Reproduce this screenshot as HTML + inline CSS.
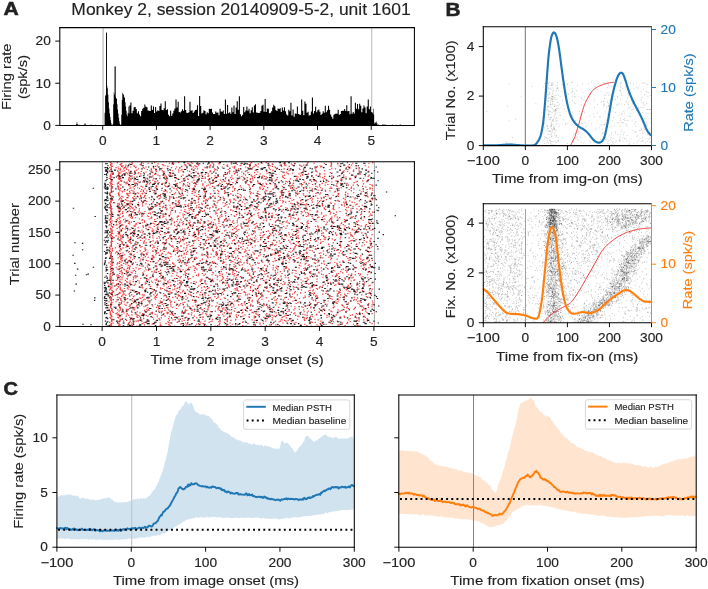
<!DOCTYPE html>
<html><head><meta charset="utf-8"><title>Figure</title>
<style>html,body{margin:0;padding:0;background:#fff;width:708px;height:589px;overflow:hidden}svg{display:block;font-family:"Liberation Sans",sans-serif;will-change:transform}text{stroke-width:0.13px}</style>
</head><body>
<svg width="708" height="589" viewBox="0 0 708 589" font-family="Liberation Sans, sans-serif" fill="#222222">
<rect x="0" y="0" width="708" height="589" fill="#fff"/>
<line x1="103.1" y1="27.6" x2="103.1" y2="125.4" stroke="#c4c4c4" stroke-width="1.4"/>
<line x1="371.7" y1="27.6" x2="371.7" y2="125.4" stroke="#c4c4c4" stroke-width="1.2"/>
<path d="M69.16 125.4L69.16 125.4 L69.69 125.4L69.69 125.4 L70.23 125.4L70.23 125.4 L70.77 125.4L70.77 125.4 L71.31 125.4L71.31 125.4 L71.84 125.4L71.84 125.4 L72.38 125.4L72.38 125.4 L72.92 125.4L72.92 125.4 L73.45 125.4L73.45 125.4 L73.99 125.4L73.99 125.4 L74.53 125.4L74.53 125.4 L75.06 125.4L75.06 125.4 L75.6 125.4L75.6 125.4 L76.14 125.4L76.14 123.92 L76.68 123.92L76.68 122.03 L77.21 122.03L77.21 124.14 L77.75 124.14L77.75 124.56 L78.29 124.56L78.29 125.4 L78.82 125.4L78.82 124.77 L79.36 124.77L79.36 125.4 L79.9 125.4L79.9 125.4 L80.43 125.4L80.43 125.4 L80.97 125.4L80.97 125.4 L81.51 125.4L81.51 125.4 L82.05 125.4L82.05 125.4 L82.58 125.4L82.58 125.4 L83.12 125.4L83.12 125.4 L83.66 125.4L83.66 125.4 L84.19 125.4L84.19 124.56 L84.73 124.56L84.73 123.08 L85.27 123.08L85.27 124.35 L85.8 124.35L85.8 125.4 L86.34 125.4L86.34 124.98 L86.88 124.98L86.88 125.4 L87.42 125.4L87.42 125.4 L87.95 125.4L87.95 125.4 L88.49 125.4L88.49 125.4 L89.03 125.4L89.03 125.4 L89.56 125.4L89.56 125.4 L90.1 125.4L90.1 124.77 L90.64 124.77L90.64 125.4 L91.17 125.4L91.17 124.56 L91.71 124.56L91.71 124.98 L92.25 124.98L92.25 125.4 L92.79 125.4L92.79 125.4 L93.32 125.4L93.32 125.4 L93.86 125.4L93.86 125.4 L94.4 125.4L94.4 124.89 L94.93 124.89L94.93 125.4 L95.47 125.4L95.47 124.64 L96.01 124.64L96.01 125.4 L96.54 125.4L96.54 125.4 L97.08 125.4L97.08 124.98 L97.62 124.98L97.62 125.4 L98.16 125.4L98.16 125.4 L98.69 125.4L98.69 125.4 L99.23 125.4L99.23 124.98 L99.77 124.98L99.77 125.4 L100.3 125.4L100.3 125.4 L100.84 125.4L100.84 125.4 L101.38 125.4L101.38 124.89 L101.91 124.89L101.91 125.4 L102.45 125.4L102.45 125.4 L102.99 125.4L102.99 125.4 L103.53 125.4L103.53 125.4 L104.06 125.4L104.06 125.4 L104.6 125.4L104.6 112.76 L105.14 112.76L105.14 95.05 L105.67 95.05L105.67 95.9 L106.21 95.9L106.21 32.67 L106.75 32.67L106.75 85.78 L107.28 85.78L107.28 88.31 L107.82 88.31L107.82 94.63 L108.36 94.63L108.36 102.22 L108.9 102.22L108.9 108.54 L109.43 108.54L109.43 113.6 L109.97 113.6L109.97 116.97 L110.51 116.97L110.51 120.34 L111.04 120.34L111.04 123.29 L111.58 123.29L111.58 124.98 L112.12 124.98L112.12 125.4 L112.65 125.4L112.65 123.71 L113.19 123.71L113.19 104.33 L113.73 104.33L113.73 92.52 L114.27 92.52L114.27 94.63 L114.8 94.63L114.8 66.39 L115.34 66.39L115.34 96.74 L115.88 96.74L115.88 98 L116.41 98L116.41 98.85 L116.95 98.85L116.95 104.33 L117.49 104.33L117.49 109.38 L118.02 109.38L118.02 113.6 L118.56 113.6L118.56 117.81 L119.1 117.81L119.1 121.19 L119.64 121.19L119.64 123.71 L120.17 123.71L120.17 124.98 L120.71 124.98L120.71 124.56 L121.25 124.56L121.25 114.86 L121.78 114.86L121.78 100.11 L122.32 100.11L122.32 92.94 L122.86 92.94L122.86 93.79 L123.39 93.79L123.39 95.05 L123.93 95.05L123.93 96.74 L124.47 96.74L124.47 98 L125.01 98L125.01 102.22 L125.54 102.22L125.54 106.43 L126.08 106.43L126.08 110.65 L126.62 110.65L126.62 114.44 L127.15 114.44L127.15 116.13 L127.69 116.13L127.69 112.76 L128.23 112.76L128.23 106.43 L128.76 106.43L128.76 113.5 L129.3 113.5L129.3 105.49 L129.84 105.49L129.84 105.49 L130.38 105.49L130.38 102.53 L130.91 102.53L130.91 102.53 L131.45 102.53L131.45 113.23 L131.99 113.23L131.99 113.23 L132.52 113.23L132.52 110.71 L133.06 110.71L133.06 110.71 L133.6 110.71L133.6 107.34 L134.13 107.34L134.13 107.34 L134.67 107.34L134.67 106.96 L135.21 106.96L135.21 106.96 L135.75 106.96L135.75 109.04 L136.28 109.04L136.28 109.04 L136.82 109.04L136.82 113.33 L137.36 113.33L137.36 113.33 L137.89 113.33L137.89 111.33 L138.43 111.33L138.43 111.33 L138.97 111.33L138.97 114.6 L139.5 114.6L139.5 114.6 L140.04 114.6L140.04 116.32 L140.58 116.32L140.58 116.32 L141.12 116.32L141.12 110.94 L141.65 110.94L141.65 110.94 L142.19 110.94L142.19 108.78 L142.73 108.78L142.73 108.78 L143.26 108.78L143.26 107.75 L143.8 107.75L143.8 107.75 L144.34 107.75L144.34 104.57 L144.87 104.57L144.87 104.57 L145.41 104.57L145.41 106.69 L145.95 106.69L145.95 106.69 L146.49 106.69L146.49 107.22 L147.02 107.22L147.02 107.22 L147.56 107.22L147.56 110.62 L148.1 110.62L148.1 110.62 L148.63 110.62L148.63 110.64 L149.17 110.64L149.17 110.64 L149.71 110.64L149.71 111.06 L150.24 111.06L150.24 111.06 L150.78 111.06L150.78 105.38 L151.32 105.38L151.32 105.38 L151.86 105.38L151.86 110.06 L152.39 110.06L152.39 110.06 L152.93 110.06L152.93 106.49 L153.47 106.49L153.47 106.49 L154 106.49L154 113.06 L154.54 113.06L154.54 113.06 L155.08 113.06L155.08 107.05 L155.61 107.05L155.61 107.05 L156.15 107.05L156.15 111.53 L156.69 111.53L156.69 111.53 L157.23 111.53L157.23 110.28 L157.76 110.28L157.76 110.28 L158.3 110.28L158.3 110.9 L158.84 110.9L158.84 110.9 L159.37 110.9L159.37 105.94 L159.91 105.94L159.91 105.94 L160.45 105.94L160.45 103.39 L160.98 103.39L160.98 103.39 L161.52 103.39L161.52 109.96 L162.06 109.96L162.06 109.96 L162.6 109.96L162.6 110.26 L163.13 110.26L163.13 110.26 L163.67 110.26L163.67 108.16 L164.21 108.16L164.21 108.16 L164.74 108.16L164.74 101.2 L165.28 101.2L165.28 101.2 L165.82 101.2L165.82 109.9 L166.35 109.9L166.35 109.9 L166.89 109.9L166.89 109.28 L167.43 109.28L167.43 109.28 L167.97 109.28L167.97 114.86 L168.5 114.86L168.5 114.86 L169.04 114.86L169.04 116.35 L169.58 116.35L169.58 116.35 L170.11 116.35L170.11 110.86 L170.65 110.86L170.65 110.86 L171.19 110.86L171.19 115.74 L171.72 115.74L171.72 115.74 L172.26 115.74L172.26 113.59 L172.8 113.59L172.8 113.59 L173.34 113.59L173.34 110.7 L173.87 110.7L173.87 110.7 L174.41 110.7L174.41 108.51 L174.95 108.51L174.95 108.51 L175.48 108.51L175.48 99.38 L176.02 99.38L176.02 99.38 L176.56 99.38L176.56 107.4 L177.09 107.4L177.09 107.4 L177.63 107.4L177.63 101.81 L178.17 101.81L178.17 101.81 L178.71 101.81L178.71 111.98 L179.24 111.98L179.24 111.98 L179.78 111.98L179.78 112.58 L180.32 112.58L180.32 112.58 L180.85 112.58L180.85 111.29 L181.39 111.29L181.39 111.29 L181.93 111.29L181.93 109.37 L182.46 109.37L182.46 109.37 L183 109.37L183 110.84 L183.54 110.84L183.54 110.84 L184.08 110.84L184.08 96.35 L184.61 96.35L184.61 96.35 L185.15 96.35L185.15 110.08 L185.69 110.08L185.69 110.08 L186.22 110.08L186.22 112.86 L186.76 112.86L186.76 112.86 L187.3 112.86L187.3 113.03 L187.83 113.03L187.83 113.03 L188.37 113.03L188.37 112.22 L188.91 112.22L188.91 112.22 L189.45 112.22L189.45 101.82 L189.98 101.82L189.98 101.82 L190.52 101.82L190.52 110.65 L191.06 110.65L191.06 110.65 L191.59 110.65L191.59 110.29 L192.13 110.29L192.13 110.29 L192.67 110.29L192.67 112.9 L193.2 112.9L193.2 112.9 L193.74 112.9L193.74 111.45 L194.28 111.45L194.28 111.45 L194.82 111.45L194.82 110.02 L195.35 110.02L195.35 110.02 L195.89 110.02L195.89 109.87 L196.43 109.87L196.43 109.87 L196.96 109.87L196.96 105.16 L197.5 105.16L197.5 105.16 L198.04 105.16L198.04 116.06 L198.57 116.06L198.57 116.06 L199.11 116.06L199.11 95.88 L199.65 95.88L199.65 95.88 L200.19 95.88L200.19 106.1 L200.72 106.1L200.72 106.1 L201.26 106.1L201.26 113.5 L201.8 113.5L201.8 113.5 L202.33 113.5L202.33 112.73 L202.87 112.73L202.87 112.73 L203.41 112.73L203.41 110.34 L203.94 110.34L203.94 110.34 L204.48 110.34L204.48 110.89 L205.02 110.89L205.02 110.89 L205.56 110.89L205.56 114.26 L206.09 114.26L206.09 114.26 L206.63 114.26L206.63 112.15 L207.17 112.15L207.17 112.15 L207.7 112.15L207.7 113.26 L208.24 113.26L208.24 113.26 L208.78 113.26L208.78 108.77 L209.31 108.77L209.31 108.77 L209.85 108.77L209.85 108.99 L210.39 108.99L210.39 108.99 L210.93 108.99L210.93 108.74 L211.46 108.74L211.46 108.74 L212 108.74L212 112.53 L212.54 112.53L212.54 112.53 L213.07 112.53L213.07 113.98 L213.61 113.98L213.61 113.98 L214.15 113.98L214.15 114.01 L214.68 114.01L214.68 114.01 L215.22 114.01L215.22 111.54 L215.76 111.54L215.76 111.54 L216.3 111.54L216.3 112.83 L216.83 112.83L216.83 112.83 L217.37 112.83L217.37 112.55 L217.91 112.55L217.91 112.55 L218.44 112.55L218.44 115.37 L218.98 115.37L218.98 115.37 L219.52 115.37L219.52 108.75 L220.05 108.75L220.05 108.75 L220.59 108.75L220.59 111.6 L221.13 111.6L221.13 111.6 L221.67 111.6L221.67 111.64 L222.2 111.64L222.2 111.64 L222.74 111.64L222.74 110.51 L223.28 110.51L223.28 110.51 L223.81 110.51L223.81 114.01 L224.35 114.01L224.35 114.01 L224.89 114.01L224.89 99.6 L225.42 99.6L225.42 99.6 L225.96 99.6L225.96 113.67 L226.5 113.67L226.5 113.67 L227.04 113.67L227.04 104.91 L227.57 104.91L227.57 104.91 L228.11 104.91L228.11 113.2 L228.65 113.2L228.65 113.2 L229.18 113.2L229.18 112.32 L229.72 112.32L229.72 112.32 L230.26 112.32L230.26 113.85 L230.79 113.85L230.79 113.85 L231.33 113.85L231.33 107.44 L231.87 107.44L231.87 107.44 L232.41 107.44L232.41 112.37 L232.94 112.37L232.94 112.37 L233.48 112.37L233.48 105.51 L234.02 105.51L234.02 105.51 L234.55 105.51L234.55 114.09 L235.09 114.09L235.09 114.09 L235.63 114.09L235.63 107.51 L236.16 107.51L236.16 107.51 L236.7 107.51L236.7 101.2 L237.24 101.2L237.24 101.2 L237.78 101.2L237.78 109.75 L238.31 109.75L238.31 109.75 L238.85 109.75L238.85 96.16 L239.39 96.16L239.39 96.16 L239.92 96.16L239.92 114.15 L240.46 114.15L240.46 114.15 L241 114.15L241 116.3 L241.53 116.3L241.53 116.3 L242.07 116.3L242.07 114.79 L242.61 114.79L242.61 114.79 L243.15 114.79L243.15 107 L243.68 107L243.68 107 L244.22 107L244.22 112.31 L244.76 112.31L244.76 112.31 L245.29 112.31L245.29 110.53 L245.83 110.53L245.83 110.53 L246.37 110.53L246.37 106.38 L246.9 106.38L246.9 106.38 L247.44 106.38L247.44 110.83 L247.98 110.83L247.98 110.83 L248.52 110.83L248.52 108.64 L249.05 108.64L249.05 108.64 L249.59 108.64L249.59 113.36 L250.13 113.36L250.13 113.36 L250.66 113.36L250.66 110.36 L251.2 110.36L251.2 110.36 L251.74 110.36L251.74 107.16 L252.27 107.16L252.27 107.16 L252.81 107.16L252.81 112.62 L253.35 112.62L253.35 112.62 L253.89 112.62L253.89 105.45 L254.42 105.45L254.42 105.45 L254.96 105.45L254.96 104.13 L255.5 104.13L255.5 104.13 L256.03 104.13L256.03 112.47 L256.57 112.47L256.57 112.47 L257.11 112.47L257.11 112.65 L257.64 112.65L257.64 112.65 L258.18 112.65L258.18 112.89 L258.72 112.89L258.72 112.89 L259.26 112.89L259.26 112.85 L259.79 112.85L259.79 112.85 L260.33 112.85L260.33 111.05 L260.87 111.05L260.87 111.05 L261.4 111.05L261.4 105.7 L261.94 105.7L261.94 105.7 L262.48 105.7L262.48 104.75 L263.01 104.75L263.01 104.75 L263.55 104.75L263.55 111.66 L264.09 111.66L264.09 111.66 L264.63 111.66L264.63 98.95 L265.16 98.95L265.16 98.95 L265.7 98.95L265.7 111.95 L266.24 111.95L266.24 111.95 L266.77 111.95L266.77 108.57 L267.31 108.57L267.31 108.57 L267.85 108.57L267.85 108.76 L268.38 108.76L268.38 108.76 L268.92 108.76L268.92 113.35 L269.46 113.35L269.46 113.35 L270 113.35L270 112.79 L270.53 112.79L270.53 112.79 L271.07 112.79L271.07 111.37 L271.61 111.37L271.61 111.37 L272.14 111.37L272.14 107.38 L272.68 107.38L272.68 107.38 L273.22 107.38L273.22 104.71 L273.75 104.71L273.75 104.71 L274.29 104.71L274.29 106.33 L274.83 106.33L274.83 106.33 L275.37 106.33L275.37 110.06 L275.9 110.06L275.9 110.06 L276.44 110.06L276.44 110.97 L276.98 110.97L276.98 110.97 L277.51 110.97L277.51 108.6 L278.05 108.6L278.05 108.6 L278.59 108.6L278.59 108.94 L279.12 108.94L279.12 108.94 L279.66 108.94L279.66 108.31 L280.2 108.31L280.2 108.31 L280.74 108.31L280.74 111.91 L281.27 111.91L281.27 111.91 L281.81 111.91L281.81 107.58 L282.35 107.58L282.35 107.58 L282.88 107.58L282.88 110.55 L283.42 110.55L283.42 110.55 L283.96 110.55L283.96 107.19 L284.49 107.19L284.49 107.19 L285.03 107.19L285.03 111.17 L285.57 111.17L285.57 111.17 L286.11 111.17L286.11 114.5 L286.64 114.5L286.64 114.5 L287.18 114.5L287.18 115.52 L287.72 115.52L287.72 115.52 L288.25 115.52L288.25 109.75 L288.79 109.75L288.79 109.75 L289.33 109.75L289.33 111.37 L289.86 111.37L289.86 111.37 L290.4 111.37L290.4 102.85 L290.94 102.85L290.94 102.85 L291.48 102.85L291.48 115.45 L292.01 115.45L292.01 115.45 L292.55 115.45L292.55 109.43 L293.09 109.43L293.09 109.43 L293.62 109.43L293.62 116.85 L294.16 116.85L294.16 116.85 L294.7 116.85L294.7 113.49 L295.23 113.49L295.23 113.49 L295.77 113.49L295.77 113.7 L296.31 113.7L296.31 113.7 L296.85 113.7L296.85 106.44 L297.38 106.44L297.38 106.44 L297.92 106.44L297.92 114.03 L298.46 114.03L298.46 114.03 L298.99 114.03L298.99 114.61 L299.53 114.61L299.53 114.61 L300.07 114.61L300.07 114.65 L300.6 114.65L300.6 114.65 L301.14 114.65L301.14 99.62 L301.68 99.62L301.68 99.62 L302.22 99.62L302.22 110.8 L302.75 110.8L302.75 110.8 L303.29 110.8L303.29 115.14 L303.83 115.14L303.83 115.14 L304.36 115.14L304.36 101.4 L304.9 101.4L304.9 101.4 L305.44 101.4L305.44 103.67 L305.97 103.67L305.97 103.67 L306.51 103.67L306.51 112.7 L307.05 112.7L307.05 112.7 L307.59 112.7L307.59 111.63 L308.12 111.63L308.12 111.63 L308.66 111.63L308.66 115.44 L309.2 115.44L309.2 115.44 L309.73 115.44L309.73 114.91 L310.27 114.91L310.27 114.91 L310.81 114.91L310.81 111.5 L311.34 111.5L311.34 111.5 L311.88 111.5L311.88 97.5 L312.42 97.5L312.42 97.5 L312.96 97.5L312.96 113.46 L313.49 113.46L313.49 113.46 L314.03 113.46L314.03 110.92 L314.57 110.92L314.57 110.92 L315.1 110.92L315.1 106.85 L315.64 106.85L315.64 106.85 L316.18 106.85L316.18 112.15 L316.71 112.15L316.71 112.15 L317.25 112.15L317.25 110.37 L317.79 110.37L317.79 110.37 L318.33 110.37L318.33 109.44 L318.86 109.44L318.86 109.44 L319.4 109.44L319.4 111.81 L319.94 111.81L319.94 111.81 L320.47 111.81L320.47 114.93 L321.01 114.93L321.01 114.93 L321.55 114.93L321.55 113.73 L322.08 113.73L322.08 113.73 L322.62 113.73L322.62 111.3 L323.16 111.3L323.16 111.3 L323.7 111.3L323.7 112.68 L324.23 112.68L324.23 112.68 L324.77 112.68L324.77 105.83 L325.31 105.83L325.31 105.83 L325.84 105.83L325.84 112.2 L326.38 112.2L326.38 112.2 L326.92 112.2L326.92 110.19 L327.45 110.19L327.45 110.19 L327.99 110.19L327.99 105.75 L328.53 105.75L328.53 105.75 L329.07 105.75L329.07 109.8 L329.6 109.8L329.6 109.8 L330.14 109.8L330.14 114.43 L330.68 114.43L330.68 114.43 L331.21 114.43L331.21 116.73 L331.75 116.73L331.75 116.73 L332.29 116.73L332.29 118.66 L332.82 118.66L332.82 118.66 L333.36 118.66L333.36 114.76 L333.9 114.76L333.9 114.76 L334.44 114.76L334.44 114.1 L334.97 114.1L334.97 114.1 L335.51 114.1L335.51 113.4 L336.05 113.4L336.05 113.4 L336.58 113.4L336.58 113.85 L337.12 113.85L337.12 113.85 L337.66 113.85L337.66 109.69 L338.19 109.69L338.19 109.69 L338.73 109.69L338.73 114.77 L339.27 114.77L339.27 114.77 L339.81 114.77L339.81 114.02 L340.34 114.02L340.34 114.02 L340.88 114.02L340.88 111.02 L341.42 111.02L341.42 111.02 L341.95 111.02L341.95 110.77 L342.49 110.77L342.49 110.77 L343.03 110.77L343.03 110.73 L343.56 110.73L343.56 110.73 L344.1 110.73L344.1 109.08 L344.64 109.08L344.64 109.08 L345.18 109.08L345.18 111.07 L345.71 111.07L345.71 111.07 L346.25 111.07L346.25 105.31 L346.79 105.31L346.79 105.31 L347.32 105.31L347.32 111.26 L347.86 111.26L347.86 111.26 L348.4 111.26L348.4 110.93 L348.93 110.93L348.93 110.93 L349.47 110.93L349.47 114.18 L350.01 114.18L350.01 114.18 L350.55 114.18L350.55 96.16 L351.08 96.16L351.08 96.16 L351.62 96.16L351.62 113.74 L352.16 113.74L352.16 113.74 L352.69 113.74L352.69 112.12 L353.23 112.12L353.23 112.12 L353.77 112.12L353.77 113.61 L354.3 113.61L354.3 113.61 L354.84 113.61L354.84 102.77 L355.38 102.77L355.38 102.77 L355.92 102.77L355.92 108.7 L356.45 108.7L356.45 108.7 L356.99 108.7L356.99 103.9 L357.53 103.9L357.53 103.9 L358.06 103.9L358.06 109.25 L358.6 109.25L358.6 109.25 L359.14 109.25L359.14 103.81 L359.67 103.81L359.67 103.81 L360.21 103.81L360.21 105.76 L360.75 105.76L360.75 105.76 L361.29 105.76L361.29 112.23 L361.82 112.23L361.82 112.23 L362.36 112.23L362.36 108.55 L362.9 108.55L362.9 108.55 L363.43 108.55L363.43 105.52 L363.97 105.52L363.97 105.52 L364.51 105.52L364.51 107.52 L365.04 107.52L365.04 107.52 L365.58 107.52L365.58 113.2 L366.12 113.2L366.12 113.2 L366.66 113.2L366.66 106.47 L367.19 106.47L367.19 106.47 L367.73 106.47L367.73 99.48 L368.27 99.48L368.27 99.48 L368.8 99.48L368.8 109.25 L369.34 109.25L369.34 109.25 L369.88 109.25L369.88 106.61 L370.41 106.61L370.41 106.61 L370.95 106.61L370.95 112.14 L371.49 112.14L371.49 112.01 L372.03 112.01L372.03 112.23 L372.56 112.23L372.56 113.35 L373.1 113.35L373.1 108.84 L373.64 108.84L373.64 114.43 L374.17 114.43L374.17 123.87 L374.71 123.87L374.71 122.32 L375.25 122.32L375.25 122.57 L375.78 122.57L375.78 123.62 L376.32 123.62L376.32 121.4 L376.86 121.4L376.86 123.18 L377.4 123.18L377.4 125.4 L377.93 125.4L377.93 124.23 L378.47 124.23L378.47 125.4 L379.01 125.4L379.01 125.4 L379.54 125.4L379.54 125.4 L380.08 125.4L380.08 125.4 L380.62 125.4L380.62 125.4 L381.15 125.4L381.15 125.4 L381.69 125.4L381.69 125.4 L382.23 125.4L382.23 124.6 L382.77 124.6L382.77 124.17 L383.3 124.17L383.3 124.7 L383.84 124.7L383.84 125.4 L384.38 125.4L384.38 124.56 L384.91 124.56L384.91 124.22 L385.45 124.22L385.45 125.4 L385.99 125.4L385.99 125.4 L386.52 125.4L386.52 125.4 L387.06 125.4L387.06 125.4 L387.6 125.4L387.6 125.4 L388.14 125.4L388.14 125.4 L388.67 125.4L388.67 125.4 L389.21 125.4L389.21 125.4 L389.75 125.4L389.75 125.4 L390.28 125.4L390.28 125.4 L390.82 125.4L390.82 125.4 L391.36 125.4L391.36 125.4 L391.89 125.4L391.89 124.25 L392.43 124.25L392.43 125.4 L392.97 125.4L392.97 125.4 L393.51 125.4L393.51 125.4 L394.04 125.4L394.04 125.4 L394.58 125.4L394.58 125.4 L395.12 125.4L395.12 125.4 L395.65 125.4L395.65 125.4 L396.19 125.4L396.19 124.69 L396.73 124.69L396.73 125.4 L397.26 125.4L397.26 125.4 L397.8 125.4L397.8 125.4 L398.34 125.4L398.34 125.4 L398.88 125.4L398.88 124.73 L399.41 124.73L399.41 125.4 L399.95 125.4L399.95 124.2 L400.49 124.2L400.49 125.4 L401.02 125.4L401.02 125.4 Z" fill="#000" stroke="none"/>
<line x1="106.5" y1="125.4" x2="106.5" y2="32.67" stroke="#000" stroke-width="0.85"/>
<line x1="115.15" y1="125.4" x2="115.15" y2="66.39" stroke="#000" stroke-width="0.85"/>
<line x1="102.4" y1="161.7" x2="102.4" y2="326.4" stroke="#a8a8a8" stroke-width="1"/>
<line x1="374.4" y1="161.7" x2="374.4" y2="326.4" stroke="#a8a8a8" stroke-width="1"/>
<path d="M111 326.1h1.3M118.3 326.1h1.3M122.7 326.1h1.3M130.2 326.1h1.3M136.3 326.1h1.3M148.4 326.1h1.3M159.2 326.1h1.3M174.2 326.1h1.3M185.1 326.1h1.3M206 326.1h1.3M214.6 326.1h1.3M229.9 326.1h1.3M236.6 326.1h1.3M245.5 326.1h1.3M260.6 326.1h1.3M270.4 326.1h1.3M292 326.1h1.3M310.4 326.1h1.3M317.7 326.1h1.3M338.6 326.1h1.3M357.7 326.1h1.3M109.3 325.5h1.3M118.2 325.5h1.3M131.8 325.5h1.3M160.2 325.5h1.3M169.4 325.5h1.3M194.9 325.5h1.3M203.7 325.5h1.3M216.9 325.5h1.3M226 325.5h1.3M242.1 325.5h1.3M254.7 325.5h1.3M265.8 325.5h1.3M279 325.5h1.3M306.3 325.5h1.3M344.5 325.5h1.3M357.2 325.5h1.3M110.5 324.8h1.3M119.4 324.8h1.3M127 324.8h1.3M130.6 324.8h1.3M143.8 324.8h1.3M159.8 324.8h1.3M168.2 324.8h1.3M186.2 324.8h1.3M218.5 324.8h1.3M235 324.8h1.3M253.2 324.8h1.3M269.1 324.8h1.3M275.2 324.8h1.3M300.2 324.8h1.3M316.4 324.8h1.3M337.5 324.8h1.3M356.2 324.8h1.3M109.6 324.2h1.3M118.6 324.2h1.3M132.8 324.2h1.3M151.4 324.2h1.3M168.4 324.2h1.3M180.2 324.2h1.3M183.2 324.2h1.3M190.5 324.2h1.3M196.1 324.2h1.3M203.9 324.2h1.3M231.8 324.2h1.3M254.8 324.2h1.3M259.3 324.2h1.3M277.2 324.2h1.3M294.4 324.2h1.3M304 324.2h1.3M325.4 324.2h1.3M339.5 324.2h1.3M352.9 324.2h1.3M110.9 323.6h1.3M118.2 323.6h1.3M127.8 323.6h1.3M132.5 323.6h1.3M141.6 323.6h1.3M152.3 323.6h1.3M165.5 323.6h1.3M180.7 323.6h1.3M187 323.6h1.3M198 323.6h1.3M202.5 323.6h1.3M219.1 323.6h1.3M247.3 323.6h1.3M262.8 323.6h1.3M272.4 323.6h1.3M286.9 323.6h1.3M309.2 323.6h1.3M319.6 323.6h1.3M321.9 323.6h1.3M331.7 323.6h1.3M346.4 323.6h1.3M371.5 323.6h1.3M112.4 323h1.3M123.2 323h1.3M128.1 323h1.3M131.1 323h1.3M143 323h1.3M154.4 323h1.3M159.5 323h1.3M169.4 323h1.3M185.1 323h1.3M200.2 323h1.3M219.2 323h1.3M229.4 323h1.3M259.3 323h1.3M282.2 323h1.3M293.3 323h1.3M309.4 323h1.3M330.2 323h1.3M341.8 323h1.3M109.1 322.3h1.3M117 322.3h1.3M128.8 322.3h1.3M133 322.3h1.3M145.8 322.3h1.3M168.1 322.3h1.3M176.6 322.3h1.3M187.1 322.3h1.3M208.5 322.3h1.3M223.8 322.3h1.3M241.9 322.3h1.3M255.8 322.3h1.3M295.3 322.3h1.3M311.6 322.3h1.3M314.7 322.3h1.3M346.8 322.3h1.3M369.3 322.3h1.3M110.9 321.7h1.3M117.5 321.7h1.3M129.6 321.7h1.3M137.5 321.7h1.3M146.2 321.7h1.3M167.2 321.7h1.3M177.4 321.7h1.3M199.2 321.7h1.3M210.3 321.7h1.3M218 321.7h1.3M226.7 321.7h1.3M242.6 321.7h1.3M262.7 321.7h1.3M278.5 321.7h1.3M291.3 321.7h1.3M310.3 321.7h1.3M332.9 321.7h1.3M339.1 321.7h1.3M349.7 321.7h1.3M355.6 321.7h1.3M111.2 321.1h1.3M117 321.1h1.3M122.9 321.1h1.3M135.5 321.1h1.3M141.1 321.1h1.3M148.4 321.1h1.3M155.3 321.1h1.3M181.4 321.1h1.3M204.3 321.1h1.3M211.5 321.1h1.3M219.4 321.1h1.3M226.5 321.1h1.3M244.7 321.1h1.3M265.2 321.1h1.3M274.8 321.1h1.3M279.8 321.1h1.3M285.4 321.1h1.3M290.6 321.1h1.3M308.9 321.1h1.3M320.2 321.1h1.3M336.8 321.1h1.3M358.4 321.1h1.3M366.6 321.1h1.3M111.1 320.4h1.3M119.3 320.4h1.3M125.9 320.4h1.3M137.5 320.4h1.3M168.8 320.4h1.3M183.5 320.4h1.3M187 320.4h1.3M193.7 320.4h1.3M230.3 320.4h1.3M254.4 320.4h1.3M284 320.4h1.3M287.5 320.4h1.3M304 320.4h1.3M329.7 320.4h1.3M356.5 320.4h1.3M367.4 320.4h1.3M111 319.8h1.3M119.7 319.8h1.3M129.5 319.8h1.3M140.9 319.8h1.3M159.1 319.8h1.3M172.2 319.8h1.3M187.7 319.8h1.3M219.2 319.8h1.3M226.6 319.8h1.3M235 319.8h1.3M251.4 319.8h1.3M260.9 319.8h1.3M271.5 319.8h1.3M281.5 319.8h1.3M317.5 319.8h1.3M348.1 319.8h1.3M363.1 319.8h1.3M111.6 319.2h1.3M120.2 319.2h1.3M129.7 319.2h1.3M139.6 319.2h1.3M153 319.2h1.3M178.1 319.2h1.3M187.6 319.2h1.3M202.1 319.2h1.3M211.8 319.2h1.3M226.6 319.2h1.3M235.1 319.2h1.3M242.5 319.2h1.3M260.5 319.2h1.3M280.6 319.2h1.3M289.1 319.2h1.3M296.8 319.2h1.3M303.5 319.2h1.3M314.3 319.2h1.3M358.5 319.2h1.3M366.7 319.2h1.3M110.2 318.6h1.3M122.1 318.6h1.3M132.3 318.6h1.3M143 318.6h1.3M158.4 318.6h1.3M167.9 318.6h1.3M181.8 318.6h1.3M188.7 318.6h1.3M209.1 318.6h1.3M226.1 318.6h1.3M266.7 318.6h1.3M290.3 318.6h1.3M305.8 318.6h1.3M330.9 318.6h1.3M349.4 318.6h1.3M366.5 318.6h1.3M110.2 317.9h1.3M118.2 317.9h1.3M131 317.9h1.3M160.7 317.9h1.3M196.1 317.9h1.3M215.7 317.9h1.3M253.6 317.9h1.3M264.9 317.9h1.3M271.7 317.9h1.3M285.7 317.9h1.3M303.7 317.9h1.3M331.8 317.9h1.3M356.1 317.9h1.3M109.4 317.3h1.3M117.2 317.3h1.3M129.2 317.3h1.3M137.1 317.3h1.3M151.7 317.3h1.3M173.9 317.3h1.3M185.6 317.3h1.3M202.4 317.3h1.3M227.1 317.3h1.3M236.3 317.3h1.3M248.7 317.3h1.3M254.6 317.3h1.3M263.3 317.3h1.3M267.9 317.3h1.3M281.5 317.3h1.3M306.5 317.3h1.3M326.3 317.3h1.3M343.9 317.3h1.3M364.6 317.3h1.3M111.4 316.7h1.3M119.6 316.7h1.3M136.1 316.7h1.3M142.8 316.7h1.3M156.7 316.7h1.3M168.7 316.7h1.3M178.2 316.7h1.3M202.2 316.7h1.3M228.6 316.7h1.3M235.9 316.7h1.3M248.3 316.7h1.3M266.5 316.7h1.3M282.6 316.7h1.3M298.3 316.7h1.3M312 316.7h1.3M328.6 316.7h1.3M339.6 316.7h1.3M354.8 316.7h1.3M110.9 316.1h1.3M118.7 316.1h1.3M125.6 316.1h1.3M139.1 316.1h1.3M147.3 316.1h1.3M164.4 316.1h1.3M193.7 316.1h1.3M208.4 316.1h1.3M223.3 316.1h1.3M229.6 316.1h1.3M242.3 316.1h1.3M253.6 316.1h1.3M273.5 316.1h1.3M284.2 316.1h1.3M297.2 316.1h1.3M309.9 316.1h1.3M334.2 316.1h1.3M343.5 316.1h1.3M354.9 316.1h1.3M363.5 316.1h1.3M110.5 315.4h1.3M118.5 315.4h1.3M128 315.4h1.3M137.4 315.4h1.3M141.1 315.4h1.3M145.6 315.4h1.3M161.1 315.4h1.3M172.9 315.4h1.3M198.4 315.4h1.3M218.4 315.4h1.3M229.1 315.4h1.3M237.8 315.4h1.3M257.6 315.4h1.3M271.5 315.4h1.3M276 315.4h1.3M285.7 315.4h1.3M295 315.4h1.3M306.5 315.4h1.3M326.5 315.4h1.3M349.7 315.4h1.3M110.1 314.8h1.3M116.8 314.8h1.3M121.1 314.8h1.3M131.3 314.8h1.3M136.2 314.8h1.3M142.2 314.8h1.3M156.5 314.8h1.3M171.7 314.8h1.3M190.8 314.8h1.3M206.2 314.8h1.3M217.6 314.8h1.3M235.7 314.8h1.3M244.3 314.8h1.3M265.2 314.8h1.3M268.8 314.8h1.3M304.4 314.8h1.3M315.8 314.8h1.3M335.7 314.8h1.3M351.9 314.8h1.3M109.8 314.2h1.3M118 314.2h1.3M126.2 314.2h1.3M135.3 314.2h1.3M142.9 314.2h1.3M154.5 314.2h1.3M169.6 314.2h1.3M188.2 314.2h1.3M201.3 314.2h1.3M209.4 314.2h1.3M222.1 314.2h1.3M256.4 314.2h1.3M269.1 314.2h1.3M302.2 314.2h1.3M316.2 314.2h1.3M330.7 314.2h1.3M357 314.2h1.3M109.9 313.6h1.3M115.4 313.6h1.3M126.6 313.6h1.3M142.1 313.6h1.3M151.7 313.6h1.3M163.1 313.6h1.3M166.7 313.6h1.3M171.9 313.6h1.3M182.6 313.6h1.3M187.6 313.6h1.3M205.2 313.6h1.3M228.8 313.6h1.3M230.3 313.6h1.3M255.3 313.6h1.3M266.1 313.6h1.3M282.8 313.6h1.3M293.3 313.6h1.3M323.9 313.6h1.3M355.7 313.6h1.3M361.8 313.6h1.3M371.5 313.6h1.3M109.5 312.9h1.3M116.6 312.9h1.3M123.3 312.9h1.3M139.3 312.9h1.3M150.4 312.9h1.3M160.8 312.9h1.3M167.7 312.9h1.3M181 312.9h1.3M191.1 312.9h1.3M202.3 312.9h1.3M223.7 312.9h1.3M230.7 312.9h1.3M241.5 312.9h1.3M252.5 312.9h1.3M275.4 312.9h1.3M282.9 312.9h1.3M294.2 312.9h1.3M306.7 312.9h1.3M336.6 312.9h1.3M366.5 312.9h1.3M112.5 312.3h1.3M121.3 312.3h1.3M131.3 312.3h1.3M145.4 312.3h1.3M151.7 312.3h1.3M166.4 312.3h1.3M182.1 312.3h1.3M198.9 312.3h1.3M220.1 312.3h1.3M227.1 312.3h1.3M236.5 312.3h1.3M242.2 312.3h1.3M251.5 312.3h1.3M282.8 312.3h1.3M290.7 312.3h1.3M300.2 312.3h1.3M318.5 312.3h1.3M336.9 312.3h1.3M359 312.3h1.3M109.6 311.7h1.3M118.4 311.7h1.3M125.6 311.7h1.3M136.7 311.7h1.3M144.7 311.7h1.3M160.5 311.7h1.3M170.2 311.7h1.3M183.9 311.7h1.3M209.8 311.7h1.3M226.1 311.7h1.3M238.2 311.7h1.3M257.4 311.7h1.3M271.9 311.7h1.3M286.6 311.7h1.3M303.6 311.7h1.3M318.5 311.7h1.3M331.3 311.7h1.3M344.9 311.7h1.3M365.2 311.7h1.3M111.7 311.1h1.3M121.7 311.1h1.3M131 311.1h1.3M146.5 311.1h1.3M158.1 311.1h1.3M161.6 311.1h1.3M184.8 311.1h1.3M193.7 311.1h1.3M214.7 311.1h1.3M233.6 311.1h1.3M246.4 311.1h1.3M269.4 311.1h1.3M281.1 311.1h1.3M288.4 311.1h1.3M307.6 311.1h1.3M321.5 311.1h1.3M330.4 311.1h1.3M339.3 311.1h1.3M346.1 311.1h1.3M110.8 310.4h1.3M119.3 310.4h1.3M125.7 310.4h1.3M144 310.4h1.3M148.4 310.4h1.3M164.3 310.4h1.3M186.2 310.4h1.3M191.3 310.4h1.3M219.1 310.4h1.3M225.3 310.4h1.3M249.5 310.4h1.3M261.1 310.4h1.3M277.5 310.4h1.3M313.9 310.4h1.3M341.2 310.4h1.3M361.9 310.4h1.3M108.6 309.8h1.3M117.3 309.8h1.3M127.2 309.8h1.3M133.9 309.8h1.3M147.5 309.8h1.3M168 309.8h1.3M184.6 309.8h1.3M191.5 309.8h1.3M202 309.8h1.3M207.3 309.8h1.3M217.5 309.8h1.3M224.5 309.8h1.3M229 309.8h1.3M241.5 309.8h1.3M250.8 309.8h1.3M256.3 309.8h1.3M271.7 309.8h1.3M293.3 309.8h1.3M303.1 309.8h1.3M328.5 309.8h1.3M337.4 309.8h1.3M361.8 309.8h1.3M365.1 309.8h1.3M111.6 309.2h1.3M120.1 309.2h1.3M126.1 309.2h1.3M127.8 309.2h1.3M132.5 309.2h1.3M145.9 309.2h1.3M157.5 309.2h1.3M190 309.2h1.3M200.9 309.2h1.3M206.8 309.2h1.3M222.3 309.2h1.3M244.4 309.2h1.3M268.8 309.2h1.3M271.4 309.2h1.3M285.3 309.2h1.3M298.8 309.2h1.3M319.2 309.2h1.3M323.9 309.2h1.3M353.1 309.2h1.3M363.6 309.2h1.3M371.2 309.2h1.3M111 308.5h1.3M120.1 308.5h1.3M129 308.5h1.3M164 308.5h1.3M175.9 308.5h1.3M199.1 308.5h1.3M203.8 308.5h1.3M217.4 308.5h1.3M221.9 308.5h1.3M234.5 308.5h1.3M246.5 308.5h1.3M270.4 308.5h1.3M294.4 308.5h1.3M306.7 308.5h1.3M318.6 308.5h1.3M347.8 308.5h1.3M353.9 308.5h1.3M109.7 307.9h1.3M119 307.9h1.3M134 307.9h1.3M147.3 307.9h1.3M158 307.9h1.3M167.2 307.9h1.3M183 307.9h1.3M207.8 307.9h1.3M218 307.9h1.3M223.3 307.9h1.3M267.4 307.9h1.3M286.9 307.9h1.3M310.2 307.9h1.3M332.6 307.9h1.3M346.2 307.9h1.3M362.9 307.9h1.3M110.1 307.3h1.3M119.6 307.3h1.3M132 307.3h1.3M155.9 307.3h1.3M166.3 307.3h1.3M172.2 307.3h1.3M189.4 307.3h1.3M196.8 307.3h1.3M225.6 307.3h1.3M231.2 307.3h1.3M246 307.3h1.3M260.9 307.3h1.3M277.9 307.3h1.3M302.4 307.3h1.3M321 307.3h1.3M332.8 307.3h1.3M343.6 307.3h1.3M354.7 307.3h1.3M367.8 307.3h1.3M110.2 306.7h1.3M119.1 306.7h1.3M128.6 306.7h1.3M136.3 306.7h1.3M143.3 306.7h1.3M157.5 306.7h1.3M170.5 306.7h1.3M183.6 306.7h1.3M188.6 306.7h1.3M196.1 306.7h1.3M214.9 306.7h1.3M257.3 306.7h1.3M267 306.7h1.3M294.2 306.7h1.3M301 306.7h1.3M310.3 306.7h1.3M333.9 306.7h1.3M346.7 306.7h1.3M361.4 306.7h1.3M371.4 306.7h1.3M110.3 306h1.3M118 306h1.3M129.7 306h1.3M138.9 306h1.3M152 306h1.3M163 306h1.3M178.1 306h1.3M192.3 306h1.3M196.7 306h1.3M211.3 306h1.3M216.1 306h1.3M233.3 306h1.3M249.8 306h1.3M262.6 306h1.3M290.6 306h1.3M305.4 306h1.3M323.3 306h1.3M342.6 306h1.3M361.9 306h1.3M108 305.4h1.3M118.5 305.4h1.3M125.4 305.4h1.3M136.2 305.4h1.3M146.3 305.4h1.3M157 305.4h1.3M175.8 305.4h1.3M199.6 305.4h1.3M208.8 305.4h1.3M229.5 305.4h1.3M241.7 305.4h1.3M250.1 305.4h1.3M265.8 305.4h1.3M268.9 305.4h1.3M286.8 305.4h1.3M307.1 305.4h1.3M315 305.4h1.3M341.9 305.4h1.3M367.4 305.4h1.3M110.3 304.8h1.3M118.6 304.8h1.3M129.3 304.8h1.3M141.1 304.8h1.3M147.1 304.8h1.3M170.1 304.8h1.3M179.2 304.8h1.3M195.1 304.8h1.3M198.4 304.8h1.3M205 304.8h1.3M221.6 304.8h1.3M227.5 304.8h1.3M237.9 304.8h1.3M244.6 304.8h1.3M263.7 304.8h1.3M275.1 304.8h1.3M314.1 304.8h1.3M332.9 304.8h1.3M341.3 304.8h1.3M371.5 304.8h1.3M111.1 304.2h1.3M119.8 304.2h1.3M124.1 304.2h1.3M130.7 304.2h1.3M138 304.2h1.3M154.5 304.2h1.3M161.7 304.2h1.3M186.7 304.2h1.3M201.3 304.2h1.3M208.9 304.2h1.3M218.6 304.2h1.3M232.9 304.2h1.3M240.4 304.2h1.3M250.2 304.2h1.3M262.8 304.2h1.3M279.2 304.2h1.3M286 304.2h1.3M302.9 304.2h1.3M316.6 304.2h1.3M326.6 304.2h1.3M345.8 304.2h1.3M358.7 304.2h1.3M110.3 303.5h1.3M120.6 303.5h1.3M131 303.5h1.3M141 303.5h1.3M158.6 303.5h1.3M163.4 303.5h1.3M180.1 303.5h1.3M208.1 303.5h1.3M222.9 303.5h1.3M231.3 303.5h1.3M241 303.5h1.3M245.8 303.5h1.3M257 303.5h1.3M263.1 303.5h1.3M284.2 303.5h1.3M295.5 303.5h1.3M310.2 303.5h1.3M336.5 303.5h1.3M357.4 303.5h1.3M368.1 303.5h1.3M110.6 302.9h1.3M118.7 302.9h1.3M126.5 302.9h1.3M135.7 302.9h1.3M149.1 302.9h1.3M159.9 302.9h1.3M170 302.9h1.3M182.4 302.9h1.3M204.4 302.9h1.3M216.7 302.9h1.3M227.4 302.9h1.3M243.7 302.9h1.3M257.4 302.9h1.3M276 302.9h1.3M285 302.9h1.3M316.7 302.9h1.3M335.6 302.9h1.3M347.8 302.9h1.3M372.1 302.9h1.3M111.4 302.3h1.3M120.6 302.3h1.3M127.1 302.3h1.3M140.9 302.3h1.3M159.7 302.3h1.3M174 302.3h1.3M184.2 302.3h1.3M194.6 302.3h1.3M205.3 302.3h1.3M231.2 302.3h1.3M248.3 302.3h1.3M258.7 302.3h1.3M275.6 302.3h1.3M286.7 302.3h1.3M297.4 302.3h1.3M308.9 302.3h1.3M318.2 302.3h1.3M323.4 302.3h1.3M334.1 302.3h1.3M360.5 302.3h1.3M108.4 301.7h1.3M115.4 301.7h1.3M123.5 301.7h1.3M140.6 301.7h1.3M148 301.7h1.3M161.2 301.7h1.3M170.9 301.7h1.3M195.7 301.7h1.3M208.7 301.7h1.3M238.2 301.7h1.3M251.5 301.7h1.3M284.2 301.7h1.3M299.5 301.7h1.3M323.3 301.7h1.3M337.3 301.7h1.3M356.8 301.7h1.3M359.8 301.7h1.3M110.7 301h1.3M121.2 301h1.3M131.8 301h1.3M141.5 301h1.3M159.8 301h1.3M169.6 301h1.3M194.3 301h1.3M208.7 301h1.3M234.1 301h1.3M256.5 301h1.3M268 301h1.3M292.3 301h1.3M315 301h1.3M327.5 301h1.3M335.2 301h1.3M350.1 301h1.3M358.5 301h1.3M371.7 301h1.3M110.7 300.4h1.3M120.4 300.4h1.3M134.5 300.4h1.3M147.3 300.4h1.3M169.2 300.4h1.3M178.3 300.4h1.3M192.1 300.4h1.3M202.8 300.4h1.3M212.7 300.4h1.3M236.7 300.4h1.3M251.6 300.4h1.3M274.2 300.4h1.3M295.8 300.4h1.3M312.8 300.4h1.3M323.1 300.4h1.3M353 300.4h1.3M109.6 299.8h1.3M116.3 299.8h1.3M124.7 299.8h1.3M133.7 299.8h1.3M143.1 299.8h1.3M150.8 299.8h1.3M163.2 299.8h1.3M191.8 299.8h1.3M210.8 299.8h1.3M227.2 299.8h1.3M248.5 299.8h1.3M257.7 299.8h1.3M275.8 299.8h1.3M282.7 299.8h1.3M314.9 299.8h1.3M338.1 299.8h1.3M355.7 299.8h1.3M110.3 299.2h1.3M120.1 299.2h1.3M125.6 299.2h1.3M137.3 299.2h1.3M144.4 299.2h1.3M155 299.2h1.3M168 299.2h1.3M185.4 299.2h1.3M207.1 299.2h1.3M219.9 299.2h1.3M232.6 299.2h1.3M261.4 299.2h1.3M287.7 299.2h1.3M311.3 299.2h1.3M331.5 299.2h1.3M353.8 299.2h1.3M110.7 298.5h1.3M120.1 298.5h1.3M126.9 298.5h1.3M131.8 298.5h1.3M140.1 298.5h1.3M148.1 298.5h1.3M160.7 298.5h1.3M167.7 298.5h1.3M176.6 298.5h1.3M183.1 298.5h1.3M201.6 298.5h1.3M215.9 298.5h1.3M224.8 298.5h1.3M247 298.5h1.3M258.6 298.5h1.3M276.9 298.5h1.3M298.8 298.5h1.3M330.1 298.5h1.3M337.1 298.5h1.3M361.2 298.5h1.3M110.9 297.9h1.3M118.8 297.9h1.3M123.3 297.9h1.3M139.2 297.9h1.3M154.1 297.9h1.3M176.6 297.9h1.3M186.9 297.9h1.3M209.9 297.9h1.3M223.6 297.9h1.3M238.1 297.9h1.3M250 297.9h1.3M265.8 297.9h1.3M273.2 297.9h1.3M284.1 297.9h1.3M293.8 297.9h1.3M302.9 297.9h1.3M317.2 297.9h1.3M328.8 297.9h1.3M343.6 297.9h1.3M356.9 297.9h1.3M109.6 297.3h1.3M117.1 297.3h1.3M123.3 297.3h1.3M141.9 297.3h1.3M155.8 297.3h1.3M166.2 297.3h1.3M172.1 297.3h1.3M181.8 297.3h1.3M197.8 297.3h1.3M204.7 297.3h1.3M217.3 297.3h1.3M247.3 297.3h1.3M259.8 297.3h1.3M290.3 297.3h1.3M304.5 297.3h1.3M316.5 297.3h1.3M339.4 297.3h1.3M353.5 297.3h1.3M367 297.3h1.3M109.9 296.6h1.3M120.9 296.6h1.3M132.7 296.6h1.3M154.8 296.6h1.3M174.9 296.6h1.3M179.7 296.6h1.3M195.7 296.6h1.3M214.3 296.6h1.3M237.1 296.6h1.3M255.9 296.6h1.3M274.6 296.6h1.3M291.3 296.6h1.3M308.4 296.6h1.3M315 296.6h1.3M331.2 296.6h1.3M343.6 296.6h1.3M365.8 296.6h1.3M112 296h1.3M121.4 296h1.3M133.5 296h1.3M143.3 296h1.3M163.3 296h1.3M177.8 296h1.3M185.4 296h1.3M191 296h1.3M202.2 296h1.3M217.7 296h1.3M239.3 296h1.3M256.5 296h1.3M262.6 296h1.3M280.4 296h1.3M304.5 296h1.3M316.6 296h1.3M329.4 296h1.3M107.9 295.4h1.3M114.5 295.4h1.3M125.2 295.4h1.3M156 295.4h1.3M164.6 295.4h1.3M178.9 295.4h1.3M190.6 295.4h1.3M208.1 295.4h1.3M236.9 295.4h1.3M256 295.4h1.3M278.2 295.4h1.3M315.4 295.4h1.3M344.8 295.4h1.3M370.8 295.4h1.3M111.4 294.8h1.3M122.2 294.8h1.3M131.1 294.8h1.3M141.6 294.8h1.3M143.4 294.8h1.3M153.2 294.8h1.3M164.3 294.8h1.3M177.5 294.8h1.3M189.5 294.8h1.3M199.4 294.8h1.3M204.3 294.8h1.3M220.9 294.8h1.3M231.9 294.8h1.3M244.9 294.8h1.3M246.6 294.8h1.3M261.6 294.8h1.3M296.7 294.8h1.3M313 294.8h1.3M328.1 294.8h1.3M340.1 294.8h1.3M361.1 294.8h1.3M110.5 294.1h1.3M117.6 294.1h1.3M123.6 294.1h1.3M128.5 294.1h1.3M139 294.1h1.3M156.7 294.1h1.3M167.6 294.1h1.3M187.8 294.1h1.3M201.9 294.1h1.3M214.6 294.1h1.3M222.8 294.1h1.3M248.6 294.1h1.3M269.9 294.1h1.3M292 294.1h1.3M309.1 294.1h1.3M322.1 294.1h1.3M336.8 294.1h1.3M344 294.1h1.3M370 294.1h1.3M110 293.5h1.3M119.2 293.5h1.3M128.9 293.5h1.3M137.1 293.5h1.3M163 293.5h1.3M192.9 293.5h1.3M216.8 293.5h1.3M240.1 293.5h1.3M255.9 293.5h1.3M260.2 293.5h1.3M284.6 293.5h1.3M311.5 293.5h1.3M313.7 293.5h1.3M325.2 293.5h1.3M337.7 293.5h1.3M347.2 293.5h1.3M367.4 293.5h1.3M111 292.9h1.3M118.5 292.9h1.3M122.8 292.9h1.3M138 292.9h1.3M154.8 292.9h1.3M169.6 292.9h1.3M180.1 292.9h1.3M196 292.9h1.3M215.5 292.9h1.3M234.4 292.9h1.3M244.9 292.9h1.3M261.1 292.9h1.3M275.4 292.9h1.3M293.8 292.9h1.3M300 292.9h1.3M313.6 292.9h1.3M338.3 292.9h1.3M358.9 292.9h1.3M369.8 292.9h1.3M111.8 292.3h1.3M119.3 292.3h1.3M134.4 292.3h1.3M158.9 292.3h1.3M176.6 292.3h1.3M184.3 292.3h1.3M200.1 292.3h1.3M221.6 292.3h1.3M243.5 292.3h1.3M258.2 292.3h1.3M271.7 292.3h1.3M304.6 292.3h1.3M339.5 292.3h1.3M355.3 292.3h1.3M368.7 292.3h1.3M112.9 291.6h1.3M122.5 291.6h1.3M136.5 291.6h1.3M152.3 291.6h1.3M167.9 291.6h1.3M182 291.6h1.3M189.2 291.6h1.3M210.9 291.6h1.3M230.6 291.6h1.3M243.6 291.6h1.3M252 291.6h1.3M268.1 291.6h1.3M294.6 291.6h1.3M325.6 291.6h1.3M338.3 291.6h1.3M349.2 291.6h1.3M363.3 291.6h1.3M112 291h1.3M121.1 291h1.3M132.9 291h1.3M144.1 291h1.3M155 291h1.3M169.3 291h1.3M175.6 291h1.3M188.6 291h1.3M209.5 291h1.3M223.2 291h1.3M237.8 291h1.3M257.5 291h1.3M266.8 291h1.3M289.4 291h1.3M307.9 291h1.3M312 291h1.3M336.5 291h1.3M347.7 291h1.3M356.7 291h1.3M370.9 291h1.3M111.3 290.4h1.3M121.8 290.4h1.3M133.3 290.4h1.3M154.1 290.4h1.3M165.2 290.4h1.3M182.6 290.4h1.3M201.3 290.4h1.3M205 290.4h1.3M217.4 290.4h1.3M224 290.4h1.3M236.5 290.4h1.3M249.8 290.4h1.3M263.1 290.4h1.3M277.2 290.4h1.3M285.7 290.4h1.3M309.3 290.4h1.3M321.2 290.4h1.3M326.6 290.4h1.3M339.7 290.4h1.3M353.4 290.4h1.3M361.9 290.4h1.3M108.8 289.8h1.3M115.6 289.8h1.3M119.9 289.8h1.3M130.3 289.8h1.3M144.9 289.8h1.3M153.8 289.8h1.3M163.9 289.8h1.3M172.2 289.8h1.3M186.7 289.8h1.3M193 289.8h1.3M205.7 289.8h1.3M214.7 289.8h1.3M234.6 289.8h1.3M241.3 289.8h1.3M255.8 289.8h1.3M278.5 289.8h1.3M300.8 289.8h1.3M312.8 289.8h1.3M345.7 289.8h1.3M369 289.8h1.3M110 289.1h1.3M119.5 289.1h1.3M127.5 289.1h1.3M151.6 289.1h1.3M160.4 289.1h1.3M173.9 289.1h1.3M179.2 289.1h1.3M193.6 289.1h1.3M219.1 289.1h1.3M236.5 289.1h1.3M254.7 289.1h1.3M280.2 289.1h1.3M293.1 289.1h1.3M316.8 289.1h1.3M330.4 289.1h1.3M346.7 289.1h1.3M358.2 289.1h1.3M371.5 289.1h1.3M109.7 288.5h1.3M116.6 288.5h1.3M123.6 288.5h1.3M145.6 288.5h1.3M161.9 288.5h1.3M176.4 288.5h1.3M193.6 288.5h1.3M207 288.5h1.3M217 288.5h1.3M224.9 288.5h1.3M234.5 288.5h1.3M254.8 288.5h1.3M265.6 288.5h1.3M288.6 288.5h1.3M316 288.5h1.3M324.9 288.5h1.3M343.8 288.5h1.3M347.7 288.5h1.3M362.6 288.5h1.3M111.3 287.9h1.3M119.8 287.9h1.3M126.8 287.9h1.3M142 287.9h1.3M159.8 287.9h1.3M166.5 287.9h1.3M177.2 287.9h1.3M200.9 287.9h1.3M208.2 287.9h1.3M236.3 287.9h1.3M244.3 287.9h1.3M249.9 287.9h1.3M266.5 287.9h1.3M286.8 287.9h1.3M297.4 287.9h1.3M309.4 287.9h1.3M318.8 287.9h1.3M347.3 287.9h1.3M356.8 287.9h1.3M110 287.2h1.3M117.9 287.2h1.3M128.6 287.2h1.3M140.9 287.2h1.3M156.5 287.2h1.3M188.5 287.2h1.3M196.9 287.2h1.3M204.2 287.2h1.3M228.8 287.2h1.3M240 287.2h1.3M257.7 287.2h1.3M269.5 287.2h1.3M293.6 287.2h1.3M311.5 287.2h1.3M321.8 287.2h1.3M347.5 287.2h1.3M362.3 287.2h1.3M109.4 286.6h1.3M117.6 286.6h1.3M128.1 286.6h1.3M138.9 286.6h1.3M149.8 286.6h1.3M167.9 286.6h1.3M173.9 286.6h1.3M185.4 286.6h1.3M203.6 286.6h1.3M213 286.6h1.3M228.3 286.6h1.3M249.9 286.6h1.3M266.4 286.6h1.3M278.9 286.6h1.3M292.7 286.6h1.3M319.5 286.6h1.3M347.2 286.6h1.3M111.4 286h1.3M119.1 286h1.3M127.8 286h1.3M141.7 286h1.3M163.4 286h1.3M170.2 286h1.3M174.8 286h1.3M179.7 286h1.3M198 286h1.3M213.6 286h1.3M242.6 286h1.3M257.7 286h1.3M277.1 286h1.3M288.7 286h1.3M313.2 286h1.3M326.8 286h1.3M342.3 286h1.3M351 286h1.3M358.7 286h1.3M368.1 286h1.3M108.1 285.4h1.3M115.6 285.4h1.3M126.9 285.4h1.3M133.5 285.4h1.3M140.8 285.4h1.3M157.2 285.4h1.3M170 285.4h1.3M185.3 285.4h1.3M210.3 285.4h1.3M225 285.4h1.3M227.8 285.4h1.3M236.6 285.4h1.3M247.1 285.4h1.3M253.1 285.4h1.3M258.9 285.4h1.3M276.2 285.4h1.3M314.4 285.4h1.3M322.4 285.4h1.3M334.1 285.4h1.3M347.6 285.4h1.3M356.3 285.4h1.3M369.4 285.4h1.3M111.2 284.7h1.3M122.2 284.7h1.3M129.4 284.7h1.3M149.1 284.7h1.3M155.9 284.7h1.3M173 284.7h1.3M199.7 284.7h1.3M227.9 284.7h1.3M251.3 284.7h1.3M259.5 284.7h1.3M268.6 284.7h1.3M282.1 284.7h1.3M289.9 284.7h1.3M297.5 284.7h1.3M302.1 284.7h1.3M313.2 284.7h1.3M335.2 284.7h1.3M363 284.7h1.3M110.8 284.1h1.3M116 284.1h1.3M125 284.1h1.3M130.1 284.1h1.3M134.5 284.1h1.3M144.6 284.1h1.3M165.9 284.1h1.3M177.1 284.1h1.3M194.6 284.1h1.3M205.4 284.1h1.3M215 284.1h1.3M235.5 284.1h1.3M245.5 284.1h1.3M269.5 284.1h1.3M283.8 284.1h1.3M308.1 284.1h1.3M324.7 284.1h1.3M338.2 284.1h1.3M349.7 284.1h1.3M363.6 284.1h1.3M110.9 283.5h1.3M117.8 283.5h1.3M128.9 283.5h1.3M145.5 283.5h1.3M164.3 283.5h1.3M180.5 283.5h1.3M202.1 283.5h1.3M221.8 283.5h1.3M265.4 283.5h1.3M273.7 283.5h1.3M280.3 283.5h1.3M304.5 283.5h1.3M329.7 283.5h1.3M337.5 283.5h1.3M358.9 283.5h1.3M112.3 282.9h1.3M121.1 282.9h1.3M129.3 282.9h1.3M138.6 282.9h1.3M155 282.9h1.3M167.4 282.9h1.3M181.5 282.9h1.3M190.5 282.9h1.3M204.3 282.9h1.3M224.3 282.9h1.3M235.9 282.9h1.3M248.2 282.9h1.3M265.9 282.9h1.3M275.2 282.9h1.3M284.5 282.9h1.3M300.8 282.9h1.3M310.4 282.9h1.3M327.5 282.9h1.3M356.7 282.9h1.3M371.4 282.9h1.3M110 282.2h1.3M120.1 282.2h1.3M127.1 282.2h1.3M144.7 282.2h1.3M151.8 282.2h1.3M163.4 282.2h1.3M169.5 282.2h1.3M182.3 282.2h1.3M195.6 282.2h1.3M222.7 282.2h1.3M239.8 282.2h1.3M266.2 282.2h1.3M288.1 282.2h1.3M296.4 282.2h1.3M329.9 282.2h1.3M338.4 282.2h1.3M364 282.2h1.3M110.1 281.6h1.3M118.8 281.6h1.3M126 281.6h1.3M132.6 281.6h1.3M158.3 281.6h1.3M167.1 281.6h1.3M174.5 281.6h1.3M180.4 281.6h1.3M193.4 281.6h1.3M200.1 281.6h1.3M212.5 281.6h1.3M232.8 281.6h1.3M256.4 281.6h1.3M282.9 281.6h1.3M290.5 281.6h1.3M305.9 281.6h1.3M316.3 281.6h1.3M323.4 281.6h1.3M359 281.6h1.3M110 281h1.3M119.3 281h1.3M129.4 281h1.3M138.5 281h1.3M150.8 281h1.3M159.9 281h1.3M167.6 281h1.3M177 281h1.3M180.3 281h1.3M199.4 281h1.3M212.9 281h1.3M219.2 281h1.3M226.4 281h1.3M244.1 281h1.3M255.9 281h1.3M263.9 281h1.3M302.4 281h1.3M326.6 281h1.3M334.4 281h1.3M350.5 281h1.3M367.3 281h1.3M110.4 280.4h1.3M115.6 280.4h1.3M124.8 280.4h1.3M136.9 280.4h1.3M146 280.4h1.3M155.6 280.4h1.3M164.4 280.4h1.3M178.6 280.4h1.3M183 280.4h1.3M201 280.4h1.3M211.7 280.4h1.3M220.8 280.4h1.3M225 280.4h1.3M244.7 280.4h1.3M250.9 280.4h1.3M262.7 280.4h1.3M276.6 280.4h1.3M306.5 280.4h1.3M338.7 280.4h1.3M353.2 280.4h1.3M109.2 279.7h1.3M117 279.7h1.3M121.4 279.7h1.3M132.7 279.7h1.3M148.2 279.7h1.3M154.4 279.7h1.3M169 279.7h1.3M187.5 279.7h1.3M200.3 279.7h1.3M216.6 279.7h1.3M231.5 279.7h1.3M237 279.7h1.3M248.6 279.7h1.3M265.6 279.7h1.3M278.2 279.7h1.3M300.4 279.7h1.3M327.4 279.7h1.3M338 279.7h1.3M348.1 279.7h1.3M354 279.7h1.3M110.8 279.1h1.3M119.4 279.1h1.3M126.8 279.1h1.3M146.3 279.1h1.3M156.2 279.1h1.3M163.4 279.1h1.3M188 279.1h1.3M201.3 279.1h1.3M211.6 279.1h1.3M221.8 279.1h1.3M232.9 279.1h1.3M250.2 279.1h1.3M259.9 279.1h1.3M273.2 279.1h1.3M281 279.1h1.3M307.6 279.1h1.3M316.4 279.1h1.3M327.2 279.1h1.3M344.6 279.1h1.3M362.8 279.1h1.3M109.9 278.5h1.3M117.1 278.5h1.3M126.3 278.5h1.3M140.1 278.5h1.3M160.5 278.5h1.3M173.9 278.5h1.3M189.5 278.5h1.3M207.8 278.5h1.3M226.3 278.5h1.3M241.2 278.5h1.3M269.6 278.5h1.3M277.8 278.5h1.3M304.4 278.5h1.3M348.3 278.5h1.3M109.1 277.9h1.3M117.2 277.9h1.3M121.5 277.9h1.3M133 277.9h1.3M135.1 277.9h1.3M149.4 277.9h1.3M164.5 277.9h1.3M179.5 277.9h1.3M187 277.9h1.3M205.6 277.9h1.3M222.8 277.9h1.3M251.4 277.9h1.3M274.8 277.9h1.3M287.6 277.9h1.3M298.5 277.9h1.3M306.4 277.9h1.3M344.3 277.9h1.3M351.3 277.9h1.3M367.3 277.9h1.3M110.7 277.2h1.3M118.3 277.2h1.3M132.7 277.2h1.3M150.3 277.2h1.3M184.8 277.2h1.3M216.7 277.2h1.3M235.7 277.2h1.3M250.9 277.2h1.3M269.7 277.2h1.3M285 277.2h1.3M295.9 277.2h1.3M322.2 277.2h1.3M337.8 277.2h1.3M352.6 277.2h1.3M360.6 277.2h1.3M110.2 276.6h1.3M119.9 276.6h1.3M127.2 276.6h1.3M136.3 276.6h1.3M159.2 276.6h1.3M177.6 276.6h1.3M180.5 276.6h1.3M192.5 276.6h1.3M221.9 276.6h1.3M227 276.6h1.3M239.7 276.6h1.3M253.9 276.6h1.3M263 276.6h1.3M267.3 276.6h1.3M280.4 276.6h1.3M294.9 276.6h1.3M309.6 276.6h1.3M334.7 276.6h1.3M338.7 276.6h1.3M362.4 276.6h1.3M109.3 276h1.3M116.2 276h1.3M122.5 276h1.3M133.5 276h1.3M136.8 276h1.3M145.9 276h1.3M162.3 276h1.3M171.2 276h1.3M197.8 276h1.3M217 276h1.3M221.4 276h1.3M233.5 276h1.3M250.3 276h1.3M267 276h1.3M280.4 276h1.3M293.9 276h1.3M313.8 276h1.3M331.8 276h1.3M350.1 276h1.3M111.7 275.3h1.3M118.1 275.3h1.3M129.2 275.3h1.3M146.1 275.3h1.3M160.5 275.3h1.3M176.1 275.3h1.3M195.9 275.3h1.3M203.4 275.3h1.3M215.2 275.3h1.3M219.3 275.3h1.3M236.3 275.3h1.3M248.9 275.3h1.3M257.2 275.3h1.3M274.6 275.3h1.3M284.6 275.3h1.3M310.9 275.3h1.3M326.2 275.3h1.3M336.5 275.3h1.3M359.2 275.3h1.3M109.6 274.7h1.3M116.7 274.7h1.3M126 274.7h1.3M142.9 274.7h1.3M160.1 274.7h1.3M182.9 274.7h1.3M197.9 274.7h1.3M211.5 274.7h1.3M233.1 274.7h1.3M261 274.7h1.3M304.1 274.7h1.3M322.6 274.7h1.3M347.9 274.7h1.3M354.6 274.7h1.3M366.9 274.7h1.3M109.5 274.1h1.3M121.3 274.1h1.3M128.8 274.1h1.3M152.4 274.1h1.3M184.7 274.1h1.3M197.9 274.1h1.3M204.8 274.1h1.3M221.7 274.1h1.3M231.9 274.1h1.3M248.9 274.1h1.3M264.4 274.1h1.3M275.6 274.1h1.3M304.9 274.1h1.3M314.6 274.1h1.3M320.9 274.1h1.3M336 274.1h1.3M351.1 274.1h1.3M359.8 274.1h1.3M110.2 273.5h1.3M119 273.5h1.3M126.4 273.5h1.3M134.8 273.5h1.3M172.2 273.5h1.3M185.8 273.5h1.3M201.8 273.5h1.3M219.2 273.5h1.3M234 273.5h1.3M247.1 273.5h1.3M266.2 273.5h1.3M281.4 273.5h1.3M295.4 273.5h1.3M310.3 273.5h1.3M328.6 273.5h1.3M338 273.5h1.3M357.9 273.5h1.3M111.7 272.8h1.3M121.8 272.8h1.3M131.4 272.8h1.3M142.2 272.8h1.3M160.5 272.8h1.3M168.4 272.8h1.3M176.4 272.8h1.3M212.7 272.8h1.3M225.8 272.8h1.3M247.4 272.8h1.3M252.9 272.8h1.3M274.9 272.8h1.3M291.5 272.8h1.3M300.9 272.8h1.3M309.2 272.8h1.3M318.4 272.8h1.3M342.1 272.8h1.3M370.4 272.8h1.3M112.3 272.2h1.3M121.2 272.2h1.3M130.5 272.2h1.3M153.5 272.2h1.3M184.8 272.2h1.3M194.4 272.2h1.3M211.8 272.2h1.3M232 272.2h1.3M252.8 272.2h1.3M277.1 272.2h1.3M287.1 272.2h1.3M309 272.2h1.3M318.1 272.2h1.3M332.2 272.2h1.3M346.2 272.2h1.3M367.5 272.2h1.3M110.1 271.6h1.3M119.4 271.6h1.3M125.8 271.6h1.3M134.9 271.6h1.3M151.3 271.6h1.3M158.1 271.6h1.3M164.6 271.6h1.3M173.9 271.6h1.3M184.2 271.6h1.3M206.7 271.6h1.3M220.6 271.6h1.3M236.1 271.6h1.3M254.4 271.6h1.3M263.8 271.6h1.3M279.8 271.6h1.3M300.4 271.6h1.3M310.2 271.6h1.3M340.1 271.6h1.3M354.8 271.6h1.3M367.9 271.6h1.3M110.8 271h1.3M120.6 271h1.3M125.4 271h1.3M128.3 271h1.3M132.5 271h1.3M143.6 271h1.3M153.9 271h1.3M173.2 271h1.3M202.5 271h1.3M214.9 271h1.3M232.3 271h1.3M246.1 271h1.3M259 271h1.3M274.6 271h1.3M295.5 271h1.3M321 271h1.3M334.2 271h1.3M346.3 271h1.3M111.4 270.3h1.3M120.9 270.3h1.3M126.3 270.3h1.3M133.7 270.3h1.3M147.7 270.3h1.3M160 270.3h1.3M179.8 270.3h1.3M185.5 270.3h1.3M193.8 270.3h1.3M202.8 270.3h1.3M228.9 270.3h1.3M234.9 270.3h1.3M247.4 270.3h1.3M262.6 270.3h1.3M274.8 270.3h1.3M294.2 270.3h1.3M303.8 270.3h1.3M332.9 270.3h1.3M345.2 270.3h1.3M364.9 270.3h1.3M110.2 269.7h1.3M118.3 269.7h1.3M123.9 269.7h1.3M145.4 269.7h1.3M155.7 269.7h1.3M167.6 269.7h1.3M177.2 269.7h1.3M182.5 269.7h1.3M203.1 269.7h1.3M208.1 269.7h1.3M220.7 269.7h1.3M230.1 269.7h1.3M242.8 269.7h1.3M247.8 269.7h1.3M260.3 269.7h1.3M272.3 269.7h1.3M277.2 269.7h1.3M288.8 269.7h1.3M317.2 269.7h1.3M341 269.7h1.3M352.6 269.7h1.3M109.9 269.1h1.3M116.5 269.1h1.3M123.1 269.1h1.3M128.9 269.1h1.3M138.1 269.1h1.3M149.6 269.1h1.3M166.5 269.1h1.3M179 269.1h1.3M196.3 269.1h1.3M202.5 269.1h1.3M210.2 269.1h1.3M221.7 269.1h1.3M232.1 269.1h1.3M244.4 269.1h1.3M265.4 269.1h1.3M283.4 269.1h1.3M288.2 269.1h1.3M305 269.1h1.3M316.5 269.1h1.3M327.4 269.1h1.3M342.7 269.1h1.3M112.1 268.5h1.3M119.5 268.5h1.3M126.9 268.5h1.3M132.6 268.5h1.3M139.5 268.5h1.3M156.5 268.5h1.3M169.4 268.5h1.3M187.6 268.5h1.3M194.3 268.5h1.3M211 268.5h1.3M236 268.5h1.3M265.8 268.5h1.3M276.1 268.5h1.3M285.1 268.5h1.3M303.2 268.5h1.3M326.8 268.5h1.3M361.9 268.5h1.3M111.5 267.8h1.3M120.6 267.8h1.3M128.7 267.8h1.3M135.5 267.8h1.3M144.7 267.8h1.3M170.9 267.8h1.3M177.7 267.8h1.3M195 267.8h1.3M208.9 267.8h1.3M223 267.8h1.3M228.8 267.8h1.3M242 267.8h1.3M257.6 267.8h1.3M262.4 267.8h1.3M272.6 267.8h1.3M286 267.8h1.3M298.4 267.8h1.3M304.6 267.8h1.3M320.7 267.8h1.3M331.9 267.8h1.3M345.3 267.8h1.3M355.8 267.8h1.3M368.3 267.8h1.3M109.6 267.2h1.3M115.5 267.2h1.3M127.2 267.2h1.3M147.1 267.2h1.3M171.5 267.2h1.3M177.2 267.2h1.3M188.3 267.2h1.3M189.9 267.2h1.3M200.7 267.2h1.3M220.7 267.2h1.3M234 267.2h1.3M251.2 267.2h1.3M275.3 267.2h1.3M285 267.2h1.3M294.9 267.2h1.3M308.8 267.2h1.3M325.3 267.2h1.3M338.7 267.2h1.3M363.5 267.2h1.3M370.7 267.2h1.3M109.8 266.6h1.3M118.5 266.6h1.3M129.4 266.6h1.3M155.6 266.6h1.3M160.6 266.6h1.3M172 266.6h1.3M193.4 266.6h1.3M202.7 266.6h1.3M215.2 266.6h1.3M233.3 266.6h1.3M266.8 266.6h1.3M285.5 266.6h1.3M309.1 266.6h1.3M315.1 266.6h1.3M334 266.6h1.3M353.2 266.6h1.3M110.6 266h1.3M119.3 266h1.3M129.3 266h1.3M140.6 266h1.3M146.6 266h1.3M156 266h1.3M174.6 266h1.3M192.5 266h1.3M209.7 266h1.3M229 266h1.3M250.1 266h1.3M266.8 266h1.3M276.4 266h1.3M300.3 266h1.3M317 266h1.3M337.1 266h1.3M360.5 266h1.3M369.7 266h1.3M111.7 265.3h1.3M121.3 265.3h1.3M127.6 265.3h1.3M138.8 265.3h1.3M148.8 265.3h1.3M161.4 265.3h1.3M174.5 265.3h1.3M185.9 265.3h1.3M198.2 265.3h1.3M210.9 265.3h1.3M239.1 265.3h1.3M252.3 265.3h1.3M264 265.3h1.3M272.6 265.3h1.3M298.6 265.3h1.3M307.7 265.3h1.3M318.7 265.3h1.3M340.6 265.3h1.3M363 265.3h1.3M111.4 264.7h1.3M120.6 264.7h1.3M132 264.7h1.3M160.3 264.7h1.3M169.4 264.7h1.3M195.8 264.7h1.3M207.1 264.7h1.3M225.5 264.7h1.3M233.3 264.7h1.3M241.6 264.7h1.3M255 264.7h1.3M282.2 264.7h1.3M308.6 264.7h1.3M339.8 264.7h1.3M362.3 264.7h1.3M110 264.1h1.3M116.5 264.1h1.3M125.2 264.1h1.3M147.5 264.1h1.3M173.2 264.1h1.3M184.4 264.1h1.3M196.3 264.1h1.3M208.6 264.1h1.3M216.6 264.1h1.3M238.2 264.1h1.3M249 264.1h1.3M268.9 264.1h1.3M304.5 264.1h1.3M323.7 264.1h1.3M336.3 264.1h1.3M363.4 264.1h1.3M111.5 263.4h1.3M118.7 263.4h1.3M123.1 263.4h1.3M132.6 263.4h1.3M154.9 263.4h1.3M172.2 263.4h1.3M186.3 263.4h1.3M205.3 263.4h1.3M213 263.4h1.3M222 263.4h1.3M246.9 263.4h1.3M258.4 263.4h1.3M281 263.4h1.3M305.2 263.4h1.3M314.9 263.4h1.3M321.1 263.4h1.3M336.4 263.4h1.3M363.6 263.4h1.3M108.3 262.8h1.3M117.1 262.8h1.3M126.9 262.8h1.3M132.6 262.8h1.3M144.9 262.8h1.3M156.3 262.8h1.3M165.7 262.8h1.3M172 262.8h1.3M180.9 262.8h1.3M212.2 262.8h1.3M222.7 262.8h1.3M234.6 262.8h1.3M243.4 262.8h1.3M257 262.8h1.3M282.2 262.8h1.3M299.7 262.8h1.3M313.6 262.8h1.3M329.6 262.8h1.3M365.6 262.8h1.3M111.1 262.2h1.3M120.3 262.2h1.3M125 262.2h1.3M135.1 262.2h1.3M160.6 262.2h1.3M181.2 262.2h1.3M188.8 262.2h1.3M205.2 262.2h1.3M213.6 262.2h1.3M224.1 262.2h1.3M230.4 262.2h1.3M240.5 262.2h1.3M246.2 262.2h1.3M262.1 262.2h1.3M267.6 262.2h1.3M288.4 262.2h1.3M293.6 262.2h1.3M317.3 262.2h1.3M334.2 262.2h1.3M339.1 262.2h1.3M359 262.2h1.3M110.2 261.6h1.3M119 261.6h1.3M127.3 261.6h1.3M150 261.6h1.3M165.3 261.6h1.3M179.6 261.6h1.3M192.3 261.6h1.3M211.9 261.6h1.3M222.9 261.6h1.3M232.3 261.6h1.3M239.4 261.6h1.3M261.1 261.6h1.3M272.5 261.6h1.3M282.4 261.6h1.3M323.2 261.6h1.3M342.5 261.6h1.3M360.5 261.6h1.3M367.5 261.6h1.3M111.1 260.9h1.3M121.5 260.9h1.3M127.9 260.9h1.3M139.5 260.9h1.3M147.2 260.9h1.3M157.8 260.9h1.3M163.5 260.9h1.3M187 260.9h1.3M199.5 260.9h1.3M221.1 260.9h1.3M230.9 260.9h1.3M246.9 260.9h1.3M274.5 260.9h1.3M294.5 260.9h1.3M305.3 260.9h1.3M323.2 260.9h1.3M342.2 260.9h1.3M355.6 260.9h1.3M111.2 260.3h1.3M121.6 260.3h1.3M129.1 260.3h1.3M145.7 260.3h1.3M168.8 260.3h1.3M179.9 260.3h1.3M187.8 260.3h1.3M205.8 260.3h1.3M236.7 260.3h1.3M253.3 260.3h1.3M267.3 260.3h1.3M275.8 260.3h1.3M285.4 260.3h1.3M305.7 260.3h1.3M315.6 260.3h1.3M348.2 260.3h1.3M361.9 260.3h1.3M371.6 260.3h1.3M112.1 259.7h1.3M120.3 259.7h1.3M124.6 259.7h1.3M131.8 259.7h1.3M152 259.7h1.3M161.2 259.7h1.3M184.7 259.7h1.3M193.5 259.7h1.3M201.8 259.7h1.3M222.9 259.7h1.3M233.9 259.7h1.3M240 259.7h1.3M278.4 259.7h1.3M282.5 259.7h1.3M289 259.7h1.3M303.1 259.7h1.3M314.1 259.7h1.3M330 259.7h1.3M349.5 259.7h1.3M363.1 259.7h1.3M111 259.1h1.3M120.2 259.1h1.3M125.7 259.1h1.3M140.2 259.1h1.3M151.5 259.1h1.3M165.2 259.1h1.3M178.9 259.1h1.3M188 259.1h1.3M194.4 259.1h1.3M201.7 259.1h1.3M217.5 259.1h1.3M225.4 259.1h1.3M246.7 259.1h1.3M252.1 259.1h1.3M266.7 259.1h1.3M300.8 259.1h1.3M317.2 259.1h1.3M336.6 259.1h1.3M360.1 259.1h1.3M366.4 259.1h1.3M112 258.4h1.3M120.5 258.4h1.3M133.5 258.4h1.3M151.1 258.4h1.3M159.5 258.4h1.3M168.1 258.4h1.3M190 258.4h1.3M196.2 258.4h1.3M219.8 258.4h1.3M238 258.4h1.3M256.3 258.4h1.3M274.2 258.4h1.3M288 258.4h1.3M296.3 258.4h1.3M305.8 258.4h1.3M330.9 258.4h1.3M347.3 258.4h1.3M354.6 258.4h1.3M110.5 257.8h1.3M117.5 257.8h1.3M121.8 257.8h1.3M129.9 257.8h1.3M142.6 257.8h1.3M152.3 257.8h1.3M167.5 257.8h1.3M182.6 257.8h1.3M193.8 257.8h1.3M207.2 257.8h1.3M227.8 257.8h1.3M235.1 257.8h1.3M256.1 257.8h1.3M279 257.8h1.3M284.1 257.8h1.3M290 257.8h1.3M298.3 257.8h1.3M304.1 257.8h1.3M310.5 257.8h1.3M322.2 257.8h1.3M330.4 257.8h1.3M359.1 257.8h1.3M367.7 257.8h1.3M109.3 257.2h1.3M120.3 257.2h1.3M130.3 257.2h1.3M147.6 257.2h1.3M153.5 257.2h1.3M166.4 257.2h1.3M184.7 257.2h1.3M195.3 257.2h1.3M209.6 257.2h1.3M217.7 257.2h1.3M234.9 257.2h1.3M247.3 257.2h1.3M264.8 257.2h1.3M283 257.2h1.3M289.4 257.2h1.3M305.2 257.2h1.3M328 257.2h1.3M356.1 257.2h1.3M109.9 256.6h1.3M119.2 256.6h1.3M128.6 256.6h1.3M134.4 256.6h1.3M144.6 256.6h1.3M152.9 256.6h1.3M161.4 256.6h1.3M170.3 256.6h1.3M177.8 256.6h1.3M207 256.6h1.3M213.3 256.6h1.3M225.3 256.6h1.3M231.4 256.6h1.3M242.1 256.6h1.3M249.1 256.6h1.3M262.9 256.6h1.3M286.8 256.6h1.3M293.3 256.6h1.3M308.1 256.6h1.3M345.8 256.6h1.3M354.9 256.6h1.3M110.8 255.9h1.3M121.1 255.9h1.3M140.8 255.9h1.3M151.6 255.9h1.3M178.7 255.9h1.3M181.1 255.9h1.3M205.7 255.9h1.3M227.4 255.9h1.3M237.1 255.9h1.3M245.3 255.9h1.3M258.1 255.9h1.3M266.1 255.9h1.3M277.9 255.9h1.3M286.5 255.9h1.3M300.5 255.9h1.3M319.9 255.9h1.3M337.7 255.9h1.3M360.1 255.9h1.3M109.9 255.3h1.3M119.5 255.3h1.3M132.6 255.3h1.3M143.2 255.3h1.3M152.3 255.3h1.3M160.3 255.3h1.3M180.7 255.3h1.3M201.4 255.3h1.3M216 255.3h1.3M219.8 255.3h1.3M231.4 255.3h1.3M250.7 255.3h1.3M267.7 255.3h1.3M277.9 255.3h1.3M291 255.3h1.3M302.8 255.3h1.3M325.2 255.3h1.3M343.2 255.3h1.3M368.4 255.3h1.3M110.4 254.7h1.3M117.2 254.7h1.3M124 254.7h1.3M133.7 254.7h1.3M146 254.7h1.3M155 254.7h1.3M165.3 254.7h1.3M174.8 254.7h1.3M183.5 254.7h1.3M192.6 254.7h1.3M215.2 254.7h1.3M224.7 254.7h1.3M231.4 254.7h1.3M250.9 254.7h1.3M259.8 254.7h1.3M274.2 254.7h1.3M286.9 254.7h1.3M296.4 254.7h1.3M298.9 254.7h1.3M314.6 254.7h1.3M344.8 254.7h1.3M110.3 254.1h1.3M118.8 254.1h1.3M129.1 254.1h1.3M142.5 254.1h1.3M146.4 254.1h1.3M161 254.1h1.3M170.3 254.1h1.3M186 254.1h1.3M190.5 254.1h1.3M201.4 254.1h1.3M210.6 254.1h1.3M220.5 254.1h1.3M253.6 254.1h1.3M272.3 254.1h1.3M287.1 254.1h1.3M303.2 254.1h1.3M322.9 254.1h1.3M330.3 254.1h1.3M356.8 254.1h1.3M110.6 253.4h1.3M120 253.4h1.3M130.4 253.4h1.3M145.7 253.4h1.3M155.9 253.4h1.3M161.9 253.4h1.3M169.5 253.4h1.3M176.7 253.4h1.3M183.6 253.4h1.3M207 253.4h1.3M215.8 253.4h1.3M228.8 253.4h1.3M246.5 253.4h1.3M253.4 253.4h1.3M274.5 253.4h1.3M282.7 253.4h1.3M299.8 253.4h1.3M306.3 253.4h1.3M318.7 253.4h1.3M341.5 253.4h1.3M349.7 253.4h1.3M108.9 252.8h1.3M115.1 252.8h1.3M122.4 252.8h1.3M141.4 252.8h1.3M157.6 252.8h1.3M167.4 252.8h1.3M196 252.8h1.3M206.6 252.8h1.3M215.3 252.8h1.3M221.5 252.8h1.3M233.6 252.8h1.3M240.2 252.8h1.3M258.8 252.8h1.3M277.6 252.8h1.3M295.5 252.8h1.3M306.5 252.8h1.3M320.3 252.8h1.3M338.6 252.8h1.3M110.9 252.2h1.3M116.9 252.2h1.3M127.8 252.2h1.3M136.6 252.2h1.3M147.2 252.2h1.3M155.4 252.2h1.3M168.1 252.2h1.3M186 252.2h1.3M192.5 252.2h1.3M216.3 252.2h1.3M227.3 252.2h1.3M243.8 252.2h1.3M252.4 252.2h1.3M280.1 252.2h1.3M290.2 252.2h1.3M305.8 252.2h1.3M328.7 252.2h1.3M342.1 252.2h1.3M352.9 252.2h1.3M368.1 252.2h1.3M109.8 251.5h1.3M116.1 251.5h1.3M128.7 251.5h1.3M143.4 251.5h1.3M152.3 251.5h1.3M163.5 251.5h1.3M177.6 251.5h1.3M187 251.5h1.3M206.3 251.5h1.3M215.6 251.5h1.3M224.1 251.5h1.3M238.3 251.5h1.3M244.4 251.5h1.3M257.1 251.5h1.3M277.8 251.5h1.3M288.3 251.5h1.3M300.6 251.5h1.3M331 251.5h1.3M369.9 251.5h1.3M111.9 250.9h1.3M119.3 250.9h1.3M131.2 250.9h1.3M139.6 250.9h1.3M152.2 250.9h1.3M159.9 250.9h1.3M174.3 250.9h1.3M182.4 250.9h1.3M191.1 250.9h1.3M212.7 250.9h1.3M220.8 250.9h1.3M234.1 250.9h1.3M245.5 250.9h1.3M264.1 250.9h1.3M291.8 250.9h1.3M311.7 250.9h1.3M322.7 250.9h1.3M340 250.9h1.3M366.6 250.9h1.3M109 250.3h1.3M118.8 250.3h1.3M126.9 250.3h1.3M144.8 250.3h1.3M159.9 250.3h1.3M173 250.3h1.3M176.2 250.3h1.3M184.9 250.3h1.3M194.3 250.3h1.3M212.3 250.3h1.3M218.9 250.3h1.3M236.5 250.3h1.3M248.5 250.3h1.3M274.2 250.3h1.3M284.8 250.3h1.3M309.3 250.3h1.3M336 250.3h1.3M350.3 250.3h1.3M366.1 250.3h1.3M111.5 249.7h1.3M120.8 249.7h1.3M134.5 249.7h1.3M145.4 249.7h1.3M154.3 249.7h1.3M162.2 249.7h1.3M177.5 249.7h1.3M189.5 249.7h1.3M202.7 249.7h1.3M224.4 249.7h1.3M244.7 249.7h1.3M259.6 249.7h1.3M264.3 249.7h1.3M271.6 249.7h1.3M293.2 249.7h1.3M305.7 249.7h1.3M327.2 249.7h1.3M349.6 249.7h1.3M109.5 249h1.3M120 249h1.3M131.9 249h1.3M144.4 249h1.3M157.1 249h1.3M173.8 249h1.3M185.5 249h1.3M211.9 249h1.3M221 249h1.3M235.4 249h1.3M241.9 249h1.3M268.2 249h1.3M293.2 249h1.3M315.8 249h1.3M328.7 249h1.3M358.6 249h1.3M111.8 248.4h1.3M119.8 248.4h1.3M128.8 248.4h1.3M156.6 248.4h1.3M176.3 248.4h1.3M193.6 248.4h1.3M205.9 248.4h1.3M216.7 248.4h1.3M235.4 248.4h1.3M238.1 248.4h1.3M263.7 248.4h1.3M283.4 248.4h1.3M289.8 248.4h1.3M293.5 248.4h1.3M306 248.4h1.3M321.5 248.4h1.3M334.4 248.4h1.3M357.8 248.4h1.3M369 248.4h1.3M109.2 247.8h1.3M114.8 247.8h1.3M122.4 247.8h1.3M136.1 247.8h1.3M144.4 247.8h1.3M152 247.8h1.3M165.4 247.8h1.3M183.2 247.8h1.3M216.5 247.8h1.3M230.7 247.8h1.3M246.6 247.8h1.3M267.5 247.8h1.3M284 247.8h1.3M307 247.8h1.3M332.7 247.8h1.3M344.3 247.8h1.3M367.2 247.8h1.3M108.6 247.2h1.3M118.6 247.2h1.3M125.4 247.2h1.3M131.5 247.2h1.3M140.1 247.2h1.3M153.7 247.2h1.3M172.6 247.2h1.3M186 247.2h1.3M202.4 247.2h1.3M219.4 247.2h1.3M229.6 247.2h1.3M251.7 247.2h1.3M266.5 247.2h1.3M294.4 247.2h1.3M303 247.2h1.3M311.1 247.2h1.3M321.2 247.2h1.3M340.1 247.2h1.3M350.9 247.2h1.3M370.6 247.2h1.3M110.8 246.5h1.3M119.5 246.5h1.3M127.8 246.5h1.3M141.4 246.5h1.3M157.3 246.5h1.3M171.1 246.5h1.3M180.3 246.5h1.3M189.4 246.5h1.3M198.4 246.5h1.3M210.2 246.5h1.3M219 246.5h1.3M226.7 246.5h1.3M242.5 246.5h1.3M263.9 246.5h1.3M278.3 246.5h1.3M294.5 246.5h1.3M314.5 246.5h1.3M328.7 246.5h1.3M347.2 246.5h1.3M371.8 246.5h1.3M109.7 245.9h1.3M118.9 245.9h1.3M126 245.9h1.3M139.1 245.9h1.3M153 245.9h1.3M171.9 245.9h1.3M180.4 245.9h1.3M191.2 245.9h1.3M210.5 245.9h1.3M223.8 245.9h1.3M237.9 245.9h1.3M254.5 245.9h1.3M269.7 245.9h1.3M297.9 245.9h1.3M340 245.9h1.3M348.9 245.9h1.3M361.4 245.9h1.3M110.7 245.3h1.3M118.7 245.3h1.3M123.1 245.3h1.3M127 245.3h1.3M133.5 245.3h1.3M149.9 245.3h1.3M169.6 245.3h1.3M186.5 245.3h1.3M192.3 245.3h1.3M204.4 245.3h1.3M227.3 245.3h1.3M247.5 245.3h1.3M260.4 245.3h1.3M273.8 245.3h1.3M285.4 245.3h1.3M295.7 245.3h1.3M316.8 245.3h1.3M339.5 245.3h1.3M347.9 245.3h1.3M370.1 245.3h1.3M110.7 244.7h1.3M119.9 244.7h1.3M126.5 244.7h1.3M135.6 244.7h1.3M151.6 244.7h1.3M163.6 244.7h1.3M188.3 244.7h1.3M199.8 244.7h1.3M213.8 244.7h1.3M250 244.7h1.3M259.9 244.7h1.3M275.2 244.7h1.3M294.7 244.7h1.3M306.7 244.7h1.3M328.3 244.7h1.3M355.6 244.7h1.3M363.9 244.7h1.3M110.8 244h1.3M121.8 244h1.3M136.5 244h1.3M164.7 244h1.3M183.6 244h1.3M208.3 244h1.3M217.9 244h1.3M228.5 244h1.3M234.8 244h1.3M241.9 244h1.3M250.6 244h1.3M272.4 244h1.3M290.4 244h1.3M305.3 244h1.3M328 244h1.3M339.5 244h1.3M356.1 244h1.3M110.9 243.4h1.3M117.1 243.4h1.3M130.5 243.4h1.3M143.2 243.4h1.3M154.4 243.4h1.3M157.3 243.4h1.3M165 243.4h1.3M176.7 243.4h1.3M193 243.4h1.3M205.6 243.4h1.3M222.5 243.4h1.3M231.2 243.4h1.3M242.8 243.4h1.3M263.9 243.4h1.3M279.6 243.4h1.3M292.4 243.4h1.3M319.8 243.4h1.3M350.7 243.4h1.3M369.6 243.4h1.3M110.7 242.8h1.3M121.4 242.8h1.3M130.1 242.8h1.3M145.6 242.8h1.3M162 242.8h1.3M178.8 242.8h1.3M185.9 242.8h1.3M200 242.8h1.3M212.6 242.8h1.3M236.5 242.8h1.3M239.9 242.8h1.3M271.6 242.8h1.3M281 242.8h1.3M297.7 242.8h1.3M308.7 242.8h1.3M332.7 242.8h1.3M358.8 242.8h1.3M110.3 242.1h1.3M121.5 242.1h1.3M128.8 242.1h1.3M135.1 242.1h1.3M143.2 242.1h1.3M155.2 242.1h1.3M165.7 242.1h1.3M178.6 242.1h1.3M204.8 242.1h1.3M215.1 242.1h1.3M238.4 242.1h1.3M247.8 242.1h1.3M254.2 242.1h1.3M262.7 242.1h1.3M276.1 242.1h1.3M289.3 242.1h1.3M297.9 242.1h1.3M302.7 242.1h1.3M320.4 242.1h1.3M340.2 242.1h1.3M366 242.1h1.3M111.8 241.5h1.3M121.1 241.5h1.3M129.7 241.5h1.3M135.3 241.5h1.3M150.5 241.5h1.3M170.9 241.5h1.3M179.6 241.5h1.3M192.5 241.5h1.3M223.6 241.5h1.3M241.2 241.5h1.3M257.4 241.5h1.3M267.7 241.5h1.3M296 241.5h1.3M315.1 241.5h1.3M322.4 241.5h1.3M348.5 241.5h1.3M369.8 241.5h1.3M111.1 240.9h1.3M120.3 240.9h1.3M127.6 240.9h1.3M143.8 240.9h1.3M152.5 240.9h1.3M156.6 240.9h1.3M182.6 240.9h1.3M193.5 240.9h1.3M205.2 240.9h1.3M216.6 240.9h1.3M232 240.9h1.3M252.3 240.9h1.3M278.8 240.9h1.3M304.3 240.9h1.3M315.9 240.9h1.3M350.1 240.9h1.3M369.3 240.9h1.3M111.1 240.3h1.3M118.7 240.3h1.3M128.4 240.3h1.3M139.9 240.3h1.3M165.4 240.3h1.3M180.2 240.3h1.3M194.5 240.3h1.3M198.1 240.3h1.3M205.7 240.3h1.3M222.5 240.3h1.3M233.6 240.3h1.3M245.9 240.3h1.3M274.4 240.3h1.3M288.1 240.3h1.3M310 240.3h1.3M334 240.3h1.3M351.5 240.3h1.3M363.6 240.3h1.3M111 239.6h1.3M119.4 239.6h1.3M129.2 239.6h1.3M148.3 239.6h1.3M165.7 239.6h1.3M170.8 239.6h1.3M183.6 239.6h1.3M207.7 239.6h1.3M233.5 239.6h1.3M241.4 239.6h1.3M249.2 239.6h1.3M260.1 239.6h1.3M284.4 239.6h1.3M307.5 239.6h1.3M313.7 239.6h1.3M319.8 239.6h1.3M324.3 239.6h1.3M334.6 239.6h1.3M355.5 239.6h1.3M111.1 239h1.3M116.9 239h1.3M121.3 239h1.3M130.7 239h1.3M145.2 239h1.3M162.8 239h1.3M171.9 239h1.3M179.9 239h1.3M196.4 239h1.3M210 239h1.3M223.6 239h1.3M246.8 239h1.3M255.4 239h1.3M281.1 239h1.3M302.8 239h1.3M323.4 239h1.3M331.7 239h1.3M339.5 239h1.3M360.8 239h1.3M369.8 239h1.3M111.9 238.4h1.3M120.3 238.4h1.3M129.6 238.4h1.3M137.1 238.4h1.3M141.7 238.4h1.3M156.3 238.4h1.3M167.8 238.4h1.3M177.8 238.4h1.3M184.4 238.4h1.3M200.3 238.4h1.3M216.1 238.4h1.3M229.2 238.4h1.3M249.7 238.4h1.3M267.7 238.4h1.3M281.6 238.4h1.3M297.9 238.4h1.3M315 238.4h1.3M353.1 238.4h1.3M370.4 238.4h1.3M111.5 237.8h1.3M120.2 237.8h1.3M127.4 237.8h1.3M138.6 237.8h1.3M152.4 237.8h1.3M159 237.8h1.3M173.7 237.8h1.3M182.8 237.8h1.3M197.5 237.8h1.3M208.3 237.8h1.3M217.2 237.8h1.3M235.8 237.8h1.3M253.6 237.8h1.3M266.7 237.8h1.3M281.4 237.8h1.3M297.3 237.8h1.3M325 237.8h1.3M348.4 237.8h1.3M363.1 237.8h1.3M110.3 237.1h1.3M117.9 237.1h1.3M130 237.1h1.3M143.8 237.1h1.3M163 237.1h1.3M169.4 237.1h1.3M178.7 237.1h1.3M193.9 237.1h1.3M206.8 237.1h1.3M218.6 237.1h1.3M228.9 237.1h1.3M246.6 237.1h1.3M261.8 237.1h1.3M267.6 237.1h1.3M289.8 237.1h1.3M295.8 237.1h1.3M323.9 237.1h1.3M340 237.1h1.3M366.9 237.1h1.3M111.8 236.5h1.3M120.3 236.5h1.3M133 236.5h1.3M144.2 236.5h1.3M158.3 236.5h1.3M174.6 236.5h1.3M182.4 236.5h1.3M195.5 236.5h1.3M212.9 236.5h1.3M223.9 236.5h1.3M234.9 236.5h1.3M246.1 236.5h1.3M267.5 236.5h1.3M290.6 236.5h1.3M310.2 236.5h1.3M322.9 236.5h1.3M328.3 236.5h1.3M352.1 236.5h1.3M109.2 235.9h1.3M115.5 235.9h1.3M121.9 235.9h1.3M126.6 235.9h1.3M152.1 235.9h1.3M169.2 235.9h1.3M192.3 235.9h1.3M211.5 235.9h1.3M228.3 235.9h1.3M236.9 235.9h1.3M254.9 235.9h1.3M273 235.9h1.3M285.8 235.9h1.3M297.5 235.9h1.3M302.5 235.9h1.3M323 235.9h1.3M350.5 235.9h1.3M365.6 235.9h1.3M110.9 235.3h1.3M120.2 235.3h1.3M127.1 235.3h1.3M137.5 235.3h1.3M146.8 235.3h1.3M169.6 235.3h1.3M188.4 235.3h1.3M205 235.3h1.3M213.2 235.3h1.3M231 235.3h1.3M248.2 235.3h1.3M259.5 235.3h1.3M262.4 235.3h1.3M272.9 235.3h1.3M281.4 235.3h1.3M294.2 235.3h1.3M321.2 235.3h1.3M336.1 235.3h1.3M351.3 235.3h1.3M109.6 234.6h1.3M118.3 234.6h1.3M122.7 234.6h1.3M133.7 234.6h1.3M149 234.6h1.3M159.7 234.6h1.3M184.2 234.6h1.3M197.8 234.6h1.3M209.9 234.6h1.3M225.1 234.6h1.3M235.3 234.6h1.3M251.7 234.6h1.3M263.7 234.6h1.3M270.2 234.6h1.3M278.2 234.6h1.3M288.6 234.6h1.3M309.3 234.6h1.3M331.8 234.6h1.3M350.3 234.6h1.3M371.4 234.6h1.3M110.7 234h1.3M119 234h1.3M129.6 234h1.3M144.7 234h1.3M152.8 234h1.3M164.4 234h1.3M183.6 234h1.3M194 234h1.3M202.3 234h1.3M232.8 234h1.3M250.9 234h1.3M274.8 234h1.3M291.8 234h1.3M316.9 234h1.3M335.3 234h1.3M354 234h1.3M111.8 233.4h1.3M117.6 233.4h1.3M130.3 233.4h1.3M149.1 233.4h1.3M165.9 233.4h1.3M176.9 233.4h1.3M188.1 233.4h1.3M197.9 233.4h1.3M204.6 233.4h1.3M212.2 233.4h1.3M221.5 233.4h1.3M243.1 233.4h1.3M253 233.4h1.3M269.3 233.4h1.3M280.8 233.4h1.3M296.2 233.4h1.3M306.6 233.4h1.3M321.2 233.4h1.3M347.2 233.4h1.3M364.5 233.4h1.3M111.1 232.8h1.3M118.9 232.8h1.3M133.4 232.8h1.3M142.2 232.8h1.3M158.8 232.8h1.3M168 232.8h1.3M180.5 232.8h1.3M193.1 232.8h1.3M216.9 232.8h1.3M231.3 232.8h1.3M246.7 232.8h1.3M260.3 232.8h1.3M272.1 232.8h1.3M288.1 232.8h1.3M310.7 232.8h1.3M322.7 232.8h1.3M334.8 232.8h1.3M349.6 232.8h1.3M361.2 232.8h1.3M109.6 232.1h1.3M118.6 232.1h1.3M125.6 232.1h1.3M132.1 232.1h1.3M139.8 232.1h1.3M152.9 232.1h1.3M158.7 232.1h1.3M168.9 232.1h1.3M177.4 232.1h1.3M184.6 232.1h1.3M193.7 232.1h1.3M215.4 232.1h1.3M229.1 232.1h1.3M234.8 232.1h1.3M254.6 232.1h1.3M278.2 232.1h1.3M297.5 232.1h1.3M317.1 232.1h1.3M342.8 232.1h1.3M357.3 232.1h1.3M111.5 231.5h1.3M117.3 231.5h1.3M133.7 231.5h1.3M142.6 231.5h1.3M151.7 231.5h1.3M160.8 231.5h1.3M178 231.5h1.3M188.9 231.5h1.3M197.7 231.5h1.3M213 231.5h1.3M235.9 231.5h1.3M252.9 231.5h1.3M265.8 231.5h1.3M275.7 231.5h1.3M293.2 231.5h1.3M306.1 231.5h1.3M315.9 231.5h1.3M332.7 231.5h1.3M358 231.5h1.3M110.9 230.9h1.3M119.4 230.9h1.3M133.2 230.9h1.3M151.6 230.9h1.3M160.1 230.9h1.3M173.2 230.9h1.3M198.3 230.9h1.3M207.7 230.9h1.3M212.8 230.9h1.3M223.9 230.9h1.3M254.1 230.9h1.3M267.7 230.9h1.3M320.9 230.9h1.3M325.7 230.9h1.3M340.7 230.9h1.3M356 230.9h1.3M112 230.2h1.3M121 230.2h1.3M126.9 230.2h1.3M141.4 230.2h1.3M153 230.2h1.3M155.6 230.2h1.3M175.1 230.2h1.3M197.7 230.2h1.3M225.2 230.2h1.3M236.8 230.2h1.3M245.5 230.2h1.3M272.1 230.2h1.3M297.7 230.2h1.3M316.2 230.2h1.3M338.8 230.2h1.3M353.6 230.2h1.3M370.4 230.2h1.3M110.3 229.6h1.3M120.9 229.6h1.3M129.4 229.6h1.3M146.6 229.6h1.3M174.6 229.6h1.3M188.8 229.6h1.3M196.4 229.6h1.3M204.8 229.6h1.3M217.6 229.6h1.3M232 229.6h1.3M238.3 229.6h1.3M258.5 229.6h1.3M260.7 229.6h1.3M271.8 229.6h1.3M291.3 229.6h1.3M302.6 229.6h1.3M316.1 229.6h1.3M324.7 229.6h1.3M337.2 229.6h1.3M343.8 229.6h1.3M351.7 229.6h1.3M356.7 229.6h1.3M366 229.6h1.3M372 229.6h1.3M110.8 229h1.3M119.3 229h1.3M124.6 229h1.3M134.5 229h1.3M151.8 229h1.3M157.4 229h1.3M181.8 229h1.3M184.1 229h1.3M204.9 229h1.3M215.6 229h1.3M235.7 229h1.3M248.6 229h1.3M271.8 229h1.3M279.5 229h1.3M295.8 229h1.3M307.1 229h1.3M318.2 229h1.3M351.6 229h1.3M368.8 229h1.3M110 228.4h1.3M116.5 228.4h1.3M122 228.4h1.3M145.4 228.4h1.3M156.7 228.4h1.3M166 228.4h1.3M176.5 228.4h1.3M186.8 228.4h1.3M198 228.4h1.3M209.3 228.4h1.3M215.8 228.4h1.3M233.6 228.4h1.3M241.3 228.4h1.3M254.3 228.4h1.3M273.6 228.4h1.3M285.3 228.4h1.3M298.4 228.4h1.3M304.9 228.4h1.3M338.2 228.4h1.3M343.7 228.4h1.3M358.5 228.4h1.3M111.9 227.7h1.3M118.8 227.7h1.3M130.8 227.7h1.3M137.5 227.7h1.3M150.1 227.7h1.3M156.7 227.7h1.3M168.3 227.7h1.3M187.7 227.7h1.3M198.9 227.7h1.3M207.6 227.7h1.3M235 227.7h1.3M262.4 227.7h1.3M274.5 227.7h1.3M308.7 227.7h1.3M320.3 227.7h1.3M357.8 227.7h1.3M368.8 227.7h1.3M112.2 227.1h1.3M118.5 227.1h1.3M125.1 227.1h1.3M142.7 227.1h1.3M148.5 227.1h1.3M157.2 227.1h1.3M187.6 227.1h1.3M208.3 227.1h1.3M216.3 227.1h1.3M228.1 227.1h1.3M241.1 227.1h1.3M255.2 227.1h1.3M278.6 227.1h1.3M307.1 227.1h1.3M317.5 227.1h1.3M338.4 227.1h1.3M348 227.1h1.3M364.8 227.1h1.3M111.5 226.5h1.3M119 226.5h1.3M125.4 226.5h1.3M134.3 226.5h1.3M145.2 226.5h1.3M153.6 226.5h1.3M163.6 226.5h1.3M176.1 226.5h1.3M191.5 226.5h1.3M196.3 226.5h1.3M204.3 226.5h1.3M219.6 226.5h1.3M231.9 226.5h1.3M236.1 226.5h1.3M247.3 226.5h1.3M256.9 226.5h1.3M273 226.5h1.3M283.1 226.5h1.3M306.1 226.5h1.3M314.8 226.5h1.3M332.3 226.5h1.3M353.4 226.5h1.3M364.7 226.5h1.3M110.7 225.9h1.3M119.6 225.9h1.3M125.8 225.9h1.3M133.5 225.9h1.3M142.3 225.9h1.3M179 225.9h1.3M190 225.9h1.3M212 225.9h1.3M225.1 225.9h1.3M229.3 225.9h1.3M240.4 225.9h1.3M246 225.9h1.3M256.5 225.9h1.3M286.6 225.9h1.3M293.3 225.9h1.3M306.5 225.9h1.3M317.1 225.9h1.3M330.8 225.9h1.3M344.4 225.9h1.3M360.5 225.9h1.3M369.6 225.9h1.3M108.4 225.2h1.3M115.3 225.2h1.3M122.3 225.2h1.3M134.5 225.2h1.3M146.9 225.2h1.3M155.7 225.2h1.3M162 225.2h1.3M174 225.2h1.3M190.1 225.2h1.3M202.1 225.2h1.3M215.3 225.2h1.3M223.1 225.2h1.3M237.2 225.2h1.3M247.5 225.2h1.3M259.4 225.2h1.3M268.7 225.2h1.3M296.1 225.2h1.3M331.2 225.2h1.3M339.3 225.2h1.3M358.4 225.2h1.3M364.8 225.2h1.3M109.1 224.6h1.3M116.2 224.6h1.3M121.5 224.6h1.3M135.4 224.6h1.3M149.5 224.6h1.3M162.5 224.6h1.3M170.5 224.6h1.3M182.1 224.6h1.3M189.5 224.6h1.3M207 224.6h1.3M221.7 224.6h1.3M229.1 224.6h1.3M253.5 224.6h1.3M271.8 224.6h1.3M302.9 224.6h1.3M325.3 224.6h1.3M342.8 224.6h1.3M355.1 224.6h1.3M365.8 224.6h1.3M110.7 224h1.3M118.6 224h1.3M129 224h1.3M146.2 224h1.3M154 224h1.3M157.9 224h1.3M167 224h1.3M177.6 224h1.3M185.9 224h1.3M192.6 224h1.3M207.9 224h1.3M214.6 224h1.3M242.8 224h1.3M254.7 224h1.3M281.2 224h1.3M306.5 224h1.3M325.9 224h1.3M354.6 224h1.3M111 223.4h1.3M119.3 223.4h1.3M127.8 223.4h1.3M135.5 223.4h1.3M152.4 223.4h1.3M158.1 223.4h1.3M170.8 223.4h1.3M182.8 223.4h1.3M188.7 223.4h1.3M194.6 223.4h1.3M199.5 223.4h1.3M203.6 223.4h1.3M209.8 223.4h1.3M218.3 223.4h1.3M233.2 223.4h1.3M243.1 223.4h1.3M251.2 223.4h1.3M255.9 223.4h1.3M279.3 223.4h1.3M288.6 223.4h1.3M307.8 223.4h1.3M332.5 223.4h1.3M340.7 223.4h1.3M355.1 223.4h1.3M369.8 223.4h1.3M109.7 222.7h1.3M115.6 222.7h1.3M119.9 222.7h1.3M128.6 222.7h1.3M137.5 222.7h1.3M141.8 222.7h1.3M163.4 222.7h1.3M173.7 222.7h1.3M181.5 222.7h1.3M188 222.7h1.3M197.9 222.7h1.3M212.8 222.7h1.3M236.6 222.7h1.3M247 222.7h1.3M261.4 222.7h1.3M287.3 222.7h1.3M300.3 222.7h1.3M333.4 222.7h1.3M341 222.7h1.3M109.8 222.1h1.3M118.3 222.1h1.3M124.5 222.1h1.3M130.7 222.1h1.3M144 222.1h1.3M161.3 222.1h1.3M173.7 222.1h1.3M179.1 222.1h1.3M189.5 222.1h1.3M199.3 222.1h1.3M210.8 222.1h1.3M231.7 222.1h1.3M242.6 222.1h1.3M247.9 222.1h1.3M274.8 222.1h1.3M285.5 222.1h1.3M306.5 222.1h1.3M326.7 222.1h1.3M344.4 222.1h1.3M356.6 222.1h1.3M368 222.1h1.3M110.1 221.5h1.3M114.4 221.5h1.3M119.3 221.5h1.3M128.6 221.5h1.3M153.8 221.5h1.3M176.2 221.5h1.3M182.9 221.5h1.3M203.6 221.5h1.3M218.3 221.5h1.3M226.3 221.5h1.3M252.8 221.5h1.3M274.9 221.5h1.3M283.2 221.5h1.3M295.3 221.5h1.3M315.3 221.5h1.3M323.5 221.5h1.3M331.1 221.5h1.3M344 221.5h1.3M355.8 221.5h1.3M370.9 221.5h1.3M111.4 220.9h1.3M119.8 220.9h1.3M126.3 220.9h1.3M143.7 220.9h1.3M171.2 220.9h1.3M186.6 220.9h1.3M207.5 220.9h1.3M224.2 220.9h1.3M232.6 220.9h1.3M236.7 220.9h1.3M248.2 220.9h1.3M265.8 220.9h1.3M275.5 220.9h1.3M286.5 220.9h1.3M307.4 220.9h1.3M328.5 220.9h1.3M357.7 220.9h1.3M108.7 220.2h1.3M116.7 220.2h1.3M127.2 220.2h1.3M141.2 220.2h1.3M165.9 220.2h1.3M180.7 220.2h1.3M189 220.2h1.3M196.7 220.2h1.3M201 220.2h1.3M218.4 220.2h1.3M229.4 220.2h1.3M249.5 220.2h1.3M263.2 220.2h1.3M276.7 220.2h1.3M296.6 220.2h1.3M330.9 220.2h1.3M346.7 220.2h1.3M362.5 220.2h1.3M109.5 219.6h1.3M115.8 219.6h1.3M122.9 219.6h1.3M141.8 219.6h1.3M154 219.6h1.3M168.8 219.6h1.3M176.9 219.6h1.3M200.2 219.6h1.3M214.2 219.6h1.3M224 219.6h1.3M245.6 219.6h1.3M269.7 219.6h1.3M297.7 219.6h1.3M315.2 219.6h1.3M329.2 219.6h1.3M343.8 219.6h1.3M368.6 219.6h1.3M110.8 219h1.3M118.8 219h1.3M124.5 219h1.3M138.8 219h1.3M148.4 219h1.3M165.3 219h1.3M172.1 219h1.3M179.9 219h1.3M200.4 219h1.3M228.5 219h1.3M237.1 219h1.3M248.1 219h1.3M266 219h1.3M277.6 219h1.3M290.1 219h1.3M324 219h1.3M337.4 219h1.3M360.7 219h1.3M109.9 218.3h1.3M117.2 218.3h1.3M131.5 218.3h1.3M150.3 218.3h1.3M156.7 218.3h1.3M170.8 218.3h1.3M185.3 218.3h1.3M194.3 218.3h1.3M217.6 218.3h1.3M225.7 218.3h1.3M248.7 218.3h1.3M259.9 218.3h1.3M280.8 218.3h1.3M294.4 218.3h1.3M297.8 218.3h1.3M312.3 218.3h1.3M330 218.3h1.3M110.3 217.7h1.3M119.8 217.7h1.3M129.8 217.7h1.3M134.9 217.7h1.3M150.8 217.7h1.3M159.3 217.7h1.3M170.9 217.7h1.3M186.8 217.7h1.3M195.5 217.7h1.3M210.9 217.7h1.3M241.4 217.7h1.3M249 217.7h1.3M259.6 217.7h1.3M264.9 217.7h1.3M274.3 217.7h1.3M292.7 217.7h1.3M317 217.7h1.3M321.8 217.7h1.3M351.8 217.7h1.3M363.8 217.7h1.3M110.4 217.1h1.3M118.6 217.1h1.3M131.9 217.1h1.3M151 217.1h1.3M162.2 217.1h1.3M176.6 217.1h1.3M182.7 217.1h1.3M194.2 217.1h1.3M210 217.1h1.3M219.2 217.1h1.3M242.4 217.1h1.3M258.2 217.1h1.3M271.8 217.1h1.3M290.4 217.1h1.3M318.3 217.1h1.3M331.2 217.1h1.3M336.6 217.1h1.3M350.5 217.1h1.3M360.9 217.1h1.3M112.4 216.5h1.3M121.9 216.5h1.3M130.9 216.5h1.3M141.2 216.5h1.3M147.9 216.5h1.3M163.3 216.5h1.3M177.6 216.5h1.3M192.5 216.5h1.3M209.4 216.5h1.3M221.3 216.5h1.3M234.2 216.5h1.3M250.4 216.5h1.3M288.3 216.5h1.3M305.8 216.5h1.3M311.4 216.5h1.3M322.9 216.5h1.3M352.5 216.5h1.3M354.9 216.5h1.3M368.4 216.5h1.3M110.5 215.8h1.3M122.6 215.8h1.3M128.3 215.8h1.3M141.4 215.8h1.3M146.9 215.8h1.3M159.7 215.8h1.3M168.5 215.8h1.3M177.5 215.8h1.3M195 215.8h1.3M216.8 215.8h1.3M225 215.8h1.3M233.6 215.8h1.3M251.3 215.8h1.3M264.6 215.8h1.3M270.8 215.8h1.3M289.4 215.8h1.3M307.3 215.8h1.3M323.4 215.8h1.3M334 215.8h1.3M347.4 215.8h1.3M110.9 215.2h1.3M118.9 215.2h1.3M129.1 215.2h1.3M133.6 215.2h1.3M154.6 215.2h1.3M162.7 215.2h1.3M168.5 215.2h1.3M182.4 215.2h1.3M195.8 215.2h1.3M205.7 215.2h1.3M220.2 215.2h1.3M238.9 215.2h1.3M257.7 215.2h1.3M272.1 215.2h1.3M291.7 215.2h1.3M302.9 215.2h1.3M316.8 215.2h1.3M325.3 215.2h1.3M346 215.2h1.3M369.4 215.2h1.3M109.5 214.6h1.3M117.4 214.6h1.3M128.7 214.6h1.3M141.3 214.6h1.3M153.2 214.6h1.3M164.4 214.6h1.3M184 214.6h1.3M196.3 214.6h1.3M205.3 214.6h1.3M221 214.6h1.3M230.6 214.6h1.3M236 214.6h1.3M253.3 214.6h1.3M268 214.6h1.3M275.5 214.6h1.3M295.7 214.6h1.3M308.3 214.6h1.3M316.3 214.6h1.3M335.2 214.6h1.3M360 214.6h1.3M108.7 214h1.3M119.7 214h1.3M130.5 214h1.3M141.1 214h1.3M149.8 214h1.3M165 214h1.3M170 214h1.3M182.5 214h1.3M191.8 214h1.3M214.9 214h1.3M239.1 214h1.3M247.5 214h1.3M268.3 214h1.3M292.8 214h1.3M300.6 214h1.3M320.8 214h1.3M329.7 214h1.3M360.9 214h1.3M370.1 214h1.3M110.9 213.3h1.3M121.8 213.3h1.3M130.8 213.3h1.3M143.6 213.3h1.3M148 213.3h1.3M164.8 213.3h1.3M187.6 213.3h1.3M198.3 213.3h1.3M204.9 213.3h1.3M216.1 213.3h1.3M224.6 213.3h1.3M244.3 213.3h1.3M248.4 213.3h1.3M257.1 213.3h1.3M271.5 213.3h1.3M307.8 213.3h1.3M333.2 213.3h1.3M350.8 213.3h1.3M111.4 212.7h1.3M121.8 212.7h1.3M126.2 212.7h1.3M134.3 212.7h1.3M139.8 212.7h1.3M149.5 212.7h1.3M159.7 212.7h1.3M179.4 212.7h1.3M188.6 212.7h1.3M204.9 212.7h1.3M225.5 212.7h1.3M236.4 212.7h1.3M247.6 212.7h1.3M258.1 212.7h1.3M265.5 212.7h1.3M283.1 212.7h1.3M304.9 212.7h1.3M306.7 212.7h1.3M320.9 212.7h1.3M330.1 212.7h1.3M360.8 212.7h1.3M110.6 212.1h1.3M118.5 212.1h1.3M132.2 212.1h1.3M137.6 212.1h1.3M152 212.1h1.3M170.1 212.1h1.3M174.8 212.1h1.3M185.2 212.1h1.3M198.8 212.1h1.3M215.1 212.1h1.3M238.6 212.1h1.3M262.6 212.1h1.3M293.4 212.1h1.3M301.5 212.1h1.3M316.4 212.1h1.3M335.9 212.1h1.3M368.5 212.1h1.3M371.9 212.1h1.3M111 211.5h1.3M118 211.5h1.3M122.3 211.5h1.3M132.2 211.5h1.3M144.3 211.5h1.3M153.4 211.5h1.3M183.7 211.5h1.3M192.9 211.5h1.3M201.9 211.5h1.3M209.2 211.5h1.3M234.6 211.5h1.3M265.2 211.5h1.3M281 211.5h1.3M300.7 211.5h1.3M317 211.5h1.3M329 211.5h1.3M339.4 211.5h1.3M361 211.5h1.3M368.7 211.5h1.3M110.2 210.8h1.3M117.9 210.8h1.3M128.5 210.8h1.3M138.8 210.8h1.3M161.9 210.8h1.3M174.7 210.8h1.3M192.5 210.8h1.3M200 210.8h1.3M203.5 210.8h1.3M221.2 210.8h1.3M232.3 210.8h1.3M248.9 210.8h1.3M263.9 210.8h1.3M274.7 210.8h1.3M289.7 210.8h1.3M303.8 210.8h1.3M316.6 210.8h1.3M346.3 210.8h1.3M350.2 210.8h1.3M110.3 210.2h1.3M119.5 210.2h1.3M133.2 210.2h1.3M149.2 210.2h1.3M170.8 210.2h1.3M180.5 210.2h1.3M188.6 210.2h1.3M200.5 210.2h1.3M203.8 210.2h1.3M216.5 210.2h1.3M230.1 210.2h1.3M255.1 210.2h1.3M265 210.2h1.3M281.3 210.2h1.3M290.1 210.2h1.3M309.5 210.2h1.3M329 210.2h1.3M358.8 210.2h1.3M110.6 209.6h1.3M120.2 209.6h1.3M124.6 209.6h1.3M133.8 209.6h1.3M148.8 209.6h1.3M165.8 209.6h1.3M184.2 209.6h1.3M191 209.6h1.3M199.1 209.6h1.3M217.5 209.6h1.3M230.3 209.6h1.3M244 209.6h1.3M258.3 209.6h1.3M282.8 209.6h1.3M294.9 209.6h1.3M306.7 209.6h1.3M324.9 209.6h1.3M333.4 209.6h1.3M345 209.6h1.3M361.5 209.6h1.3M111.3 208.9h1.3M118.6 208.9h1.3M129.5 208.9h1.3M138.8 208.9h1.3M150 208.9h1.3M166.3 208.9h1.3M189.8 208.9h1.3M208.8 208.9h1.3M218.3 208.9h1.3M235.8 208.9h1.3M245.9 208.9h1.3M253.2 208.9h1.3M264.6 208.9h1.3M290.3 208.9h1.3M306.1 208.9h1.3M323.7 208.9h1.3M332.4 208.9h1.3M350.4 208.9h1.3M356.3 208.9h1.3M364.3 208.9h1.3M110 208.3h1.3M117.6 208.3h1.3M121.9 208.3h1.3M127.1 208.3h1.3M132.2 208.3h1.3M151.6 208.3h1.3M171.6 208.3h1.3M188.3 208.3h1.3M206.8 208.3h1.3M220.8 208.3h1.3M235.6 208.3h1.3M247.5 208.3h1.3M256.3 208.3h1.3M278.3 208.3h1.3M286.7 208.3h1.3M304.8 208.3h1.3M332.7 208.3h1.3M110.6 207.7h1.3M119.5 207.7h1.3M132.4 207.7h1.3M150 207.7h1.3M161.7 207.7h1.3M169.7 207.7h1.3M195.6 207.7h1.3M198.4 207.7h1.3M209.5 207.7h1.3M237.1 207.7h1.3M256.4 207.7h1.3M278.3 207.7h1.3M285.1 207.7h1.3M295.2 207.7h1.3M299.6 207.7h1.3M312.7 207.7h1.3M323.6 207.7h1.3M338.5 207.7h1.3M346.1 207.7h1.3M109.7 207.1h1.3M118.9 207.1h1.3M130.8 207.1h1.3M147.3 207.1h1.3M162.4 207.1h1.3M173.5 207.1h1.3M183.1 207.1h1.3M198.3 207.1h1.3M212.4 207.1h1.3M227.6 207.1h1.3M235.3 207.1h1.3M249.3 207.1h1.3M269.8 207.1h1.3M292.3 207.1h1.3M305.4 207.1h1.3M332.9 207.1h1.3M347.7 207.1h1.3M364.4 207.1h1.3M110.7 206.4h1.3M121.1 206.4h1.3M130 206.4h1.3M134.6 206.4h1.3M154.5 206.4h1.3M159.4 206.4h1.3M162.7 206.4h1.3M180.7 206.4h1.3M187.6 206.4h1.3M212.2 206.4h1.3M223.4 206.4h1.3M233.1 206.4h1.3M244.4 206.4h1.3M257.3 206.4h1.3M271.3 206.4h1.3M280.2 206.4h1.3M294.6 206.4h1.3M308.9 206.4h1.3M318.9 206.4h1.3M325 206.4h1.3M352.4 206.4h1.3M358.5 206.4h1.3M110.1 205.8h1.3M117.2 205.8h1.3M125.4 205.8h1.3M129 205.8h1.3M138 205.8h1.3M141.9 205.8h1.3M155.7 205.8h1.3M165.5 205.8h1.3M175.2 205.8h1.3M187.5 205.8h1.3M196 205.8h1.3M205.7 205.8h1.3M215.4 205.8h1.3M233.3 205.8h1.3M251.2 205.8h1.3M280.9 205.8h1.3M298.1 205.8h1.3M322 205.8h1.3M344 205.8h1.3M109.9 205.2h1.3M117.7 205.2h1.3M124.5 205.2h1.3M138.4 205.2h1.3M156.5 205.2h1.3M169.4 205.2h1.3M176.1 205.2h1.3M187.1 205.2h1.3M206.2 205.2h1.3M214.2 205.2h1.3M224.6 205.2h1.3M239.8 205.2h1.3M251.6 205.2h1.3M274.1 205.2h1.3M305.1 205.2h1.3M327.4 205.2h1.3M341.2 205.2h1.3M361.6 205.2h1.3M109.8 204.6h1.3M118.9 204.6h1.3M127.8 204.6h1.3M148.9 204.6h1.3M158.6 204.6h1.3M177.8 204.6h1.3M184.2 204.6h1.3M198.5 204.6h1.3M201.5 204.6h1.3M214.4 204.6h1.3M226.3 204.6h1.3M238.8 204.6h1.3M257.6 204.6h1.3M266.1 204.6h1.3M296.6 204.6h1.3M303.9 204.6h1.3M313 204.6h1.3M321.7 204.6h1.3M340.9 204.6h1.3M355.3 204.6h1.3M109.2 203.9h1.3M116.9 203.9h1.3M126.2 203.9h1.3M129.4 203.9h1.3M141.8 203.9h1.3M145.4 203.9h1.3M157.9 203.9h1.3M171.9 203.9h1.3M188.2 203.9h1.3M228.9 203.9h1.3M244.3 203.9h1.3M272.7 203.9h1.3M291.9 203.9h1.3M305.8 203.9h1.3M316.9 203.9h1.3M334.3 203.9h1.3M343.8 203.9h1.3M356.5 203.9h1.3M109.5 203.3h1.3M118.4 203.3h1.3M131.2 203.3h1.3M163.1 203.3h1.3M178.6 203.3h1.3M194.4 203.3h1.3M201.2 203.3h1.3M224.6 203.3h1.3M266.7 203.3h1.3M270.6 203.3h1.3M290.2 203.3h1.3M300.3 203.3h1.3M330.6 203.3h1.3M345.8 203.3h1.3M370.6 203.3h1.3M108.9 202.7h1.3M113.9 202.7h1.3M124 202.7h1.3M137.7 202.7h1.3M152.3 202.7h1.3M160.2 202.7h1.3M178.9 202.7h1.3M190.7 202.7h1.3M194.9 202.7h1.3M216.7 202.7h1.3M222.4 202.7h1.3M246.3 202.7h1.3M282.1 202.7h1.3M296.9 202.7h1.3M302.4 202.7h1.3M317.7 202.7h1.3M329.8 202.7h1.3M353.9 202.7h1.3M110.6 202.1h1.3M120.6 202.1h1.3M129.4 202.1h1.3M142 202.1h1.3M160.9 202.1h1.3M177.7 202.1h1.3M192.1 202.1h1.3M197.7 202.1h1.3M205.1 202.1h1.3M230 202.1h1.3M241.9 202.1h1.3M250.7 202.1h1.3M272.9 202.1h1.3M285 202.1h1.3M296.5 202.1h1.3M311.7 202.1h1.3M343.2 202.1h1.3M351.5 202.1h1.3M110 201.4h1.3M120.3 201.4h1.3M129.7 201.4h1.3M140.9 201.4h1.3M146.2 201.4h1.3M152.8 201.4h1.3M160.3 201.4h1.3M178 201.4h1.3M190.6 201.4h1.3M203.1 201.4h1.3M214.3 201.4h1.3M238.3 201.4h1.3M254.6 201.4h1.3M262.7 201.4h1.3M282.9 201.4h1.3M288.6 201.4h1.3M305.2 201.4h1.3M319 201.4h1.3M338.8 201.4h1.3M345.5 201.4h1.3M368.7 201.4h1.3M110.4 200.8h1.3M121.8 200.8h1.3M127.4 200.8h1.3M143.2 200.8h1.3M168 200.8h1.3M175.2 200.8h1.3M184.9 200.8h1.3M203.2 200.8h1.3M212.8 200.8h1.3M217.4 200.8h1.3M229.4 200.8h1.3M253.4 200.8h1.3M267.6 200.8h1.3M282.1 200.8h1.3M300.3 200.8h1.3M317.1 200.8h1.3M323.3 200.8h1.3M337.5 200.8h1.3M349.1 200.8h1.3M358.7 200.8h1.3M112 200.2h1.3M120.5 200.2h1.3M125.9 200.2h1.3M140.7 200.2h1.3M144.4 200.2h1.3M168.5 200.2h1.3M178.5 200.2h1.3M193.4 200.2h1.3M204.9 200.2h1.3M218.4 200.2h1.3M235.1 200.2h1.3M246.9 200.2h1.3M256 200.2h1.3M262.7 200.2h1.3M279.6 200.2h1.3M291.4 200.2h1.3M300 200.2h1.3M311.1 200.2h1.3M320.3 200.2h1.3M337.2 200.2h1.3M369.7 200.2h1.3M110.7 199.6h1.3M118.4 199.6h1.3M124.8 199.6h1.3M133.4 199.6h1.3M150.7 199.6h1.3M165.4 199.6h1.3M197.7 199.6h1.3M205.6 199.6h1.3M219.6 199.6h1.3M229.3 199.6h1.3M233.6 199.6h1.3M243 199.6h1.3M264.8 199.6h1.3M293.1 199.6h1.3M307.3 199.6h1.3M325.8 199.6h1.3M344.5 199.6h1.3M371.8 199.6h1.3M111.9 198.9h1.3M120.9 198.9h1.3M133.5 198.9h1.3M139 198.9h1.3M153 198.9h1.3M158.3 198.9h1.3M169.1 198.9h1.3M182.7 198.9h1.3M207.7 198.9h1.3M223.8 198.9h1.3M233.3 198.9h1.3M260.6 198.9h1.3M275.9 198.9h1.3M312 198.9h1.3M330.1 198.9h1.3M354.3 198.9h1.3M110.5 198.3h1.3M119.1 198.3h1.3M132.8 198.3h1.3M145.1 198.3h1.3M159.2 198.3h1.3M173.5 198.3h1.3M183 198.3h1.3M191.6 198.3h1.3M198.3 198.3h1.3M203.4 198.3h1.3M223 198.3h1.3M244.7 198.3h1.3M264.5 198.3h1.3M279.1 198.3h1.3M289.6 198.3h1.3M309.7 198.3h1.3M317.2 198.3h1.3M321 198.3h1.3M343 198.3h1.3M372.2 198.3h1.3M110.8 197.7h1.3M119.8 197.7h1.3M126.1 197.7h1.3M131.9 197.7h1.3M143 197.7h1.3M148.7 197.7h1.3M169.1 197.7h1.3M176.1 197.7h1.3M183.9 197.7h1.3M203.9 197.7h1.3M219.6 197.7h1.3M240 197.7h1.3M249.6 197.7h1.3M262.5 197.7h1.3M281.9 197.7h1.3M299.2 197.7h1.3M310.8 197.7h1.3M320.5 197.7h1.3M330.6 197.7h1.3M345.1 197.7h1.3M354.7 197.7h1.3M110.8 197h1.3M122.3 197h1.3M137.5 197h1.3M143.7 197h1.3M160.1 197h1.3M170.7 197h1.3M197.4 197h1.3M203.2 197h1.3M214.4 197h1.3M222.5 197h1.3M238.2 197h1.3M243.5 197h1.3M257.8 197h1.3M279.3 197h1.3M286.9 197h1.3M304.7 197h1.3M323.6 197h1.3M335.2 197h1.3M352.5 197h1.3M367.3 197h1.3M111.7 196.4h1.3M121.3 196.4h1.3M133.7 196.4h1.3M140 196.4h1.3M151.1 196.4h1.3M157.4 196.4h1.3M169.1 196.4h1.3M179.7 196.4h1.3M195.8 196.4h1.3M211.9 196.4h1.3M218 196.4h1.3M236.6 196.4h1.3M248.9 196.4h1.3M256.4 196.4h1.3M264.6 196.4h1.3M279.8 196.4h1.3M312.7 196.4h1.3M324.9 196.4h1.3M337.8 196.4h1.3M367 196.4h1.3M109.9 195.8h1.3M118.8 195.8h1.3M128 195.8h1.3M144 195.8h1.3M165 195.8h1.3M181 195.8h1.3M203.4 195.8h1.3M212.6 195.8h1.3M227.6 195.8h1.3M240.6 195.8h1.3M275 195.8h1.3M295.2 195.8h1.3M306.3 195.8h1.3M315.1 195.8h1.3M327.5 195.8h1.3M337 195.8h1.3M345.1 195.8h1.3M365.1 195.8h1.3M109.1 195.2h1.3M118.1 195.2h1.3M127.2 195.2h1.3M139.9 195.2h1.3M144.6 195.2h1.3M157.8 195.2h1.3M182.8 195.2h1.3M186.8 195.2h1.3M193.6 195.2h1.3M235.1 195.2h1.3M256.9 195.2h1.3M272.3 195.2h1.3M281.3 195.2h1.3M288.4 195.2h1.3M303.2 195.2h1.3M332.4 195.2h1.3M363.7 195.2h1.3M109.1 194.5h1.3M118.3 194.5h1.3M126.5 194.5h1.3M134.4 194.5h1.3M160 194.5h1.3M171.7 194.5h1.3M179.5 194.5h1.3M198 194.5h1.3M204.7 194.5h1.3M228.2 194.5h1.3M239.6 194.5h1.3M259.2 194.5h1.3M272.9 194.5h1.3M282.5 194.5h1.3M288.3 194.5h1.3M297 194.5h1.3M325.2 194.5h1.3M337.7 194.5h1.3M344.6 194.5h1.3M371 194.5h1.3M108.8 193.9h1.3M118 193.9h1.3M127.5 193.9h1.3M141.9 193.9h1.3M164.6 193.9h1.3M173.6 193.9h1.3M181.8 193.9h1.3M209.9 193.9h1.3M230.2 193.9h1.3M249.8 193.9h1.3M257.8 193.9h1.3M267 193.9h1.3M280.9 193.9h1.3M295.4 193.9h1.3M302.6 193.9h1.3M319.2 193.9h1.3M338 193.9h1.3M347.2 193.9h1.3M366.6 193.9h1.3M109.5 193.3h1.3M117.7 193.3h1.3M126.2 193.3h1.3M129.2 193.3h1.3M137.8 193.3h1.3M141.5 193.3h1.3M162.5 193.3h1.3M181.7 193.3h1.3M191.5 193.3h1.3M204.9 193.3h1.3M217.5 193.3h1.3M224 193.3h1.3M237.2 193.3h1.3M252.6 193.3h1.3M264.7 193.3h1.3M288.5 193.3h1.3M298.3 193.3h1.3M315.4 193.3h1.3M337.6 193.3h1.3M364.9 193.3h1.3M109.4 192.7h1.3M118.2 192.7h1.3M129.3 192.7h1.3M136.8 192.7h1.3M143.6 192.7h1.3M153.2 192.7h1.3M169.3 192.7h1.3M174.8 192.7h1.3M194.7 192.7h1.3M204.3 192.7h1.3M224.8 192.7h1.3M250.6 192.7h1.3M274.3 192.7h1.3M281.8 192.7h1.3M294.9 192.7h1.3M308.7 192.7h1.3M319.9 192.7h1.3M344.9 192.7h1.3M353 192.7h1.3M371.6 192.7h1.3M110.7 192h1.3M121.7 192h1.3M133.5 192h1.3M154.3 192h1.3M166.5 192h1.3M178 192h1.3M186.9 192h1.3M193.5 192h1.3M205.6 192h1.3M224.4 192h1.3M249.5 192h1.3M269.1 192h1.3M279.8 192h1.3M295.3 192h1.3M333.7 192h1.3M345.1 192h1.3M360.6 192h1.3M366.4 192h1.3M112.7 191.4h1.3M121.6 191.4h1.3M128.9 191.4h1.3M140.2 191.4h1.3M142.8 191.4h1.3M163.5 191.4h1.3M184.6 191.4h1.3M191.7 191.4h1.3M203.7 191.4h1.3M218 191.4h1.3M232 191.4h1.3M249.2 191.4h1.3M257.2 191.4h1.3M270.4 191.4h1.3M281.3 191.4h1.3M288.2 191.4h1.3M311.6 191.4h1.3M324.8 191.4h1.3M334.9 191.4h1.3M362.7 191.4h1.3M110.9 190.8h1.3M119.2 190.8h1.3M123.6 190.8h1.3M132.3 190.8h1.3M146.2 190.8h1.3M155.2 190.8h1.3M165.1 190.8h1.3M170.8 190.8h1.3M181.5 190.8h1.3M195.2 190.8h1.3M213.2 190.8h1.3M224 190.8h1.3M237 190.8h1.3M266.2 190.8h1.3M296.8 190.8h1.3M306.7 190.8h1.3M329.2 190.8h1.3M337.1 190.8h1.3M350.7 190.8h1.3M110.7 190.2h1.3M119.4 190.2h1.3M126.6 190.2h1.3M130.7 190.2h1.3M142.7 190.2h1.3M152.2 190.2h1.3M161 190.2h1.3M176.7 190.2h1.3M193.2 190.2h1.3M203.2 190.2h1.3M217 190.2h1.3M233.7 190.2h1.3M265.2 190.2h1.3M282 190.2h1.3M301 190.2h1.3M317.6 190.2h1.3M324.9 190.2h1.3M338.6 190.2h1.3M359.1 190.2h1.3M372.1 190.2h1.3M110.6 189.5h1.3M118.3 189.5h1.3M127.1 189.5h1.3M141 189.5h1.3M164.5 189.5h1.3M180.3 189.5h1.3M204.7 189.5h1.3M221.7 189.5h1.3M238.2 189.5h1.3M262 189.5h1.3M272.4 189.5h1.3M283.3 189.5h1.3M293 189.5h1.3M315.8 189.5h1.3M348.5 189.5h1.3M366.5 189.5h1.3M110.5 188.9h1.3M117.6 188.9h1.3M133.6 188.9h1.3M144.4 188.9h1.3M150.4 188.9h1.3M155.9 188.9h1.3M176 188.9h1.3M182.2 188.9h1.3M191.9 188.9h1.3M203.1 188.9h1.3M220.5 188.9h1.3M234 188.9h1.3M242.7 188.9h1.3M259.6 188.9h1.3M272.6 188.9h1.3M292.2 188.9h1.3M303 188.9h1.3M311.8 188.9h1.3M321.9 188.9h1.3M353.2 188.9h1.3M369.4 188.9h1.3M111.3 188.3h1.3M120 188.3h1.3M129.2 188.3h1.3M138.9 188.3h1.3M148.5 188.3h1.3M173.3 188.3h1.3M188.9 188.3h1.3M204 188.3h1.3M223.1 188.3h1.3M234.5 188.3h1.3M249.7 188.3h1.3M262.8 188.3h1.3M276.9 188.3h1.3M290.2 188.3h1.3M295.8 188.3h1.3M305.7 188.3h1.3M329.4 188.3h1.3M331.1 188.3h1.3M338.4 188.3h1.3M350.5 188.3h1.3M371.6 188.3h1.3M110.8 187.7h1.3M118.1 187.7h1.3M130.1 187.7h1.3M136.9 187.7h1.3M154.7 187.7h1.3M179.6 187.7h1.3M193.2 187.7h1.3M209.2 187.7h1.3M232.2 187.7h1.3M240.6 187.7h1.3M259 187.7h1.3M274.4 187.7h1.3M293.4 187.7h1.3M309.2 187.7h1.3M320 187.7h1.3M340.6 187.7h1.3M350.8 187.7h1.3M369.5 187.7h1.3M110.9 187h1.3M117 187h1.3M132.8 187h1.3M142 187h1.3M155.7 187h1.3M166.5 187h1.3M171.5 187h1.3M203.7 187h1.3M213.5 187h1.3M224 187h1.3M248.8 187h1.3M259.5 187h1.3M289.6 187h1.3M304.4 187h1.3M316.9 187h1.3M330.3 187h1.3M350.8 187h1.3M365.2 187h1.3M111 186.4h1.3M117.7 186.4h1.3M133.9 186.4h1.3M140.5 186.4h1.3M156 186.4h1.3M165.1 186.4h1.3M176.8 186.4h1.3M187.8 186.4h1.3M194.6 186.4h1.3M211.9 186.4h1.3M222.5 186.4h1.3M232.5 186.4h1.3M252 186.4h1.3M263.9 186.4h1.3M281.8 186.4h1.3M315.3 186.4h1.3M336.4 186.4h1.3M361.9 186.4h1.3M109.2 185.8h1.3M117.2 185.8h1.3M129.4 185.8h1.3M155.7 185.8h1.3M168 185.8h1.3M182.4 185.8h1.3M185.2 185.8h1.3M194.1 185.8h1.3M206 185.8h1.3M220.7 185.8h1.3M226.7 185.8h1.3M239.7 185.8h1.3M261.8 185.8h1.3M274.3 185.8h1.3M290.4 185.8h1.3M292.9 185.8h1.3M301 185.8h1.3M319 185.8h1.3M335.5 185.8h1.3M372 185.8h1.3M110.6 185.1h1.3M120.2 185.1h1.3M127.9 185.1h1.3M136.9 185.1h1.3M145.3 185.1h1.3M164.1 185.1h1.3M168.9 185.1h1.3M176.4 185.1h1.3M187.1 185.1h1.3M202.2 185.1h1.3M207.6 185.1h1.3M229.8 185.1h1.3M248.6 185.1h1.3M261 185.1h1.3M275.4 185.1h1.3M291.7 185.1h1.3M306.9 185.1h1.3M324.6 185.1h1.3M347.7 185.1h1.3M352.6 185.1h1.3M371.4 185.1h1.3M112 184.5h1.3M119.4 184.5h1.3M128.1 184.5h1.3M145.9 184.5h1.3M175.4 184.5h1.3M183.4 184.5h1.3M195.9 184.5h1.3M218 184.5h1.3M227.2 184.5h1.3M247.5 184.5h1.3M265.9 184.5h1.3M283.3 184.5h1.3M301.9 184.5h1.3M311.9 184.5h1.3M319 184.5h1.3M327.2 184.5h1.3M341.2 184.5h1.3M356.6 184.5h1.3M369.5 184.5h1.3M110.1 183.9h1.3M116.7 183.9h1.3M125.5 183.9h1.3M136.8 183.9h1.3M148.9 183.9h1.3M152.6 183.9h1.3M161.3 183.9h1.3M175.4 183.9h1.3M189 183.9h1.3M195 183.9h1.3M202.2 183.9h1.3M209.7 183.9h1.3M228.4 183.9h1.3M234.8 183.9h1.3M259.1 183.9h1.3M262.3 183.9h1.3M269.9 183.9h1.3M288.8 183.9h1.3M299.2 183.9h1.3M336.2 183.9h1.3M362.8 183.9h1.3M111 183.3h1.3M117.6 183.3h1.3M127.1 183.3h1.3M134.2 183.3h1.3M146.7 183.3h1.3M153.6 183.3h1.3M162.2 183.3h1.3M168.6 183.3h1.3M176.6 183.3h1.3M193.1 183.3h1.3M210.6 183.3h1.3M219.3 183.3h1.3M225.9 183.3h1.3M245.1 183.3h1.3M257.7 183.3h1.3M265.5 183.3h1.3M284.9 183.3h1.3M292.7 183.3h1.3M308.3 183.3h1.3M321.6 183.3h1.3M340.1 183.3h1.3M346.4 183.3h1.3M109.3 182.6h1.3M117.6 182.6h1.3M125.3 182.6h1.3M138.5 182.6h1.3M149.6 182.6h1.3M158.4 182.6h1.3M179.3 182.6h1.3M187.2 182.6h1.3M194.1 182.6h1.3M212.9 182.6h1.3M232.2 182.6h1.3M250.3 182.6h1.3M272.8 182.6h1.3M289.4 182.6h1.3M303.4 182.6h1.3M325.3 182.6h1.3M337 182.6h1.3M353.5 182.6h1.3M110.3 182h1.3M118.3 182h1.3M126.4 182h1.3M133.4 182h1.3M142.2 182h1.3M155.4 182h1.3M165.2 182h1.3M191.5 182h1.3M204.4 182h1.3M214.1 182h1.3M221.4 182h1.3M229.1 182h1.3M245.2 182h1.3M257.3 182h1.3M278.4 182h1.3M286.7 182h1.3M304 182h1.3M316.1 182h1.3M331.1 182h1.3M355.3 182h1.3M366.3 182h1.3M110.5 181.4h1.3M120.5 181.4h1.3M129 181.4h1.3M137.3 181.4h1.3M143.7 181.4h1.3M154.3 181.4h1.3M181.3 181.4h1.3M196.3 181.4h1.3M216.1 181.4h1.3M224.5 181.4h1.3M235.6 181.4h1.3M249.5 181.4h1.3M271.2 181.4h1.3M285.4 181.4h1.3M297.5 181.4h1.3M310.9 181.4h1.3M327.9 181.4h1.3M356.7 181.4h1.3M366.5 181.4h1.3M111.5 180.8h1.3M121.2 180.8h1.3M129.2 180.8h1.3M157 180.8h1.3M166 180.8h1.3M174.7 180.8h1.3M183.5 180.8h1.3M200.9 180.8h1.3M212.1 180.8h1.3M223.2 180.8h1.3M228.1 180.8h1.3M257.1 180.8h1.3M267.3 180.8h1.3M274.5 180.8h1.3M293 180.8h1.3M313.3 180.8h1.3M335.4 180.8h1.3M362.1 180.8h1.3M110.9 180.1h1.3M119.9 180.1h1.3M128 180.1h1.3M133.4 180.1h1.3M144.9 180.1h1.3M152.2 180.1h1.3M166.3 180.1h1.3M184.5 180.1h1.3M193.2 180.1h1.3M208 180.1h1.3M219.8 180.1h1.3M236.6 180.1h1.3M242.3 180.1h1.3M246.3 180.1h1.3M252.4 180.1h1.3M275.3 180.1h1.3M294.8 180.1h1.3M303.1 180.1h1.3M314 180.1h1.3M322.7 180.1h1.3M340.1 180.1h1.3M367.3 180.1h1.3M110 179.5h1.3M118.8 179.5h1.3M130.2 179.5h1.3M147.2 179.5h1.3M164.9 179.5h1.3M178 179.5h1.3M187.6 179.5h1.3M207.6 179.5h1.3M230.9 179.5h1.3M249.7 179.5h1.3M268.9 179.5h1.3M276.1 179.5h1.3M296.4 179.5h1.3M310.1 179.5h1.3M325.5 179.5h1.3M341.2 179.5h1.3M349.2 179.5h1.3M368.1 179.5h1.3M109.9 178.9h1.3M117.8 178.9h1.3M128.3 178.9h1.3M144.5 178.9h1.3M154.8 178.9h1.3M164.7 178.9h1.3M177.4 178.9h1.3M187.1 178.9h1.3M208.6 178.9h1.3M224.8 178.9h1.3M237.5 178.9h1.3M249.8 178.9h1.3M263.4 178.9h1.3M271.3 178.9h1.3M289.8 178.9h1.3M299.4 178.9h1.3M331.3 178.9h1.3M340.6 178.9h1.3M350 178.9h1.3M108.7 178.3h1.3M120.3 178.3h1.3M130.3 178.3h1.3M153.1 178.3h1.3M159.2 178.3h1.3M175.8 178.3h1.3M183.9 178.3h1.3M201 178.3h1.3M202.3 178.3h1.3M204.6 178.3h1.3M213.8 178.3h1.3M232.3 178.3h1.3M239.1 178.3h1.3M251.7 178.3h1.3M261 178.3h1.3M284 178.3h1.3M296.2 178.3h1.3M323.8 178.3h1.3M349 178.3h1.3M362.9 178.3h1.3M110.4 177.6h1.3M118.3 177.6h1.3M128.6 177.6h1.3M148.8 177.6h1.3M165.9 177.6h1.3M193.3 177.6h1.3M210.9 177.6h1.3M225.1 177.6h1.3M230.2 177.6h1.3M243.1 177.6h1.3M246.6 177.6h1.3M254.1 177.6h1.3M261.6 177.6h1.3M266.9 177.6h1.3M276.6 177.6h1.3M282.6 177.6h1.3M312.7 177.6h1.3M322.1 177.6h1.3M332.8 177.6h1.3M343.2 177.6h1.3M111.4 177h1.3M119.6 177h1.3M133.6 177h1.3M148.8 177h1.3M164 177h1.3M185.2 177h1.3M197.5 177h1.3M204.5 177h1.3M216.4 177h1.3M239 177h1.3M252.5 177h1.3M265.7 177h1.3M281.9 177h1.3M297.5 177h1.3M306.3 177h1.3M319.5 177h1.3M345.2 177h1.3M109.6 176.4h1.3M118.3 176.4h1.3M130 176.4h1.3M149 176.4h1.3M165.6 176.4h1.3M180.7 176.4h1.3M190.9 176.4h1.3M207.4 176.4h1.3M217.7 176.4h1.3M223 176.4h1.3M241.2 176.4h1.3M251.4 176.4h1.3M263.9 176.4h1.3M271.2 176.4h1.3M296 176.4h1.3M311 176.4h1.3M324 176.4h1.3M337.1 176.4h1.3M354.3 176.4h1.3M367.5 176.4h1.3M110.5 175.8h1.3M116.7 175.8h1.3M121 175.8h1.3M131.2 175.8h1.3M140.3 175.8h1.3M152.3 175.8h1.3M159.1 175.8h1.3M171.7 175.8h1.3M193.6 175.8h1.3M199 175.8h1.3M208 175.8h1.3M214.4 175.8h1.3M231.2 175.8h1.3M254.1 175.8h1.3M262.3 175.8h1.3M272 175.8h1.3M282.3 175.8h1.3M299.9 175.8h1.3M318.9 175.8h1.3M331.2 175.8h1.3M355.5 175.8h1.3M364.8 175.8h1.3M109.8 175.1h1.3M118 175.1h1.3M128.6 175.1h1.3M147.1 175.1h1.3M157.3 175.1h1.3M164.5 175.1h1.3M168.2 175.1h1.3M182.4 175.1h1.3M187.7 175.1h1.3M201.2 175.1h1.3M222.9 175.1h1.3M236.8 175.1h1.3M244.7 175.1h1.3M250.5 175.1h1.3M269.2 175.1h1.3M283.9 175.1h1.3M301.9 175.1h1.3M315.6 175.1h1.3M343.1 175.1h1.3M368.4 175.1h1.3M112 174.5h1.3M121.7 174.5h1.3M133.7 174.5h1.3M154 174.5h1.3M204.6 174.5h1.3M224.1 174.5h1.3M255.7 174.5h1.3M275.4 174.5h1.3M301.7 174.5h1.3M319.2 174.5h1.3M359.4 174.5h1.3M110.4 173.9h1.3M118 173.9h1.3M127 173.9h1.3M140.2 173.9h1.3M155.3 173.9h1.3M169.7 173.9h1.3M197.8 173.9h1.3M207.6 173.9h1.3M226.7 173.9h1.3M233.9 173.9h1.3M242.9 173.9h1.3M259.6 173.9h1.3M287.8 173.9h1.3M298.4 173.9h1.3M307.8 173.9h1.3M319.4 173.9h1.3M324.2 173.9h1.3M340.8 173.9h1.3M359.4 173.9h1.3M111.8 173.2h1.3M119.3 173.2h1.3M131.4 173.2h1.3M137.7 173.2h1.3M163.7 173.2h1.3M190.6 173.2h1.3M200.7 173.2h1.3M228.9 173.2h1.3M234.2 173.2h1.3M243.1 173.2h1.3M266.4 173.2h1.3M286.5 173.2h1.3M292 173.2h1.3M300.4 173.2h1.3M318.9 173.2h1.3M349.1 173.2h1.3M358.5 173.2h1.3M112.4 172.6h1.3M118.4 172.6h1.3M125.6 172.6h1.3M138.1 172.6h1.3M143.1 172.6h1.3M152 172.6h1.3M163.1 172.6h1.3M169.9 172.6h1.3M193 172.6h1.3M206.1 172.6h1.3M226.8 172.6h1.3M236.6 172.6h1.3M247.3 172.6h1.3M253.9 172.6h1.3M268.3 172.6h1.3M283.4 172.6h1.3M300.8 172.6h1.3M310.9 172.6h1.3M329.7 172.6h1.3M341.8 172.6h1.3M110.7 172h1.3M120.4 172h1.3M128.3 172h1.3M134 172h1.3M145.4 172h1.3M162.5 172h1.3M177.9 172h1.3M195.4 172h1.3M209.4 172h1.3M228.2 172h1.3M241.1 172h1.3M257.2 172h1.3M285.9 172h1.3M316.6 172h1.3M341.9 172h1.3M358.9 172h1.3M108.7 171.4h1.3M117.4 171.4h1.3M122.3 171.4h1.3M140.6 171.4h1.3M155.7 171.4h1.3M163.3 171.4h1.3M182.4 171.4h1.3M189.1 171.4h1.3M209.9 171.4h1.3M229.1 171.4h1.3M233.2 171.4h1.3M244.8 171.4h1.3M266.1 171.4h1.3M280.6 171.4h1.3M302.5 171.4h1.3M315.4 171.4h1.3M346.9 171.4h1.3M352.8 171.4h1.3M368 171.4h1.3M108.7 170.7h1.3M117 170.7h1.3M124 170.7h1.3M134.2 170.7h1.3M149.2 170.7h1.3M161.6 170.7h1.3M172 170.7h1.3M180.4 170.7h1.3M186.9 170.7h1.3M209.6 170.7h1.3M214 170.7h1.3M229 170.7h1.3M236.1 170.7h1.3M255.6 170.7h1.3M272.2 170.7h1.3M288.4 170.7h1.3M323.9 170.7h1.3M343.5 170.7h1.3M358.3 170.7h1.3M110.7 170.1h1.3M119.6 170.1h1.3M127.9 170.1h1.3M136 170.1h1.3M150.9 170.1h1.3M155.3 170.1h1.3M159 170.1h1.3M178 170.1h1.3M202.6 170.1h1.3M216.7 170.1h1.3M237.4 170.1h1.3M254.6 170.1h1.3M272.3 170.1h1.3M289.4 170.1h1.3M303.1 170.1h1.3M315.1 170.1h1.3M339.5 170.1h1.3M353.1 170.1h1.3M365.7 170.1h1.3M109.9 169.5h1.3M119.7 169.5h1.3M126 169.5h1.3M146.7 169.5h1.3M169.1 169.5h1.3M181.4 169.5h1.3M190.9 169.5h1.3M202.1 169.5h1.3M215.1 169.5h1.3M227.6 169.5h1.3M248.5 169.5h1.3M269.6 169.5h1.3M280.8 169.5h1.3M299.3 169.5h1.3M329.2 169.5h1.3M347.3 169.5h1.3M110.7 168.9h1.3M117.9 168.9h1.3M123.1 168.9h1.3M137.8 168.9h1.3M150.7 168.9h1.3M155.2 168.9h1.3M174.9 168.9h1.3M191.2 168.9h1.3M196.9 168.9h1.3M213.8 168.9h1.3M238.1 168.9h1.3M249.6 168.9h1.3M276 168.9h1.3M283.4 168.9h1.3M302.9 168.9h1.3M334.9 168.9h1.3M358.5 168.9h1.3M110.7 168.2h1.3M119.6 168.2h1.3M125.6 168.2h1.3M143.8 168.2h1.3M153.4 168.2h1.3M161.4 168.2h1.3M166.7 168.2h1.3M179.1 168.2h1.3M186.2 168.2h1.3M194.5 168.2h1.3M206.4 168.2h1.3M233.7 168.2h1.3M248.7 168.2h1.3M268.8 168.2h1.3M287.4 168.2h1.3M298.7 168.2h1.3M314.5 168.2h1.3M331.2 168.2h1.3M349.1 168.2h1.3M108.9 167.6h1.3M115.4 167.6h1.3M123.9 167.6h1.3M134.9 167.6h1.3M142.6 167.6h1.3M152.8 167.6h1.3M170.9 167.6h1.3M179.3 167.6h1.3M204.5 167.6h1.3M209.2 167.6h1.3M234 167.6h1.3M247.2 167.6h1.3M252.2 167.6h1.3M263.6 167.6h1.3M274.9 167.6h1.3M304.2 167.6h1.3M315.9 167.6h1.3M345.8 167.6h1.3M358.5 167.6h1.3M110.6 167h1.3M117.4 167h1.3M121.8 167h1.3M127.1 167h1.3M130.1 167h1.3M135.5 167h1.3M145.3 167h1.3M158.7 167h1.3M175.9 167h1.3M192.7 167h1.3M196.5 167h1.3M207.3 167h1.3M221.6 167h1.3M232.2 167h1.3M244.9 167h1.3M257.4 167h1.3M268.1 167h1.3M274.3 167h1.3M320 167h1.3M349.3 167h1.3M368 167h1.3M111.7 166.4h1.3M121 166.4h1.3M133.6 166.4h1.3M154.9 166.4h1.3M167.3 166.4h1.3M181 166.4h1.3M190.4 166.4h1.3M195.4 166.4h1.3M209.3 166.4h1.3M227.1 166.4h1.3M234.2 166.4h1.3M249.1 166.4h1.3M253.5 166.4h1.3M271.8 166.4h1.3M280.9 166.4h1.3M288.7 166.4h1.3M301.1 166.4h1.3M316.5 166.4h1.3M321 166.4h1.3M330.4 166.4h1.3M347.5 166.4h1.3M110.5 165.7h1.3M122.3 165.7h1.3M133.5 165.7h1.3M156.5 165.7h1.3M164.3 165.7h1.3M184.5 165.7h1.3M194.1 165.7h1.3M213 165.7h1.3M226.3 165.7h1.3M239.4 165.7h1.3M255.6 165.7h1.3M269.5 165.7h1.3M284.1 165.7h1.3M293.1 165.7h1.3M300.1 165.7h1.3M319.4 165.7h1.3M338.5 165.7h1.3M355.7 165.7h1.3M364.5 165.7h1.3M109.9 165.1h1.3M120.3 165.1h1.3M125.4 165.1h1.3M140.7 165.1h1.3M162.7 165.1h1.3M185.3 165.1h1.3M197.9 165.1h1.3M209.6 165.1h1.3M226.7 165.1h1.3M240.4 165.1h1.3M249.2 165.1h1.3M255.4 165.1h1.3M268.4 165.1h1.3M279.5 165.1h1.3M285.1 165.1h1.3M291.9 165.1h1.3M299 165.1h1.3M303.1 165.1h1.3M330.6 165.1h1.3M350.9 165.1h1.3M110.1 164.5h1.3M119.5 164.5h1.3M131.2 164.5h1.3M139.5 164.5h1.3M161.8 164.5h1.3M172.7 164.5h1.3M184.3 164.5h1.3M197.4 164.5h1.3M207.1 164.5h1.3M213.1 164.5h1.3M223.1 164.5h1.3M236.6 164.5h1.3M248.5 164.5h1.3M254.8 164.5h1.3M272.2 164.5h1.3M283.9 164.5h1.3M325.7 164.5h1.3M348.7 164.5h1.3M111.3 163.8h1.3M120.3 163.8h1.3M129.1 163.8h1.3M140.7 163.8h1.3M157.5 163.8h1.3M171.7 163.8h1.3M188.3 163.8h1.3M207.1 163.8h1.3M218.4 163.8h1.3M230.8 163.8h1.3M246.8 163.8h1.3M257.7 163.8h1.3M271.7 163.8h1.3M290.8 163.8h1.3M306.6 163.8h1.3M330.9 163.8h1.3M337.2 163.8h1.3M110.8 163.2h1.3M121.2 163.2h1.3M131.9 163.2h1.3M142.8 163.2h1.3M147.6 163.2h1.3M168.8 163.2h1.3M173.2 163.2h1.3M187.1 163.2h1.3M191.9 163.2h1.3M196.3 163.2h1.3M212.4 163.2h1.3M218.2 163.2h1.3M241.9 163.2h1.3M249.9 163.2h1.3M261.5 163.2h1.3M282.6 163.2h1.3M294.2 163.2h1.3M313.5 163.2h1.3M323.8 163.2h1.3M337 163.2h1.3M352.1 163.2h1.3M368.2 163.2h1.3M109.8 162.6h1.3M116.7 162.6h1.3M131.2 162.6h1.3M141 162.6h1.3M154 162.6h1.3M172.1 162.6h1.3M178.1 162.6h1.3M190.6 162.6h1.3M196.9 162.6h1.3M211.4 162.6h1.3M230.8 162.6h1.3M235.3 162.6h1.3M250.9 162.6h1.3M265.7 162.6h1.3M284.1 162.6h1.3M307.3 162.6h1.3M330.5 162.6h1.3M346.8 162.6h1.3M372 162.6h1.3" fill="none" stroke="#f03c3c" stroke-width="1.15"/>
<path d="M353.9 326.1h1.4M122.6 326.1h1.4M138.6 326.1h1.4M359.3 326.1h1.4M354.3 326.1h1.4M354.7 326.1h1.4M123.1 326.1h1.4M138.9 326.1h1.4M139.7 326.1h1.4M106.8 326.1h1.4M320.7 325.5h1.4M154.9 325.5h1.4M128.7 325.5h1.4M108.5 325.5h1.4M182.6 325.5h1.4M299.7 325.5h1.4M321.2 325.5h1.4M129.1 325.5h1.4M129.4 325.5h1.4M300.2 325.5h1.4M300.4 325.5h1.4M277.1 324.8h1.4M198.6 324.8h1.4M138.9 324.8h1.4M188.6 324.8h1.4M210.2 324.8h1.4M198.9 324.8h1.4M199.2 324.8h1.4M139.5 324.8h1.4M140 324.8h1.4M189.1 324.8h1.4M210.7 324.8h1.4M105.4 324.8h1.4M90.3 324.8h1.4M253.3 324.2h1.4M323.2 324.2h1.4M293.8 324.2h1.4M320.2 324.2h1.4M237.4 324.2h1.4M341.2 324.2h1.4M132.8 324.2h1.4M339.7 324.2h1.4M203.7 324.2h1.4M128.2 324.2h1.4M270.6 324.2h1.4M226.3 324.2h1.4M237.7 324.2h1.4M238.3 324.2h1.4M204.2 324.2h1.4M226.8 324.2h1.4M226.9 324.2h1.4M82.3 324.2h1.4M153 323.6h1.4M182.3 323.6h1.4M297.9 323.6h1.4M191.3 323.6h1.4M290.1 323.6h1.4M239 323.6h1.4M224.7 323.6h1.4M364.5 323.6h1.4M148.4 323.6h1.4M235 323.6h1.4M146.7 323.6h1.4M356.4 323.6h1.4M153.4 323.6h1.4M182.6 323.6h1.4M290.5 323.6h1.4M364.9 323.6h1.4M365.4 323.6h1.4M147.3 323.6h1.4M356.9 323.6h1.4M105.6 323.6h1.4M308.8 323h1.4M122.7 323h1.4M286.5 323h1.4M116.8 323h1.4M170.7 323h1.4M309.3 323h1.4M309.8 323h1.4M123 323h1.4M171 323h1.4M377.6 323h1.4M321.7 322.3h1.4M340.2 322.3h1.4M144.8 322.3h1.4M270 322.3h1.4M273.2 322.3h1.4M144.5 322.3h1.4M328.4 322.3h1.4M252.8 322.3h1.4M362.9 322.3h1.4M153.9 322.3h1.4M245.2 322.3h1.4M322.2 322.3h1.4M322.6 322.3h1.4M270.4 322.3h1.4M144.9 322.3h1.4M328.8 322.3h1.4M329.2 322.3h1.4M253.2 322.3h1.4M253.6 322.3h1.4M363.3 322.3h1.4M364 322.3h1.4M154.3 322.3h1.4M155.1 322.3h1.4M245.7 322.3h1.4M106.3 322.3h1.4M119 321.7h1.4M337 321.7h1.4M337.5 321.7h1.4M107.1 321.7h1.4M132.5 321.1h1.4M197.7 321.1h1.4M355.9 321.1h1.4M146.6 321.1h1.4M178.5 321.1h1.4M353.4 321.1h1.4M197.5 321.1h1.4M330.9 321.1h1.4M115.9 321.1h1.4M133.1 321.1h1.4M147.1 321.1h1.4M147.8 321.1h1.4M353.9 321.1h1.4M354.6 321.1h1.4M198.1 321.1h1.4M198.4 321.1h1.4M104.8 321.1h1.4M373.3 321.1h1.4M156.3 320.4h1.4M256.1 320.4h1.4M256 320.4h1.4M367.9 320.4h1.4M367.1 320.4h1.4M262 320.4h1.4M308.2 320.4h1.4M291.7 320.4h1.4M139.5 320.4h1.4M156.7 320.4h1.4M256.5 320.4h1.4M308.7 320.4h1.4M292.2 320.4h1.4M292.4 320.4h1.4M332.1 319.8h1.4M112.6 319.8h1.4M174.5 319.8h1.4M146.6 319.8h1.4M224.3 319.8h1.4M198.2 319.8h1.4M113.1 319.8h1.4M147.1 319.8h1.4M224.7 319.8h1.4M216.5 319.2h1.4M124.9 319.2h1.4M121.5 319.2h1.4M131.8 319.2h1.4M208.8 319.2h1.4M309.4 319.2h1.4M179.6 319.2h1.4M217.1 319.2h1.4M132.2 319.2h1.4M132.3 319.2h1.4M309.8 319.2h1.4M310.4 319.2h1.4M215.4 318.6h1.4M187.6 318.6h1.4M130.2 318.6h1.4M264.5 318.6h1.4M133.3 318.6h1.4M243 318.6h1.4M289.2 318.6h1.4M215.7 318.6h1.4M187.9 318.6h1.4M130.5 318.6h1.4M265 318.6h1.4M265.3 318.6h1.4M243.4 318.6h1.4M106.9 318.6h1.4M139.9 317.9h1.4M105.4 317.9h1.4M170.8 317.9h1.4M358.2 317.9h1.4M320.6 317.9h1.4M219.2 317.9h1.4M308.9 317.9h1.4M346.9 317.9h1.4M184.5 317.9h1.4M339.4 317.9h1.4M176.3 317.9h1.4M192.3 317.9h1.4M219.4 317.9h1.4M309.3 317.9h1.4M339.7 317.9h1.4M340 317.9h1.4M176.7 317.9h1.4M106.2 317.9h1.4M105.7 317.9h1.4M302 317.3h1.4M216.8 317.3h1.4M174.6 317.3h1.4M354.5 317.3h1.4M330.9 317.3h1.4M199.5 317.3h1.4M302.4 317.3h1.4M217.1 317.3h1.4M175.1 317.3h1.4M175.7 317.3h1.4M331.4 317.3h1.4M199.9 317.3h1.4M105.8 317.3h1.4M229.1 316.7h1.4M258.6 316.7h1.4M209.4 316.7h1.4M240 316.7h1.4M275.1 316.7h1.4M333.3 316.7h1.4M254.9 316.7h1.4M206.8 316.7h1.4M362.8 316.7h1.4M150.2 316.7h1.4M229.4 316.7h1.4M209.7 316.7h1.4M210 316.7h1.4M240.4 316.7h1.4M333.8 316.7h1.4M207.1 316.7h1.4M207.5 316.7h1.4M150.6 316.7h1.4M181.1 316.1h1.4M266.2 316.1h1.4M269.5 316.1h1.4M267.8 316.1h1.4M181.6 316.1h1.4M182 316.1h1.4M266.7 316.1h1.4M320.1 315.4h1.4M279.4 315.4h1.4M287 315.4h1.4M279.6 315.4h1.4M141.8 315.4h1.4M119.4 315.4h1.4M210.1 315.4h1.4M332.7 315.4h1.4M320.5 315.4h1.4M279.9 315.4h1.4M287.5 315.4h1.4M280.1 315.4h1.4M142.4 315.4h1.4M143 315.4h1.4M210.7 315.4h1.4M289.5 314.8h1.4M278.3 314.8h1.4M258.7 314.8h1.4M162.3 314.8h1.4M328.6 314.8h1.4M199.3 314.8h1.4M311.4 314.8h1.4M162.8 314.8h1.4M199.8 314.8h1.4M359 314.2h1.4M248.7 314.2h1.4M143 314.2h1.4M368.5 314.2h1.4M149 314.2h1.4M299.8 314.2h1.4M359.4 314.2h1.4M143.4 314.2h1.4M149.4 314.2h1.4M149.8 314.2h1.4M367.8 313.6h1.4M358.7 313.6h1.4M174.4 313.6h1.4M328.2 313.6h1.4M226.3 313.6h1.4M285.3 313.6h1.4M368.3 313.6h1.4M368.6 313.6h1.4M359.1 313.6h1.4M328.6 313.6h1.4M226.9 313.6h1.4M106.1 313.6h1.4M104 313.6h1.4M171 312.9h1.4M299.4 312.9h1.4M134.6 312.9h1.4M277.9 312.9h1.4M183.1 312.9h1.4M135 312.9h1.4M183.5 312.9h1.4M184.1 312.9h1.4M104 312.9h1.4M310.6 312.3h1.4M345.4 312.3h1.4M158.7 312.3h1.4M337 312.3h1.4M237.4 312.3h1.4M271.5 312.3h1.4M337.3 312.3h1.4M237.7 312.3h1.4M238.5 312.3h1.4M104.4 312.3h1.4M255.1 311.7h1.4M104.2 311.7h1.4M210.8 311.7h1.4M269.7 311.7h1.4M273.7 311.7h1.4M255.6 311.7h1.4M171.6 311.7h1.4M280.1 311.7h1.4M281.9 311.7h1.4M262.7 311.7h1.4M205.3 311.7h1.4M144.6 311.7h1.4M253.7 311.7h1.4M255.4 311.7h1.4M104.6 311.7h1.4M211.1 311.7h1.4M211.6 311.7h1.4M270.2 311.7h1.4M270.8 311.7h1.4M172 311.7h1.4M280.4 311.7h1.4M280.9 311.7h1.4M282.2 311.7h1.4M282.7 311.7h1.4M205.8 311.7h1.4M206.2 311.7h1.4M145.1 311.7h1.4M254.2 311.7h1.4M375.6 311.7h1.4M121.9 311.1h1.4M169.4 311.1h1.4M181.6 311.1h1.4M196.4 311.1h1.4M370 311.1h1.4M263.4 311.1h1.4M155.5 311.1h1.4M203.6 311.1h1.4M220.2 311.1h1.4M126.1 311.1h1.4M122.4 311.1h1.4M196.8 311.1h1.4M197.4 311.1h1.4M370.3 311.1h1.4M263.8 311.1h1.4M220.5 311.1h1.4M221.4 311.1h1.4M107.7 310.4h1.4M240.3 310.4h1.4M323.9 310.4h1.4M372.9 310.4h1.4M320.2 310.4h1.4M245 310.4h1.4M277.3 310.4h1.4M284.6 310.4h1.4M108.3 310.4h1.4M108.5 310.4h1.4M240.7 310.4h1.4M373.2 310.4h1.4M320.7 310.4h1.4M277.9 310.4h1.4M106.5 310.4h1.4M348.6 309.8h1.4M342.6 309.8h1.4M288.4 309.8h1.4M230.9 309.8h1.4M343 309.8h1.4M343.1 309.8h1.4M122 309.2h1.4M193.7 309.2h1.4M269.2 309.2h1.4M226.8 309.2h1.4M322.6 309.2h1.4M371.8 309.2h1.4M257.4 309.2h1.4M196.6 309.2h1.4M194 309.2h1.4M269.7 309.2h1.4M227.3 309.2h1.4M257.9 309.2h1.4M258.2 309.2h1.4M197.2 309.2h1.4M149.1 308.5h1.4M364.6 308.5h1.4M246.9 308.5h1.4M159 308.5h1.4M115.1 308.5h1.4M161.5 308.5h1.4M189.5 308.5h1.4M258.2 308.5h1.4M282.5 308.5h1.4M149.5 308.5h1.4M150 308.5h1.4M365.1 308.5h1.4M190 308.5h1.4M190.1 308.5h1.4M136.8 307.9h1.4M132.2 307.9h1.4M199.9 307.9h1.4M313 307.9h1.4M225.7 307.9h1.4M130.2 307.9h1.4M137.2 307.9h1.4M132.6 307.9h1.4M313.5 307.9h1.4M226.3 307.9h1.4M130.4 307.9h1.4M105.3 307.9h1.4M107 307.9h1.4M268.6 307.3h1.4M272.7 307.3h1.4M246.6 307.3h1.4M115.1 307.3h1.4M113.7 307.3h1.4M269.1 307.3h1.4M273 307.3h1.4M106.4 307.3h1.4M259.3 306.7h1.4M218.4 306.7h1.4M220.9 306.7h1.4M298.4 306.7h1.4M314.5 306h1.4M285.6 306h1.4M251.9 306h1.4M321.5 306h1.4M158.6 306h1.4M144.9 306h1.4M187.1 306h1.4M207.4 306h1.4M359.6 306h1.4M326 306h1.4M304.3 306h1.4M286 306h1.4M286.8 306h1.4M252.2 306h1.4M321.9 306h1.4M322.3 306h1.4M159.2 306h1.4M159.4 306h1.4M207.9 306h1.4M208 306h1.4M360.1 306h1.4M360.4 306h1.4M304.6 306h1.4M378 306h1.4M308.7 305.4h1.4M225.1 305.4h1.4M197.2 305.4h1.4M261.4 305.4h1.4M165.6 305.4h1.4M221.7 305.4h1.4M225.6 305.4h1.4M197.6 305.4h1.4M166.2 305.4h1.4M222.1 305.4h1.4M106.1 305.4h1.4M105.7 305.4h1.4M106.3 305.4h1.4M314.4 304.8h1.4M110 304.8h1.4M137.3 304.8h1.4M182.6 304.8h1.4M373.1 304.8h1.4M117.9 304.8h1.4M226.7 304.8h1.4M222.9 304.8h1.4M151.4 304.8h1.4M367.3 304.8h1.4M167.4 304.8h1.4M315 304.8h1.4M315.3 304.8h1.4M110.5 304.8h1.4M137.8 304.8h1.4M373.6 304.8h1.4M118.2 304.8h1.4M367.7 304.8h1.4M104.3 304.8h1.4M220.4 304.2h1.4M309.5 304.2h1.4M230 304.2h1.4M176.2 304.2h1.4M346.4 304.2h1.4M259.2 304.2h1.4M266.1 304.2h1.4M324.7 304.2h1.4M309.8 304.2h1.4M176.6 304.2h1.4M176.9 304.2h1.4M346.9 304.2h1.4M347.1 304.2h1.4M259.7 304.2h1.4M290.4 303.5h1.4M200.7 303.5h1.4M164.7 303.5h1.4M282.8 303.5h1.4M332.2 303.5h1.4M230.7 303.5h1.4M140.5 303.5h1.4M320.4 303.5h1.4M246 303.5h1.4M287.6 303.5h1.4M131 303.5h1.4M201.1 303.5h1.4M165.1 303.5h1.4M283 303.5h1.4M283.5 303.5h1.4M332.7 303.5h1.4M231.3 303.5h1.4M141 303.5h1.4M141.1 303.5h1.4M246.3 303.5h1.4M105.9 303.5h1.4M304 302.9h1.4M289.2 302.9h1.4M138 302.9h1.4M299.9 302.9h1.4M271.7 302.9h1.4M202.8 302.9h1.4M304.5 302.9h1.4M138.5 302.9h1.4M272 302.9h1.4M272.3 302.9h1.4M104.2 302.9h1.4M222.1 302.3h1.4M133 302.3h1.4M331.9 302.3h1.4M282.8 302.3h1.4M160.9 302.3h1.4M204 302.3h1.4M137.9 302.3h1.4M332.5 302.3h1.4M333 302.3h1.4M283.1 302.3h1.4M283.6 302.3h1.4M161.4 302.3h1.4M204.3 302.3h1.4M257 301.7h1.4M228.8 301.7h1.4M244.3 301.7h1.4M344.5 301.7h1.4M333.2 301.7h1.4M134.1 301.7h1.4M229.3 301.7h1.4M344.9 301.7h1.4M345.6 301.7h1.4M333.6 301.7h1.4M134.5 301.7h1.4M236.2 301h1.4M149 301h1.4M206.1 301h1.4M211.5 301h1.4M187.6 301h1.4M349.9 301h1.4M208.7 301h1.4M133.9 301h1.4M236.8 301h1.4M149.3 301h1.4M211.9 301h1.4M188 301h1.4M350.2 301h1.4M134.4 301h1.4M134.9 301h1.4M105.3 301h1.4M106 301h1.4M324.2 300.4h1.4M360.2 300.4h1.4M165.7 300.4h1.4M364 300.4h1.4M194.2 300.4h1.4M294.6 300.4h1.4M248.3 300.4h1.4M364.3 300.4h1.4M194.6 300.4h1.4M195.1 300.4h1.4M295.1 300.4h1.4M104.1 300.4h1.4M106.1 300.4h1.4M93.9 300.4h1.4M343 299.8h1.4M136 299.8h1.4M117.5 299.8h1.4M112.5 299.8h1.4M123.9 299.8h1.4M129.6 299.8h1.4M166.9 299.8h1.4M181.3 299.8h1.4M365 299.8h1.4M343.6 299.8h1.4M343.6 299.8h1.4M136.5 299.8h1.4M124.3 299.8h1.4M130.1 299.8h1.4M181.8 299.8h1.4M336.6 299.2h1.4M238.7 299.2h1.4M363.4 299.2h1.4M137.2 299.2h1.4M362.3 299.2h1.4M280.3 299.2h1.4M271.2 299.2h1.4M237.7 299.2h1.4M239.3 299.2h1.4M239.6 299.2h1.4M271.5 299.2h1.4M207.1 298.5h1.4M201.5 298.5h1.4M315.7 298.5h1.4M327.1 298.5h1.4M360.2 298.5h1.4M202 298.5h1.4M202.4 298.5h1.4M316.2 298.5h1.4M327.4 298.5h1.4M104.4 298.5h1.4M105.8 298.5h1.4M376.8 298.5h1.4M205.3 297.9h1.4M146.1 297.9h1.4M369.8 297.9h1.4M108.9 297.9h1.4M181.4 297.9h1.4M208.3 297.9h1.4M124 297.9h1.4M351.2 297.9h1.4M311.4 297.9h1.4M248.7 297.9h1.4M146.4 297.9h1.4M146.7 297.9h1.4M124.5 297.9h1.4M103.8 297.9h1.4M94.1 297.9h1.4M342.4 297.3h1.4M369.4 297.3h1.4M147.3 297.3h1.4M202.3 297.3h1.4M285.4 297.3h1.4M342.7 297.3h1.4M343 297.3h1.4M147.6 297.3h1.4M148.4 297.3h1.4M285.8 297.3h1.4M181.6 296.6h1.4M230.1 296.6h1.4M168.6 296.6h1.4M192.8 296.6h1.4M182 296.6h1.4M193.1 296.6h1.4M104.1 296.6h1.4M375.8 296.6h1.4M289.3 296h1.4M236.4 296h1.4M165.6 296h1.4M345.9 296h1.4M107.5 296h1.4M328.7 296h1.4M336.6 296h1.4M129.1 296h1.4M108.2 296h1.4M278 296h1.4M260.9 296h1.4M150.2 296h1.4M289.6 296h1.4M108.1 296h1.4M329.1 296h1.4M337.2 296h1.4M278.3 296h1.4M261.3 296h1.4M310 295.4h1.4M226.9 295.4h1.4M251.7 295.4h1.4M374.2 295.4h1.4M255.3 294.8h1.4M201.7 294.8h1.4M116.2 294.8h1.4M308.5 294.8h1.4M356.5 294.8h1.4M116.7 294.8h1.4M309.1 294.8h1.4M356.8 294.8h1.4M105.7 294.8h1.4M106.2 294.8h1.4M104.6 294.8h1.4M365.4 294.1h1.4M111 294.1h1.4M289 294.1h1.4M260 294.1h1.4M212.6 294.1h1.4M354.2 294.1h1.4M136.1 294.1h1.4M168 294.1h1.4M327.2 294.1h1.4M105.5 294.1h1.4M174.5 294.1h1.4M149.3 294.1h1.4M217.1 294.1h1.4M111.6 294.1h1.4M213.1 294.1h1.4M136.3 294.1h1.4M168.5 294.1h1.4M168.9 294.1h1.4M106 294.1h1.4M175 294.1h1.4M175.2 294.1h1.4M217.7 294.1h1.4M107.3 294.1h1.4M219.4 293.5h1.4M285.1 293.5h1.4M369.5 293.5h1.4M238.1 293.5h1.4M184 293.5h1.4M231.6 293.5h1.4M257.8 293.5h1.4M273.4 293.5h1.4M219.9 293.5h1.4M220.3 293.5h1.4M285.5 293.5h1.4M370 293.5h1.4M184.3 293.5h1.4M184.7 293.5h1.4M258.1 293.5h1.4M159.9 292.9h1.4M234.9 292.9h1.4M274.8 292.9h1.4M309.1 292.9h1.4M233.1 292.9h1.4M171.1 292.9h1.4M286.2 292.9h1.4M138.6 292.9h1.4M150 292.9h1.4M203.9 292.9h1.4M255.2 292.9h1.4M108.8 292.9h1.4M309.5 292.9h1.4M309.9 292.9h1.4M233.5 292.9h1.4M150.5 292.9h1.4M150.9 292.9h1.4M204.4 292.9h1.4M205 292.9h1.4M129.7 292.3h1.4M106.1 292.3h1.4M190.2 292.3h1.4M146.9 292.3h1.4M359.6 292.3h1.4M273.7 292.3h1.4M130.1 292.3h1.4M190.7 292.3h1.4M359.9 292.3h1.4M274.1 292.3h1.4M274.6 292.3h1.4M177.9 291.6h1.4M197.3 291.6h1.4M134.8 291.6h1.4M144.6 291.6h1.4M135.9 291.6h1.4M208.5 291.6h1.4M353.4 291.6h1.4M362.2 291.6h1.4M144.9 291.6h1.4M209 291.6h1.4M353.8 291.6h1.4M354.3 291.6h1.4M362.5 291.6h1.4M104 291.6h1.4M214.6 291h1.4M333.2 291h1.4M326.9 291h1.4M123.9 291h1.4M353.6 291h1.4M322.6 291h1.4M280.4 291h1.4M155.4 291h1.4M328.1 291h1.4M263.1 291h1.4M166.1 291h1.4M276.1 291h1.4M327.2 291h1.4M124.3 291h1.4M354 291h1.4M280.9 291h1.4M155.8 291h1.4M166.5 291h1.4M104.1 291h1.4M105 291h1.4M105.8 291h1.4M73.7 291h1.4M144.3 290.4h1.4M131.8 290.4h1.4M252.5 290.4h1.4M212.1 290.4h1.4M272.5 290.4h1.4M144.8 290.4h1.4M272.7 290.4h1.4M356.5 289.8h1.4M289.7 289.8h1.4M153.2 289.8h1.4M290.5 289.8h1.4M353.2 289.8h1.4M329.3 289.8h1.4M276.6 289.8h1.4M153.6 289.8h1.4M104.7 289.8h1.4M192.4 289.1h1.4M189.8 289.1h1.4M297.4 289.1h1.4M190.9 289.1h1.4M222.5 289.1h1.4M339.2 289.1h1.4M222.3 289.1h1.4M351 289.1h1.4M350.8 289.1h1.4M192.8 289.1h1.4M297.8 289.1h1.4M191.3 289.1h1.4M191.5 289.1h1.4M222.8 289.1h1.4M223.5 289.1h1.4M351.2 289.1h1.4M351.9 289.1h1.4M105.7 289.1h1.4M378.6 289.1h1.4M369.5 288.5h1.4M361.5 288.5h1.4M279.7 288.5h1.4M348.3 288.5h1.4M193.8 288.5h1.4M149.5 288.5h1.4M193.9 288.5h1.4M256.9 288.5h1.4M346.7 288.5h1.4M329.8 288.5h1.4M168.6 288.5h1.4M324.2 288.5h1.4M362 288.5h1.4M280.2 288.5h1.4M280.6 288.5h1.4M149.9 288.5h1.4M150.3 288.5h1.4M347.2 288.5h1.4M168.9 288.5h1.4M169.3 288.5h1.4M105.4 288.5h1.4M272.3 287.9h1.4M281.1 287.9h1.4M226.5 287.9h1.4M362.1 287.9h1.4M272.7 287.9h1.4M273 287.9h1.4M103.8 287.9h1.4M105.2 287.9h1.4M295.5 287.2h1.4M138.7 287.2h1.4M349.2 287.2h1.4M264.1 287.2h1.4M345.2 287.2h1.4M304.8 287.2h1.4M343.1 287.2h1.4M321.5 287.2h1.4M300.7 287.2h1.4M265.3 287.2h1.4M178.9 287.2h1.4M295.9 287.2h1.4M139.3 287.2h1.4M349.6 287.2h1.4M349.8 287.2h1.4M345.5 287.2h1.4M346.2 287.2h1.4M305.2 287.2h1.4M306 287.2h1.4M343.6 287.2h1.4M301.2 287.2h1.4M301.6 287.2h1.4M104.7 287.2h1.4M213.7 286.6h1.4M206.6 286.6h1.4M190.8 286.6h1.4M238.7 286.6h1.4M289.4 286.6h1.4M302.8 286.6h1.4M311.4 286.6h1.4M270.8 286.6h1.4M107.8 286.6h1.4M239 286.6h1.4M289.7 286.6h1.4M303.4 286.6h1.4M108.1 286.6h1.4M217.1 286h1.4M231.5 286h1.4M363.2 286h1.4M243.3 286h1.4M245.7 286h1.4M124.3 286h1.4M113.7 286h1.4M232 286h1.4M232.2 286h1.4M243.6 286h1.4M246.1 286h1.4M114.1 286h1.4M269.3 285.4h1.4M186.7 285.4h1.4M126.4 285.4h1.4M315.5 285.4h1.4M184.2 285.4h1.4M301.2 285.4h1.4M311.5 285.4h1.4M187.1 285.4h1.4M126.8 285.4h1.4M316 285.4h1.4M311.8 285.4h1.4M103.9 285.4h1.4M156.5 284.7h1.4M234.6 284.7h1.4M119.8 284.7h1.4M173.1 284.7h1.4M180.6 284.7h1.4M231.3 284.7h1.4M287.5 284.7h1.4M130 284.7h1.4M276.4 284.7h1.4M312.6 284.7h1.4M148.3 284.7h1.4M141.1 284.7h1.4M131 284.7h1.4M274.1 284.7h1.4M156.9 284.7h1.4M234.9 284.7h1.4M235.4 284.7h1.4M173.7 284.7h1.4M231.9 284.7h1.4M231.9 284.7h1.4M130.6 284.7h1.4M141.7 284.7h1.4M162.7 284.1h1.4M341 284.1h1.4M338.8 284.1h1.4M273 284.1h1.4M356.5 284.1h1.4M117.4 284.1h1.4M124.1 284.1h1.4M237.3 284.1h1.4M157.1 284.1h1.4M109.7 284.1h1.4M362.3 284.1h1.4M216.6 284.1h1.4M330.1 284.1h1.4M163.1 284.1h1.4M341.3 284.1h1.4M341.9 284.1h1.4M339.3 284.1h1.4M273.4 284.1h1.4M357 284.1h1.4M117.9 284.1h1.4M237.6 284.1h1.4M238.1 284.1h1.4M362.7 284.1h1.4M330.5 284.1h1.4M75.5 284.1h1.4M201 283.5h1.4M248.5 283.5h1.4M165.1 283.5h1.4M327.5 283.5h1.4M103.7 283.5h1.4M306.1 283.5h1.4M349.9 283.5h1.4M192.9 283.5h1.4M309.7 283.5h1.4M201.5 283.5h1.4M201.9 283.5h1.4M249 283.5h1.4M165.6 283.5h1.4M104.2 283.5h1.4M193.2 283.5h1.4M264.9 282.9h1.4M332.6 282.9h1.4M185.9 282.9h1.4M179.3 282.9h1.4M232.7 282.9h1.4M311.6 282.9h1.4M226.3 282.9h1.4M107.2 282.9h1.4M288.8 282.9h1.4M186.4 282.9h1.4M186.4 282.9h1.4M226.8 282.9h1.4M322.3 282.2h1.4M292 282.2h1.4M252.9 282.2h1.4M372.2 282.2h1.4M277.5 282.2h1.4M264.9 282.2h1.4M294.1 282.2h1.4M148.7 282.2h1.4M222 282.2h1.4M103.7 282.2h1.4M322.6 282.2h1.4M323.2 282.2h1.4M253.2 282.2h1.4M253.7 282.2h1.4M277.7 282.2h1.4M265.2 282.2h1.4M266 282.2h1.4M222.3 282.2h1.4M222.6 282.2h1.4M104.2 282.2h1.4M105.4 282.2h1.4M209.9 281.6h1.4M135 281.6h1.4M186 281.6h1.4M365.8 281.6h1.4M304.8 281.6h1.4M293.3 281.6h1.4M146.3 281.6h1.4M240.2 281.6h1.4M236.1 281.6h1.4M210.4 281.6h1.4M135.3 281.6h1.4M135.7 281.6h1.4M186.4 281.6h1.4M187 281.6h1.4M305.4 281.6h1.4M146.7 281.6h1.4M240.6 281.6h1.4M236.6 281.6h1.4M237.2 281.6h1.4M362.4 281h1.4M157.5 281h1.4M172.8 281h1.4M246.9 281h1.4M343 281h1.4M106.2 281h1.4M334.4 281h1.4M204.2 281h1.4M336.3 281h1.4M334.8 281h1.4M342.8 281h1.4M255.6 281h1.4M362.7 281h1.4M157.9 281h1.4M343.4 281h1.4M204.7 281h1.4M335.2 281h1.4M256 281h1.4M171.8 280.4h1.4M112.3 280.4h1.4M268.7 280.4h1.4M230.8 280.4h1.4M325.9 280.4h1.4M276.6 280.4h1.4M279.7 280.4h1.4M288.2 280.4h1.4M227.1 280.4h1.4M183.6 280.4h1.4M108.7 280.4h1.4M210.6 280.4h1.4M172 280.4h1.4M172.5 280.4h1.4M231.2 280.4h1.4M326.3 280.4h1.4M277 280.4h1.4M277.4 280.4h1.4M280 280.4h1.4M109.1 280.4h1.4M211.2 280.4h1.4M107.2 280.4h1.4M335.1 279.7h1.4M256.1 279.7h1.4M341.2 279.7h1.4M332.8 279.7h1.4M294 279.7h1.4M368.1 279.7h1.4M335.4 279.7h1.4M341.5 279.7h1.4M294.5 279.7h1.4M208.7 279.1h1.4M297.2 279.1h1.4M361.5 279.1h1.4M228.5 279.1h1.4M273.3 279.1h1.4M235.1 279.1h1.4M209 279.1h1.4M209.3 279.1h1.4M362 279.1h1.4M229 279.1h1.4M374.6 279.1h1.4M369.7 278.5h1.4M176.2 278.5h1.4M145.8 278.5h1.4M261.5 278.5h1.4M361.2 278.5h1.4M338.9 278.5h1.4M370.3 278.5h1.4M261.8 278.5h1.4M339.3 278.5h1.4M106.5 278.5h1.4M348.5 277.9h1.4M297.6 277.9h1.4M242.6 277.9h1.4M364.2 277.9h1.4M252.1 277.9h1.4M143.7 277.9h1.4M161.5 277.9h1.4M325.7 277.9h1.4M349 277.9h1.4M364.6 277.9h1.4M144.3 277.9h1.4M162 277.9h1.4M162.3 277.9h1.4M326 277.9h1.4M206.1 277.2h1.4M117.3 277.2h1.4M325.7 277.2h1.4M257.4 277.2h1.4M240.9 277.2h1.4M206.5 277.2h1.4M207 277.2h1.4M117.7 277.2h1.4M118.2 277.2h1.4M326 277.2h1.4M326.5 277.2h1.4M106.5 277.2h1.4M104.2 277.2h1.4M152.3 276.6h1.4M346.3 276.6h1.4M187 276.6h1.4M312 276.6h1.4M162.3 276.6h1.4M324.9 276h1.4M315.8 276h1.4M134.7 276h1.4M272.4 276h1.4M335.2 276h1.4M325.3 276h1.4M316.1 276h1.4M316.4 276h1.4M135 276h1.4M335.5 276h1.4M105.5 276h1.4M127.6 275.3h1.4M142.1 275.3h1.4M270.4 275.3h1.4M151.9 275.3h1.4M350.6 275.3h1.4M286.9 275.3h1.4M185 275.3h1.4M273.7 275.3h1.4M152.2 275.3h1.4M287.3 275.3h1.4M274.2 275.3h1.4M74.9 275.3h1.4M298.9 274.7h1.4M166.6 274.7h1.4M261.5 274.7h1.4M129.5 274.7h1.4M258.3 274.7h1.4M237.1 274.7h1.4M261.8 274.7h1.4M130 274.7h1.4M258.6 274.7h1.4M259 274.7h1.4M237.6 274.7h1.4M85.8 274.7h1.4M288.4 274.1h1.4M142.7 274.1h1.4M187.9 274.1h1.4M252.7 274.1h1.4M227.9 274.1h1.4M312.4 274.1h1.4M112.6 274.1h1.4M288.7 274.1h1.4M228.5 274.1h1.4M229.1 274.1h1.4M312.7 274.1h1.4M313.1 274.1h1.4M113.1 274.1h1.4M113.7 274.1h1.4M87.5 274.1h1.4M260.5 273.5h1.4M303.3 273.5h1.4M301 273.5h1.4M158.9 273.5h1.4M124 273.5h1.4M159.5 273.5h1.4M106.8 273.5h1.4M374.4 273.5h1.4M303.7 272.8h1.4M267.5 272.8h1.4M165.9 272.8h1.4M267.6 272.8h1.4M268 272.8h1.4M370.6 272.2h1.4M238.1 272.2h1.4M309 272.2h1.4M112.4 272.2h1.4M218.1 272.2h1.4M155.3 272.2h1.4M126.5 272.2h1.4M330.8 272.2h1.4M300.8 272.2h1.4M155.7 272.2h1.4M126.9 272.2h1.4M127.5 272.2h1.4M331.2 272.2h1.4M179.6 271.6h1.4M330.7 271.6h1.4M368.8 271.6h1.4M218.6 271.6h1.4M167.5 271.6h1.4M180 271.6h1.4M180.7 271.6h1.4M167.8 271.6h1.4M283.7 271h1.4M265.9 271h1.4M286.9 271h1.4M331.1 271h1.4M251.8 271h1.4M203.8 271h1.4M171.5 271h1.4M244.2 271h1.4M287.2 271h1.4M172.1 271h1.4M244.7 271h1.4M105.3 271h1.4M305.6 270.3h1.4M232.7 270.3h1.4M173.2 270.3h1.4M316 270.3h1.4M240.8 270.3h1.4M292.1 270.3h1.4M208.3 270.3h1.4M347.5 270.3h1.4M210.1 270.3h1.4M265.4 270.3h1.4M233.2 270.3h1.4M316.4 270.3h1.4M208.7 270.3h1.4M209.3 270.3h1.4M210.5 270.3h1.4M106.1 270.3h1.4M313.1 269.7h1.4M260.9 269.7h1.4M187 269.7h1.4M155.6 269.7h1.4M204.2 269.7h1.4M188.5 269.7h1.4M313.5 269.7h1.4M313.9 269.7h1.4M187.5 269.7h1.4M187.8 269.7h1.4M156.1 269.7h1.4M204.6 269.7h1.4M205.3 269.7h1.4M106.8 269.7h1.4M365 269.1h1.4M306.1 269.1h1.4M352.4 269.1h1.4M172.5 269.1h1.4M251.1 269.1h1.4M225.6 269.1h1.4M362.8 269.1h1.4M322.8 269.1h1.4M148 269.1h1.4M349.2 269.1h1.4M201.2 269.1h1.4M231.2 269.1h1.4M118.4 269.1h1.4M241.3 269.1h1.4M347.8 269.1h1.4M228.6 269.1h1.4M112.4 269.1h1.4M365.4 269.1h1.4M365.6 269.1h1.4M306.6 269.1h1.4M306.8 269.1h1.4M352.8 269.1h1.4M172.8 269.1h1.4M251.5 269.1h1.4M252 269.1h1.4M323.2 269.1h1.4M148.5 269.1h1.4M231.8 269.1h1.4M232 269.1h1.4M241.6 269.1h1.4M228.9 269.1h1.4M105.6 269.1h1.4M76.9 269.1h1.4M378.3 269.1h1.4M110.8 268.5h1.4M230.3 268.5h1.4M331 268.5h1.4M170.4 268.5h1.4M259.9 268.5h1.4M170.8 268.5h1.4M260.3 268.5h1.4M260.9 268.5h1.4M373.1 267.8h1.4M354.2 267.8h1.4M307.1 267.8h1.4M121.6 267.8h1.4M331 267.8h1.4M152.9 267.8h1.4M373.4 267.8h1.4M374.1 267.8h1.4M354.7 267.8h1.4M331.5 267.8h1.4M332.2 267.8h1.4M201.2 267.2h1.4M371.1 267.2h1.4M202.9 267.2h1.4M338.5 267.2h1.4M224.3 267.2h1.4M337 267.2h1.4M294.9 267.2h1.4M201.7 267.2h1.4M371.6 267.2h1.4M372.2 267.2h1.4M339 267.2h1.4M224.8 267.2h1.4M225.1 267.2h1.4M337.4 267.2h1.4M295.3 267.2h1.4M295.7 267.2h1.4M106.3 267.2h1.4M105.3 267.2h1.4M92.7 267.2h1.4M378.4 267.2h1.4M168.5 266.6h1.4M166.4 266.6h1.4M172.4 266.6h1.4M223 266.6h1.4M283.4 266.6h1.4M347.3 266.6h1.4M370.7 266.6h1.4M277.5 266.6h1.4M345.8 266.6h1.4M168.9 266.6h1.4M169.5 266.6h1.4M172.9 266.6h1.4M173.2 266.6h1.4M283.9 266.6h1.4M371.3 266.6h1.4M371.7 266.6h1.4M160.6 266h1.4M310.9 266h1.4M142.3 266h1.4M235 266h1.4M154.6 266h1.4M180.1 266h1.4M161.1 266h1.4M161.7 266h1.4M155 266h1.4M180.5 266h1.4M180.8 266h1.4M336.9 265.3h1.4M352.4 265.3h1.4M326 265.3h1.4M164 265.3h1.4M164.4 265.3h1.4M105.9 265.3h1.4M369.5 264.7h1.4M158.7 264.7h1.4M163.8 264.7h1.4M229.2 264.7h1.4M207.5 264.7h1.4M136.5 264.7h1.4M148.1 264.7h1.4M364.5 264.7h1.4M164.2 264.7h1.4M164.7 264.7h1.4M364.9 264.7h1.4M103.8 264.7h1.4M159.7 264.1h1.4M140.6 264.1h1.4M196.7 264.1h1.4M166 264.1h1.4M281.5 264.1h1.4M131.5 264.1h1.4M141.2 264.1h1.4M197 264.1h1.4M166.3 264.1h1.4M167.1 264.1h1.4M281.8 264.1h1.4M282.2 264.1h1.4M103.9 264.1h1.4M236.5 263.4h1.4M360.2 263.4h1.4M140.1 263.4h1.4M281.4 263.4h1.4M200.8 263.4h1.4M214.8 263.4h1.4M349.8 263.4h1.4M327.5 263.4h1.4M198.5 263.4h1.4M284.9 263.4h1.4M140.4 263.4h1.4M281.9 263.4h1.4M201.1 263.4h1.4M201.3 263.4h1.4M328 263.4h1.4M285.5 263.4h1.4M103.9 263.4h1.4M74.1 263.4h1.4M374.6 263.4h1.4M163.4 262.8h1.4M361.7 262.8h1.4M164.3 262.8h1.4M163 262.8h1.4M202.7 262.8h1.4M126.4 262.8h1.4M183.7 262.8h1.4M347.7 262.8h1.4M209.2 262.8h1.4M254 262.8h1.4M164 262.8h1.4M362.2 262.8h1.4M164.7 262.8h1.4M163.4 262.8h1.4M203 262.8h1.4M184.3 262.8h1.4M184.5 262.8h1.4M348 262.8h1.4M209.6 262.8h1.4M210 262.8h1.4M254.6 262.8h1.4M186.7 262.2h1.4M130.4 262.2h1.4M112.1 262.2h1.4M166.8 262.2h1.4M178.6 262.2h1.4M296.8 262.2h1.4M237.7 262.2h1.4M342.6 262.2h1.4M187.2 262.2h1.4M112.6 262.2h1.4M167.2 262.2h1.4M297.3 262.2h1.4M238 262.2h1.4M343.1 262.2h1.4M343.5 262.2h1.4M104.6 262.2h1.4M130.3 261.6h1.4M205.9 261.6h1.4M130 261.6h1.4M152.5 261.6h1.4M130.6 261.6h1.4M206.4 261.6h1.4M153.1 261.6h1.4M129.1 260.9h1.4M317.7 260.9h1.4M182.2 260.9h1.4M219.8 260.9h1.4M267.8 260.9h1.4M182.6 260.9h1.4M306.5 260.9h1.4M293.7 260.9h1.4M124 260.9h1.4M318.2 260.9h1.4M220.2 260.9h1.4M268.4 260.9h1.4M306.8 260.9h1.4M307.3 260.9h1.4M294 260.9h1.4M124.3 260.9h1.4M124.5 260.9h1.4M104.5 260.9h1.4M229.1 260.3h1.4M260.7 260.3h1.4M245.9 260.3h1.4M265.8 260.3h1.4M177.4 260.3h1.4M368.6 260.3h1.4M229.5 260.3h1.4M261 260.3h1.4M266.4 260.3h1.4M266.9 260.3h1.4M251.9 259.7h1.4M278.4 259.7h1.4M300.3 259.7h1.4M142 259.7h1.4M251.5 259.7h1.4M292.6 259.7h1.4M252.4 259.7h1.4M252.4 259.7h1.4M278.8 259.7h1.4M142.5 259.7h1.4M251.9 259.7h1.4M293.1 259.7h1.4M303.3 259.1h1.4M188.2 259.1h1.4M277.9 259.1h1.4M150.8 259.1h1.4M314.3 259.1h1.4M159 259.1h1.4M194 259.1h1.4M312 259.1h1.4M303.6 259.1h1.4M304.1 259.1h1.4M278.3 259.1h1.4M159.5 259.1h1.4M312.3 259.1h1.4M371.1 258.4h1.4M352 258.4h1.4M283.2 258.4h1.4M248.6 258.4h1.4M109 258.4h1.4M366.3 258.4h1.4M104.9 258.4h1.4M352.4 258.4h1.4M353.1 258.4h1.4M283.6 258.4h1.4M284 258.4h1.4M249.2 258.4h1.4M109.4 258.4h1.4M138.1 257.8h1.4M280.4 257.8h1.4M319.7 257.8h1.4M349.1 257.8h1.4M164.4 257.8h1.4M105.1 257.8h1.4M138.6 257.8h1.4M138.7 257.8h1.4M280.8 257.8h1.4M320.1 257.8h1.4M349.5 257.8h1.4M350.1 257.8h1.4M164.8 257.8h1.4M165.1 257.8h1.4M105.6 257.8h1.4M191.2 257.2h1.4M366.6 257.2h1.4M250.5 257.2h1.4M232.6 257.2h1.4M219.7 257.2h1.4M367.2 257.2h1.4M250.9 257.2h1.4M251.1 257.2h1.4M220.1 257.2h1.4M283.8 256.6h1.4M306 256.6h1.4M265.4 256.6h1.4M228.8 256.6h1.4M303.2 256.6h1.4M133.6 256.6h1.4M111.5 256.6h1.4M162 256.6h1.4M301.8 256.6h1.4M265.8 256.6h1.4M303.6 256.6h1.4M134.2 256.6h1.4M162.6 256.6h1.4M162.8 256.6h1.4M302.3 256.6h1.4M302.5 256.6h1.4M314.2 255.9h1.4M120.9 255.9h1.4M267.6 255.9h1.4M329.5 255.9h1.4M288 255.9h1.4M331.2 255.9h1.4M121.2 255.9h1.4M331.5 255.9h1.4M332 255.9h1.4M279.3 255.3h1.4M370.8 255.3h1.4M270.2 255.3h1.4M122.1 255.3h1.4M158.6 255.3h1.4M190.6 255.3h1.4M368.8 255.3h1.4M270.5 255.3h1.4M270.9 255.3h1.4M190.9 255.3h1.4M191.6 255.3h1.4M369.2 255.3h1.4M369.6 255.3h1.4M72.4 255.3h1.4M142.7 254.7h1.4M247.3 254.7h1.4M263.4 254.7h1.4M302.5 254.7h1.4M206.9 254.7h1.4M220.6 254.7h1.4M301.8 254.7h1.4M203.4 254.7h1.4M130.2 254.7h1.4M342.4 254.7h1.4M143 254.7h1.4M143.3 254.7h1.4M247.8 254.7h1.4M207.2 254.7h1.4M221.2 254.7h1.4M302.4 254.7h1.4M204 254.7h1.4M130.6 254.7h1.4M342.7 254.7h1.4M343.1 254.7h1.4M270.1 254.1h1.4M330.3 254.1h1.4M220 254.1h1.4M216.7 254.1h1.4M333.5 254.1h1.4M140.4 254.1h1.4M361.7 254.1h1.4M292.7 254.1h1.4M220.5 254.1h1.4M220.8 254.1h1.4M334 254.1h1.4M334.4 254.1h1.4M104.9 254.1h1.4M355.8 253.4h1.4M117.7 253.4h1.4M282.9 253.4h1.4M230.2 253.4h1.4M275.1 253.4h1.4M354.5 253.4h1.4M299.4 253.4h1.4M230.6 253.4h1.4M275.4 253.4h1.4M354.8 253.4h1.4M106.3 253.4h1.4M206.4 252.8h1.4M276.5 252.8h1.4M176.8 252.8h1.4M238.6 252.8h1.4M327.3 252.8h1.4M206.8 252.8h1.4M277.1 252.8h1.4M239.2 252.8h1.4M239.3 252.8h1.4M105.3 252.8h1.4M105 252.8h1.4M313.4 252.2h1.4M190.2 252.2h1.4M274.7 252.2h1.4M259.7 252.2h1.4M298.5 252.2h1.4M294.8 252.2h1.4M190.5 252.2h1.4M298.9 252.2h1.4M295.3 252.2h1.4M106.4 252.2h1.4M221.4 251.5h1.4M172.8 251.5h1.4M367 251.5h1.4M180.4 251.5h1.4M232.3 251.5h1.4M192.6 251.5h1.4M132.9 251.5h1.4M342.9 251.5h1.4M221.9 251.5h1.4M367.6 251.5h1.4M367.9 251.5h1.4M180.9 251.5h1.4M232.7 251.5h1.4M133.2 251.5h1.4M103.8 251.5h1.4M125.7 250.9h1.4M345.7 250.9h1.4M254.5 250.9h1.4M193.3 250.9h1.4M278.7 250.9h1.4M326.3 250.9h1.4M299.3 250.9h1.4M155 250.9h1.4M254.9 250.9h1.4M108.6 250.9h1.4M178.9 250.9h1.4M256.7 250.9h1.4M276.8 250.9h1.4M126 250.9h1.4M346.1 250.9h1.4M254.8 250.9h1.4M193.8 250.9h1.4M279.1 250.9h1.4M279.3 250.9h1.4M326.6 250.9h1.4M299.7 250.9h1.4M155.6 250.9h1.4M155.9 250.9h1.4M255.2 250.9h1.4M257.1 250.9h1.4M333.8 250.3h1.4M365.2 250.3h1.4M302.9 250.3h1.4M105.9 250.3h1.4M303.4 250.3h1.4M304 250.3h1.4M106.4 250.3h1.4M106.8 250.3h1.4M359.8 249.7h1.4M337 249.7h1.4M106.7 249.7h1.4M260.5 249.7h1.4M337.3 249.7h1.4M337.9 249.7h1.4M107.3 249.7h1.4M81.9 249.7h1.4M353.3 249h1.4M280.5 249h1.4M314.8 249h1.4M275.5 249h1.4M133.6 249h1.4M348 249h1.4M162.9 249h1.4M330.9 249h1.4M237.9 249h1.4M203 249h1.4M164.7 249h1.4M347.8 249h1.4M353.6 249h1.4M354.5 249h1.4M280.8 249h1.4M281.7 249h1.4M276 249h1.4M134.1 249h1.4M134.4 249h1.4M348.5 249h1.4M163.3 249h1.4M163.9 249h1.4M331.3 249h1.4M331.8 249h1.4M203.4 249h1.4M165.2 249h1.4M165.3 249h1.4M348.2 249h1.4M348.5 249h1.4M377.3 249h1.4M192.6 248.4h1.4M320.8 248.4h1.4M195.3 248.4h1.4M268.5 248.4h1.4M229.1 248.4h1.4M285.5 248.4h1.4M317.1 248.4h1.4M279.8 248.4h1.4M192.9 248.4h1.4M321.4 248.4h1.4M321.5 248.4h1.4M269 248.4h1.4M229.4 248.4h1.4M230.2 248.4h1.4M285.9 248.4h1.4M317.7 248.4h1.4M199.9 247.8h1.4M206.9 247.8h1.4M177.1 247.8h1.4M200.3 247.8h1.4M201 247.8h1.4M106 247.8h1.4M321.6 247.2h1.4M163.1 247.2h1.4M135 247.2h1.4M322.2 247.2h1.4M240.2 247.2h1.4M283.5 247.2h1.4M323.1 247.2h1.4M309.4 247.2h1.4M367.5 247.2h1.4M163.6 247.2h1.4M135.3 247.2h1.4M322.8 247.2h1.4M309.9 247.2h1.4M368 247.2h1.4M368.3 247.2h1.4M106.3 247.2h1.4M301.8 246.5h1.4M286.6 246.5h1.4M119 246.5h1.4M355.6 246.5h1.4M126.7 246.5h1.4M298.5 246.5h1.4M176.1 246.5h1.4M264 246.5h1.4M262.1 246.5h1.4M213.7 246.5h1.4M300.4 246.5h1.4M345.9 246.5h1.4M302.1 246.5h1.4M287 246.5h1.4M119.4 246.5h1.4M355.8 246.5h1.4M356.4 246.5h1.4M264.3 246.5h1.4M262.6 246.5h1.4M214 246.5h1.4M214.9 246.5h1.4M376.9 246.5h1.4M312.6 245.9h1.4M265.6 245.9h1.4M259.6 245.9h1.4M331.5 245.9h1.4M222.9 245.9h1.4M209.6 245.9h1.4M149.7 245.9h1.4M132.4 245.9h1.4M309.4 245.9h1.4M282.7 245.9h1.4M210 245.9h1.4M309.8 245.9h1.4M310.1 245.9h1.4M219.8 245.3h1.4M299.5 245.3h1.4M338.7 245.3h1.4M213.7 245.3h1.4M144.8 245.3h1.4M139.1 245.3h1.4M220.2 245.3h1.4M221 245.3h1.4M339.1 245.3h1.4M214.2 245.3h1.4M214.8 245.3h1.4M145.1 245.3h1.4M145.9 245.3h1.4M370.3 244.7h1.4M199.6 244.7h1.4M347.1 244.7h1.4M270 244.7h1.4M271.4 244.7h1.4M119.6 244.7h1.4M122.8 244.7h1.4M299.5 244.7h1.4M302.9 244.7h1.4M270.6 244.7h1.4M123.3 244.7h1.4M303.3 244.7h1.4M103.8 244.7h1.4M105.2 244.7h1.4M375.4 244.7h1.4M168.6 244h1.4M216.7 244h1.4M234.3 244h1.4M134.2 244h1.4M203.1 244h1.4M234.7 244h1.4M134.6 244h1.4M203.4 244h1.4M245.7 243.4h1.4M370.8 243.4h1.4M293.2 243.4h1.4M164.3 243.4h1.4M157.4 243.4h1.4M234 243.4h1.4M208 243.4h1.4M336.7 243.4h1.4M265 243.4h1.4M250.8 243.4h1.4M164.8 243.4h1.4M208.5 243.4h1.4M265.3 243.4h1.4M81.9 243.4h1.4M249.6 242.8h1.4M163 242.8h1.4M225.9 242.8h1.4M362.1 242.8h1.4M125 242.8h1.4M136.7 242.8h1.4M125.3 242.8h1.4M137.3 242.8h1.4M137.3 242.8h1.4M74.3 242.8h1.4M149.5 242.1h1.4M219.8 242.1h1.4M188.5 242.1h1.4M157.3 242.1h1.4M220.2 242.1h1.4M189 242.1h1.4M104.8 242.1h1.4M106.9 242.1h1.4M282.9 241.5h1.4M243.1 241.5h1.4M220.4 241.5h1.4M298.3 241.5h1.4M176.7 241.5h1.4M263 241.5h1.4M339.6 241.5h1.4M283.2 241.5h1.4M220.7 241.5h1.4M298.6 241.5h1.4M177.1 241.5h1.4M340.1 241.5h1.4M340.8 241.5h1.4M373.4 241.5h1.4M305.3 240.9h1.4M213.7 240.9h1.4M192.1 240.9h1.4M353.1 240.9h1.4M253.8 240.9h1.4M237.8 240.9h1.4M353.4 240.9h1.4M354 240.9h1.4M254.2 240.9h1.4M106.2 240.9h1.4M105.7 240.9h1.4M159.7 240.3h1.4M246.5 240.3h1.4M272.8 240.3h1.4M224.4 240.3h1.4M244.2 240.3h1.4M107.7 240.3h1.4M132 240.3h1.4M214.3 240.3h1.4M246.9 240.3h1.4M247.4 240.3h1.4M244.5 240.3h1.4M132.6 240.3h1.4M103.7 240.3h1.4M359.4 239.6h1.4M129.7 239.6h1.4M307.2 239.6h1.4M251.2 239.6h1.4M359 239.6h1.4M182 239.6h1.4M291.2 239.6h1.4M264 239.6h1.4M202.5 239.6h1.4M314.3 239.6h1.4M327.6 239.6h1.4M302.7 239.6h1.4M283.1 239.6h1.4M291.8 239.6h1.4M264.2 239.6h1.4M202.9 239.6h1.4M203.6 239.6h1.4M117.5 239h1.4M317.5 239h1.4M174.9 239h1.4M215.3 239h1.4M242 239h1.4M175.4 239h1.4M239.1 238.4h1.4M110.8 238.4h1.4M186.4 238.4h1.4M170.5 238.4h1.4M363.6 238.4h1.4M295.7 238.4h1.4M328.4 238.4h1.4M309.8 238.4h1.4M239.4 238.4h1.4M186.8 238.4h1.4M377.3 238.4h1.4M162.2 237.8h1.4M344.6 237.8h1.4M113.3 237.8h1.4M210.6 237.8h1.4M241.6 237.8h1.4M366.6 237.8h1.4M275.8 237.8h1.4M143.6 237.8h1.4M260 237.8h1.4M317 237.8h1.4M292 237.8h1.4M162.7 237.8h1.4M211.2 237.8h1.4M144 237.8h1.4M260.3 237.8h1.4M317.4 237.8h1.4M318.1 237.8h1.4M107.3 237.8h1.4M104.5 237.8h1.4M104.5 237.8h1.4M302.1 237.1h1.4M139.7 237.1h1.4M149 237.1h1.4M122.1 237.1h1.4M140 237.1h1.4M122.6 237.1h1.4M105.6 237.1h1.4M164.3 236.5h1.4M200.5 236.5h1.4M173 236.5h1.4M195 236.5h1.4M231.4 236.5h1.4M280 236.5h1.4M136.2 236.5h1.4M200.8 236.5h1.4M173.3 236.5h1.4M268.7 235.9h1.4M127 235.9h1.4M106.6 235.9h1.4M132.2 235.3h1.4M192.7 235.3h1.4M227.3 235.3h1.4M170.5 235.3h1.4M211.9 235.3h1.4M284.2 235.3h1.4M303.6 235.3h1.4M292.4 235.3h1.4M141.2 235.3h1.4M362.6 235.3h1.4M225.7 235.3h1.4M132.4 235.3h1.4M193.1 235.3h1.4M227.9 235.3h1.4M284.7 235.3h1.4M303.9 235.3h1.4M304.6 235.3h1.4M295 234.6h1.4M284.4 234.6h1.4M193.9 234.6h1.4M209.3 234.6h1.4M243.9 234.6h1.4M210.7 234.6h1.4M332 234.6h1.4M125.4 234.6h1.4M137.1 234.6h1.4M339.8 234.6h1.4M284.6 234.6h1.4M285.1 234.6h1.4M194.4 234.6h1.4M194.6 234.6h1.4M209.8 234.6h1.4M211 234.6h1.4M126 234.6h1.4M137.6 234.6h1.4M340.3 234.6h1.4M341 234.6h1.4M382.6 234.6h1.4M279.2 234h1.4M231.2 234h1.4M143.6 234h1.4M344.7 234h1.4M148.8 234h1.4M365.5 234h1.4M184.2 234h1.4M311.5 234h1.4M175.7 234h1.4M308.9 234h1.4M279.5 234h1.4M143.9 234h1.4M345.2 234h1.4M311.9 234h1.4M312.1 234h1.4M176 234h1.4M309.4 234h1.4M107.4 234h1.4M152.8 233.4h1.4M152.5 233.4h1.4M130.4 233.4h1.4M176.8 233.4h1.4M148.3 233.4h1.4M133 233.4h1.4M328.8 233.4h1.4M233 233.4h1.4M339.4 233.4h1.4M153.1 233.4h1.4M153.8 233.4h1.4M153 233.4h1.4M133.3 233.4h1.4M134.1 233.4h1.4M233.5 233.4h1.4M339.9 233.4h1.4M340.6 233.4h1.4M226.5 232.8h1.4M314.3 232.8h1.4M105.3 232.8h1.4M155.2 232.8h1.4M331 232.8h1.4M163.8 232.8h1.4M118.4 232.8h1.4M198.2 232.8h1.4M131.8 232.8h1.4M124.8 232.8h1.4M354.6 232.8h1.4M271.8 232.8h1.4M328.4 232.8h1.4M124.9 232.8h1.4M280.7 232.8h1.4M226.8 232.8h1.4M155.5 232.8h1.4M156.2 232.8h1.4M164.3 232.8h1.4M106.7 232.8h1.4M104.4 232.8h1.4M355.2 232.1h1.4M108.9 232.1h1.4M182.4 232.1h1.4M262.7 232.1h1.4M215.8 232.1h1.4M243.7 232.1h1.4M367.2 232.1h1.4M177.4 232.1h1.4M173.7 232.1h1.4M183.2 232.1h1.4M167.1 232.1h1.4M216.6 232.1h1.4M355.7 232.1h1.4M356.2 232.1h1.4M216.1 232.1h1.4M244.3 232.1h1.4M244.6 232.1h1.4M177.7 232.1h1.4M178.2 232.1h1.4M167.7 232.1h1.4M216.9 232.1h1.4M106.6 232.1h1.4M378.6 232.1h1.4M188.9 231.5h1.4M294.8 231.5h1.4M161.7 231.5h1.4M329.5 231.5h1.4M156.2 231.5h1.4M218.7 231.5h1.4M355.5 231.5h1.4M315.2 231.5h1.4M189.2 231.5h1.4M295.2 231.5h1.4M295.5 231.5h1.4M329.8 231.5h1.4M156.7 231.5h1.4M156.9 231.5h1.4M355.9 231.5h1.4M214.5 230.9h1.4M183.1 230.9h1.4M216 230.9h1.4M304.7 230.9h1.4M317.7 230.9h1.4M272.4 230.9h1.4M251.9 230.9h1.4M137.6 230.9h1.4M120.6 230.9h1.4M214.9 230.9h1.4M216.4 230.9h1.4M305.2 230.9h1.4M318.2 230.9h1.4M318.7 230.9h1.4M252.2 230.9h1.4M138.2 230.9h1.4M105.4 230.9h1.4M104.7 230.9h1.4M106.5 230.9h1.4M339 230.2h1.4M199.7 230.2h1.4M345 230.2h1.4M296.3 230.2h1.4M133.5 230.2h1.4M274.6 230.2h1.4M274 230.2h1.4M180 230.2h1.4M279 230.2h1.4M107.6 230.2h1.4M296.6 230.2h1.4M134.1 230.2h1.4M275.2 230.2h1.4M275.8 230.2h1.4M274.3 230.2h1.4M180.3 230.2h1.4M180.6 230.2h1.4M147.8 229.6h1.4M359.9 229.6h1.4M318.2 229.6h1.4M344.2 229.6h1.4M201.3 229.6h1.4M175.3 229.6h1.4M157.4 229.6h1.4M196.3 229.6h1.4M344.6 229.6h1.4M201.9 229.6h1.4M175.7 229.6h1.4M176 229.6h1.4M357.9 229h1.4M364.2 229h1.4M196.1 229h1.4M326.6 229h1.4M363 229h1.4M197.3 229h1.4M127.1 229h1.4M167.5 229h1.4M372.2 229h1.4M323.2 229h1.4M358.2 229h1.4M196.5 229h1.4M196.9 229h1.4M326.9 229h1.4M363.5 229h1.4M197.6 229h1.4M323.5 229h1.4M160.6 228.4h1.4M368.8 228.4h1.4M191.9 228.4h1.4M331.4 228.4h1.4M131.8 228.4h1.4M126.3 228.4h1.4M339.6 228.4h1.4M348.8 228.4h1.4M300.3 228.4h1.4M273.4 228.4h1.4M161 228.4h1.4M161.6 228.4h1.4M331.9 228.4h1.4M332 228.4h1.4M132.3 228.4h1.4M126.7 228.4h1.4M340 228.4h1.4M300.8 228.4h1.4M273.9 228.4h1.4M374 228.4h1.4M280.3 227.7h1.4M345.8 227.7h1.4M257.6 227.7h1.4M259.2 227.7h1.4M280.8 227.7h1.4M281.2 227.7h1.4M346.4 227.7h1.4M105.9 227.7h1.4M223.4 227.1h1.4M300.7 227.1h1.4M336.6 227.1h1.4M323.1 227.1h1.4M210.7 227.1h1.4M338.7 227.1h1.4M202.5 227.1h1.4M211.5 227.1h1.4M301 227.1h1.4M301.6 227.1h1.4M323.7 227.1h1.4M211.2 227.1h1.4M295.8 226.5h1.4M330.4 226.5h1.4M367.4 226.5h1.4M200.7 226.5h1.4M333.1 226.5h1.4M301.2 226.5h1.4M305.7 226.5h1.4M354.5 226.5h1.4M270 226.5h1.4M263 226.5h1.4M296.3 226.5h1.4M296.8 226.5h1.4M201.3 226.5h1.4M333.4 226.5h1.4M334.3 226.5h1.4M301.5 226.5h1.4M270.5 226.5h1.4M271 226.5h1.4M263.6 226.5h1.4M105.9 226.5h1.4M244.5 225.9h1.4M119.9 225.9h1.4M277.2 225.9h1.4M336.8 225.9h1.4M277.7 225.9h1.4M337.3 225.9h1.4M105.3 225.9h1.4M120.4 225.2h1.4M177.3 225.2h1.4M192.5 225.2h1.4M145.1 225.2h1.4M189.2 225.2h1.4M207.6 225.2h1.4M274.8 225.2h1.4M226.3 225.2h1.4M291.9 225.2h1.4M178 225.2h1.4M177.6 225.2h1.4M145.7 225.2h1.4M145.9 225.2h1.4M275.2 225.2h1.4M292.2 225.2h1.4M212.6 224.6h1.4M156.8 224.6h1.4M161.1 224.6h1.4M147.1 224.6h1.4M185.7 224.6h1.4M112.9 224.6h1.4M293.1 224.6h1.4M356.9 224.6h1.4M229.6 224.6h1.4M157.2 224.6h1.4M230.1 224.6h1.4M230.7 224.6h1.4M259.7 224h1.4M240.4 224h1.4M348.4 224h1.4M268.6 224h1.4M209 224h1.4M209.6 224h1.4M210.1 224h1.4M139.2 223.4h1.4M164.7 223.4h1.4M245.5 223.4h1.4M301.6 223.4h1.4M262.6 223.4h1.4M371.7 223.4h1.4M243.8 223.4h1.4M368.8 223.4h1.4M163.8 223.4h1.4M292 223.4h1.4M149.9 223.4h1.4M139.5 223.4h1.4M165.3 223.4h1.4M245.8 223.4h1.4M246.2 223.4h1.4M372.3 223.4h1.4M164.2 223.4h1.4M292.5 223.4h1.4M150.4 223.4h1.4M106.1 223.4h1.4M377.2 223.4h1.4M251.4 222.7h1.4M196.9 222.7h1.4M353.4 222.7h1.4M193.4 222.7h1.4M353.9 222.7h1.4M193.9 222.7h1.4M104.5 222.7h1.4M106 222.7h1.4M376.2 222.7h1.4M105.9 222.1h1.4M281.9 222.1h1.4M222.5 222.1h1.4M203.6 222.1h1.4M162.2 222.1h1.4M331.4 222.1h1.4M166.9 222.1h1.4M252.2 222.1h1.4M159.1 222.1h1.4M106.5 222.1h1.4M204 222.1h1.4M204.3 222.1h1.4M331.9 222.1h1.4M167.4 222.1h1.4M159.4 222.1h1.4M160.2 222.1h1.4M164 221.5h1.4M159.7 221.5h1.4M310.5 221.5h1.4M115.7 221.5h1.4M133.4 221.5h1.4M155.2 221.5h1.4M160 221.5h1.4M160.7 221.5h1.4M125.3 220.9h1.4M197.3 220.9h1.4M279.1 220.9h1.4M345.1 220.9h1.4M125.8 220.9h1.4M197.6 220.9h1.4M279.4 220.9h1.4M105 220.9h1.4M106.2 220.9h1.4M376.2 220.9h1.4M185.8 220.2h1.4M345.5 220.2h1.4M277.5 220.2h1.4M226.5 220.2h1.4M336.5 220.2h1.4M346.1 220.2h1.4M346.5 220.2h1.4M227 220.2h1.4M336.9 220.2h1.4M369.7 219.6h1.4M321 219.6h1.4M368.2 219.6h1.4M170 219.6h1.4M313.5 219.6h1.4M370.1 219.6h1.4M370.5 219.6h1.4M321.5 219.6h1.4M322.1 219.6h1.4M368.6 219.6h1.4M313.9 219.6h1.4M184.3 219h1.4M218 219h1.4M225 219h1.4M371.7 219h1.4M330.8 219h1.4M104.5 219h1.4M259.6 218.3h1.4M349.7 218.3h1.4M360.1 218.3h1.4M194.2 218.3h1.4M354.5 218.3h1.4M191.9 218.3h1.4M259.9 218.3h1.4M260.3 218.3h1.4M350 218.3h1.4M105.2 218.3h1.4M106.8 218.3h1.4M191.1 217.7h1.4M338.9 217.7h1.4M284.5 217.7h1.4M158.9 217.7h1.4M277.8 217.7h1.4M238.2 217.7h1.4M261.8 217.7h1.4M191.5 217.7h1.4M284.8 217.7h1.4M238.6 217.7h1.4M239 217.7h1.4M262.2 217.7h1.4M105 217.7h1.4M242.5 217.1h1.4M104.9 217.1h1.4M267.9 217.1h1.4M280.4 217.1h1.4M265 217.1h1.4M270.9 217.1h1.4M242.9 217.1h1.4M268.5 217.1h1.4M281 217.1h1.4M271.2 217.1h1.4M260.7 216.5h1.4M191.3 216.5h1.4M201.6 216.5h1.4M363.7 216.5h1.4M191.5 216.5h1.4M227.9 216.5h1.4M203.7 216.5h1.4M158.6 216.5h1.4M111.8 216.5h1.4M261.1 216.5h1.4M191.6 216.5h1.4M204.1 216.5h1.4M94.5 216.5h1.4M156.3 215.8h1.4M168.8 215.8h1.4M265 215.8h1.4M302.4 215.8h1.4M251 215.8h1.4M188.2 215.8h1.4M355.4 215.8h1.4M130.5 215.8h1.4M104.7 215.8h1.4M107 215.8h1.4M106.5 215.8h1.4M394.6 215.8h1.4M241.3 215.2h1.4M371.2 215.2h1.4M276.9 215.2h1.4M314.6 215.2h1.4M292.6 215.2h1.4M291.8 215.2h1.4M117.4 215.2h1.4M277.2 215.2h1.4M277.5 215.2h1.4M315 215.2h1.4M293 215.2h1.4M117.7 215.2h1.4M112.1 214.6h1.4M207.7 214.6h1.4M249.9 214.6h1.4M310.2 214.6h1.4M246.5 214.6h1.4M135.4 214.6h1.4M205.8 214.6h1.4M315.3 214.6h1.4M197.4 214.6h1.4M288.6 214.6h1.4M189 214.6h1.4M154.1 214.6h1.4M347.8 214.6h1.4M130.7 214.6h1.4M311.9 214.6h1.4M278.1 214.6h1.4M135.9 214.6h1.4M136.5 214.6h1.4M288.9 214.6h1.4M189.5 214.6h1.4M190 214.6h1.4M154.7 214.6h1.4M278.5 214.6h1.4M142.7 214h1.4M165.1 214h1.4M138.8 214h1.4M207.1 214h1.4M288.8 214h1.4M110.7 214h1.4M162.4 214h1.4M349 214h1.4M165.5 214h1.4M289.3 214h1.4M111.2 214h1.4M349.5 214h1.4M350 214h1.4M268.5 213.3h1.4M249.8 213.3h1.4M134.9 213.3h1.4M250.2 213.3h1.4M159.8 213.3h1.4M156.5 213.3h1.4M186.7 213.3h1.4M238.8 213.3h1.4M345.5 213.3h1.4M141.3 213.3h1.4M250.1 213.3h1.4M250.5 213.3h1.4M160.2 213.3h1.4M157 213.3h1.4M141.8 213.3h1.4M264.7 212.7h1.4M157.9 212.7h1.4M295.6 212.7h1.4M134.1 212.7h1.4M265.2 212.7h1.4M296 212.7h1.4M134.6 212.7h1.4M106.6 212.7h1.4M154.4 212.1h1.4M356.2 212.1h1.4M350.6 212.1h1.4M219.9 212.1h1.4M198.1 212.1h1.4M297 212.1h1.4M356.7 212.1h1.4M356.8 212.1h1.4M350.9 212.1h1.4M220.3 212.1h1.4M198.5 212.1h1.4M199.1 212.1h1.4M373.7 212.1h1.4M363.7 211.5h1.4M224.3 211.5h1.4M234.8 211.5h1.4M126.9 211.5h1.4M130.1 211.5h1.4M328.2 211.5h1.4M161 211.5h1.4M119 211.5h1.4M364 211.5h1.4M235.3 211.5h1.4M235.6 211.5h1.4M328.8 211.5h1.4M160.1 210.8h1.4M248.8 210.8h1.4M213.4 210.8h1.4M160.4 210.8h1.4M161.1 210.8h1.4M213.9 210.8h1.4M105.9 210.8h1.4M377.7 210.8h1.4M171.5 210.2h1.4M286.9 210.2h1.4M278.1 210.2h1.4M171.9 210.2h1.4M287.4 210.2h1.4M287.7 210.2h1.4M106.5 210.2h1.4M376.4 210.2h1.4M193.2 209.6h1.4M279.2 209.6h1.4M275.3 209.6h1.4M285 209.6h1.4M264.4 209.6h1.4M125.2 209.6h1.4M240.9 209.6h1.4M285.5 209.6h1.4M125.6 209.6h1.4M105 209.6h1.4M106.1 209.6h1.4M272.8 208.9h1.4M360.1 208.9h1.4M369.1 208.9h1.4M148.2 208.9h1.4M304.7 208.9h1.4M150.6 208.9h1.4M293.4 208.9h1.4M291.2 208.9h1.4M159.2 208.9h1.4M238.6 208.9h1.4M296.6 208.9h1.4M273.3 208.9h1.4M360.5 208.9h1.4M148.8 208.9h1.4M149.1 208.9h1.4M305.1 208.9h1.4M305.3 208.9h1.4M151 208.9h1.4M293.7 208.9h1.4M297.2 208.9h1.4M297.6 208.9h1.4M352.2 208.3h1.4M312.9 208.3h1.4M201 208.3h1.4M119 208.3h1.4M264 208.3h1.4M245.6 208.3h1.4M303.5 208.3h1.4M311.9 208.3h1.4M313.3 208.3h1.4M201.3 208.3h1.4M201.6 208.3h1.4M119.6 208.3h1.4M264.5 208.3h1.4M246 208.3h1.4M312.3 208.3h1.4M312.7 208.3h1.4M104.6 208.3h1.4M72.8 208.3h1.4M164.5 207.7h1.4M191.6 207.7h1.4M245.9 207.7h1.4M316.2 207.7h1.4M128.1 207.7h1.4M215.3 207.7h1.4M135.5 207.7h1.4M266.3 207.7h1.4M108.5 207.7h1.4M246.6 207.7h1.4M190 207.7h1.4M200 207.7h1.4M165 207.7h1.4M266.8 207.7h1.4M267 207.7h1.4M247.1 207.7h1.4M190.6 207.7h1.4M190.8 207.7h1.4M104.8 207.7h1.4M104 207.7h1.4M378 207.7h1.4M235.9 207.1h1.4M328.4 207.1h1.4M204.7 207.1h1.4M123.1 207.1h1.4M268.1 207.1h1.4M152.5 207.1h1.4M233.1 207.1h1.4M255.5 207.1h1.4M117.4 207.1h1.4M327.2 207.1h1.4M180.3 207.1h1.4M365.6 207.1h1.4M123.5 207.1h1.4M233.4 207.1h1.4M256 207.1h1.4M117.9 207.1h1.4M327.6 207.1h1.4M327.8 207.1h1.4M366 207.1h1.4M106.6 207.1h1.4M365.5 206.4h1.4M254.2 206.4h1.4M327.6 206.4h1.4M178.4 206.4h1.4M176.2 206.4h1.4M151.3 206.4h1.4M240.6 206.4h1.4M319.1 206.4h1.4M237.1 206.4h1.4M291.5 206.4h1.4M116.5 206.4h1.4M184.9 206.4h1.4M363.7 206.4h1.4M328 206.4h1.4M178.9 206.4h1.4M176.8 206.4h1.4M177.1 206.4h1.4M240.9 206.4h1.4M292 206.4h1.4M292.1 206.4h1.4M116.7 206.4h1.4M364.1 206.4h1.4M104.6 206.4h1.4M315.5 205.8h1.4M319.1 205.8h1.4M332.6 205.8h1.4M248.9 205.8h1.4M316.9 205.8h1.4M333 205.8h1.4M249.5 205.8h1.4M317.3 205.8h1.4M318 205.8h1.4M106 205.8h1.4M328.8 205.2h1.4M207.1 205.2h1.4M190.4 205.2h1.4M121.9 205.2h1.4M179.7 205.2h1.4M164.8 205.2h1.4M327.7 205.2h1.4M311 205.2h1.4M349.4 205.2h1.4M268.4 205.2h1.4M370.4 205.2h1.4M316 205.2h1.4M207.4 205.2h1.4M180 205.2h1.4M328.1 205.2h1.4M350 205.2h1.4M269 205.2h1.4M376 205.2h1.4M293.9 204.6h1.4M126.6 204.6h1.4M239.3 204.6h1.4M346.1 204.6h1.4M307.4 204.6h1.4M371.1 204.6h1.4M131.7 204.6h1.4M250.3 204.6h1.4M299.8 204.6h1.4M137.1 204.6h1.4M154.5 204.6h1.4M302.2 204.6h1.4M294.3 204.6h1.4M346.4 204.6h1.4M307.7 204.6h1.4M300.1 204.6h1.4M300.4 204.6h1.4M137.6 204.6h1.4M154.8 204.6h1.4M107.1 204.6h1.4M270.9 203.9h1.4M213.5 203.9h1.4M121.1 203.9h1.4M174.7 203.9h1.4M126.7 203.9h1.4M293.7 203.9h1.4M150.9 203.9h1.4M269.5 203.9h1.4M159.1 203.9h1.4M175.3 203.9h1.4M127.2 203.9h1.4M127.8 203.9h1.4M105.1 203.9h1.4M105.1 203.9h1.4M204.9 203.3h1.4M237.3 203.3h1.4M321.6 203.3h1.4M297.4 203.3h1.4M190.5 203.3h1.4M256.2 203.3h1.4M275.1 203.3h1.4M364.3 203.3h1.4M297.9 203.3h1.4M190.8 203.3h1.4M191.5 203.3h1.4M256.7 203.3h1.4M275.4 203.3h1.4M104.6 203.3h1.4M260.3 202.7h1.4M345.3 202.7h1.4M113.1 202.7h1.4M276.4 202.7h1.4M232.7 202.7h1.4M156.2 202.7h1.4M171.8 202.7h1.4M276.9 202.7h1.4M233.1 202.7h1.4M156.7 202.7h1.4M172.1 202.7h1.4M172.8 202.7h1.4M251.4 202.1h1.4M257.9 202.1h1.4M226 202.1h1.4M366.2 202.1h1.4M142.6 202.1h1.4M251.8 202.1h1.4M258.4 202.1h1.4M369.7 201.4h1.4M131.4 201.4h1.4M161.9 201.4h1.4M322.1 201.4h1.4M121.6 201.4h1.4M275.3 201.4h1.4M370 201.4h1.4M132 201.4h1.4M322.5 201.4h1.4M122 201.4h1.4M275.6 201.4h1.4M276.2 201.4h1.4M364.6 200.8h1.4M334.5 200.8h1.4M206.7 200.8h1.4M144.1 200.8h1.4M193.7 200.8h1.4M122.5 200.8h1.4M276.8 200.8h1.4M335 200.8h1.4M144.5 200.8h1.4M194.3 200.8h1.4M194.5 200.8h1.4M122.8 200.8h1.4M106.4 200.8h1.4M104.1 200.8h1.4M305.8 200.2h1.4M133.4 200.2h1.4M239.4 200.2h1.4M223.4 200.2h1.4M188.1 200.2h1.4M305 200.2h1.4M133.5 200.2h1.4M134 200.2h1.4M239.9 200.2h1.4M188.5 200.2h1.4M104.8 200.2h1.4M107.4 200.2h1.4M268.3 199.6h1.4M301.5 199.6h1.4M253.1 199.6h1.4M153.7 199.6h1.4M359.9 199.6h1.4M263.7 199.6h1.4M245.3 199.6h1.4M268.7 199.6h1.4M268.8 199.6h1.4M302 199.6h1.4M302 199.6h1.4M245.8 199.6h1.4M105.6 199.6h1.4M104.6 199.6h1.4M375.5 199.6h1.4M257.1 198.9h1.4M111.1 198.9h1.4M275.8 198.9h1.4M109.8 198.9h1.4M191.2 198.9h1.4M111.5 198.9h1.4M110.2 198.9h1.4M110.7 198.9h1.4M172.8 198.3h1.4M262.3 198.3h1.4M328.9 198.3h1.4M163.4 198.3h1.4M209.6 198.3h1.4M214.4 198.3h1.4M269.3 198.3h1.4M371.1 198.3h1.4M180.2 198.3h1.4M135.3 198.3h1.4M140.4 198.3h1.4M356.5 198.3h1.4M262.9 198.3h1.4M210 198.3h1.4M371.6 198.3h1.4M180.7 198.3h1.4M107 198.3h1.4M374.4 198.3h1.4M236.8 197.7h1.4M210.3 197.7h1.4M269.3 197.7h1.4M165.2 197.7h1.4M127.1 197.7h1.4M219.9 197.7h1.4M323.2 197.7h1.4M287 197.7h1.4M184.3 197.7h1.4M140.8 197.7h1.4M182.6 197.7h1.4M237.1 197.7h1.4M237.6 197.7h1.4M269.7 197.7h1.4M269.9 197.7h1.4M165.5 197.7h1.4M287.4 197.7h1.4M183 197.7h1.4M106.1 197.7h1.4M106.8 197.7h1.4M262.9 197h1.4M151 197h1.4M349.5 197h1.4M172.7 197h1.4M284.9 197h1.4M267.7 197h1.4M177.9 197h1.4M156.5 197h1.4M112.5 197h1.4M209.4 197h1.4M263.5 197h1.4M151.4 197h1.4M350 197h1.4M285.4 197h1.4M178.5 197h1.4M285.1 196.4h1.4M272.7 196.4h1.4M307.9 196.4h1.4M204.7 196.4h1.4M164.1 196.4h1.4M265.2 196.4h1.4M346.9 196.4h1.4M358.3 196.4h1.4M106.5 196.4h1.4M199.3 196.4h1.4M335.6 196.4h1.4M136.7 196.4h1.4M312.8 196.4h1.4M357 196.4h1.4M304.9 196.4h1.4M273 196.4h1.4M308.2 196.4h1.4M309 196.4h1.4M347.3 196.4h1.4M199.6 196.4h1.4M199.8 196.4h1.4M163.2 195.8h1.4M227.8 195.8h1.4M309.1 195.8h1.4M288.6 195.8h1.4M204.6 195.8h1.4M373.1 195.8h1.4M365.2 195.8h1.4M356.1 195.8h1.4M159.1 195.8h1.4M255.4 195.8h1.4M163.6 195.8h1.4M164.3 195.8h1.4M309.4 195.8h1.4M289.1 195.8h1.4M289.6 195.8h1.4M373.7 195.8h1.4M374.2 195.8h1.4M365.8 195.8h1.4M159.5 195.8h1.4M255.8 195.8h1.4M256.1 195.8h1.4M109.9 195.2h1.4M281.7 195.2h1.4M232.4 195.2h1.4M370.6 195.2h1.4M282 195.2h1.4M282.5 195.2h1.4M325.2 194.5h1.4M357.5 194.5h1.4M164.1 194.5h1.4M171.6 194.5h1.4M227.6 194.5h1.4M326.9 194.5h1.4M164.5 194.5h1.4M171.9 194.5h1.4M289 193.9h1.4M135 193.9h1.4M359.8 193.9h1.4M162.5 193.9h1.4M154.3 193.9h1.4M264.9 193.9h1.4M269.9 193.9h1.4M268.3 193.9h1.4M271.1 193.9h1.4M289.5 193.9h1.4M360.2 193.9h1.4M162.8 193.9h1.4M163.3 193.9h1.4M154.7 193.9h1.4M268.7 193.9h1.4M271.5 193.9h1.4M106.7 193.9h1.4M213.7 193.3h1.4M145.3 193.3h1.4M178.7 193.3h1.4M132.5 193.3h1.4M256.6 193.3h1.4M296.4 193.3h1.4M155 193.3h1.4M371.1 193.3h1.4M181.6 193.3h1.4M214.2 193.3h1.4M214.4 193.3h1.4M145.6 193.3h1.4M133.1 193.3h1.4M133.4 193.3h1.4M155.5 193.3h1.4M105.4 193.3h1.4M280.9 192.7h1.4M282.7 192.7h1.4M364.7 192.7h1.4M226.4 192.7h1.4M316.8 192.7h1.4M272.6 192.7h1.4M283.1 192.7h1.4M365 192.7h1.4M365.6 192.7h1.4M226.9 192.7h1.4M227.5 192.7h1.4M317.2 192.7h1.4M317.5 192.7h1.4M273.1 192.7h1.4M106.8 192.7h1.4M104.5 192.7h1.4M264.2 192h1.4M198 192h1.4M110.8 192h1.4M111.2 192h1.4M106.6 192h1.4M385.9 192h1.4M205.4 191.4h1.4M149.2 191.4h1.4M299.3 191.4h1.4M149.4 191.4h1.4M205.8 191.4h1.4M299.7 191.4h1.4M281.1 190.8h1.4M198.8 190.8h1.4M153.6 190.8h1.4M309.3 190.8h1.4M302.6 190.8h1.4M291.1 190.8h1.4M302.9 190.8h1.4M291.6 190.8h1.4M291.9 190.8h1.4M243.8 190.2h1.4M310.8 190.2h1.4M186.3 190.2h1.4M242.9 190.2h1.4M337 190.2h1.4M164.8 190.2h1.4M294.2 190.2h1.4M320.8 190.2h1.4M244.2 190.2h1.4M244.6 190.2h1.4M311.3 190.2h1.4M186.8 190.2h1.4M243.2 190.2h1.4M244 190.2h1.4M321.3 190.2h1.4M124 189.5h1.4M156.7 189.5h1.4M240.8 189.5h1.4M203 189.5h1.4M148.6 189.5h1.4M249.2 189.5h1.4M238.3 189.5h1.4M193.4 189.5h1.4M185.1 189.5h1.4M192.9 189.5h1.4M285.3 189.5h1.4M203.5 189.5h1.4M203.9 189.5h1.4M238.7 189.5h1.4M193.8 189.5h1.4M193.2 189.5h1.4M106.7 189.5h1.4M277.6 188.9h1.4M115.2 188.9h1.4M193.2 188.9h1.4M227.2 188.9h1.4M314.3 188.9h1.4M169.4 188.9h1.4M362.5 188.9h1.4M220.9 188.9h1.4M104.8 188.9h1.4M156.2 188.9h1.4M336.4 188.9h1.4M277.8 188.9h1.4M193.7 188.9h1.4M314.8 188.9h1.4M105.2 188.9h1.4M336.8 188.9h1.4M107.2 188.9h1.4M106.9 188.9h1.4M223.7 188.3h1.4M213.7 188.3h1.4M179 188.3h1.4M204.5 188.3h1.4M201.4 188.3h1.4M161.5 188.3h1.4M224.2 188.3h1.4M214.2 188.3h1.4M179.5 188.3h1.4M104.4 188.3h1.4M92.6 188.3h1.4M291.6 187.7h1.4M275.3 187.7h1.4M228.5 187.7h1.4M282.8 187.7h1.4M148.6 187.7h1.4M177.3 187.7h1.4M302.8 187.7h1.4M345.8 187.7h1.4M267 187.7h1.4M275.8 187.7h1.4M228.8 187.7h1.4M283.3 187.7h1.4M283.8 187.7h1.4M177.8 187.7h1.4M178 187.7h1.4M346.2 187.7h1.4M105.5 187.7h1.4M107.2 187.7h1.4M111.9 187h1.4M305.8 187h1.4M297.4 187h1.4M225 187h1.4M150.5 187h1.4M122 187h1.4M297.7 187h1.4M298.3 187h1.4M225.3 187h1.4M122.4 187h1.4M106.7 187h1.4M103.8 187h1.4M220.5 186.4h1.4M145.3 186.4h1.4M188.3 186.4h1.4M175 186.4h1.4M167.4 186.4h1.4M275.9 186.4h1.4M342.3 186.4h1.4M151.9 186.4h1.4M145.9 186.4h1.4M167.9 186.4h1.4M342.8 186.4h1.4M152.2 186.4h1.4M104.7 186.4h1.4M104.7 186.4h1.4M252.4 185.8h1.4M288.1 185.8h1.4M357.6 185.8h1.4M217.8 185.8h1.4M216.6 185.8h1.4M288.4 185.8h1.4M174.6 185.1h1.4M104.6 185.1h1.4M333.1 185.1h1.4M134.5 185.1h1.4M345.9 185.1h1.4M340.1 185.1h1.4M175.1 185.1h1.4M105 185.1h1.4M134.8 185.1h1.4M340.7 185.1h1.4M375.5 185.1h1.4M331.2 184.5h1.4M253.8 184.5h1.4M221.6 184.5h1.4M259.9 184.5h1.4M151.9 184.5h1.4M153.1 184.5h1.4M131.5 184.5h1.4M173.3 184.5h1.4M229.9 184.5h1.4M253 184.5h1.4M231 184.5h1.4M161.4 184.5h1.4M128.1 184.5h1.4M260.5 184.5h1.4M153.5 184.5h1.4M131.9 184.5h1.4M132.6 184.5h1.4M173.8 184.5h1.4M128.6 184.5h1.4M107.3 184.5h1.4M104.5 184.5h1.4M104.2 184.5h1.4M305.6 183.9h1.4M157.2 183.9h1.4M182.9 183.9h1.4M340.9 183.9h1.4M300.6 183.9h1.4M314.7 183.9h1.4M227.4 183.9h1.4M274.3 183.9h1.4M157.6 183.9h1.4M341.3 183.9h1.4M342 183.9h1.4M227.8 183.9h1.4M228.1 183.9h1.4M274.6 183.9h1.4M259.1 183.3h1.4M135.5 183.3h1.4M103.9 183.3h1.4M154.1 183.3h1.4M194.6 183.3h1.4M164.6 183.3h1.4M344.1 183.3h1.4M269.2 183.3h1.4M211.8 183.3h1.4M289.4 183.3h1.4M259.6 183.3h1.4M104.5 183.3h1.4M154.6 183.3h1.4M194.9 183.3h1.4M165 183.3h1.4M269.7 183.3h1.4M212.1 183.3h1.4M236.1 182.6h1.4M278.2 182.6h1.4M165.7 182.6h1.4M236.5 182.6h1.4M146.1 182h1.4M244.7 182h1.4M143.6 182h1.4M123.6 182h1.4M139.6 182h1.4M250.4 182h1.4M196.1 182h1.4M281.8 182h1.4M208.7 182h1.4M146.5 182h1.4M147.1 182h1.4M245.3 182h1.4M245.7 182h1.4M143.9 182h1.4M250.9 182h1.4M196.4 182h1.4M197 182h1.4M282.1 182h1.4M209.2 182h1.4M298 181.4h1.4M337.3 181.4h1.4M215.1 181.4h1.4M336.7 181.4h1.4M145.8 181.4h1.4M319.9 181.4h1.4M323 181.4h1.4M288.7 181.4h1.4M215.4 181.4h1.4M215.6 181.4h1.4M146.2 181.4h1.4M183.5 180.8h1.4M148.7 180.8h1.4M296.8 180.8h1.4M246.7 180.8h1.4M314.8 180.8h1.4M280.7 180.8h1.4M143 180.8h1.4M295.5 180.8h1.4M366.8 180.8h1.4M340.9 180.8h1.4M325.7 180.8h1.4M184 180.8h1.4M149.1 180.8h1.4M315.3 180.8h1.4M143.4 180.8h1.4M367.2 180.8h1.4M367.5 180.8h1.4M326.2 180.8h1.4M105.4 180.8h1.4M105.2 180.8h1.4M104.7 180.8h1.4M377.4 180.8h1.4M228.1 180.1h1.4M196.8 180.1h1.4M270.5 180.1h1.4M268.7 180.1h1.4M309.3 180.1h1.4M211.9 180.1h1.4M197.1 180.1h1.4M197.9 180.1h1.4M270.9 180.1h1.4M271.3 180.1h1.4M269 180.1h1.4M212.2 180.1h1.4M212.7 180.1h1.4M110.8 179.5h1.4M299.4 179.5h1.4M302.2 179.5h1.4M136.1 179.5h1.4M312.8 179.5h1.4M222.5 179.5h1.4M197.5 179.5h1.4M106.3 179.5h1.4M177.8 179.5h1.4M111.4 179.5h1.4M136.4 179.5h1.4M137 179.5h1.4M313.3 179.5h1.4M313.6 179.5h1.4M198 179.5h1.4M198.1 179.5h1.4M155.7 178.9h1.4M243.8 178.9h1.4M198.1 178.9h1.4M182.9 178.9h1.4M134.2 178.9h1.4M209 178.9h1.4M265.3 178.9h1.4M345.4 178.9h1.4M244.1 178.9h1.4M198.5 178.9h1.4M134.6 178.9h1.4M131.8 178.3h1.4M166.1 178.3h1.4M359.4 178.3h1.4M166.7 178.3h1.4M163.6 178.3h1.4M305.9 178.3h1.4M372.4 178.3h1.4M146.5 178.3h1.4M134.2 178.3h1.4M236.7 178.3h1.4M119.2 178.3h1.4M330.9 178.3h1.4M370.2 178.3h1.4M166.6 178.3h1.4M360 178.3h1.4M306.4 178.3h1.4M134.6 178.3h1.4M237.1 178.3h1.4M237.7 178.3h1.4M370.6 178.3h1.4M370.9 178.3h1.4M373.4 178.3h1.4M122 177.6h1.4M257.2 177.6h1.4M174 177.6h1.4M113.4 177.6h1.4M215.2 177.6h1.4M163.1 177.6h1.4M143 177.6h1.4M270.3 177.6h1.4M269 177.6h1.4M191.6 177.6h1.4M354.6 177.6h1.4M143.5 177.6h1.4M341.6 177.6h1.4M370.6 177.6h1.4M122.4 177.6h1.4M122.6 177.6h1.4M257.7 177.6h1.4M258.4 177.6h1.4M174.4 177.6h1.4M175.1 177.6h1.4M215.6 177.6h1.4M215.9 177.6h1.4M143.3 177.6h1.4M143.9 177.6h1.4M269.4 177.6h1.4M106.3 177.6h1.4M149.9 177h1.4M355.1 177h1.4M136.2 177h1.4M261.2 177h1.4M342.8 177h1.4M332.8 177h1.4M306.8 177h1.4M115.8 177h1.4M150.4 177h1.4M151.1 177h1.4M307.1 177h1.4M307.6 177h1.4M190.5 176.4h1.4M201.9 176.4h1.4M119.2 176.4h1.4M293.8 176.4h1.4M138.9 176.4h1.4M328.9 176.4h1.4M258.8 176.4h1.4M169.2 176.4h1.4M186.3 176.4h1.4M317.6 176.4h1.4M306.6 176.4h1.4M294.4 176.4h1.4M169.7 176.4h1.4M170.4 176.4h1.4M307 176.4h1.4M169.4 175.8h1.4M121.6 175.8h1.4M338.6 175.8h1.4M193.1 175.8h1.4M142.9 175.8h1.4M311.1 175.8h1.4M188.3 175.8h1.4M129.2 175.8h1.4M117.7 175.8h1.4M271.6 175.8h1.4M194.5 175.8h1.4M339 175.8h1.4M143.2 175.8h1.4M311.4 175.8h1.4M118.3 175.8h1.4M272.1 175.8h1.4M195.1 175.8h1.4M106 175.8h1.4M188.7 175.1h1.4M217.1 175.1h1.4M123.8 175.1h1.4M270.9 175.1h1.4M350.9 175.1h1.4M188.9 175.1h1.4M173.9 175.1h1.4M162.4 175.1h1.4M189 175.1h1.4M217.6 175.1h1.4M124.1 175.1h1.4M271.4 175.1h1.4M351.3 175.1h1.4M352 175.1h1.4M174.4 175.1h1.4M174.7 175.1h1.4M304.7 174.5h1.4M363.8 174.5h1.4M225.1 174.5h1.4M105.6 174.5h1.4M306.1 174.5h1.4M103.9 174.5h1.4M248.6 174.5h1.4M364.3 174.5h1.4M364.4 174.5h1.4M112.5 173.9h1.4M123.3 173.9h1.4M357.2 173.9h1.4M163.1 173.9h1.4M143.6 173.9h1.4M149.3 173.9h1.4M123.9 173.9h1.4M124.3 173.9h1.4M357.6 173.9h1.4M163.5 173.9h1.4M149.6 173.9h1.4M105.9 173.9h1.4M105.9 173.9h1.4M365.3 173.2h1.4M172 173.2h1.4M371.1 173.2h1.4M341.1 173.2h1.4M331.1 173.2h1.4M270.4 173.2h1.4M211.3 173.2h1.4M129 173.2h1.4M272 173.2h1.4M154.7 173.2h1.4M134.4 173.2h1.4M197.2 173.2h1.4M215.3 173.2h1.4M172.5 173.2h1.4M172.9 173.2h1.4M341.5 173.2h1.4M129.3 173.2h1.4M130.1 173.2h1.4M272.3 173.2h1.4M273 173.2h1.4M134.8 173.2h1.4M204.9 172.6h1.4M302.1 172.6h1.4M169.1 172.6h1.4M268.7 172.6h1.4M192.5 172.6h1.4M224.6 172.6h1.4M200.8 172.6h1.4M205.2 172.6h1.4M269 172.6h1.4M269.3 172.6h1.4M192.8 172.6h1.4M193.2 172.6h1.4M201.4 172.6h1.4M201.9 172.6h1.4M106.9 172.6h1.4M311.3 172h1.4M342.8 172h1.4M367.4 172h1.4M282.3 172h1.4M212.9 172h1.4M129.8 172h1.4M150.4 172h1.4M134.3 172h1.4M182.8 172h1.4M359.4 172h1.4M336.5 172h1.4M235.1 172h1.4M311.8 172h1.4M367.9 172h1.4M150.8 172h1.4M151.2 172h1.4M359.7 172h1.4M360.5 172h1.4M337 172h1.4M337.1 172h1.4M235.6 172h1.4M236.1 172h1.4M377 172h1.4M105.4 171.4h1.4M130.3 171.4h1.4M304.4 171.4h1.4M110.5 171.4h1.4M274.2 171.4h1.4M304.7 171.4h1.4M305.1 171.4h1.4M110.9 171.4h1.4M111.6 171.4h1.4M274.6 171.4h1.4M105.3 171.4h1.4M106.7 171.4h1.4M246.3 170.7h1.4M237.8 170.7h1.4M167.4 170.7h1.4M238.2 170.7h1.4M104.8 170.7h1.4M373.8 170.7h1.4M265.6 170.1h1.4M365.3 170.1h1.4M113.9 170.1h1.4M192.7 170.1h1.4M292.1 170.1h1.4M169.7 170.1h1.4M235.5 170.1h1.4M339.3 170.1h1.4M265.9 170.1h1.4M114.3 170.1h1.4M114.7 170.1h1.4M193.2 170.1h1.4M292.6 170.1h1.4M105.9 170.1h1.4M286.7 169.5h1.4M155.4 169.5h1.4M292 169.5h1.4M278.6 169.5h1.4M261.7 169.5h1.4M183.8 169.5h1.4M256.1 169.5h1.4M292.6 169.5h1.4M184.2 169.5h1.4M184.8 169.5h1.4M256.5 169.5h1.4M256.9 169.5h1.4M105.3 169.5h1.4M311.5 168.9h1.4M247.7 168.9h1.4M159.1 168.9h1.4M260.4 168.9h1.4M240 168.9h1.4M107 168.9h1.4M289.9 168.9h1.4M167.1 168.9h1.4M345.4 168.9h1.4M361.5 168.9h1.4M250.5 168.9h1.4M141.3 168.9h1.4M159.6 168.9h1.4M160.3 168.9h1.4M107.4 168.9h1.4M290.3 168.9h1.4M251.1 168.9h1.4M229.1 168.2h1.4M309.5 168.2h1.4M222.7 168.2h1.4M217.6 168.2h1.4M261.4 168.2h1.4M355.6 168.2h1.4M249.6 168.2h1.4M276.7 168.2h1.4M223.1 168.2h1.4M223.3 168.2h1.4M261.7 168.2h1.4M262.3 168.2h1.4M355.9 168.2h1.4M304.2 167.6h1.4M322.8 167.6h1.4M263.8 167.6h1.4M303.8 167.6h1.4M348.5 167.6h1.4M323.1 167.6h1.4M264.1 167.6h1.4M264.4 167.6h1.4M104.5 167.6h1.4M106.6 167.6h1.4M105 167.6h1.4M148 167h1.4M304.4 167h1.4M124.9 167h1.4M186 167h1.4M205.8 167h1.4M216.9 167h1.4M157.7 167h1.4M212.1 167h1.4M314.4 167h1.4M186.6 167h1.4M206.4 167h1.4M206.6 167h1.4M212.7 167h1.4M314.9 167h1.4M375.5 167h1.4M339.9 166.4h1.4M152.8 166.4h1.4M293.1 165.7h1.4M127.5 165.7h1.4M141.9 165.7h1.4M355.4 165.7h1.4M357.7 165.7h1.4M293.7 165.7h1.4M142.3 165.7h1.4M142.5 165.7h1.4M107.2 165.7h1.4M343.2 165.1h1.4M188.9 165.1h1.4M280.5 165.1h1.4M128 165.1h1.4M305.6 165.1h1.4M249.3 165.1h1.4M267.5 165.1h1.4M343.6 165.1h1.4M343.9 165.1h1.4M189.4 165.1h1.4M190 165.1h1.4M306 165.1h1.4M306.2 165.1h1.4M249.7 165.1h1.4M267.8 165.1h1.4M325.3 164.5h1.4M130.1 164.5h1.4M243.4 164.5h1.4M130.5 164.5h1.4M243.8 164.5h1.4M196.2 163.8h1.4M340 163.8h1.4M198.3 163.8h1.4M246.3 163.8h1.4M196.6 163.8h1.4M106.5 163.8h1.4M294.1 163.8h1.4M340.5 163.8h1.4M198.7 163.8h1.4M198.9 163.8h1.4M105 163.8h1.4M363.1 163.2h1.4M244.6 163.2h1.4M240.5 163.2h1.4M283.8 163.2h1.4M171.6 163.2h1.4M202.7 163.2h1.4M355.3 163.2h1.4M208 163.2h1.4M243.7 163.2h1.4M267.5 163.2h1.4M234.1 163.2h1.4M151.3 163.2h1.4M235 163.2h1.4M232.6 163.2h1.4M342 163.2h1.4M363.7 163.2h1.4M364.2 163.2h1.4M240.9 163.2h1.4M284.3 163.2h1.4M172 163.2h1.4M355.9 163.2h1.4M208.3 163.2h1.4M267.9 163.2h1.4M234.4 163.2h1.4M151.7 163.2h1.4M235.4 163.2h1.4M208.2 162.6h1.4M279.2 162.6h1.4M183.4 162.6h1.4M288.1 162.6h1.4M219 162.6h1.4M260.6 162.6h1.4M279.7 162.6h1.4M183.8 162.6h1.4M288.4 162.6h1.4M219.6 162.6h1.4" fill="none" stroke="#1c1c1c" stroke-width="1.1"/>
<path d="M627.6 120.5h0.9M619.9 87.7h0.9M611.5 144.3h0.9M589.3 89.1h0.9M646.5 124.9h0.9M565.1 124.7h0.9M650.2 95.3h0.9M635.4 126.4h0.9M567.7 93.7h0.9M646.1 103.6h0.9M591.2 123.7h0.9M591.1 82h0.9M571.8 112h0.9M625.5 120.5h0.9M590 94.1h0.9M628 93.9h0.9M621.4 113.6h0.9M603.1 106.4h0.9M565.7 92.8h0.9M612.6 99.5h0.9M545.5 94.2h0.9M642.6 127.2h0.9M606.1 107.5h0.9M631.5 98.7h0.9M611.7 82.8h0.9M613.1 143.8h0.9M619.8 86.9h0.9M607.3 102.1h0.9M642.4 83.1h0.9M545.3 88.1h0.9M580.3 138h0.9M604.4 124.1h0.9M548.7 93.1h0.9M584.7 121.9h0.9M624.4 118.5h0.9M573.9 93.4h0.9M589.1 98.2h0.9M625.3 138.7h0.9M630 89.7h0.9M628.2 83h0.9M558.5 126.5h0.9M578.5 134.5h0.9M617.7 122.7h0.9M608.3 140h0.9M633 83.9h0.9M649.4 109.4h0.9M575.6 137.2h0.9M642.3 131.1h0.9M621 82.7h0.9M573.6 133.6h0.9M650.8 99.8h0.9M625.4 89.2h0.9M624 104.6h0.9M552.3 93.2h0.9M604.7 112h0.9M617.5 104.1h0.9M607.8 105.8h0.9M626.2 82.4h0.9M607 119.3h0.9M550.2 130.6h0.9M611.9 142.3h0.9M564 109h0.9M636.6 142h0.9M617.3 104.4h0.9M623.6 110.8h0.9M601.2 125h0.9M643.5 82.6h0.9M618.9 140.1h0.9M584.1 97h0.9M605 83.9h0.9M630.1 113h0.9M615 131.5h0.9M546.1 94h0.9M588.7 120.7h0.9M583.2 99.7h0.9M546.7 109.1h0.9M644.5 83.9h0.9M608.2 95h0.9M648 133.2h0.9M567.1 143.7h0.9M577.3 125.8h0.9M572 100.6h0.9M550.8 100.7h0.9M587.9 83.7h0.9M545.3 82.7h0.9M638.2 108.3h0.9M642.1 112.5h0.9M603.8 105.6h0.9M627.5 103.8h0.9M630.4 106.9h0.9M557.6 108.5h0.9M547.1 106.6h0.9M585.4 126.9h0.9M650.9 91.9h0.9M609.2 135.2h0.9M617 96.8h0.9M588.9 141.2h0.9M599.7 124.9h0.9M577 132.3h0.9M604.2 132h0.9M574 96.7h0.9M563.3 119.8h0.9M552.5 103.9h0.9M615.1 99.6h0.9M571.8 96.9h0.9M594.6 130h0.9M572.2 115.8h0.9M650 113.8h0.9M572.9 135.3h0.9M640.9 129.4h0.9M578.8 113.8h0.9M578.4 140.6h0.9M545.1 137.5h0.9M572 91.3h0.9M633.8 132.3h0.9M548.3 100.7h0.9M554.1 129.4h0.9M640.7 100.5h0.9M582.1 84.1h0.9M554.8 86.1h0.9M621.5 95.2h0.9M593.9 99.2h0.9M599.6 117.2h0.9M581.1 98.7h0.9M641.2 141.4h0.9M594 107.3h0.9M599.4 116.4h0.9M646.5 109.5h0.9M580.7 142.3h0.9M613.4 90.5h0.9M602.5 134h0.9M604.4 98.7h0.9M582.8 128.3h0.9M603.6 83h0.9M578.4 129h0.9M550.6 107.5h0.9M603.7 101.2h0.9M617.4 86.1h0.9M644 130h0.9M637.7 115.2h0.9M593.8 101.6h0.9M554.8 114.8h0.9M577.2 136.9h0.9M561.5 84.6h0.9M628.4 144.3h0.9M590.2 137.3h0.9M620.9 131.9h0.9M607.1 114.2h0.9M611.4 132.6h0.9M645.7 138.5h0.9M622.4 141.1h0.9M546.9 82.7h0.9M571.2 82.4h0.9M603.9 94.6h0.9M637.9 88.1h0.9M626.7 85.8h0.9M644.4 105.1h0.9M573.8 102.4h0.9M619.4 137h0.9M615.6 90.9h0.9M584 112.9h0.9M573.2 141.3h0.9M619.7 126.5h0.9M570.6 115.7h0.9M568.9 102.5h0.9M627.1 97.9h0.9M617 97.3h0.9M628.9 92.2h0.9M638.6 85.3h0.9M566.8 123.7h0.9M582.4 92.4h0.9M560.1 115.2h0.9M576.9 139.3h0.9M623.9 113.1h0.9M613.8 96.2h0.9M590.1 133.3h0.9M640.6 91.4h0.9M578.3 131.1h0.9M574.7 103.5h0.9M554.5 135.1h0.9M555.8 124.9h0.9M553.9 98.8h0.9M643.1 89.6h0.9M627.9 95.8h0.9M632 103.2h0.9M601.7 133.7h0.9M553.6 106.1h0.9M640.7 98.8h0.9M604.8 139.9h0.9M619.4 140.2h0.9M603.3 124.6h0.9M550.9 141.9h0.9M589 116h0.9M600.9 102h0.9M646.5 123.7h0.9M600.8 91.7h0.9M622.2 122.7h0.9M645.4 118.2h0.9M579.2 121.7h0.9M559.9 96.4h0.9M605.4 122.9h0.9M647.4 84.4h0.9M637.8 107.8h0.9M547.3 107.2h0.9M608.1 105.4h0.9M581.6 133.8h0.9M589.5 142.8h0.9M571.7 88.3h0.9M595.8 128.3h0.9M581.5 97.5h0.9M604.1 134.1h0.9M605.6 120.1h0.9M586.4 123.5h0.9M625.3 87h0.9M648.6 109.5h0.9M593.1 113.4h0.9M622.4 111.9h0.9M608.9 100.9h0.9M571.2 114.6h0.9M556.8 85h0.9M620 91.2h0.9M610.8 140.4h0.9M633.2 88.8h0.9M593.9 117h0.9M581 105.3h0.9M646.4 92h0.9M634.8 131.6h0.9M563.7 105.5h0.9M600.2 139.4h0.9M544.1 138.8h0.9M550.1 101h0.9M544.4 143.5h0.9M646.9 109.5h0.9M619.9 85.2h0.9M603.3 104.1h0.9M603 101.5h0.9M615.2 112.5h0.9M596.7 113.2h0.9M581.4 114.4h0.9M620.9 122.2h0.9M558.4 124h0.9M565.3 123.2h0.9M623.2 122.8h0.9M628.6 107.9h0.9M650 138.3h0.9M600.8 101.2h0.9M644.1 118.6h0.9M559.6 108.1h0.9M556.7 113.1h0.9M572.1 91.8h0.9M625.3 101.9h0.9M646.4 125.8h0.9M585.3 100.6h0.9M559.1 104.3h0.9M603.3 82.9h0.9M605.3 95.5h0.9M561.7 91.7h0.9M575 120.7h0.9M571.7 124.6h0.9M597.2 104.5h0.9M646.8 141.3h0.9M565.7 111.6h0.9M603.8 104.1h0.9M583.4 142.9h0.9M607.4 141.4h0.9M581.2 123.1h0.9M602.5 132.4h0.9M567.4 84.4h0.9M630.7 138.6h0.9M548.8 137.8h0.9M595.2 86.8h0.9M570.9 92.8h0.9M600 145.2h0.9M586.3 125.7h0.9M576.2 90.5h0.9M648.8 138.2h0.9M554.6 97.9h0.9M602.1 129.3h0.9M576.9 85.2h0.9M572.8 117.8h0.9M636.2 83.2h0.9M620.1 120.6h0.9M579.3 111.6h0.9M548.2 113.1h0.9M626.3 101.9h0.9M604 124.7h0.9M556.6 108.7h0.9M575.1 96.8h0.9M607.9 84.9h0.9M599 127.9h0.9M567 84.2h0.9M636.4 136.2h0.9M580.3 136h0.9M568.2 94.7h0.9M620.2 90.3h0.9M582.1 123.2h0.9M572 82.4h0.9M641.3 102.6h0.9M572.4 115h0.9M633.1 108.4h0.9M552.2 131.8h0.9M542.1 121.6h0.9M552.1 96.8h0.9M548.3 88.6h0.9M552.3 96.8h0.9M556 142.6h0.9M544.3 123.7h0.9M557.9 140.7h0.9M548.5 119.6h0.9M545.6 83.1h0.9M552.9 127.9h0.9M550.2 125.1h0.9M548.6 94.4h0.9M554.1 106.5h0.9M547.1 130.8h0.9M548.8 89.4h0.9M551.1 123.4h0.9M548 114.8h0.9M550.9 136.9h0.9M550.9 128.6h0.9M559.4 112.2h0.9M557.7 102.3h0.9M556.6 99.1h0.9M553.2 90.1h0.9M550.6 132h0.9M548.5 131.5h0.9M546.7 140.5h0.9M549 114.5h0.9M555.9 117.2h0.9M547.6 117.5h0.9M549.4 131.5h0.9M548.1 83.8h0.9M548.7 106.4h0.9M543 112h0.9M554.7 95.7h0.9M550.7 97h0.9M555 109.4h0.9M562.6 138.1h0.9M547.5 95.3h0.9M546 130.3h0.9M552.3 101.4h0.9M552.7 83h0.9M556.2 88.9h0.9M554.4 111.2h0.9M547.7 86.9h0.9M549.5 111.8h0.9M555.9 90.9h0.9M554.5 145h0.9M557.1 87.5h0.9M552.6 109.9h0.9M551.7 144.5h0.9M544.1 127.9h0.9M552.3 120.9h0.9M546.8 90.9h0.9M551.8 120.2h0.9M547.8 98.8h0.9M554.2 133.1h0.9M552.8 141.6h0.9M549.9 104.3h0.9M558.2 90.6h0.9M549.6 140h0.9M552.3 87.9h0.9M551.9 104.1h0.9M562 100.6h0.9M547.1 101.3h0.9M550.5 117.4h0.9M556.3 123.5h0.9M550.6 144.1h0.9M553.3 129.7h0.9M549.1 140.5h0.9M550.6 127h0.9M554.1 115.8h0.9M549.2 92.5h0.9M548.2 106.2h0.9M547.4 134.1h0.9M552.5 96.5h0.9M547.8 110.7h0.9M555.6 137.2h0.9M547 125.4h0.9M557.9 105.9h0.9M551.3 125.9h0.9M553.8 104.8h0.9M550.5 85.4h0.9M552.4 99.8h0.9M556.5 105.4h0.9M550.1 143.3h0.9M555.1 105.6h0.9M551.8 108.5h0.9M548.7 134.3h0.9M552.6 97.2h0.9M550.6 126.6h0.9M545.9 96.7h0.9M549.1 131h0.9M556.6 102.6h0.9M553.4 126.7h0.9M549.7 119.7h0.9M545.4 100.5h0.9M559.3 115.3h0.9M551.5 83.4h0.9M553.4 111.3h0.9M554.9 111.8h0.9M548.8 94.5h0.9M548 142.9h0.9M557.2 88.7h0.9M545.3 98.7h0.9M552.5 141.9h0.9M548.7 111.1h0.9M555.8 135.8h0.9M550.2 141.4h0.9M554.5 140.7h0.9M543.6 110h0.9M545.7 110.1h0.9M555.5 110.2h0.9M551.7 85.8h0.9M555 109.6h0.9M547.1 128.7h0.9M552.6 124.9h0.9M543.3 87h0.9M558.2 137.8h0.9M550.1 102.6h0.9M555.6 95.3h0.9M552.6 119.9h0.9M551.8 129.3h0.9M551.4 82.8h0.9M554.9 113.8h0.9M551.7 99.5h0.9M546.4 138.9h0.9M554.1 128.5h0.9M551 136h0.9M547.6 138.5h0.9M550.7 122.3h0.9M551.5 84.8h0.9M556.2 110.4h0.9M553.3 121.2h0.9M548.1 98.2h0.9M551.7 112.3h0.9M544.3 123.1h0.9M551.8 94.2h0.9M548.1 83.3h0.9M550.7 133.8h0.9M543.3 133.7h0.9M557.4 141h0.9M548.2 115.4h0.9M546.2 126h0.9M557 88.3h0.9M556.1 135.7h0.9M556.6 118.6h0.9M557 82.7h0.9M551 117.8h0.9M549.5 118.8h0.9M556.7 121.2h0.9M554.3 109.9h0.9M552.3 91.4h0.9M546.1 137.7h0.9M544.2 101.9h0.9M550.3 98.6h0.9M547.2 126.5h0.9M555.3 99.5h0.9M546.5 142.3h0.9M555.1 110.6h0.9M554.6 129.8h0.9M549.8 111.8h0.9M551.5 99.2h0.9M556.3 120.3h0.9M557.8 140.4h0.9M548.1 88h0.9M564.6 87.2h0.9M548.1 128.7h0.9M552.3 130h0.9M549.1 82.1h0.9M548.7 97.4h0.9M551 98.5h0.9M542.7 140.2h0.9M545.6 92.4h0.9M551.2 89.1h0.9M550 88.1h0.9M553.6 117.3h0.9M555.5 142.2h0.9M553.3 128.5h0.9M552.6 84.5h0.9M552.3 98.4h0.9M555.4 121.2h0.9M548 101.4h0.9M550.6 105.1h0.9M551 124.8h0.9M547.7 114.6h0.9M551.2 85.3h0.9M550.6 134.6h0.9M550.3 104.4h0.9M551.1 125.2h0.9M552.8 119.7h0.9M555.4 130.9h0.9M554.9 118.7h0.9M543.9 136.7h0.9M544.2 83.7h0.9M551.1 96.1h0.9M549.9 117.9h0.9M554.1 127.1h0.9M552.4 101.4h0.9M558 95.5h0.9M620 82.7h0.9M623.1 119.4h0.9M629.7 116.5h0.9M615.1 142.2h0.9M606 127h0.9M612.8 85.5h0.9M642.8 104.2h0.9M616 141h0.9M620.5 104h0.9M642.2 133.5h0.9M648 92.8h0.9M633.3 143.3h0.9M606.5 106.2h0.9M624 138.7h0.9M606.9 101.8h0.9M612.3 120.3h0.9M641.6 97.2h0.9M642.1 137.5h0.9M613.8 125.7h0.9M648.5 128.9h0.9M606.7 87.4h0.9M609.5 94.9h0.9M629.2 140.9h0.9M645.2 143.1h0.9M640.3 130.7h0.9M608.1 106.7h0.9M647.5 96.4h0.9M643.9 132.4h0.9M636.9 135.9h0.9M635.3 121.9h0.9M634.2 123.8h0.9M620.9 114.7h0.9M619.6 83.4h0.9M631.7 121h0.9M650.6 129.7h0.9M640.4 107.3h0.9M607.5 143.5h0.9M619.6 138.8h0.9M617.4 134.6h0.9M620 99.3h0.9M610.9 137.4h0.9M639.1 130.6h0.9M620 118.8h0.9M607.9 103.2h0.9M642.9 102.8h0.9M628.6 108.3h0.9M644.4 94.7h0.9M624 120.1h0.9M648.3 139.7h0.9M605.9 93h0.9M630.2 84.1h0.9M610.2 139.4h0.9M626.8 135.7h0.9M642.8 107.6h0.9M628.7 143.8h0.9M612.2 94.1h0.9M607.4 88h0.9M629.9 82.6h0.9M635.8 132.3h0.9M627.6 93.8h0.9M615.9 105.6h0.9M633.9 101.4h0.9M649.8 109.4h0.9M611.4 86.9h0.9M647.7 113.5h0.9M615 133.1h0.9M606.6 139.5h0.9M650.1 141.7h0.9M619.6 141.1h0.9M645.8 91.8h0.9M636.5 87.6h0.9M614.3 145.3h0.9M612.5 138.3h0.9M647.2 134.9h0.9M610.3 108.7h0.9M632.5 130.4h0.9M625.8 125h0.9M609.4 126.8h0.9M618.6 115.7h0.9M642.5 141h0.9M639.5 138.3h0.9M619.1 90h0.9M649.8 122.9h0.9M642.6 140.2h0.9M641 128.8h0.9M621.1 93.1h0.9M611.1 133.7h0.9M650.1 132.5h0.9M628.1 104.9h0.9M613.4 107.9h0.9M611.4 125.9h0.9M632.3 109.5h0.9M626.7 126.3h0.9M631 109.7h0.9M612.5 141.8h0.9M613.3 111.9h0.9M646.3 84.2h0.9M628.5 116.2h0.9M626.6 85.3h0.9M649 142.6h0.9M613.2 117.6h0.9M622.3 88.7h0.9M621.5 129.6h0.9M619 141.2h0.9M638.2 140.5h0.9M644.4 128.7h0.9M649.8 118.3h0.9M610 103.2h0.9M622.4 137.8h0.9M636.2 110.7h0.9M619.7 134.7h0.9M623.6 132.4h0.9M625.6 123.9h0.9M646.6 122.5h0.9M645.7 113.6h0.9M613.6 92.5h0.9M610.8 102.5h0.9M607.6 92.5h0.9M623.1 134.6h0.9M626.3 141h0.9M505.7 142.3h0.9M540.6 136.6h0.9M520.9 96.7h0.9M515 119.3h0.9M512 137.4h0.9M508.7 84.2h0.9M486 111.5h0.9M542.7 117.5h0.9M508.8 120.9h0.9M535.4 103.8h0.9M531.7 86.3h0.9M507.1 106h0.9" fill="none" stroke="#000" stroke-width="0.8" stroke-opacity="0.24"/>
<line x1="525.35" y1="26.8" x2="525.35" y2="145.6" stroke="#808080" stroke-width="1.1"/>
<path d="M570.6 145.6 L571 144.77 L571.57 143.57 L572.21 142.24 L572.8 141 L573.33 139.96 L573.86 138.98 L574.38 137.94 L574.9 136.7 L575.43 135.18 L575.96 133.47 L576.48 131.7 L577 130 L577.51 128.43 L578.01 126.91 L578.5 125.36 L579 123.7 L579.5 121.85 L580 119.89 L580.5 117.9 L581 116 L581.5 114.19 L582 112.42 L582.5 110.71 L583 109.1 L583.5 107.57 L583.99 106.12 L584.49 104.76 L585 103.5 L585.51 102.38 L586.03 101.38 L586.55 100.41 L587.1 99.4 L587.68 98.31 L588.28 97.18 L588.89 96.06 L589.5 95 L590.11 93.98 L590.71 92.99 L591.34 92.06 L592 91.2 L592.7 90.43 L593.44 89.74 L594.2 89.11 L595 88.5 L595.84 87.92 L596.72 87.38 L597.61 86.87 L598.5 86.4 L599.39 85.97 L600.28 85.58 L601.16 85.23 L602 84.9 L602.79 84.61 L603.53 84.36 L604.26 84.12 L605 83.9 L605.74 83.68 L606.47 83.47 L607.21 83.28 L608 83.1 L608.88 82.93 L609.81 82.76 L610.72 82.62 L611.5 82.5 L612.15 82.42 L612.72 82.36 L613.18 82.33 L613.5 82.3" fill="none" stroke="#f22a2a" stroke-width="0.9" stroke-linejoin="round" stroke-linecap="round"/>
<clipPath id="cB1"><rect x="483.3" y="24.8" width="168.2" height="120.8"/></clipPath>
<path d="M483.5 145.4 L485.65 145.39 L488.75 145.38 L492.1 145.35 L495 145.3 L497.29 145.22 L499.34 145.12 L501.22 145.01 L503 144.9 L504.64 144.78 L506.12 144.65 L507.55 144.54 L509 144.5 L510.48 144.54 L511.94 144.64 L513.43 144.77 L515 144.9 L516.66 145.03 L518.38 145.17 L520.16 145.3 L522 145.4 L524.01 145.47 L526.14 145.51 L528.21 145.53 L530 145.5 L531.45 145.48 L532.67 145.44 L533.74 145.31 L534.7 145 L535.55 144.44 L536.27 143.69 L536.9 142.84 L537.5 142 L538.07 141.18 L538.58 140.33 L539.05 139.44 L539.5 138.5 L539.91 137.57 L540.28 136.64 L540.64 135.58 L541 134.3 L541.38 132.76 L541.76 131.01 L542.14 129.09 L542.5 127 L542.84 124.78 L543.17 122.42 L543.49 119.84 L543.8 117 L544.11 113.79 L544.41 110.27 L544.71 106.62 L545 103 L545.28 99.48 L545.55 95.96 L545.82 92.36 L546.1 88.6 L546.39 84.57 L546.69 80.34 L547 76.09 L547.3 72 L547.6 68.06 L547.89 64.19 L548.19 60.48 L548.5 57 L548.83 53.78 L549.17 50.76 L549.53 47.94 L549.9 45.3 L550.28 42.78 L550.66 40.42 L551.07 38.29 L551.5 36.5 L551.97 35.03 L552.48 33.86 L552.99 33 L553.5 32.5 L554 32.38 L554.5 32.61 L555 33.16 L555.5 34 L556 35.11 L556.5 36.51 L557 38.23 L557.5 40.3 L558 42.78 L558.51 45.64 L559.01 48.75 L559.5 52 L559.97 55.38 L560.43 58.95 L560.9 62.67 L561.4 66.5 L561.94 70.48 L562.5 74.62 L563.09 78.83 L563.7 83 L564.35 87.25 L565.03 91.59 L565.72 95.76 L566.4 99.5 L567.06 102.73 L567.71 105.59 L568.36 108.16 L569 110.5 L569.61 112.57 L570.19 114.34 L570.81 115.95 L571.5 117.5 L572.29 119.02 L573.14 120.45 L574.05 121.78 L575 123 L576.01 124.11 L577.08 125.11 L578.16 126 L579.2 126.8 L580.18 127.44 L581.12 127.95 L582.06 128.43 L583 129 L583.96 129.68 L584.94 130.41 L585.89 131.19 L586.8 132 L587.64 132.85 L588.44 133.75 L589.22 134.67 L590 135.6 L590.79 136.57 L591.57 137.57 L592.34 138.54 L593.1 139.4 L593.83 140.14 L594.54 140.79 L595.25 141.35 L596 141.8 L596.81 142.16 L597.66 142.44 L598.51 142.59 L599.3 142.6 L600.02 142.47 L600.71 142.21 L601.36 141.8 L602 141.2 L602.63 140.45 L603.24 139.54 L603.83 138.42 L604.4 137 L604.95 135.22 L605.47 133.14 L605.99 130.87 L606.5 128.5 L607.01 126.05 L607.51 123.47 L608 120.78 L608.5 118 L609 115.11 L609.49 112.09 L609.99 109.04 L610.5 106 L611.04 102.92 L611.59 99.78 L612.15 96.75 L612.7 94 L613.22 91.62 L613.73 89.5 L614.25 87.51 L614.8 85.5 L615.4 83.37 L616.04 81.21 L616.69 79.2 L617.3 77.5 L617.88 76.16 L618.45 75.1 L618.99 74.26 L619.5 73.6 L619.96 73.14 L620.38 72.88 L620.78 72.79 L621.2 72.8 L621.64 72.87 L622.08 73.04 L622.53 73.39 L623 74 L623.49 74.96 L624 76.21 L624.51 77.6 L625 79 L625.45 80.37 L625.89 81.79 L626.33 83.27 L626.8 84.8 L627.29 86.36 L627.79 87.96 L628.34 89.66 L629 91.5 L629.81 93.6 L630.73 95.9 L631.68 98.2 L632.6 100.3 L633.45 102.1 L634.28 103.73 L635.11 105.32 L636 107 L636.97 108.82 L637.99 110.7 L639.02 112.61 L640 114.5 L640.92 116.38 L641.81 118.27 L642.67 120.15 L643.5 122 L644.3 123.89 L645.06 125.81 L645.8 127.62 L646.5 129.2 L647.16 130.49 L647.79 131.57 L648.4 132.49 L649 133.3 L649.64 134.01 L650.31 134.61 L650.89 135.07 L651.3 135.4" fill="none" stroke="#1f77b4" stroke-width="2.15" stroke-linejoin="round" stroke-linecap="round" clip-path="url(#cB1)"/>
<path d="M634.8 216.7h0.9M596.3 262.6h0.9M597.1 213.5h0.9M492.6 229h0.9M647.4 243.3h0.9M582.6 320.7h0.9M601.7 232.8h0.9M554.9 220.8h0.9M531.6 243.3h0.9M487.2 304.6h0.9M633.8 267.7h0.9M590.1 276.6h0.9M594.4 321.9h0.9M580.5 225.1h0.9M599.7 287.4h0.9M626.6 286.2h0.9M538 213.6h0.9M558.8 280.3h0.9M606.6 285.2h0.9M583.9 277.6h0.9M523 253.6h0.9M553.8 213.7h0.9M643 218.5h0.9M646 299h0.9M521.1 250.2h0.9M525.4 279.2h0.9M489.2 257.2h0.9M609.8 260.7h0.9M588.8 257.6h0.9M588.8 307.1h0.9M596.8 310.9h0.9M624.5 266h0.9M553.5 288.4h0.9M597.9 245h0.9M588.2 253.3h0.9M647.6 235.4h0.9M554.1 305.6h0.9M563.1 238.7h0.9M521.8 291.4h0.9M595.3 245.1h0.9M535.9 268.1h0.9M629.1 283.9h0.9M493.6 280.2h0.9M641.3 256.3h0.9M629.5 311.2h0.9M521.2 249.1h0.9M521 264.8h0.9M597.9 296.5h0.9M494.8 314.4h0.9M495.5 313.4h0.9M563.5 216.8h0.9M486.1 224.1h0.9M486.3 316.3h0.9M582 236.2h0.9M498.2 272.1h0.9M549.1 227.7h0.9M532.4 294.9h0.9M489.9 300.8h0.9M636.7 308.2h0.9M504.2 299.9h0.9M600.3 215.6h0.9M508.2 253h0.9M556.7 284.8h0.9M587.9 277.4h0.9M523.8 320.1h0.9M633.5 239.2h0.9M634.7 299.9h0.9M538.1 304.4h0.9M592.7 276.2h0.9M541.9 211.8h0.9M636.4 311.5h0.9M575.7 280.9h0.9M615.9 209.5h0.9M520.8 217.4h0.9M646.4 262.2h0.9M548.1 298.4h0.9M565.7 270.2h0.9M644.3 278.9h0.9M549.7 255.4h0.9M588.8 255.7h0.9M570.3 283.7h0.9M552.3 290.9h0.9M649.2 316.3h0.9M499.1 293.9h0.9M550.1 270.6h0.9M494.3 318.7h0.9M625.2 314.2h0.9M504 250.1h0.9M563.5 262.1h0.9M624.2 279.4h0.9M630.4 212.1h0.9M524.9 225.9h0.9M632.9 306.2h0.9M595.7 231h0.9M607 279.2h0.9M606.8 258.8h0.9M597.2 318.8h0.9M647.7 312.3h0.9M491.8 291.2h0.9M511.7 239.7h0.9M573.1 304.6h0.9M631.8 252.2h0.9M633.6 263.5h0.9M484.1 300.9h0.9M563.3 239h0.9M507.4 270.3h0.9M597.4 321h0.9M628 288.3h0.9M584.6 226.2h0.9M605.2 237.7h0.9M564.5 313.9h0.9M595.6 239h0.9M603 250h0.9M618.9 249.9h0.9M595.7 254.1h0.9M495.7 210.3h0.9M523 312.8h0.9M567.5 299.2h0.9M563.3 297.3h0.9M631.9 320.3h0.9M595.1 254.6h0.9M555.5 238.8h0.9M640.8 304.5h0.9M611.2 238.3h0.9M490.2 271.6h0.9M518.9 285.3h0.9M495 252.8h0.9M601.4 257.1h0.9M587.4 244.4h0.9M557.8 311.6h0.9M632.2 297.8h0.9M546.1 292.2h0.9M577.4 228.9h0.9M643.5 239.8h0.9M571.3 316.2h0.9M596.8 315.6h0.9M639 259.8h0.9M559.6 278.9h0.9M618.7 238.7h0.9M580.3 213.7h0.9M514.4 217.1h0.9M527.9 232.4h0.9M623 247.1h0.9M501.4 224.9h0.9M635.4 251.1h0.9M619.2 242.6h0.9M532.6 300.8h0.9M523.3 313.3h0.9M585.8 220.1h0.9M595.1 275.8h0.9M547.7 285.1h0.9M500.7 276.1h0.9M647.5 210.9h0.9M602.6 265.9h0.9M632.2 236h0.9M488.2 210.5h0.9M555.3 228h0.9M577.7 254h0.9M536.9 298.8h0.9M499.2 209.2h0.9M523.8 232.9h0.9M538.3 243.7h0.9M494.4 242.6h0.9M602.6 210.1h0.9M521.9 242.8h0.9M606.4 244.4h0.9M556.5 239.2h0.9M541.5 313.4h0.9M643.7 291.4h0.9M546.9 232.8h0.9M537 235.4h0.9M537.9 210.7h0.9M589.9 266h0.9M610 217.8h0.9M539.3 261.7h0.9M512.8 285.5h0.9M648.5 243.7h0.9M533.5 209.3h0.9M500.4 296.2h0.9M607.3 297.4h0.9M562.2 316.1h0.9M631 231.7h0.9M541.5 256h0.9M553.6 269.6h0.9M576 209h0.9M596.4 242.9h0.9M571.1 223.5h0.9M635.1 218.1h0.9M535.3 216.4h0.9M557.1 308.2h0.9M487.2 290.8h0.9M500.2 254.8h0.9M494.2 269.3h0.9M595.3 301h0.9M504.4 252.5h0.9M533.1 256.2h0.9M556.4 230.6h0.9M605 318.7h0.9M534.9 256.4h0.9M630.5 293h0.9M594.9 292h0.9M506 287.2h0.9M524.6 286.9h0.9M559.2 315.3h0.9M611.5 215.9h0.9M494.2 318.4h0.9M511.9 272.8h0.9M500.3 241.7h0.9M591.9 215.8h0.9M541.4 233.7h0.9M562.2 275.3h0.9M514.5 225.1h0.9M502.3 221.7h0.9M607.5 266h0.9M568 219.2h0.9M489.2 295.4h0.9M629.4 278.5h0.9M530.5 248.3h0.9M495.7 230.6h0.9M646.1 308.4h0.9M562.5 279.5h0.9M647.2 312.3h0.9M586.6 276.6h0.9M605.3 242.9h0.9M560.3 310.1h0.9M583.8 303.5h0.9M519.8 304.8h0.9M538.9 221.8h0.9M628.1 287.6h0.9M502 244.5h0.9M615.8 250.8h0.9M587.2 266h0.9M582.6 243.4h0.9M551.4 238.8h0.9M626.3 230.1h0.9M640.4 245h0.9M531.8 287.9h0.9M585.9 235.9h0.9M649.1 301.5h0.9M637.1 305.1h0.9M600 317.3h0.9M650.1 313.2h0.9M639.2 286.9h0.9M570.7 300.4h0.9M571.1 291.2h0.9M501.6 250.4h0.9M513.8 287.8h0.9M622.2 228.6h0.9M625.7 291.7h0.9M584 303h0.9M502.8 311.3h0.9M513.8 281.7h0.9M571 222.5h0.9M641.3 238.7h0.9M521.6 258.3h0.9M485.6 255h0.9M630.1 217.9h0.9M541.5 230.6h0.9M567.3 260.6h0.9M641.7 250.7h0.9M585.4 306.9h0.9M585.1 254.4h0.9M616.1 274.3h0.9M572.8 290.4h0.9M635.9 238.6h0.9M545.8 311.2h0.9M597.3 274.2h0.9M599.5 227.9h0.9M602.5 300.2h0.9M561.2 248.5h0.9M650.1 285h0.9M593.6 247.1h0.9M628.3 310.2h0.9M497 226.5h0.9M609.2 262h0.9M496.7 258.9h0.9M485.3 299.9h0.9M582.6 310.8h0.9M606.4 278.5h0.9M554.6 212h0.9M615.5 219.4h0.9M593.4 270.7h0.9M543.6 241.5h0.9M613.9 219.9h0.9M493.7 220h0.9M601.4 258.9h0.9M545.8 251.1h0.9M634.9 218.4h0.9M628.6 274.4h0.9M604.6 213.1h0.9M603.3 273h0.9M566.8 232.7h0.9M595.6 278h0.9M543.3 281.1h0.9M524.5 310h0.9M604.4 279h0.9M511.2 243.2h0.9M614.6 297.6h0.9M517.6 242.4h0.9M572 223.8h0.9M609.5 260.3h0.9M635.6 309.8h0.9M564 273.8h0.9M544.2 293h0.9M531.3 221.6h0.9M633.9 247.4h0.9M572.8 213.9h0.9M634.7 242.3h0.9M573.5 289.7h0.9M646.1 235.7h0.9M530.1 288.6h0.9M540.6 223.7h0.9M581.3 290.5h0.9M591.2 221.8h0.9M612.4 252.5h0.9M506.9 276.8h0.9M519.2 239.6h0.9M534.5 288.9h0.9M523.7 322.3h0.9M605.8 276h0.9M496.4 213.3h0.9M563.9 295.8h0.9M498.6 273.9h0.9M494.7 261.1h0.9M567 262.1h0.9M493.3 272.1h0.9M552.4 309.4h0.9M527.8 300.3h0.9M511.9 219.2h0.9M576 252.1h0.9M622.5 219.5h0.9M513.5 321.2h0.9M502.3 264.3h0.9M573.1 312.8h0.9M646.7 209.9h0.9M588.1 310.3h0.9M648.8 216.8h0.9M509.9 219.3h0.9M582.9 317.3h0.9M567.7 313.7h0.9M619 264.5h0.9M555.1 274.2h0.9M599.3 288h0.9M579.8 247.7h0.9M580.1 272.4h0.9M624.7 307h0.9M586.5 223.9h0.9M508.6 306.5h0.9M574.1 286.9h0.9M552.2 240.3h0.9M573.2 268.3h0.9M503 284.7h0.9M568.2 306.3h0.9M632.6 253.4h0.9M606.7 292.6h0.9M579.8 318.5h0.9M510.6 270.9h0.9M579.8 210.4h0.9M541.7 286.4h0.9M613.2 217.8h0.9M488.6 213.8h0.9M512.2 282.7h0.9M582.8 250.3h0.9M634 210.9h0.9M557.1 217h0.9M509.8 292h0.9M622.9 259.7h0.9M627.9 224.7h0.9M557.2 245.9h0.9M622.3 321.4h0.9M562.4 287.9h0.9M580.5 321.2h0.9M620.9 269.3h0.9M577.8 318.7h0.9M555.1 251.3h0.9M573.1 232h0.9M590.2 231.3h0.9M627.9 227.2h0.9M633.6 318h0.9M541.9 263.6h0.9M568.6 217.7h0.9M526.5 278.4h0.9M527.6 231.9h0.9M613 261.7h0.9M538.9 303.5h0.9M624.4 225.5h0.9M539.1 222.4h0.9M555.9 322.4h0.9M499.6 321h0.9M538.8 220.9h0.9M494.3 261.1h0.9M539.6 298.3h0.9M594.2 244.4h0.9M531.9 228.2h0.9M628.8 225.2h0.9M635.6 272.4h0.9M554.5 285.1h0.9M650.3 287.4h0.9M609.6 286.1h0.9M648.3 307.9h0.9M570.2 310.2h0.9M484.3 219.9h0.9M509.3 233.8h0.9M617.2 234.4h0.9M634.5 270.5h0.9M504.6 298.2h0.9M575.8 280.6h0.9M567.7 265h0.9M626.1 217.3h0.9M586.2 229.2h0.9M495.9 312.9h0.9M622.7 287.2h0.9M590.7 262.1h0.9M555.4 234.1h0.9M628.9 220.1h0.9M597.4 218h0.9M531.9 303.4h0.9M636.7 279.2h0.9M643.1 320.3h0.9M541.1 274.4h0.9M602 231.9h0.9M647.8 253.3h0.9M569.6 259.9h0.9M551.7 256h0.9M496.4 258.5h0.9M553.1 252.6h0.9M485.4 316.8h0.9M495.2 309.8h0.9M618.4 234.9h0.9M591.6 269.8h0.9M643.6 309.7h0.9M526 305.2h0.9M554.8 254h0.9M509.6 265.6h0.9M514.4 277h0.9M543.8 282.3h0.9M586.3 215.1h0.9M649.7 223.4h0.9M631.4 300.8h0.9M562.1 234.3h0.9M562.3 302.2h0.9M627.6 278.2h0.9M508.6 288.9h0.9M508.1 209.8h0.9M610.7 243h0.9M521.3 246.7h0.9M487.3 225.6h0.9M617.6 226.2h0.9M592.3 225.1h0.9M587.1 322h0.9M587.9 321.9h0.9M629.3 210.5h0.9M560.6 302.3h0.9M543.7 322h0.9M639.4 310.6h0.9M591.3 217.3h0.9M613.5 213.7h0.9M575.9 241h0.9M514.3 236.5h0.9M636.5 310.6h0.9M562.9 318.5h0.9M512 224.2h0.9M527.9 233.5h0.9M490 239.1h0.9M512.2 289.5h0.9M493.6 246.3h0.9M514.4 258.6h0.9M613.2 258.7h0.9M602.1 305.6h0.9M549.1 266.9h0.9M537.8 308h0.9M524.8 277.1h0.9M515.8 222.2h0.9M496.2 253h0.9M489 210.5h0.9M609.3 315.8h0.9M501.2 239.8h0.9M637.8 255.5h0.9M533.2 281h0.9M529.6 250.4h0.9M568.8 283.6h0.9M648.3 252.8h0.9M624.4 240.5h0.9M602.7 282.4h0.9M592.1 212.5h0.9M558 286.1h0.9M621.6 292.6h0.9M588.3 274h0.9M518 219.4h0.9M508.1 244.1h0.9M634.7 285.7h0.9M594.4 300.1h0.9M507.3 231h0.9M488.7 222.1h0.9M588 215.4h0.9M505.1 258.3h0.9M607.5 252.4h0.9M513.4 215.2h0.9M574.4 307.3h0.9M522.3 265.6h0.9M587.8 230.6h0.9M500.4 285.7h0.9M517.7 235.2h0.9M603.6 297.5h0.9M581.2 238h0.9M559.6 305.5h0.9M625.6 264h0.9M537.4 279.4h0.9M555.3 292.1h0.9M566.5 298.8h0.9M643 294.1h0.9M646.3 308h0.9M531.4 277.7h0.9M591.2 271h0.9M578.4 246.2h0.9M578.7 315.2h0.9M501.7 312.5h0.9M616.4 266.9h0.9M640.8 254.6h0.9M523 309.6h0.9M572.1 272.3h0.9M567.2 298.3h0.9M534.1 281.2h0.9M530.3 266.5h0.9M555.5 242.2h0.9M576.3 224.1h0.9M512.6 276.6h0.9M515.9 321.8h0.9M623.7 269.3h0.9M644.9 238.5h0.9M512.2 230.5h0.9M523.8 287.8h0.9M609.2 221.2h0.9M506.6 319.5h0.9M595.8 241.7h0.9M494.9 247.8h0.9M628 287.1h0.9M569.4 297.3h0.9M532.3 262.8h0.9M602.1 274.5h0.9M485.4 221.2h0.9M590.7 289.4h0.9M511.8 263.2h0.9M600.4 300.5h0.9M538.1 226.2h0.9M530.6 212.6h0.9M614.7 285h0.9M624.8 311.6h0.9M564.8 268.9h0.9M582.6 226.1h0.9M629.9 316.4h0.9M527.7 278.7h0.9M555.8 247.2h0.9M491.3 218.4h0.9M541 307h0.9M608.5 253h0.9M532.3 253h0.9M492.7 304.7h0.9M541.4 316.2h0.9M488.5 282.9h0.9M647.3 294.7h0.9M565.7 288.3h0.9M492.7 287.2h0.9M640.8 283.7h0.9M610.3 318.9h0.9M554.9 321.8h0.9M515.4 288.5h0.9M615.2 295.7h0.9M530.4 298.4h0.9M547.1 243.7h0.9M648.7 301h0.9M592.1 254.4h0.9M579 315.3h0.9M625.9 280.5h0.9M509.2 241h0.9M618.4 311h0.9M588.8 311.5h0.9M592 298.1h0.9M593.7 272.2h0.9M542.2 265.6h0.9M598.3 272.6h0.9M517 308.5h0.9M547.6 246.3h0.9M581.5 312.1h0.9M613.4 245.7h0.9M613.4 259.9h0.9M560 321.2h0.9M588.7 261.6h0.9M616.7 214.2h0.9M492.8 290.3h0.9M607 235.6h0.9M566.7 304.8h0.9M514.1 319.9h0.9M579.3 262.7h0.9M511.8 308.9h0.9M592.3 216.6h0.9M611.6 294.8h0.9M506.5 286.8h0.9M599.7 310.6h0.9M631.9 295.6h0.9M624.5 209.3h0.9M636.3 307.6h0.9M574.4 221.5h0.9M619.5 277.9h0.9M529.3 224.3h0.9M550.2 256.1h0.9M636.6 315.3h0.9M597.6 259.5h0.9M529 302.4h0.9M612.5 270.8h0.9M516.4 289.7h0.9M561.8 244.9h0.9M541.3 267.3h0.9M525.3 312.8h0.9M517.7 293h0.9M617.3 230.7h0.9M644.9 308.2h0.9M577.7 311.1h0.9M625.2 294.4h0.9M590.6 294.5h0.9M544.9 234h0.9M544.1 298.9h0.9M604.1 244.9h0.9M599.4 283.9h0.9M519.5 299.2h0.9M577.5 215.1h0.9M637 304.6h0.9M645.3 301.7h0.9M614.1 258.8h0.9M604.4 295h0.9M631.6 302.6h0.9M565.6 307.5h0.9M574.7 273.6h0.9M597.8 266h0.9M492.6 242.7h0.9M619.2 209.8h0.9M624.3 256.6h0.9M638.9 301.5h0.9M573.9 228.2h0.9M602.3 231.7h0.9M492.3 287h0.9M512.4 308.9h0.9M529 218.3h0.9M608.4 306h0.9M587.9 315.3h0.9M557.5 235.7h0.9M565.4 211.4h0.9M596.5 252.4h0.9M544.8 227.4h0.9M516.7 257.1h0.9M552 306.9h0.9M502.9 224.6h0.9M601.5 222.9h0.9M639.8 318.1h0.9M496.1 321.1h0.9M545.2 246.5h0.9M642 316.6h0.9M566.7 254.1h0.9M624.3 214.3h0.9M612.1 303.1h0.9M490.6 248.7h0.9M575.5 295.4h0.9M486.5 278.7h0.9M522.6 255.7h0.9M576.7 225.4h0.9M489.7 279.6h0.9M593.3 247.5h0.9M504.5 310.1h0.9M631.6 216.9h0.9M626.6 243.2h0.9M495.1 263h0.9M592.4 262.9h0.9M543.7 307.4h0.9M535.2 225h0.9M567.1 256.4h0.9M624.3 278h0.9M520.5 321.1h0.9M523.2 229.6h0.9M611.1 256.5h0.9M572.7 268.8h0.9M641.7 319.8h0.9M603.4 297h0.9M642.1 262.9h0.9M576.6 320.8h0.9M552.7 253h0.9M571.1 245.7h0.9M545.7 247.7h0.9M528.2 235.2h0.9M575.6 212.3h0.9M551.5 289h0.9M636.6 307.8h0.9M646.6 235.1h0.9M558.3 234.3h0.9M571.4 245.9h0.9M597.9 289.7h0.9M626.7 215.3h0.9M497.8 287.4h0.9M501.3 232.3h0.9M580.4 278.1h0.9M516.9 216.3h0.9M596.2 313.4h0.9M595.4 286.2h0.9M582 228.7h0.9M509 239.7h0.9M507.3 307.3h0.9M578 273.2h0.9M616.9 300.9h0.9M579.2 282.2h0.9M515.1 287.7h0.9M490.1 294.5h0.9M530.2 287.8h0.9M540.6 225h0.9M549.7 219.7h0.9M633.7 209.4h0.9M507.9 254.3h0.9M581.6 235.6h0.9M523.1 214h0.9M560.1 231h0.9M575 270.5h0.9M526.7 244.6h0.9M639 230.4h0.9M603.5 291.2h0.9M634.1 270.8h0.9M612.2 273.9h0.9M586.9 251.2h0.9M584.8 278h0.9M606.3 273.2h0.9M562.6 288.3h0.9M623 273.6h0.9M558.8 318.3h0.9M600.4 235.2h0.9M579.5 274.2h0.9M559.1 316.1h0.9M515.3 223.1h0.9M645.9 283.8h0.9M626 307.3h0.9M650.1 279.9h0.9M562 278.7h0.9M568.7 306.3h0.9M562 274.4h0.9M489.3 257.8h0.9M566 211.8h0.9M535.5 218.2h0.9M575.1 292.2h0.9M536.9 270.8h0.9M560.4 283.5h0.9M601.4 315.1h0.9M600.6 209.7h0.9M607 234.8h0.9M577.3 268.2h0.9M542 298.4h0.9M509.4 280h0.9M639.5 276.8h0.9M612.2 268.2h0.9M583.7 319.6h0.9M493.4 264.8h0.9M535.9 295.7h0.9M593.6 309.8h0.9M556 227.6h0.9M530.3 250.3h0.9M531.3 227h0.9M602.3 242.5h0.9M553.5 296.1h0.9M625.7 288.4h0.9M634.3 231h0.9M537.2 312.8h0.9M650.3 282.7h0.9M639 218.4h0.9M587.3 279.7h0.9M596.5 252h0.9M509.8 266.1h0.9M524.1 221.1h0.9M644.2 247.7h0.9M580.5 312.5h0.9M522.5 257.3h0.9M554.4 303.7h0.9M561 284.4h0.9M548.9 251.4h0.9M532.7 309.3h0.9M547.8 225.7h0.9M597.7 218h0.9M511 311.1h0.9M600.7 275.4h0.9M547.9 251.1h0.9M583.5 307.8h0.9M544.3 250.1h0.9M485.9 308.2h0.9M581.5 222.1h0.9M642.2 281.9h0.9M489.4 284.9h0.9M619 244h0.9M524.5 268.6h0.9M591.1 291.1h0.9M495.8 214.1h0.9M532.5 235.6h0.9M487 265.7h0.9M490.8 253.6h0.9M525.4 272.7h0.9M609.4 247.6h0.9M584.3 257.7h0.9M589.8 228.6h0.9M626 300.5h0.9M621.4 302.7h0.9M622 307.5h0.9M495 256.9h0.9M529.1 261.2h0.9M625.8 251.5h0.9M484.5 211.2h0.9M546.4 297.7h0.9M507.8 233.7h0.9M643.9 219.6h0.9M538.3 300.6h0.9M525.3 294.4h0.9M614.6 235.7h0.9M489.8 276.8h0.9M642.6 301.6h0.9M496.7 235.5h0.9M563.2 243.6h0.9M622.9 317.6h0.9M570 313h0.9M532.6 276.7h0.9M599.8 267h0.9M526.7 313.9h0.9M634.6 281.2h0.9M493 238.3h0.9M510.5 272.4h0.9M646.4 229.4h0.9M623.1 237.8h0.9M627.9 310.4h0.9M509.4 287.4h0.9M623.6 263.2h0.9M572.3 253.1h0.9M524.1 236.4h0.9M565.3 243.5h0.9M525 288.5h0.9M583.1 223.3h0.9M591.1 229.2h0.9M640.7 236h0.9M624.9 286.5h0.9M485.4 281.6h0.9M559.8 286h0.9M621.6 227.6h0.9M531.9 277.6h0.9M633.7 320h0.9M576.9 322.3h0.9M640.7 212.6h0.9M580.2 290.3h0.9M577.4 261.2h0.9M634.2 230.2h0.9M528.7 297.1h0.9M611.1 269.7h0.9M615 227.2h0.9M512 225.4h0.9M580.5 288.7h0.9M601.7 317.4h0.9M560.2 239.9h0.9M528.2 220.6h0.9M500.2 274.5h0.9M571.9 243.7h0.9M618.5 303.6h0.9M520 217h0.9M530.6 285.9h0.9M630.5 301h0.9M537.2 293.1h0.9M550.3 233.2h0.9M484.1 237h0.9M498.6 227.5h0.9M534.5 295.8h0.9M604.4 314.8h0.9M619.3 223.2h0.9M581 230.7h0.9M539 248.6h0.9M564.7 239.8h0.9M597 256.5h0.9M629.1 210.2h0.9M537.4 255.1h0.9M602 260.8h0.9M539.3 288h0.9M599.1 301.6h0.9M623.1 297.2h0.9M604.5 254.6h0.9M535.1 304h0.9M588.1 284.5h0.9M545.5 304.3h0.9M647.3 211.5h0.9M613.2 230h0.9M640.1 291.2h0.9M636.7 309.7h0.9M555.9 216.7h0.9M597.3 298.3h0.9M571.9 317.9h0.9M550.4 239.3h0.9M551.2 296.3h0.9M589.6 218.2h0.9M492.6 316.9h0.9M547.1 266.2h0.9M622.8 321.4h0.9M579.6 245.9h0.9M594.4 303.7h0.9M486.2 286.5h0.9M564.9 219h0.9M620.6 294.5h0.9M630.5 271.2h0.9M547.2 264.9h0.9M527.7 235h0.9M507.7 217.8h0.9M600.5 239h0.9M633.5 263.5h0.9M623.4 274h0.9M560.4 299.1h0.9M607.9 291.8h0.9M607.2 254.9h0.9M605.1 322.1h0.9M632.7 250.3h0.9M627.6 262.8h0.9M548.6 250.7h0.9M572.2 307.6h0.9M535.3 258.9h0.9M608.6 237.9h0.9M629.3 232.6h0.9M571 262.4h0.9M530.8 219h0.9M637.1 315.3h0.9M612.9 283.6h0.9M522.6 237h0.9M576.5 299.9h0.9M650.6 227.5h0.9M636.3 273.2h0.9M550.2 315.1h0.9M492.2 224.3h0.9M571.1 219.9h0.9M618.7 307.4h0.9M587.2 258.4h0.9M562.3 269.5h0.9M509.4 282.7h0.9M584.4 260.9h0.9M632.5 304h0.9M588.1 291.3h0.9M497.8 284.3h0.9M570.5 288.7h0.9M594.5 212h0.9M509.7 219.5h0.9M494.3 244.3h0.9M491.8 266.3h0.9M529.6 231.6h0.9M631.4 310.5h0.9M486.5 224.6h0.9M598.7 302.4h0.9M522.3 276.1h0.9M646.4 231.5h0.9M616.8 241.1h0.9M610.2 253.9h0.9M625 217h0.9M596.6 211.3h0.9M631.2 249.3h0.9M490 233.9h0.9M513 301.6h0.9M536.5 303.6h0.9M501.1 257.3h0.9M629.6 290.1h0.9M524 286.9h0.9M618.2 271.1h0.9M534.2 282.7h0.9M496.6 235.7h0.9M650.3 242.2h0.9M592.4 237.5h0.9M506.8 293.9h0.9M540 238.8h0.9M587.2 230.2h0.9M584.5 227.9h0.9M547.1 271.5h0.9M614 315.1h0.9M523.6 307.5h0.9M534.3 321.4h0.9M649.2 307.4h0.9M490.4 241.2h0.9M577.7 271.4h0.9M551.1 247.2h0.9M516.3 225.5h0.9M617.7 222.9h0.9M629.8 232.8h0.9M596.5 283.4h0.9M582.4 273.8h0.9M517.8 290.2h0.9M593 305.2h0.9M507 230h0.9M631.8 299.7h0.9M488.9 289.2h0.9M513.5 216.9h0.9M576.7 306.2h0.9M617 214h0.9M510.4 270.4h0.9M646.5 238h0.9M532.8 297.5h0.9M611.1 211.6h0.9M533.8 297.5h0.9M643.1 278.9h0.9M505.7 256.7h0.9M484.8 271.1h0.9M621.8 226.3h0.9M549.3 311h0.9M567.9 312.3h0.9M586.1 305.6h0.9M645.4 226.8h0.9M624.8 313.7h0.9M546.9 225.8h0.9M561.5 285.5h0.9M567.9 306h0.9M590.8 252.3h0.9M641.7 288.7h0.9M566.7 255.5h0.9M492.2 253.7h0.9M549.6 288.7h0.9M516.9 224.7h0.9M581.2 245.8h0.9M487.7 230.1h0.9M487 281.5h0.9M566.1 294.8h0.9M616.7 299.6h0.9M546 243.6h0.9M571.5 271.3h0.9M558.9 216.4h0.9M585.9 300.5h0.9M642.1 271.7h0.9M543.9 245.7h0.9M612.2 313.5h0.9M642.1 308.3h0.9M583.7 307.3h0.9M533.8 216.1h0.9M646.8 284.9h0.9M630.7 253.4h0.9M520.2 290.2h0.9M590.1 231.9h0.9M558.8 257.2h0.9M563 292.6h0.9M516.5 286h0.9M525.9 282.8h0.9M592.2 322h0.9M544.8 257.1h0.9M583.8 304.3h0.9M568.9 273.7h0.9M485 318.7h0.9M650.1 252.8h0.9M570.9 262.2h0.9M589.6 310.9h0.9M587.2 269.3h0.9M549.1 284.4h0.9M493.7 281.7h0.9M584.3 259.2h0.9M514 240.6h0.9M567.6 220h0.9M621.8 279h0.9M485.3 303.3h0.9M578.2 218.9h0.9M623.4 278.2h0.9M636.3 270.3h0.9M564.3 291.5h0.9M513.6 245.1h0.9M525.3 306.6h0.9M589.1 248.6h0.9M536.2 215.9h0.9M639.8 224.3h0.9M544.2 243.9h0.9M545 247.5h0.9M499.2 278.7h0.9M645.6 268.6h0.9M506.5 253.8h0.9M492.7 225.6h0.9M502 211h0.9M637.9 303.1h0.9M499.8 259h0.9M540.8 209.5h0.9M527.6 291.9h0.9M626.7 262.2h0.9M528.2 295.6h0.9M487 267.8h0.9M600.6 289.6h0.9M557.1 292.9h0.9M611.2 273.1h0.9M541.6 261.3h0.9M491.4 227.5h0.9M502.2 234.2h0.9M624.2 292h0.9M633.6 209.5h0.9M566.1 242.4h0.9M618 272.9h0.9M607.1 235.9h0.9M526.5 319.7h0.9M523.9 255.4h0.9M606.4 292.9h0.9M621.3 226h0.9M631.3 321.3h0.9M555.3 273h0.9M497.5 235.8h0.9M624.2 224.2h0.9M513.1 271.8h0.9M596.6 265.3h0.9M487.6 249h0.9M574.9 224.1h0.9M521.1 295.5h0.9M591.1 296h0.9M624.2 313.1h0.9M633.3 216h0.9M492.9 319.3h0.9M634 321.4h0.9M505.7 283.5h0.9M551.9 292.5h0.9M486.7 297.6h0.9M624.1 287.9h0.9M638 232.5h0.9M555.6 237.7h0.9M533.4 257.9h0.9M484.2 303h0.9M557.7 294.8h0.9M578.4 281.1h0.9M645.2 216.9h0.9M611.8 221.9h0.9M498.9 315.7h0.9M627.3 319.8h0.9M626.1 235.9h0.9M527.4 220.1h0.9M552.1 291.6h0.9M544.5 209.6h0.9M539.7 265.9h0.9M599.2 286.9h0.9M585.8 291.6h0.9M502.8 215.1h0.9M600.6 286.2h0.9M644.7 212.4h0.9M523.7 228.7h0.9M508.9 223.1h0.9M532.6 320.1h0.9M512.6 278.2h0.9M603.8 277.5h0.9M485.1 274.9h0.9M625.6 251.3h0.9M544.7 225.9h0.9M646.2 274.7h0.9M645.8 274.1h0.9M520.3 227.7h0.9M618.2 321.9h0.9M539.7 270.1h0.9M518.4 250h0.9M649.1 303.8h0.9M573.2 253.3h0.9M557.2 316h0.9M493.3 260.9h0.9M633.3 262.3h0.9M604.8 302.2h0.9M544.3 272.3h0.9M527.7 255.7h0.9M584.4 292.7h0.9M592 271.1h0.9M593.2 266h0.9M630.9 219.5h0.9M630.6 258h0.9M534.9 270.5h0.9M494.4 321.4h0.9M644.8 296.8h0.9M521.4 318.9h0.9M649.1 232.9h0.9M503.6 279.7h0.9M502.9 320.4h0.9M530.4 318.2h0.9M611.8 228.3h0.9M609 283.2h0.9M613.5 281.2h0.9M514.1 264h0.9M522.1 238.9h0.9M577.8 322.4h0.9M501.6 240.2h0.9M523.3 310h0.9M527.2 267.9h0.9M648.6 289h0.9M484.4 241.7h0.9M624.6 294.2h0.9M560.9 268.3h0.9M596.7 216.1h0.9M624.9 321.9h0.9M553 306.3h0.9M491 211.5h0.9M619.8 283.5h0.9M564.7 286.3h0.9M638 261.8h0.9M544.2 252.2h0.9M614.4 260.4h0.9M503.1 319.5h0.9M641.2 218.2h0.9M618 299.4h0.9M553 248.2h0.9M560.2 305.4h0.9M624.1 278.1h0.9M570.1 263.8h0.9M616.1 301.9h0.9M633.1 227.7h0.9M542.1 222.6h0.9M502.2 291.5h0.9M541.8 308.3h0.9M603.8 236.2h0.9M601.8 315.2h0.9M492.8 264h0.9M503.9 214.7h0.9M495.9 210.7h0.9M490.5 306.3h0.9M503.5 309.3h0.9M514.6 279.8h0.9M512.7 217.9h0.9M495.8 305h0.9M503.5 254.5h0.9M497.9 312.3h0.9M521.5 224.8h0.9M503.8 213.1h0.9M495.5 322.4h0.9M513 211.6h0.9M501.2 248.2h0.9M516.7 320.3h0.9M503.1 284.6h0.9M491.1 279.7h0.9M490.2 255.8h0.9M484.1 259.9h0.9M519.5 271.6h0.9M497.1 256h0.9M496.4 242.9h0.9M498.4 218h0.9M504.4 310.9h0.9M499.6 237.3h0.9M505 247.3h0.9M503.6 213.5h0.9M516.2 272.9h0.9M510.8 306.9h0.9M517.8 240h0.9M496.7 254.2h0.9M521.1 248.3h0.9M518.9 259.5h0.9M514.7 312.5h0.9M520.9 232.4h0.9M510.1 269.3h0.9M495.8 263.5h0.9M484.6 211h0.9M519.1 252.3h0.9M513.1 280h0.9M500.2 234.5h0.9M492.4 239.2h0.9M486.8 285.3h0.9M505.7 245.5h0.9M516.6 318h0.9M508.8 289.5h0.9M498.6 209.5h0.9M518.4 294.3h0.9M492.3 284.7h0.9M486 271.1h0.9M495.6 316.3h0.9M513.4 245.4h0.9M502.4 286.8h0.9M487.4 296h0.9M514.8 247.6h0.9M499.8 289.3h0.9M484.4 306h0.9M515 262.9h0.9M509.2 306.3h0.9M496.9 271.6h0.9M493.1 298.9h0.9M520.9 209h0.9M489.4 293.5h0.9M517.2 218h0.9M495.5 274.3h0.9M492.1 312.5h0.9M514.9 235.2h0.9M519.5 299h0.9M507 291.4h0.9M518 260.4h0.9M501.5 236.5h0.9M512.9 311.8h0.9M484.2 247.1h0.9M490.7 241.1h0.9M492.3 279.8h0.9M489.7 304.4h0.9M517.5 270.6h0.9M502.9 282.9h0.9M506.6 315.1h0.9M504.3 259.3h0.9M508.5 306h0.9M520.5 302.2h0.9M510.6 252.8h0.9M515.8 234h0.9M494 218.5h0.9M513.9 264.4h0.9M519.2 270.1h0.9M510.3 271.7h0.9M502.1 284.9h0.9M487.5 291.1h0.9M498.1 261.6h0.9M486.6 315.3h0.9M507.4 286.4h0.9M498.9 276.6h0.9M498.7 224.5h0.9M514.1 226.4h0.9M509.7 252.3h0.9M488.9 313.5h0.9M509.2 278.6h0.9M502.1 297.4h0.9M511 268.4h0.9M486 304.8h0.9M498.5 285.8h0.9M513.8 258.9h0.9M488.7 276.4h0.9M518.3 228.2h0.9M500.1 249.7h0.9M512.4 313.9h0.9M518.7 299.9h0.9M490.9 239.4h0.9M498.4 293.7h0.9M519.1 212.6h0.9M508.7 230.2h0.9M516.1 307h0.9M505.9 321.1h0.9M507.4 296.3h0.9M489.9 295.9h0.9M513 232.9h0.9M485.3 317.5h0.9M520.8 300.7h0.9M515.1 244.2h0.9M496.6 265.3h0.9M507.2 284.5h0.9M498.6 259.6h0.9M495.9 308.8h0.9M519.4 290.7h0.9M493.1 294.7h0.9M511.6 256.4h0.9M517.6 219.7h0.9M506.9 320.6h0.9M511.4 254.9h0.9M485.4 223.4h0.9M518.5 311.9h0.9M514.8 265.5h0.9M511.2 236h0.9M504.5 305.5h0.9M487.8 244.3h0.9M486.3 298.4h0.9M509 259.9h0.9M490.9 266.5h0.9M494.5 250.1h0.9M489 316.1h0.9M505.1 316h0.9M491.8 271.4h0.9M484.8 255.9h0.9M485.7 297.9h0.9M500.9 306.1h0.9M502.2 231.8h0.9M517.9 286h0.9M516.3 301.7h0.9M495.8 217.4h0.9M498.6 261.3h0.9M486.1 248.6h0.9M496.9 268.2h0.9M496.6 213.6h0.9M516.2 248.3h0.9M521.8 284.8h0.9M519.1 245.1h0.9M504.7 305.5h0.9M487.1 273.5h0.9M502.1 228.7h0.9M486.3 250h0.9M494 302.4h0.9M501.9 236.8h0.9M490.1 281.9h0.9M500.1 268.3h0.9M521.2 295.5h0.9M514.5 267.8h0.9M517.2 307.9h0.9M504.1 253.1h0.9M500 290.9h0.9M514.5 263.2h0.9M498.1 321.8h0.9M496.4 260.7h0.9M520.9 243.2h0.9M495.8 230.2h0.9M486.1 244h0.9M517 232.1h0.9M504.7 306.5h0.9M500 314.7h0.9M516 268.8h0.9M510.6 217.7h0.9M513.4 247.2h0.9M515 245.7h0.9M491.9 216.9h0.9M520.3 223.1h0.9M493.4 303.2h0.9M510 268.1h0.9M519.1 292.3h0.9M489.1 297.8h0.9M511.7 225.8h0.9M506.9 237.7h0.9M484.7 269.9h0.9M514.3 276.1h0.9M515.5 281.7h0.9M505.6 317.3h0.9M515.3 307.9h0.9M490.8 280.9h0.9M487.6 243.8h0.9M509 215.9h0.9M517.1 235h0.9M514.4 242.8h0.9M498.5 235.4h0.9M516.6 269.9h0.9M502.4 314.1h0.9M500.5 300.1h0.9M500.6 299.2h0.9M495 223h0.9M513.1 290.7h0.9M495 282.4h0.9M514.9 242.2h0.9M517.5 276.4h0.9M499.1 232.3h0.9M487.9 224h0.9M502.9 303.5h0.9M498.2 245.8h0.9M512.1 288.8h0.9M490.8 210.6h0.9M485.4 262.1h0.9M493.3 234.5h0.9M498.8 246.2h0.9M496.5 276.5h0.9M514.6 282.5h0.9M506.2 320.5h0.9M507.1 227.1h0.9M520.6 224.9h0.9M493.1 272h0.9M507.5 223h0.9M500.2 272.2h0.9M502.1 289.3h0.9M488.7 279.7h0.9M508.2 227.6h0.9M487.9 218.1h0.9M517.1 319.3h0.9M506.6 313.1h0.9M502.7 283.4h0.9M516.7 212.3h0.9M501.7 263.3h0.9M498.1 290h0.9M501.9 239.2h0.9M491.5 224.3h0.9M508.9 246.7h0.9M486.3 280.2h0.9M503.3 286.1h0.9M514.7 309.4h0.9M511 250.7h0.9M516.3 231.7h0.9M509.8 318h0.9M513 286.7h0.9M512.8 225.1h0.9M500.5 288.7h0.9M494 231.3h0.9M497.5 302.3h0.9M503.3 281.2h0.9M488.2 263.8h0.9M499.6 224.2h0.9M498.4 256.7h0.9M494.7 321.9h0.9M504.9 215.2h0.9M501.3 228.6h0.9M505.5 294.9h0.9M503.4 278.2h0.9M518.8 274.2h0.9M491.5 292.5h0.9M492.3 278.5h0.9M513.3 246.2h0.9M487.4 295.8h0.9M513.2 268.6h0.9M515.8 310.8h0.9M504.5 287.4h0.9M508.8 266.5h0.9M511.6 214.8h0.9M514.9 252h0.9M513.7 303.1h0.9M486.5 272.1h0.9M520.3 292.6h0.9M486.1 257.3h0.9M486 271.2h0.9M486.1 306.3h0.9M517.8 211.2h0.9M516.3 232.8h0.9M492.2 259.9h0.9M518 218.8h0.9M496.3 280.8h0.9M501.8 319.2h0.9M505.7 250.7h0.9M500.6 230.7h0.9M484.4 254.3h0.9M499.5 213.4h0.9M512.2 241h0.9M484.5 318.4h0.9M485 312.1h0.9M486.9 309.1h0.9M496.3 214.2h0.9M489.2 221h0.9M506.1 259.6h0.9M487 315.2h0.9M510.3 232.2h0.9M489.1 282.1h0.9M499.3 321.9h0.9M505.6 317h0.9M488.4 245.3h0.9M495.3 296h0.9M520.3 300.6h0.9M514.8 259.5h0.9M491.2 315h0.9M512 211.3h0.9M487.1 253.2h0.9M517.2 229.7h0.9M508.6 319.9h0.9M521.7 232.9h0.9M517.1 276.4h0.9M507.8 265.4h0.9M502.8 213.3h0.9M508.8 216.9h0.9M513.9 294.1h0.9M520.1 261.8h0.9M497.6 252.4h0.9M499.8 222.4h0.9M485.3 212.8h0.9M486.2 209.7h0.9M499.8 251h0.9M515 228.6h0.9M493.1 232.6h0.9M494.4 218.3h0.9M500.7 250.2h0.9M495.7 319.8h0.9M501 298.5h0.9M495.1 253.5h0.9M501.1 294.7h0.9M508.1 209.7h0.9M519.5 223.6h0.9M521.4 277.9h0.9M501.9 294h0.9M516.5 300.3h0.9M489.8 231.2h0.9M488 318.3h0.9M517 295h0.9M491.9 218.6h0.9M491.9 302.2h0.9M499.2 287.6h0.9M500.2 225.7h0.9M502.8 313.6h0.9M488.3 247.2h0.9M515.2 218h0.9M493.5 241.9h0.9M507.8 286.7h0.9M514.6 273.2h0.9M511.2 246.9h0.9M502.9 265.5h0.9M515 282.6h0.9M516.6 265.8h0.9M493.8 254.5h0.9M487.4 307.4h0.9M497.8 238h0.9M514.1 273.1h0.9M515.7 251.4h0.9M492 280.6h0.9M518.3 293.9h0.9M501.3 219.4h0.9M489.8 230.3h0.9M501.7 238.4h0.9M494.3 303.5h0.9M515.6 306.2h0.9M495.4 293.3h0.9M506.7 254.8h0.9M508.1 288h0.9M514.5 321.3h0.9M487.3 243.6h0.9M514.8 240h0.9M494.3 304.5h0.9M494.9 249.4h0.9M485.3 320.4h0.9M504.1 221.2h0.9M521.7 271.2h0.9M489.1 219.6h0.9M511.2 211.8h0.9M512.4 303.6h0.9M493 214.8h0.9M515.2 264.2h0.9M516 213.9h0.9M513 319.3h0.9M488.2 248.3h0.9M498.7 283.3h0.9M492.5 283.6h0.9M506.8 218.4h0.9M500.1 242.2h0.9M519 306.3h0.9M496.7 301.3h0.9M489.4 258.3h0.9M496.7 278.3h0.9M490.9 223.6h0.9M521.1 273.3h0.9M502.8 219.6h0.9M518 302.6h0.9M501.2 256.3h0.9M506.5 261h0.9M493.7 229.6h0.9M497.5 322.2h0.9M500.4 231.1h0.9M488.8 218.5h0.9M502.2 212.7h0.9M515 214.9h0.9M498.3 221.8h0.9M520.5 253.2h0.9M512.9 252.6h0.9M489.2 239.6h0.9M501.8 223.4h0.9M494.7 233.6h0.9M506.9 239.1h0.9M484.3 268.5h0.9M494.9 315.2h0.9M484.2 282.5h0.9M510 228.5h0.9M521 258.1h0.9M500.6 307.2h0.9M518.2 291.2h0.9M516.1 303.4h0.9M509 299.1h0.9M513 278.5h0.9M495.4 287.8h0.9M521.1 235.9h0.9M511.5 244h0.9M515.6 259.4h0.9M487.1 283.3h0.9M511.5 258.6h0.9M506.8 300.2h0.9M489.8 249.3h0.9M509.8 272.6h0.9M505.6 257.3h0.9M489 259.6h0.9M488.9 272.5h0.9M521.1 252h0.9M488.4 248.4h0.9M508.7 307.9h0.9M520.9 253.5h0.9M507.4 296.3h0.9M499.4 225.5h0.9M518.7 209.5h0.9M507.6 216.3h0.9M500.1 247.8h0.9M505.8 214.3h0.9M496.4 284.6h0.9M492 234.8h0.9M495.3 292.1h0.9M485.2 310.5h0.9M500.2 314.1h0.9M518.9 257.6h0.9M506 210h0.9M506.5 296.7h0.9M495.9 322h0.9M502.9 211.1h0.9M511.6 235.9h0.9M486.2 272.3h0.9M489.1 232h0.9M503.3 209.3h0.9M512.4 310h0.9M505.5 229.1h0.9M518 281.6h0.9M503.4 229.5h0.9M518 263.6h0.9M518.7 295.2h0.9M487 242.6h0.9M506.5 321.5h0.9M490.1 310.7h0.9M488.8 321.4h0.9M505.1 294.2h0.9M504.2 225.4h0.9M506.9 237.1h0.9M505.2 251.4h0.9M506.2 314.6h0.9M518.7 217.3h0.9M486.8 228h0.9M510.4 210.3h0.9M518.7 270.8h0.9M490.5 221.6h0.9M488.6 292.2h0.9M493.8 245h0.9M494.6 215.3h0.9M504.4 223.7h0.9M505.7 236.5h0.9M484.6 217.3h0.9M487.7 276.6h0.9M497.1 241.7h0.9M487.8 291.9h0.9M508.9 213.3h0.9M504.8 256.7h0.9M509.3 274.2h0.9M491.3 249.4h0.9M517.5 227h0.9M484.7 313.6h0.9M509.5 256.3h0.9M496.5 229.8h0.9M501.2 283.9h0.9M502 320h0.9M510 322.3h0.9M484.9 303.8h0.9M501.4 294.6h0.9M487.1 220.1h0.9M514.4 279.1h0.9M486.2 276.4h0.9M497.8 280.5h0.9M505.3 218.1h0.9M517.4 244.9h0.9M502.3 268h0.9M492.1 292.7h0.9M490.1 250.8h0.9M491.2 258h0.9M490.3 266.4h0.9M509.3 311.8h0.9M496.8 235.7h0.9M498.3 211.2h0.9M496.3 229.9h0.9M492.5 245.7h0.9M508.6 275.2h0.9M521 243.7h0.9M519.2 245.8h0.9M511.3 230.1h0.9M494 242.4h0.9M494.7 250h0.9M513.8 285.6h0.9M520.2 249h0.9M503 216.1h0.9M503.6 269.9h0.9M497.6 288.5h0.9M498.9 314.6h0.9M498.8 236.5h0.9M509.6 256.2h0.9M486.3 239.6h0.9M491.1 253.2h0.9M503.5 310.4h0.9M494.2 280h0.9M512.6 286.4h0.9M497.6 256.6h0.9M493 313.2h0.9M498.1 265.1h0.9M492.1 306.9h0.9M484.4 320.7h0.9M509.4 210.5h0.9M485.5 258.9h0.9M517.8 310.9h0.9M502 271.8h0.9M514.7 311.8h0.9M503 281.8h0.9M508 220.2h0.9M512.2 295.3h0.9M496.1 246.2h0.9M509.9 225.3h0.9M494.1 291.4h0.9M493.1 265.7h0.9M491.3 249.8h0.9M494.2 227.7h0.9M489.4 281.4h0.9M497.9 271.3h0.9M516.4 250.8h0.9M504.3 262.5h0.9M496.9 293.3h0.9M500.6 221.8h0.9M514.2 266.5h0.9M497 292.1h0.9M516.9 266.3h0.9M501.7 318.3h0.9M507.3 252.4h0.9M520.4 285.8h0.9M492.3 210.6h0.9M513 265.2h0.9M495.6 283.5h0.9M494.6 308.5h0.9M504.6 266.5h0.9M504.6 277.7h0.9M487.5 316.6h0.9M514.7 212.2h0.9M487.8 224.8h0.9M484.4 272.3h0.9M490.3 295.7h0.9M495.2 274.5h0.9M500.4 232.8h0.9M519 297.5h0.9M505.5 215.7h0.9M488.5 309.3h0.9M502.8 226.4h0.9M492.4 228.2h0.9M506.4 222.6h0.9M498.7 298.7h0.9M501.2 263.4h0.9M519.2 264.8h0.9M519.6 238.7h0.9M507.4 285h0.9M499 249h0.9M485.7 306.4h0.9M514.5 261.2h0.9M494.9 211.4h0.9M500.3 247.5h0.9M510.7 287.1h0.9M511.1 264.8h0.9M493 232.1h0.9M508.3 296.9h0.9M487.8 242.1h0.9M493.6 294.6h0.9M487.3 226.7h0.9M486.3 295h0.9M486.6 222.2h0.9M510 229.6h0.9M517.9 305.5h0.9M484.5 252.7h0.9M489.3 276.8h0.9M484.3 282.7h0.9M489.4 292.1h0.9M492.5 241.2h0.9M499 221.3h0.9M495.9 213.2h0.9M491.2 212.2h0.9M501.3 230.9h0.9M518.4 314.1h0.9M495.9 318.9h0.9M498 296.4h0.9M506.8 295.1h0.9M498.1 295.1h0.9M497.4 316.8h0.9M521.6 218.6h0.9M508.6 216.1h0.9M509.4 216.5h0.9M511.7 288.7h0.9M501 251.8h0.9M508.2 248.3h0.9M506.9 297.5h0.9M488.8 242.1h0.9M506.6 303.6h0.9M497.9 260.9h0.9M495.1 232.6h0.9M493 303.3h0.9M491.7 210.9h0.9M486.1 223.5h0.9M506.6 301h0.9M489.1 285.1h0.9M516.5 264.5h0.9M501.2 286.1h0.9M503.8 294.5h0.9M520.5 274.5h0.9M488.5 266.9h0.9M498.2 294.2h0.9M509.8 218.5h0.9M499 214.7h0.9M520.2 264.6h0.9M488.7 308.1h0.9M497.8 257.9h0.9M513.3 292.4h0.9M506 282.5h0.9M516.1 229.7h0.9M508.2 317.8h0.9M485.8 230h0.9M513 293.7h0.9M518.6 274.7h0.9M508.2 214.6h0.9M507.1 291.8h0.9M518.4 225.5h0.9M507.3 241.8h0.9M510.3 286.8h0.9M519.6 275.3h0.9M486.5 321.4h0.9M521.6 241.6h0.9M509.5 316h0.9M515.4 297.9h0.9M488.6 212.6h0.9M498.3 279.2h0.9M490.5 314.6h0.9M509.1 311.9h0.9M489.3 259.3h0.9M501.2 274.9h0.9M489.2 248.1h0.9M517.4 310.7h0.9M497.7 239.7h0.9M507.6 240.7h0.9M497.6 255.8h0.9M488.4 213.4h0.9M485.9 246.8h0.9M501.8 210.3h0.9M510.9 218.5h0.9M492.3 233.9h0.9M496 243.4h0.9M508.2 239h0.9M501.7 227.2h0.9M509.8 243.8h0.9M494.2 247.8h0.9M489.7 292.6h0.9M495.2 239.2h0.9M501.8 249.6h0.9M509.2 211.2h0.9M501.4 288.3h0.9M498.8 231.2h0.9M489.6 298.4h0.9M521.1 210.8h0.9M503.8 282.6h0.9M488.2 298.2h0.9M493.5 240.7h0.9M486.1 258.4h0.9M504.8 237.3h0.9M495.2 257.2h0.9M512.4 322.5h0.9M513.6 215.8h0.9M486 276.7h0.9M521.2 245.6h0.9M487.6 277.4h0.9M497 274.9h0.9M511.3 314h0.9M498 229.4h0.9M507 211.9h0.9M502.7 216.9h0.9M484.6 229.5h0.9M504.8 263.7h0.9M496.5 298.1h0.9M515.1 218.4h0.9M498 315.1h0.9M485.9 302.6h0.9M489.4 230.6h0.9M509.7 267.5h0.9M516.3 242.7h0.9M505.2 249.8h0.9M516.8 275.2h0.9M556.6 314.8h0.9M547.4 236.8h0.9M553.1 231.1h0.9M553.1 220.5h0.9M558.6 259.1h0.9M552.1 233h0.9M550.7 298.5h0.9M554.4 266.1h0.9M554.2 270.7h0.9M558.7 235.3h0.9M553.7 227.6h0.9M548.5 312.5h0.9M542.8 270.9h0.9M556.6 243.1h0.9M560.1 266h0.9M546.5 257.7h0.9M558.1 306.1h0.9M556.1 257.1h0.9M555.7 322.4h0.9M557.1 229.9h0.9M549 226.3h0.9M554.4 271.9h0.9M549.2 262.4h0.9M551 267.2h0.9M551.5 307h0.9M549.6 281.2h0.9M560.5 310.6h0.9M537.8 234.1h0.9M561 223.4h0.9M547.5 315.1h0.9M548.3 257.8h0.9M552.6 272.9h0.9M557.7 262.4h0.9M557.1 299.2h0.9M552.4 216.9h0.9M556.2 271.8h0.9M552.7 307.5h0.9M559.6 305.4h0.9M556 252.4h0.9M559.8 312.5h0.9M557.8 217.2h0.9M551.9 232.8h0.9M549.4 283.7h0.9M553.3 321.1h0.9M557.2 311.7h0.9M559 301.4h0.9M551.7 292.2h0.9M544.4 241.1h0.9M551.5 213.3h0.9M549.1 251.2h0.9M551.2 278.9h0.9M553.9 311.8h0.9M543.9 234.1h0.9M551.4 272.5h0.9M544.1 250.4h0.9M557.7 321.7h0.9M552.8 271.1h0.9M548.4 228.3h0.9M546.7 210.5h0.9M556.2 257.7h0.9M551.6 291.2h0.9M555.6 215.1h0.9M552.2 223.7h0.9M550 279.2h0.9M553.8 265.8h0.9M549.6 296.5h0.9M555.9 280.9h0.9M554.2 285.8h0.9M547.8 219.6h0.9M547.8 270.8h0.9M549.6 246.1h0.9M561.4 210.5h0.9M548.3 219.8h0.9M551 292h0.9M555.9 248.7h0.9M551.1 247h0.9M554.1 315.7h0.9M549.6 258.2h0.9M561.3 234h0.9M554.7 302.6h0.9M555.4 292.9h0.9M556.2 269.5h0.9M556.5 224.1h0.9M552.1 220.3h0.9M545.9 218h0.9M555.6 236.9h0.9M557.3 266.1h0.9M551.3 251.9h0.9M552.6 211.3h0.9M548.6 312.2h0.9M553.8 226.2h0.9M557.5 241.6h0.9M550 257h0.9M555.3 212.9h0.9M549.5 271.4h0.9M558.8 319.3h0.9M552.8 311.8h0.9M548.9 291.1h0.9M561 254.2h0.9M549.1 209.7h0.9M548.5 249.5h0.9M553.8 229.5h0.9M554.5 260.6h0.9M559.7 220.6h0.9M550.4 220.6h0.9M551.4 241.8h0.9M559.7 280.7h0.9M557.9 257h0.9M547.3 213h0.9M553.5 248.6h0.9M557.4 250.9h0.9M554.3 287.2h0.9M546.9 311.8h0.9M552.1 285.2h0.9M555.3 210h0.9M554.9 226.4h0.9M552.8 238.9h0.9M545.5 312.4h0.9M546.5 283.6h0.9M556.5 295.8h0.9M545.6 253.6h0.9M561.6 239.9h0.9M556.3 212.5h0.9M549.6 320.9h0.9M555.8 209.7h0.9M548.5 290.6h0.9M549.9 224.1h0.9M549.1 316.4h0.9M551.5 313.4h0.9M553.2 232.8h0.9M558.3 298.3h0.9M559 264.1h0.9M545.1 242h0.9M546.3 295.8h0.9M558 313.5h0.9M557 256.7h0.9M548.1 274.3h0.9M546.8 272.9h0.9M561.5 277h0.9M548.8 315.1h0.9M550.8 304.9h0.9M545 314.2h0.9M551.3 218.6h0.9M558 278.7h0.9M557.8 227.7h0.9M549.5 216.7h0.9M554.2 259.7h0.9M553.8 295.1h0.9M555.7 316h0.9M550.8 254.3h0.9M550.7 210.9h0.9M548.3 224.9h0.9M553 305.7h0.9M552.3 275.6h0.9M550 290.7h0.9M550.4 300.1h0.9M550 239.4h0.9M545.3 214.3h0.9M560.8 286.9h0.9M556.3 257.6h0.9M549.6 316.4h0.9M549.6 270.8h0.9M552.2 242.1h0.9M560.9 223.3h0.9M548.9 286h0.9M558.7 309.3h0.9M542.7 262.5h0.9M551.4 321.2h0.9M550.5 272.1h0.9M552 242h0.9M546.8 210.4h0.9M558.7 245.2h0.9M555 309.2h0.9M557.4 288h0.9M552.4 271.5h0.9M552.9 233.7h0.9M555.1 235.4h0.9M547.6 286.7h0.9M554.9 257.4h0.9M549.8 317.2h0.9M551.2 301.7h0.9M551.3 217h0.9M554.5 258h0.9M553.2 235.1h0.9M550 321.7h0.9M545.8 289.2h0.9M556.8 236.8h0.9M552.1 235.9h0.9M548 235h0.9M546.5 308.4h0.9M557.7 254.7h0.9M551.5 321.6h0.9M551.8 265.9h0.9M551.1 299h0.9M545.9 320.1h0.9M546.9 261.2h0.9M555 245.9h0.9M550.7 287.2h0.9M551.8 310.5h0.9M553.5 311.5h0.9M556.9 251.1h0.9M561.9 266.7h0.9M557.6 270.7h0.9M559.5 299.7h0.9M549.2 252.5h0.9M551.2 245h0.9M553 285.9h0.9M550 264.1h0.9M546.2 286h0.9M549.1 225.6h0.9M553.7 319.6h0.9M554.2 303.5h0.9M559.8 223.6h0.9M554.5 216.8h0.9M547.6 322h0.9M551.1 257.9h0.9M552.9 299.9h0.9M550.5 300.8h0.9M548.9 214.3h0.9M554 241.4h0.9M558.2 255.3h0.9M543.3 221.8h0.9M551.6 273.6h0.9M558.9 307.1h0.9M561.6 264.2h0.9M549.2 214.5h0.9M555.6 249.7h0.9M548.3 266.8h0.9M548.6 245.9h0.9M554.5 313.8h0.9M555.9 236.9h0.9M558.3 210.2h0.9M552.6 319.2h0.9M552.9 257.1h0.9M555.2 259.6h0.9M552.8 222.1h0.9M565.5 238.6h0.9M550.9 280h0.9M552.2 257.5h0.9M548.3 236.6h0.9M544.8 236.2h0.9M552 306.3h0.9M555 223.8h0.9M554.8 289.6h0.9M552.9 288.5h0.9M550.7 220.4h0.9M556.9 271.5h0.9M559.6 217.7h0.9M549 311.1h0.9M551.4 267.4h0.9M550.5 247.6h0.9M545.7 211.5h0.9M548.4 288.9h0.9M545.5 288.3h0.9M552 210.7h0.9M552.8 312.3h0.9M558.6 222.9h0.9M547.9 252.8h0.9M557.7 293.3h0.9M551.1 231.9h0.9M554.2 321.1h0.9M551 210.7h0.9M550.1 312.8h0.9M563.3 268.4h0.9M556.8 267.2h0.9M555.3 211.8h0.9M553.4 305.8h0.9M548 218.6h0.9M555 272.4h0.9M545.2 287.2h0.9M559 286.9h0.9M551.1 317.5h0.9M556.3 305.2h0.9M560.8 300.1h0.9M547 259.5h0.9M549 224.2h0.9M552.3 244.2h0.9M552.2 316.2h0.9M553.1 216.8h0.9M551.2 235.4h0.9M552.9 305.1h0.9M546.9 310.8h0.9M552.9 298.4h0.9M559.9 303h0.9M551.8 269.2h0.9M561.4 243.1h0.9M551.9 310.6h0.9M546.9 310.4h0.9M558.4 293.5h0.9M555.8 287.9h0.9M547.5 306.2h0.9M549.2 236.2h0.9M552 297.2h0.9M546.2 225.5h0.9M551.4 305.4h0.9M548.6 238.6h0.9M549.1 308.9h0.9M554.1 268.7h0.9M553.9 243.1h0.9M557.3 224.8h0.9M555.3 315.4h0.9M560.7 223.7h0.9M547.6 286.1h0.9M555.2 213h0.9M556.6 229.2h0.9M548.7 212.4h0.9M546 272.9h0.9M547.9 259.7h0.9M549.5 304.5h0.9M555 258.4h0.9M550.9 271.4h0.9M554.7 234.1h0.9M556.3 308.4h0.9M558 295.2h0.9M558.9 301.2h0.9M551.4 275.8h0.9M549.6 303.4h0.9M547.1 289.6h0.9M553.5 285.7h0.9M548.1 318.8h0.9M547.2 216.4h0.9M555.8 296.8h0.9M548.7 251.7h0.9M550.9 271.5h0.9M558.8 281.8h0.9M550.3 296.3h0.9M557.7 270.1h0.9M550.8 283.9h0.9M558 258.7h0.9M556.7 288.6h0.9M553.9 291h0.9M549.6 286.7h0.9M555.6 286.5h0.9M554.3 253.4h0.9M553.2 277.4h0.9M555 257.1h0.9M547.3 264.7h0.9M560.2 322.4h0.9M559 275.5h0.9M546.9 292h0.9M552.3 239.8h0.9M553.1 221.8h0.9M558.4 291.2h0.9M553.1 249h0.9M562.3 252.3h0.9M552.8 294.6h0.9M551.1 241.8h0.9M552.6 221.2h0.9M552.5 294.1h0.9M555.7 322.3h0.9M559.6 223.4h0.9M546.3 227.7h0.9M548.2 288h0.9M546.6 212.7h0.9M546.1 219.1h0.9M554.4 295.4h0.9M553.5 259h0.9M550.3 288h0.9M547.2 314.8h0.9M550.7 250.9h0.9M562.7 219.9h0.9M554 321.8h0.9M553 308.4h0.9M557.4 260.4h0.9M555.1 309h0.9M554.2 300.7h0.9M551.1 265.2h0.9M555.5 275.5h0.9M550 224.4h0.9M548.5 281.1h0.9M557 280.3h0.9M558.4 313.6h0.9M552.7 220.2h0.9M555.2 216h0.9M546.8 294.7h0.9M549.3 209.5h0.9M557.6 318.6h0.9M556.4 244.1h0.9M555.5 214.3h0.9M555.8 283.9h0.9M548.1 232.9h0.9M559.5 244.9h0.9M562.9 261h0.9M558.1 215h0.9M548.2 302h0.9M549.9 223.4h0.9M547.8 296.5h0.9M558.1 245.2h0.9M548.2 320.5h0.9M556 252.5h0.9M553.1 216.7h0.9M554.7 261.2h0.9M555 299.5h0.9M552.5 277.6h0.9M554.1 222.7h0.9M559.8 317.2h0.9M552.8 220.9h0.9M552.6 311.1h0.9M544.4 233.6h0.9M550 252.8h0.9M554.2 294.1h0.9M553.9 229.9h0.9M556.5 240.2h0.9M542.4 280.7h0.9M556.9 308.3h0.9M550.5 247.5h0.9M550.1 268.4h0.9M550.3 229.8h0.9M547.5 292.2h0.9M553.1 217.3h0.9M563.4 265.4h0.9M553.4 304h0.9M552.7 282h0.9M551.5 209.7h0.9M550.5 220.5h0.9M553.9 220.2h0.9M550.3 260.8h0.9M550.8 271.5h0.9M550.6 226.6h0.9M550.4 240.8h0.9M554.6 293.9h0.9M559.9 232.4h0.9M551.5 278.8h0.9M551.7 216.6h0.9M562.3 262.6h0.9M550.2 243.2h0.9M552 232.4h0.9M549 248.3h0.9M553.9 317.2h0.9M553 318.5h0.9M549.6 301.2h0.9M557.8 299.6h0.9M554.7 240.6h0.9M556.7 229.4h0.9M556.7 212.6h0.9M556.5 224.8h0.9M560 317.7h0.9M546.3 219.4h0.9M555.6 245.4h0.9M551.9 239.9h0.9M552.2 238.3h0.9M552.5 287.1h0.9M552.3 294.2h0.9M546.7 268.9h0.9M553.3 297h0.9M548.8 229.6h0.9M558.9 214.4h0.9M560.6 319.1h0.9M552.6 211h0.9M552.5 209.7h0.9M544 212.4h0.9M560.1 213.2h0.9M554 311.2h0.9M556.3 319.6h0.9M554.8 255.9h0.9M548.6 242.5h0.9M549.6 321.5h0.9M557.4 220.8h0.9M548.8 242.6h0.9M555.5 307.7h0.9M554.5 312.1h0.9M549.5 288.5h0.9M551.2 240.5h0.9M543.4 258.9h0.9M554.6 213h0.9M556.4 231.5h0.9M557.4 239.9h0.9M544.1 245.4h0.9M549.8 219.9h0.9M556.4 303.5h0.9M555.5 292.5h0.9M559.1 269.2h0.9M546 219.6h0.9M551.7 278.9h0.9M546.4 263.1h0.9M553.5 315h0.9M550.5 236.9h0.9M548.4 321.7h0.9M548.1 304.6h0.9M553.4 311.9h0.9M547.1 254.1h0.9M550.7 282.1h0.9M552.4 303.1h0.9M561.4 234.8h0.9M558.5 235.8h0.9M552.5 287.6h0.9M554.1 274.2h0.9M548.2 253.1h0.9M553.6 236.1h0.9M551 245.9h0.9M553.7 252.9h0.9M551.1 257.1h0.9M547.7 310.1h0.9M542.6 283.1h0.9M557.5 215h0.9M561.7 217.6h0.9M554.1 293.6h0.9M558.2 210.5h0.9M555.5 260.1h0.9M552.8 301.5h0.9M552 292.2h0.9M550.7 277.6h0.9M549.7 314.3h0.9M553.3 238.6h0.9M551.3 246.4h0.9M555.9 283.6h0.9M553.2 295.9h0.9M552.7 213.7h0.9M551.7 212.1h0.9M553.1 308.2h0.9M557.9 294.3h0.9M551 210.2h0.9M548.3 280.3h0.9M557.1 223.5h0.9M561.7 294.9h0.9M554.6 241.3h0.9M555.2 294h0.9M553.1 257.9h0.9M548.4 242.2h0.9M550.9 277.8h0.9M553.4 314.2h0.9M555.8 310.6h0.9M552.6 303.2h0.9M553 302.2h0.9M560.3 317.3h0.9M547.8 278.4h0.9M551.1 214.1h0.9M547.7 221.9h0.9M553.4 250.9h0.9M543.2 230.9h0.9M547.5 254h0.9M551.2 261.7h0.9M546.5 306.7h0.9M554.7 309.3h0.9M553.7 241.2h0.9M559.1 280.2h0.9M559.1 298.7h0.9M550.3 218.3h0.9M551.1 249.6h0.9M549.9 314.8h0.9M559.7 251.9h0.9M552.5 269.2h0.9M553.8 318.1h0.9M555.3 312.6h0.9M550.4 210.7h0.9M562.6 227.2h0.9M549.6 275.5h0.9M551.8 296.2h0.9M555.7 314.5h0.9M554.8 249.3h0.9M554.4 275h0.9M554.9 212.3h0.9M552.3 280.2h0.9M558.1 316.9h0.9M553 271.1h0.9M556.9 260.7h0.9M545.2 259.3h0.9M557.2 274.3h0.9M548.1 311.9h0.9M558.3 248.5h0.9M552.7 231.6h0.9M548.8 285.4h0.9M548.8 244.5h0.9M544.6 311.1h0.9M547 210.5h0.9M550.7 216h0.9M555.2 287.9h0.9M543.1 320h0.9M547.2 218.3h0.9M554.5 291.8h0.9M551.6 227.2h0.9M557.9 281.1h0.9M563.8 225.8h0.9M554.7 238.4h0.9M560.6 275.1h0.9M552.2 226.2h0.9M542.4 262.1h0.9M558.6 294.1h0.9M563.4 239.7h0.9M551.3 265.5h0.9M554.4 269.2h0.9M563.2 213.5h0.9M559.4 220.9h0.9M560.8 298.8h0.9M550.3 228.1h0.9M546 265.5h0.9M554.8 259.5h0.9M558.1 314.4h0.9M551.5 289h0.9M554 297.2h0.9M549.7 243.8h0.9M553.7 318.4h0.9M547.4 279.5h0.9M553.2 312.3h0.9M554.4 260.1h0.9M552.6 263.9h0.9M549.7 232.6h0.9M558.7 218.4h0.9M553 238h0.9M547.4 254h0.9M555 271.9h0.9M556.7 234.3h0.9M554 250.1h0.9M552 268.1h0.9M550.6 224.5h0.9M556 238.6h0.9M555.2 258.4h0.9M552.5 230.2h0.9M544.9 313.5h0.9M551.5 319.2h0.9M551.5 220.5h0.9M554.5 271.6h0.9M560.7 281.3h0.9M556.5 316.3h0.9M554.3 218.8h0.9M554.8 290.7h0.9M554.5 321.6h0.9M553.3 254.5h0.9M548.2 210.4h0.9M551.2 252.3h0.9M550.2 287.9h0.9M559.7 209.4h0.9M548.4 290.1h0.9M550.1 219h0.9M551.2 296h0.9M557.8 267.7h0.9M550.2 239h0.9M545.1 264.5h0.9M551.7 243.9h0.9M553.6 276h0.9M537.8 245.5h0.9M548.3 267.7h0.9M550.5 238.9h0.9M550.2 233.7h0.9M554.5 233.7h0.9M552.5 316.9h0.9M553.1 255.1h0.9M555.4 256h0.9M559.6 282.2h0.9M555.3 296.6h0.9M541 295.7h0.9M561.5 268.1h0.9M549.8 263.6h0.9M555.9 228.6h0.9M557.7 245.1h0.9M550 287.8h0.9M558.2 275.9h0.9M553.1 289.6h0.9M547.6 301.4h0.9M553.6 295.7h0.9M555.7 305.5h0.9M554 302.6h0.9M559.3 218.2h0.9M550.1 238.4h0.9M551.2 283.7h0.9M556.7 317.2h0.9M555.8 310.9h0.9M561 224.4h0.9M552.3 294h0.9M554.2 303.9h0.9M560.1 321.4h0.9M564.2 294.7h0.9M545.4 224.1h0.9M555.1 282.5h0.9M550.9 314.5h0.9M555.6 309.2h0.9M551.8 315.3h0.9M557.7 316.6h0.9M548.5 316.3h0.9M557.1 316.7h0.9M548.9 293.3h0.9M556.3 302.5h0.9M557.9 298h0.9M565 221.6h0.9M546.9 275.4h0.9M547.6 276.4h0.9M551.9 272.9h0.9M559.6 249h0.9M552.2 291.3h0.9M554.7 278.5h0.9M554.7 256.3h0.9M552.2 258h0.9M548.1 281.5h0.9M562.7 303.5h0.9M552.1 216.2h0.9M549.7 238.7h0.9M561.5 303.3h0.9M555.7 241.4h0.9M549.6 284.9h0.9M552.5 274.9h0.9M546.1 283.3h0.9M556.7 251.4h0.9M558.5 298h0.9M555.4 230.6h0.9M552.5 245.1h0.9M552.9 297.2h0.9M555.2 284.4h0.9M549.6 244.6h0.9M548.4 302.3h0.9M547.9 215.9h0.9M554.6 269.5h0.9M558.2 301.8h0.9M554.4 261.6h0.9M557.4 238.2h0.9M555.6 256.1h0.9M558.1 279.5h0.9M551.9 221.2h0.9M548.4 275.2h0.9M544.3 231.1h0.9M553.3 297.4h0.9M553.5 222.7h0.9M550.6 314.4h0.9M553.3 226.7h0.9M563.1 218.3h0.9M548.3 267.2h0.9M551.3 232.5h0.9M553.2 220.8h0.9M556.8 254h0.9M551.6 250.3h0.9M544.5 286.4h0.9M548.2 315.4h0.9M553.5 223.7h0.9M553 215.3h0.9M557.8 240h0.9M556.4 221.9h0.9M560.6 261h0.9M555.8 261.6h0.9M549.9 262.5h0.9M542.4 216.6h0.9M551.8 250.9h0.9M551.8 286.7h0.9M549.7 275.8h0.9M555.6 221h0.9M561.5 246.5h0.9M552.6 230.7h0.9M545.8 234h0.9M552.9 304.9h0.9M548.8 237.4h0.9M550.3 224.9h0.9M550.2 271.9h0.9M557.8 258h0.9M555.5 241.7h0.9M557.5 302.8h0.9M559.5 319h0.9M552.2 297.2h0.9M553.2 240.7h0.9M554.6 231.9h0.9M552 250.2h0.9M552.6 293.5h0.9M555.3 221.4h0.9M556.4 247.1h0.9M558.5 231.8h0.9M551.1 279.1h0.9M553.3 234.8h0.9M554.5 310.3h0.9M546.2 235.2h0.9M555.7 280.3h0.9M553.3 295.5h0.9M554 241.1h0.9M557.9 228.6h0.9M561 290.9h0.9M554.7 277.3h0.9M551.4 317.7h0.9M546.5 291.7h0.9M553.3 231.9h0.9M547.9 285h0.9M552.6 260.7h0.9M554 282h0.9M548.8 262.4h0.9M554.3 247.7h0.9M553.3 251.9h0.9M546.7 282.4h0.9M549 289.2h0.9M550.6 285.1h0.9M558.3 239.2h0.9M554.8 213.4h0.9M554.3 224.8h0.9M550.4 220.8h0.9M558 210.3h0.9M550.5 209.8h0.9M553.7 253.1h0.9M549.7 239.1h0.9M552.1 296.5h0.9M560.7 271.7h0.9M555.5 299.7h0.9M554.6 235.5h0.9M561.1 320.7h0.9M553.9 275.1h0.9M547.8 212.1h0.9M559.6 265.7h0.9M555.4 281.1h0.9M547.1 271h0.9M544.7 278.8h0.9M546.8 226.8h0.9M547.3 291.5h0.9M550.6 253.2h0.9M560.9 250.1h0.9M549.8 310.3h0.9M552.7 291.7h0.9M546.7 303.3h0.9M553.6 279.4h0.9M559.1 266.7h0.9M552.9 268h0.9M546.6 255.9h0.9M550.6 276.8h0.9M548.7 235.7h0.9M556.5 319.2h0.9M552.1 311.6h0.9M552.3 267.6h0.9M550.7 263.6h0.9M551.1 222.7h0.9M559 224.1h0.9M557.3 292.1h0.9M559 279.3h0.9M553.3 298.3h0.9M556 280.2h0.9M555.8 234h0.9M547.6 284.6h0.9M554.3 305.4h0.9M557.7 274.3h0.9M544.3 263h0.9M550.6 263.5h0.9M555.5 311.7h0.9M555.5 311.8h0.9M552.3 267.4h0.9M558.4 270.2h0.9M555.7 283.2h0.9M555.1 247h0.9M545.5 243.8h0.9M551.6 234.5h0.9M546 234.4h0.9M545.9 318.8h0.9M559.9 284.6h0.9M555.4 305.6h0.9M555.2 243.7h0.9M554.4 302.4h0.9M551.5 248.9h0.9M553.1 288.6h0.9M542.9 308.1h0.9M553.2 245.1h0.9M548.7 269.9h0.9M547.9 217.8h0.9M548 263.6h0.9M557.3 306.3h0.9M549.6 308.1h0.9M557.5 259.1h0.9M550.2 303.4h0.9M549.8 286.9h0.9M551 320.3h0.9M553.2 303.6h0.9M551.9 226.2h0.9M553.7 312.6h0.9M541.3 254.7h0.9M558.6 254.6h0.9M553 250.3h0.9M553.8 298.5h0.9M556.5 311.8h0.9M557.8 276.5h0.9M553.7 209.1h0.9M550.7 321.4h0.9M549.3 242.8h0.9M551 264.3h0.9M552.8 300.5h0.9M550.8 213.8h0.9M553.1 248.6h0.9M558.9 224.2h0.9M557.2 297.3h0.9M550.5 275.3h0.9M553.7 213.8h0.9M551.7 273.4h0.9M550.9 258.9h0.9M551.8 321h0.9M552.8 307.2h0.9M555.8 235.8h0.9M549 275h0.9M547.6 231.8h0.9M546.3 238h0.9M546.4 217.2h0.9M551.5 271.6h0.9M553.5 236.5h0.9M553.7 289.8h0.9M548.2 277.6h0.9M548 312.9h0.9M555.6 213.7h0.9M551.5 258.4h0.9M559.3 278.6h0.9M556.6 269.9h0.9M557.4 273.4h0.9M552.1 305.9h0.9M549.1 266.2h0.9M548.9 283.8h0.9M559.1 247.3h0.9M551.5 266.7h0.9M544.4 312.1h0.9M555.5 228.7h0.9M553.5 312.3h0.9M549.2 279.2h0.9M550.8 296.8h0.9M545.4 238.3h0.9M543.5 302.7h0.9M550.2 265.1h0.9M549.5 322.2h0.9M558.5 269.5h0.9M552.2 233.3h0.9M555 318.9h0.9M554.4 223.1h0.9M547 307.5h0.9M549.1 209.8h0.9M548.8 254.8h0.9M554.2 307h0.9M552 314.6h0.9M554.6 224.8h0.9M560.9 240.7h0.9M549.3 215.9h0.9M544.3 296.4h0.9M553.4 238.2h0.9M551.4 260.6h0.9M547.8 228.7h0.9M557.2 269.1h0.9M545.8 293h0.9M549.6 257.6h0.9M552.5 305h0.9M547.5 279.7h0.9M561.6 225h0.9M548.4 292.3h0.9M555.4 305.2h0.9M556 245.4h0.9M546.4 320.6h0.9M547.4 312.7h0.9M551.7 289.2h0.9M555.8 312h0.9M550.6 238.3h0.9M548.9 254.8h0.9M556.9 253.2h0.9M551.6 243.3h0.9M553.8 211.2h0.9M548.7 259.6h0.9M554.7 251.3h0.9M555.7 314.1h0.9M548.2 245.1h0.9M544 226h0.9M555.9 228.1h0.9M561.6 252.2h0.9M553.5 282.9h0.9M555.4 279.9h0.9M555.7 282.8h0.9M555.5 297.3h0.9M556.6 235.3h0.9M553 305.5h0.9M548.8 218.7h0.9M550.8 219.2h0.9M547.9 270.5h0.9M560.3 259.4h0.9M552.9 214.2h0.9M551.5 275.6h0.9M558.4 213.3h0.9M550.9 248.2h0.9M543.2 306.6h0.9M552.1 237.9h0.9M555.2 226.9h0.9M550.7 305.9h0.9M549 222.6h0.9M564.4 267.8h0.9M546.2 290.7h0.9M549.8 220.5h0.9M555.8 268.9h0.9M550.7 227.7h0.9M560.4 216.3h0.9M548.2 290.4h0.9M547.8 292.4h0.9M556.6 245.2h0.9M550.8 263h0.9M556.2 248.7h0.9M556.4 230.5h0.9M550.5 215.1h0.9M546.4 295.9h0.9M556.8 229.7h0.9M546 320.9h0.9M550.6 290.4h0.9M558.5 214.1h0.9M554.5 231h0.9M556.3 212.6h0.9M553.2 311.5h0.9M558.2 265h0.9M556.4 238.2h0.9M561.9 266.5h0.9M549 297h0.9M551.8 292.1h0.9M544.1 296.4h0.9M553.4 316.4h0.9M548.2 288.2h0.9M548.3 304.9h0.9M551 305.9h0.9M556.3 260.8h0.9M547 318.5h0.9M553 263.6h0.9M562 231.7h0.9M555.5 267.4h0.9M553.4 274h0.9M547.3 313.9h0.9M547.7 233.3h0.9M547.3 319.6h0.9M548 259.9h0.9M550.5 312.8h0.9M553.2 264.8h0.9M557.6 307.1h0.9M555.5 302.3h0.9M554.6 266.4h0.9M554.7 294.6h0.9M552.7 279.8h0.9M551.2 272.7h0.9M553.3 233.4h0.9M553.3 238.6h0.9M557.5 275.6h0.9M553.3 262.2h0.9M556.5 294.1h0.9M550.3 241h0.9M550.1 318.5h0.9M552.5 209.8h0.9M550.9 263h0.9M551 317.9h0.9M553.4 226.4h0.9M550.9 258.8h0.9M553.9 209.4h0.9M548.4 213h0.9M554.4 294.2h0.9M559.9 316.6h0.9M543.2 241.4h0.9M558.2 269h0.9M556.7 274.8h0.9M560.7 312.7h0.9M554.6 277.1h0.9M559 220.3h0.9M556 214.3h0.9M553.6 309.6h0.9M559.2 234.2h0.9M555.3 266.1h0.9M550 226.4h0.9M543 305.5h0.9M552 281.4h0.9M551.2 257.5h0.9M560.5 302.4h0.9M553.5 305.8h0.9M554.3 233.9h0.9M548.1 230.2h0.9M550.7 222.8h0.9M549.8 231.5h0.9M550.2 215h0.9M559.6 275.6h0.9M550.2 239.2h0.9M546 245.6h0.9M555.9 226.2h0.9M548.1 241.7h0.9M550.8 211.5h0.9M554.8 265.2h0.9M552.7 258.6h0.9M548.9 305.1h0.9M551.3 236.9h0.9M550.1 320.9h0.9M555.2 291.5h0.9M552.6 251.9h0.9M539.5 211.4h0.9M554.2 247.1h0.9M553.3 231.6h0.9M545.5 290.5h0.9M551.8 236.3h0.9M546 224.6h0.9M560.4 258.5h0.9M563.1 321.6h0.9M552.9 232.9h0.9M553.1 261.5h0.9M550.4 317.8h0.9M558.4 254.4h0.9M551.1 256.9h0.9M557.9 236.1h0.9M559.2 269.1h0.9M554.9 249h0.9M547.6 287.1h0.9M553.7 286.9h0.9M551.3 312.4h0.9M555.4 285.8h0.9M549.9 301.9h0.9M545.8 317.4h0.9M548.1 320.9h0.9M553.4 230h0.9M554.7 263.2h0.9M553.4 255.9h0.9M557.3 269.8h0.9M558.8 289.9h0.9M548.4 295.4h0.9M553.7 304.9h0.9M552.7 261.5h0.9M557.3 285.5h0.9M544.6 321.8h0.9M545.2 226.6h0.9M551.5 294.3h0.9M551.4 258.6h0.9M552.2 291.9h0.9M553.6 249.8h0.9M547 230.8h0.9M555.3 312.6h0.9M552.9 257.8h0.9M553 284.7h0.9M545.1 253.5h0.9M555.6 265.2h0.9M548.4 240.8h0.9M546.9 282.8h0.9M548.5 239.5h0.9M554 218.7h0.9M547.4 304.7h0.9M555.6 295.4h0.9M549.9 229.8h0.9M564.4 297.5h0.9M554.7 315.7h0.9M554.6 301.1h0.9M551.5 309.3h0.9M551.7 231.9h0.9M552 309.3h0.9M556.6 240.4h0.9M550.4 230.8h0.9M555.5 275.4h0.9M550.4 269.6h0.9M563 266.1h0.9M553.8 255.1h0.9M553 250.7h0.9M551.4 287.8h0.9M562 316.9h0.9M550.2 321.5h0.9M555.9 264.1h0.9M545.5 252.2h0.9M549 210.8h0.9M555.1 272.2h0.9M546.7 253.6h0.9M555.7 222.9h0.9M553.4 284.3h0.9M557.7 219.5h0.9M548.6 244.5h0.9M552.4 258.7h0.9M549.7 255.1h0.9M546 219.4h0.9M547 310.7h0.9M553.6 283.3h0.9M545.5 250.5h0.9M550.3 260.6h0.9M554.4 211.4h0.9M548.7 247.4h0.9M549.7 321.2h0.9M554.3 306.8h0.9M550.7 252.2h0.9M554.8 272.7h0.9M552.8 277.6h0.9M555.4 223.3h0.9M550.7 252.8h0.9M548.1 319.2h0.9M549.7 265.9h0.9M548.1 243.8h0.9M555.6 232.8h0.9M549.8 223.7h0.9M545.9 306.3h0.9M552.1 250.6h0.9M558 311.1h0.9M546.6 246.4h0.9M549.8 296.5h0.9M555.1 307.5h0.9M543.2 304.9h0.9M557.4 231h0.9M554.7 281.2h0.9M547.6 316.1h0.9M556.4 240.7h0.9M553 260.4h0.9M547 232.9h0.9M551.2 295.6h0.9M551.6 319.2h0.9M545.8 252.1h0.9M557.2 280.9h0.9M554 223.6h0.9M555 280h0.9M551.3 232.5h0.9M562.8 219.1h0.9M559.1 306h0.9M554.5 240.5h0.9M555.5 214.5h0.9M549 236.3h0.9M545.3 242.7h0.9M537.9 241.7h0.9M550.4 284h0.9M556.2 271.7h0.9M548.2 294.2h0.9M557.8 309.2h0.9M548.6 310.9h0.9M553.3 313.3h0.9M566 268.1h0.9M553.6 293.5h0.9M548.7 258.7h0.9M548.3 212.1h0.9M557.4 241.8h0.9M550.6 209.5h0.9M554.5 273.4h0.9M556.1 245.4h0.9M560.7 211.1h0.9M551.6 320.7h0.9M552.7 239.7h0.9M554.1 285.6h0.9M558.8 285h0.9M548.3 284.6h0.9M557.1 263.4h0.9M556.2 301.6h0.9M563 300.2h0.9M552.8 292.6h0.9M553 319.4h0.9M550 294.1h0.9M555.5 218.1h0.9M550.6 262.8h0.9M556.5 230.8h0.9M557.9 320h0.9M549.5 226.4h0.9M560 221.1h0.9M554.6 288.9h0.9M551.7 280.4h0.9M561 257.7h0.9M556.3 230.2h0.9M551.2 288.5h0.9M546.5 227.1h0.9M560.4 235.5h0.9M549.8 234.1h0.9M553.3 235.7h0.9M546.9 284.5h0.9M558.3 261.2h0.9M554.1 251.3h0.9M553.6 244h0.9M550 242.7h0.9M550.3 237.5h0.9M549.2 269.6h0.9M551.1 298.5h0.9M554.5 314h0.9M556.3 243.2h0.9M545.3 267.1h0.9M550.1 313h0.9M557.7 215.4h0.9M555.2 258.5h0.9M550.3 224.2h0.9M553.7 289.6h0.9M551.4 271.2h0.9M558.3 235.3h0.9M547.2 231.7h0.9M550 263.4h0.9M554.3 210.3h0.9M553 272h0.9M544.8 272.7h0.9M546.7 275.8h0.9M558 289h0.9M552.2 289.8h0.9M558.9 224.6h0.9M550.1 308h0.9M552 261.3h0.9M554.8 292h0.9M554.8 316.7h0.9M552.3 268.1h0.9M560.2 241.4h0.9M547.3 227.5h0.9M549.2 215.7h0.9M548.9 221.3h0.9M554.5 268.5h0.9M555.8 297.4h0.9M550.5 266.8h0.9M555.5 231.6h0.9M551.3 246.6h0.9M549.5 319.6h0.9M556.5 285.5h0.9M550.4 258.9h0.9M550.8 223.9h0.9M553 261.5h0.9M555.9 243.8h0.9M560 301.2h0.9M553.9 302h0.9M549.2 271.7h0.9M550 210.9h0.9M557.6 254.6h0.9M550.7 282.9h0.9M557.2 274h0.9M550.5 288.5h0.9M555.5 296.9h0.9M555.4 253.5h0.9M550.6 308.7h0.9M551.6 212.2h0.9M548.9 258.8h0.9M548.9 305.6h0.9M553.3 308.4h0.9M553.7 251.6h0.9M551.4 211h0.9M555.2 225.1h0.9M550 270.4h0.9M543.1 218.6h0.9M551.3 212.8h0.9M550.9 222.8h0.9M547.8 272.9h0.9M554.3 218.8h0.9M552.6 238.5h0.9M564.1 219.4h0.9M548.8 256h0.9M556.5 311.5h0.9M550 234.4h0.9M554.2 230h0.9M551.9 223.9h0.9M557.3 304.2h0.9M559.8 287.9h0.9M548.7 315.2h0.9M557.6 272.1h0.9M556.7 264.9h0.9M543.7 235.6h0.9M548.6 231.3h0.9M560.9 307.5h0.9M561.1 318.6h0.9M546.6 222.1h0.9M552.2 274.7h0.9M562.4 243.2h0.9M540.9 248.2h0.9M555.5 251.1h0.9M551.8 221.5h0.9M551.5 245.3h0.9M547.3 248h0.9M556 213.3h0.9M551.3 209.5h0.9M560.7 275.2h0.9M556.8 227.6h0.9M562.6 294h0.9M548.5 293h0.9M554.5 252.7h0.9M556.7 308.8h0.9M547.8 235.3h0.9M548.2 233.6h0.9M547.2 321.2h0.9M555.6 217h0.9M549.2 236.9h0.9M557.6 263.1h0.9M554.1 212.6h0.9M549.9 237.4h0.9M550.1 282h0.9M554.9 234.2h0.9M559.1 280.8h0.9M553.9 303.7h0.9M558.5 303.7h0.9M554.4 209.7h0.9M548.5 304.6h0.9M544.7 210.4h0.9M542.9 284.5h0.9M547.4 301h0.9M555.2 226.1h0.9M553.8 274.1h0.9M553.3 245.5h0.9M550.5 270.2h0.9M551.4 244.4h0.9M560 312.2h0.9M550.2 306h0.9M549 286.7h0.9M545 277.4h0.9M552.8 269h0.9M558.8 320.6h0.9M555.8 288.5h0.9M562.4 233.8h0.9M549.8 220h0.9M554.2 213.3h0.9M553.6 217.5h0.9M554.5 209.8h0.9M551.8 209.4h0.9M551.8 212.8h0.9M554.2 219.3h0.9M550.3 222.4h0.9M551.3 221.5h0.9M557.2 214h0.9M556.1 227.7h0.9M550.2 224.2h0.9M555.9 227.8h0.9M555.7 215.2h0.9M553.4 216.5h0.9M553.9 219.9h0.9M553.2 224.5h0.9M550.1 215.7h0.9M550.2 215.2h0.9M545.8 225.3h0.9M552 220.3h0.9M554 213h0.9M553.6 223.4h0.9M550.5 211.2h0.9M553.1 221.1h0.9M553.8 212.1h0.9M553.3 217.9h0.9M558.3 217.1h0.9M552.3 213.4h0.9M556.2 226.4h0.9M550.7 212.1h0.9M553.4 220.4h0.9M554.3 228h0.9M557.8 212.5h0.9M548.7 223.6h0.9M552.1 210.8h0.9M552.6 218.7h0.9M553.4 212.5h0.9M549.1 218.1h0.9M553.5 218.7h0.9M549.6 211.9h0.9M555.8 224.3h0.9M548.9 226.8h0.9M553.6 225.2h0.9M551.5 217.5h0.9M554.8 224.9h0.9M554.1 224.6h0.9M549.5 228h0.9M550.1 214.1h0.9M553.4 209.1h0.9M552.9 215.5h0.9M553.1 211.3h0.9M549.9 222.6h0.9M555.4 211.5h0.9M549.2 219.2h0.9M552.2 226.8h0.9M554.7 212.7h0.9M550.5 225.9h0.9M549.5 210.9h0.9M556.3 212.3h0.9M554.6 210.7h0.9M551 227.7h0.9M550.5 210.4h0.9M550.3 212.8h0.9M551 218.7h0.9M549.1 213.4h0.9M551.1 209h0.9M553.5 226.2h0.9M547.8 224.4h0.9M552.2 209.6h0.9M550.1 212h0.9M555.9 221.1h0.9M553.4 225.2h0.9M556.2 220.6h0.9M553 222.9h0.9M552.1 223h0.9M552.2 224.5h0.9M557.5 221.1h0.9M554.8 218h0.9M555 222.9h0.9M551.6 217.5h0.9M552.5 221.8h0.9M550.9 211.7h0.9M553 218h0.9M547.2 213.5h0.9M552.2 209.5h0.9M554.4 227.1h0.9M556.5 212.8h0.9M551.3 216.3h0.9M553.4 218.6h0.9M551.1 215.5h0.9M553 221.9h0.9M555.5 221h0.9M556.4 226.3h0.9M555 212.8h0.9M548.8 221.5h0.9M555 220.9h0.9M549.8 217.7h0.9M551.3 226.7h0.9M550.6 214.8h0.9M556.2 216.4h0.9M550.5 216h0.9M555.5 217.8h0.9M548.8 213.8h0.9M556.4 214h0.9M565.2 211.2h0.9M553.6 226.7h0.9M554.9 219.6h0.9M555.4 222.4h0.9M553.4 226.6h0.9M549.1 218.1h0.9M545.7 224.5h0.9M552.3 216.8h0.9M548.6 222.3h0.9M553.2 214.8h0.9M553.9 209.5h0.9M553.2 219.8h0.9M552.7 212.3h0.9M554.9 220.1h0.9M548.9 222.5h0.9M554.2 221.3h0.9M554.5 227.4h0.9M551.8 211.6h0.9M550.9 209.2h0.9M551.8 216.1h0.9M551.7 215.1h0.9M551.2 214.3h0.9M548.4 224.3h0.9M554.1 225.8h0.9M545.8 217.5h0.9M550.3 222.9h0.9M544.3 210.1h0.9M549.7 217.3h0.9M555.4 218.2h0.9M550.5 217.2h0.9M551.2 223.9h0.9M548.7 218.5h0.9M551 215.5h0.9M555.5 221.1h0.9M554.3 221.5h0.9M551.9 215.7h0.9M554.6 211.8h0.9M550.1 221.3h0.9M549.2 212.3h0.9M550.5 214.9h0.9M548.6 217.6h0.9M553.6 216.8h0.9M554.3 217.6h0.9M550.5 210.6h0.9M549.7 224.1h0.9M556.4 212.2h0.9M550.1 220.3h0.9M553.4 217.1h0.9M553.4 210.3h0.9M550.9 218.1h0.9M555.7 212.7h0.9M549.3 213.8h0.9M555.7 223.4h0.9M552.2 209.4h0.9M551.7 224.8h0.9M550.5 227.2h0.9M554.3 215.6h0.9M551.3 217.8h0.9M557.3 225.7h0.9M548.4 220.8h0.9M551.3 212.7h0.9M554.8 224.6h0.9M551.2 213.4h0.9M554.3 215.5h0.9M553.2 218.7h0.9M555.8 216.3h0.9M552.2 220.1h0.9M554.3 214.1h0.9M548.6 210.1h0.9M552.4 218.3h0.9M551.5 220.4h0.9M550.3 222.9h0.9M553.1 218.1h0.9M549.6 226.5h0.9M551.5 217.2h0.9M553.8 220.7h0.9M552.2 221h0.9M558.7 222h0.9M555.9 224.8h0.9M550.4 209.2h0.9M554.1 218.5h0.9M547.1 222.5h0.9M549.2 227.9h0.9M553.9 224.1h0.9M553.4 226.1h0.9M553.8 211.2h0.9M548.9 226.3h0.9M550.3 212h0.9M555.9 225.4h0.9M554.5 216.2h0.9M550.1 220.2h0.9M551.6 223.4h0.9M551.4 222.7h0.9M548.9 224.3h0.9M553.1 212h0.9M550.8 223.7h0.9M549.4 209.8h0.9M552.2 212.7h0.9M551.9 225.6h0.9M554.1 220.1h0.9M552.9 219.2h0.9M552.1 223.6h0.9M548.3 222.5h0.9M552.7 223.9h0.9M550.5 219h0.9M546.7 217.1h0.9M553.6 219.8h0.9M545.1 227.5h0.9M549.9 224.3h0.9M551.9 221h0.9M548.4 223.4h0.9M548.1 222.4h0.9M544.9 214.9h0.9M550.5 226.9h0.9M549.1 224.6h0.9M551.8 227.2h0.9M553.1 227.5h0.9M554.2 225.7h0.9M550.9 212.4h0.9M552.6 216.4h0.9M553.8 225.6h0.9M552.9 213.9h0.9M555.8 225.8h0.9M552.6 218h0.9M549.5 220.5h0.9M552.8 225.3h0.9M549.8 219h0.9M548.8 215.7h0.9M553.6 224.4h0.9M552.2 209.8h0.9M545.8 225.6h0.9M544.1 215.7h0.9M548.7 213.7h0.9M547.2 226.2h0.9M553.4 212h0.9M548.3 226.8h0.9M554.3 219.7h0.9M554.4 216.4h0.9M554.2 210.1h0.9M549.6 222.2h0.9M552.7 219.5h0.9M550 222.1h0.9M546.9 223.5h0.9M552.5 209.6h0.9M549.7 209.1h0.9M550.7 215.1h0.9M547 221.9h0.9M549.5 221.4h0.9M550 209.9h0.9M554.7 211.8h0.9M552 209.2h0.9M592.4 316.8h0.9M634.9 270.3h0.9M608.7 304.8h0.9M634.1 257.8h0.9M630.6 280.1h0.9M637.4 269.9h0.9M643.7 250.4h0.9M628.4 276.7h0.9M622 278.5h0.9M629.9 250.1h0.9M623 280.1h0.9M638.3 254.6h0.9M638.9 247.4h0.9M621.1 271.9h0.9M611.2 299.8h0.9M611.9 286.9h0.9M627.3 254.1h0.9M598.3 305.7h0.9M626 277.5h0.9M639.2 249h0.9M613.3 285h0.9M641.1 254.4h0.9M592 315.2h0.9M632.7 260.5h0.9M595.9 306.5h0.9M599.3 317.9h0.9M648.2 239.6h0.9M614.4 296h0.9M642.2 241.8h0.9M629.1 263.2h0.9M619.9 260.8h0.9M640.6 241.1h0.9M612.9 277.3h0.9M624.3 272h0.9M587.9 321.7h0.9M629.6 277.4h0.9M619.7 300.1h0.9M607.8 305.6h0.9M622.2 278.8h0.9M613.6 292h0.9M613.5 272h0.9M580.9 319.5h0.9M589.4 303.8h0.9M595.8 309.7h0.9M623.4 265.9h0.9M625.8 278.4h0.9M590.6 321.6h0.9M634.4 256.7h0.9M584.9 318.5h0.9M609.8 294.3h0.9M629.6 265.5h0.9M618.4 283.8h0.9M641.3 245.8h0.9M647.5 240.9h0.9M596.1 316.5h0.9M619.3 288.7h0.9M602.9 306.4h0.9M621.4 267.3h0.9M589.1 312.5h0.9M642.7 247.3h0.9M583.7 314.2h0.9M611.9 295.4h0.9M607.8 305.7h0.9M626.3 259.9h0.9M606.9 294h0.9M623 267.8h0.9M650.4 244.6h0.9M639.8 257.9h0.9M582.6 322.4h0.9M598 302.5h0.9M576.9 321.1h0.9M614.4 297.7h0.9M622.2 271.7h0.9M635.3 249.3h0.9M639.6 251.4h0.9M610.1 292.8h0.9M619.1 275.2h0.9M633.3 257.5h0.9M605.9 295.5h0.9M628 263.2h0.9M615.9 280.5h0.9M645.9 245h0.9M620.7 296.7h0.9M587.2 313.3h0.9M643.6 242.1h0.9M624.8 261.9h0.9M599.6 300.6h0.9M629 263.4h0.9M593.4 315.1h0.9M616.7 293.4h0.9M594.1 309.6h0.9M643.4 236.6h0.9M633.7 273.8h0.9M614.8 284.7h0.9M615 296.3h0.9M636.1 264.2h0.9M612.3 281.4h0.9M590.9 307.7h0.9M612 286.7h0.9M633.7 267.7h0.9M621.2 271.5h0.9M643.7 239.9h0.9M590.8 314.4h0.9M642.2 239.9h0.9M629.6 262.7h0.9M621.5 288.3h0.9M609.9 283.9h0.9M604.7 303.9h0.9M628.5 257.7h0.9M619.4 286.3h0.9M625.7 259.6h0.9M591.3 312.8h0.9M601.5 302.7h0.9M618.6 288.8h0.9M646.6 237.8h0.9M614.4 270.8h0.9M641.9 238.1h0.9M620.1 282.7h0.9M611.3 294.4h0.9M646.7 238.8h0.9M627.9 252.3h0.9M616.1 294.5h0.9M605.2 303.9h0.9M589.6 320.9h0.9M585.6 315.8h0.9M638.4 247.2h0.9M619.3 288.2h0.9M635 253.9h0.9M617.3 274.3h0.9M624.6 272.3h0.9M582.1 321.6h0.9M613.4 295.9h0.9M604.7 304.2h0.9M646.8 249.4h0.9M588.1 314h0.9M591.4 314.2h0.9M594.1 299.9h0.9M588.6 304.6h0.9M635 246.1h0.9M596.5 302.5h0.9M611.8 280.5h0.9M645.8 238.8h0.9M624.2 265.4h0.9M613.7 286h0.9M593 308.2h0.9M618.9 283.3h0.9M623.9 272.2h0.9M618.3 270.3h0.9M621.2 283.2h0.9M588.2 314h0.9M632.6 257.2h0.9M637.4 236.6h0.9M611.4 296.2h0.9M626.2 272.8h0.9M604.9 305.2h0.9M642.2 244.6h0.9M599.3 306.1h0.9M627.6 257.2h0.9M613.6 284.1h0.9M623.2 278.5h0.9M607.3 293.7h0.9M604.3 306.7h0.9M627.5 267.7h0.9M633.5 259.3h0.9M617.5 287.3h0.9M610 297.8h0.9M595.6 312h0.9M626.9 260h0.9M603.2 305.6h0.9M578.2 321.1h0.9M621.6 269.9h0.9M634.1 255.4h0.9M626.6 266.5h0.9M577.3 315.5h0.9M639.3 250h0.9M636.2 265.9h0.9M622.8 272.2h0.9M607 301.8h0.9M627.2 258.3h0.9M644.1 239.7h0.9M643.5 248.9h0.9M615.6 301.3h0.9M626.1 276h0.9M641.7 248.5h0.9M615.6 282.4h0.9M597.9 294.4h0.9M630.2 250.4h0.9M641.9 247.6h0.9M626.3 253.2h0.9M632.1 238.9h0.9M628.1 262.2h0.9M588.1 317.2h0.9M627.6 280.2h0.9M623.5 260.4h0.9M599.4 305.1h0.9M589.9 315.1h0.9M623.9 292.4h0.9M626 287.3h0.9M618.6 292.3h0.9M622.3 268.8h0.9M629.2 267.2h0.9M606.5 305h0.9M605.5 302.4h0.9M621.2 268.9h0.9M590.4 317.1h0.9M587.7 306.8h0.9M626.8 252.5h0.9M620.5 273.3h0.9M626.5 266.7h0.9M592.3 303.3h0.9M631.6 264.7h0.9M624.1 268.9h0.9M626.3 267.9h0.9M584.4 310.7h0.9M634.9 251.4h0.9M630.2 268.1h0.9M602.7 296.6h0.9M584.7 320.5h0.9M624.9 282.7h0.9M620.6 286.6h0.9M621.2 267.1h0.9M590 310h0.9M628.1 254.6h0.9M599.7 302.3h0.9M597.1 314.6h0.9M626.9 254.7h0.9M589.6 321.5h0.9M597.5 317.3h0.9M640.7 253.5h0.9M632.6 271.6h0.9M641.1 244.1h0.9M637.1 260h0.9M611.9 298.3h0.9M588.2 321.5h0.9M594.6 307.6h0.9M626.9 277.3h0.9M611.6 284.3h0.9M584.6 322.1h0.9M610.3 282.7h0.9M646.1 242.1h0.9M623.9 273.8h0.9M632.8 245.6h0.9M618.8 275.4h0.9M634.4 259.8h0.9M646.8 246.2h0.9M624.7 262.2h0.9M623.4 270.7h0.9M627.6 256.3h0.9M586.3 312.7h0.9M614 289.4h0.9M596.3 304.4h0.9M646.2 244.3h0.9M645.7 239h0.9M643.1 248.8h0.9M597.6 315.1h0.9M614 290.7h0.9M644.4 253.7h0.9M637.4 260.8h0.9M618.4 262.2h0.9M618.2 287.7h0.9M624.9 275.1h0.9M644.2 251.8h0.9M624.3 274h0.9M634.8 244.6h0.9M596.8 307.1h0.9M620.4 280.7h0.9M606.1 301.6h0.9M626 260.7h0.9M632.4 271.9h0.9M605.3 304.3h0.9M587 321.6h0.9M595.1 309.3h0.9M624.7 266h0.9M623.5 282.4h0.9M606.3 292.1h0.9M596.3 307.8h0.9M622.4 276.5h0.9M629.5 255.8h0.9M624.9 265.7h0.9M614.3 293.5h0.9M606.7 295h0.9M615.7 292.4h0.9M588.8 318h0.9M602.6 298h0.9M634.8 253.4h0.9M616.4 275h0.9M608.2 303.9h0.9M631.2 247.5h0.9M603.4 302.4h0.9M641.8 247.5h0.9M606.3 300h0.9M625.1 263.4h0.9M638.3 251h0.9M623.8 281.5h0.9M616.9 275.3h0.9M624.4 275.3h0.9M583.7 320.1h0.9M605.3 305.6h0.9M614.2 275.4h0.9M631.7 267.7h0.9M639.3 260.9h0.9M616.2 286.6h0.9M578.7 319.7h0.9M624.1 264.9h0.9M603.5 288.9h0.9M631.9 258h0.9M650.1 237h0.9M626.3 267.1h0.9M620.4 285.6h0.9M602.1 305.5h0.9M631.1 271.3h0.9M639.1 240.9h0.9M626.2 272.7h0.9M629.6 259.4h0.9M640.4 242.6h0.9M614 281.6h0.9M627.9 272.7h0.9M592.5 310.9h0.9M624.7 273.9h0.9M629.6 254h0.9M630.8 258h0.9M608.3 302.8h0.9M612 296.5h0.9M605.6 299.8h0.9M649 241.4h0.9M647.5 236.3h0.9M614.9 277.7h0.9M623.2 264h0.9M638.7 248.7h0.9M592.3 310h0.9M611.8 286.1h0.9M648.6 241.5h0.9M618.8 279.9h0.9M593.2 309.1h0.9M610.3 287.2h0.9M585.7 312h0.9M619.9 269.6h0.9M593.2 302.6h0.9M642.3 243.4h0.9M623.2 276.6h0.9M636.5 257.6h0.9M623.1 256.8h0.9M643.6 250h0.9M627.6 286.9h0.9M574.1 319.2h0.9M621 290h0.9M634.3 258.2h0.9M601 304.1h0.9M595.1 311.1h0.9M601.7 302.5h0.9M617.5 294.8h0.9M621.6 283.9h0.9M644.7 251.2h0.9M615.1 286.8h0.9M622.4 295.1h0.9M630.5 267.9h0.9M620.8 255.1h0.9M636.1 257.1h0.9M622.6 280.1h0.9M602.6 308.3h0.9M595.5 305.9h0.9M592.4 317.4h0.9M646.5 243.3h0.9M643.7 262.4h0.9M618.3 296.2h0.9M609.2 293h0.9M596.3 314.5h0.9M638.2 265.3h0.9M644.3 242.2h0.9M598 304.9h0.9M628.7 283.6h0.9M614.7 297.4h0.9M646.6 241.3h0.9M578.3 321.7h0.9M613 293.9h0.9M627 257.9h0.9M642.4 242.5h0.9M615.8 284.9h0.9M615.4 288.5h0.9M623 267.3h0.9M621.6 274.9h0.9M631.5 266.4h0.9M626.1 269.9h0.9M627.8 256.6h0.9M642.3 248.5h0.9M624.3 277.5h0.9M595.8 304.1h0.9M633.5 260.4h0.9M641.6 243.1h0.9M625.9 268.6h0.9M639.2 244.1h0.9M605.3 305h0.9M599.6 302h0.9M597.3 310.3h0.9M629.8 252.2h0.9M601.9 296.7h0.9M630.6 287.8h0.9M624.2 279.9h0.9M605.9 299.2h0.9M637.5 246.5h0.9M638.3 248.1h0.9M613.9 288.3h0.9M609.8 308.2h0.9M616.7 290.2h0.9M620.5 266.9h0.9M638.8 268.1h0.9M624.5 260.1h0.9M602.7 299.5h0.9M619.9 266.1h0.9M629.4 254.7h0.9M643.4 244.2h0.9M586.3 320.6h0.9M616.8 291.2h0.9M634.1 262.8h0.9M627.5 277.7h0.9M647.6 242.2h0.9M648.1 241.1h0.9M633.8 264h0.9M611.5 301.9h0.9M605.6 290.9h0.9M587.8 314.9h0.9M618.7 291h0.9M618.7 286.4h0.9M605.9 289.9h0.9M645.5 237.9h0.9M608.6 295.1h0.9M630 250h0.9M580 321.9h0.9M574.6 318.5h0.9M585.1 317h0.9M621.6 255.4h0.9M631.3 255.8h0.9M635.5 255.3h0.9M627.3 278.6h0.9M608.8 305.2h0.9M623.6 279h0.9M642.2 248.3h0.9M632 255h0.9M632.9 263.8h0.9M650 241.1h0.9M583.7 317.1h0.9M580.4 319.9h0.9M618.7 280.8h0.9M639 246.6h0.9M634.2 259.4h0.9M583.2 321.4h0.9M619.1 289.3h0.9M631.5 247.2h0.9M631.6 260h0.9M618 281.4h0.9M636.9 253.3h0.9M597 311.1h0.9M628.2 272.7h0.9M592.8 316.1h0.9M624.1 277.8h0.9M567.1 321.9h0.9M590 308.5h0.9M607.6 292h0.9M622 271.1h0.9M629.3 253h0.9M614.8 285.7h0.9M611.7 282.2h0.9M615.5 296.1h0.9M598.9 305.7h0.9M632.4 258.3h0.9M599.4 304.3h0.9M587.2 318.8h0.9M632.2 241.5h0.9M586.1 321.3h0.9M578.9 319h0.9M610.9 301.1h0.9M594.4 303.6h0.9M632.7 249.7h0.9M593.2 317.7h0.9M601.8 303.6h0.9M617.4 286.4h0.9M645.6 239.5h0.9M609.4 304.5h0.9M626.3 280.1h0.9M611.7 286.6h0.9M588.4 310.1h0.9M640.1 246.7h0.9M636.4 262.5h0.9M622.1 269.3h0.9M590.9 311.6h0.9M618.7 267.2h0.9M632.1 263.2h0.9M581.8 317.1h0.9M629.5 266.3h0.9M644.4 251.1h0.9M595.5 306.9h0.9M637.9 247.5h0.9M621.8 279.3h0.9M626.2 273.8h0.9M624.2 285.8h0.9M615.9 274.1h0.9M627.7 271.7h0.9M636.2 253.1h0.9M625.5 274.8h0.9M636.3 256.3h0.9M611.1 284.3h0.9M603.6 299.1h0.9M610.9 301.3h0.9M603.4 300.8h0.9M645.4 242.4h0.9M615.5 296.5h0.9M621 276.8h0.9M638.9 242h0.9M584.9 317.8h0.9M603.1 306.9h0.9M613 286h0.9M613.8 301.7h0.9M609.3 288.5h0.9M598.3 304.9h0.9M630.3 265.5h0.9M606.3 291.7h0.9M612.1 289.4h0.9M631.2 256.7h0.9M592.6 320.6h0.9M643.6 242h0.9M597 312.9h0.9M604.7 307.9h0.9M626.1 264.9h0.9M635.5 268.6h0.9M578.9 319.3h0.9M599.5 305.1h0.9M617.4 282.4h0.9M629.2 255.2h0.9M602.8 308.4h0.9M598.8 314.7h0.9M600.6 308.6h0.9M586.7 315.3h0.9M605.1 291.1h0.9M626.3 273.2h0.9M649.9 241.4h0.9M646.6 246.5h0.9M629.2 271.3h0.9M608.4 299.9h0.9M631.3 261.9h0.9M641.9 239.2h0.9M645.7 245.1h0.9M633.2 271.5h0.9M587.8 320.8h0.9M614.4 291.7h0.9M592.5 306.7h0.9M622.6 255.2h0.9M603.2 298.9h0.9M616.7 271.5h0.9M623.1 275.5h0.9M583.2 317.9h0.9M631.5 265.9h0.9M619.9 276.2h0.9M622.2 293.4h0.9M605.6 298.8h0.9M621.9 279.1h0.9M596.4 302.9h0.9M634.3 253h0.9M619.4 272.7h0.9M598.3 305.8h0.9M620.7 289.3h0.9M650.7 241.8h0.9M628.7 282.2h0.9M599.9 318.1h0.9M620.9 292h0.9M643.1 244.1h0.9M592.6 313.1h0.9M601.9 299.5h0.9M591.7 306h0.9M611.4 305.3h0.9M590.9 317.2h0.9M610.6 299.5h0.9M626.4 273.3h0.9M592.4 316.6h0.9M614.9 275h0.9M574.9 321.9h0.9M584.3 318.8h0.9M611.4 276.9h0.9M616 284h0.9M634.2 244.6h0.9M625.8 278.6h0.9M614 293.6h0.9M596.5 312.7h0.9M606.5 294.1h0.9M608.7 279.6h0.9M626.5 262.6h0.9M646.5 236.9h0.9M629.8 256.7h0.9M640.9 242.2h0.9M628 261.5h0.9M580.6 321.3h0.9M617.9 270.6h0.9M588.2 311.7h0.9M592.9 315.2h0.9M616.8 282.8h0.9M602 306.3h0.9M628.1 256.4h0.9M645.5 244.2h0.9M618.7 290.9h0.9M637.9 248h0.9M647.4 245.3h0.9M632.6 261.6h0.9M637.9 260.1h0.9M628.7 269.8h0.9M617.9 259.9h0.9M640.1 242.9h0.9M639.3 250.2h0.9M641.3 246.4h0.9M634.1 271.8h0.9M627.7 265.7h0.9M598.1 312h0.9M632.9 249.7h0.9M631.8 251.2h0.9M594.8 304.7h0.9M604.5 302.4h0.9M620.3 274.7h0.9M639.6 247.7h0.9M633.3 266.1h0.9M587.6 315.1h0.9M605.2 294.5h0.9M638.9 253.8h0.9M647 241h0.9M626.3 265.9h0.9M638.9 255.7h0.9M599.9 298.5h0.9M573.9 321.2h0.9M593.9 309.2h0.9M621.8 279.1h0.9M587.6 313.5h0.9M623.1 267.2h0.9M620.6 270.9h0.9M609.9 302.9h0.9M614.8 289h0.9M579.6 318.2h0.9M628.2 268.2h0.9M634.3 255.2h0.9M638.3 261.9h0.9M627.3 280.6h0.9M632.1 254.3h0.9M650.2 243.5h0.9M614.2 293.4h0.9M628.7 265.8h0.9M592.7 312.3h0.9M587 311.3h0.9M640.8 250.3h0.9M593.5 316.5h0.9M593.7 307.8h0.9M611.6 279.1h0.9M584.1 320.4h0.9M633.4 248.3h0.9M612.2 287.2h0.9M606.9 294.5h0.9M627.8 280h0.9M600.5 307.4h0.9M648.4 238.8h0.9M619.3 283.7h0.9M599.3 303.5h0.9M621 261.5h0.9M625 268.1h0.9M582.7 318.7h0.9M639.1 240h0.9M635.7 245.8h0.9M621.4 275.4h0.9M604.1 301.9h0.9M622 273.8h0.9M626.1 269.2h0.9M629.3 272h0.9M639.8 242.9h0.9M584.3 310.1h0.9M587.1 320h0.9M612.6 292.4h0.9M640.4 252h0.9M633.9 250.3h0.9M620.4 269.9h0.9M581.5 318.2h0.9M623.4 278h0.9M587.1 316.8h0.9M614.6 283.7h0.9M586.7 319.3h0.9M633.6 273.2h0.9M584.6 320.5h0.9M643.4 238.8h0.9M632.7 269.2h0.9M637.1 248.4h0.9M589.6 322.1h0.9M615.2 294.8h0.9M593.4 310.6h0.9M633.6 254.3h0.9M600.1 304.7h0.9M610.2 283.5h0.9M630 260.5h0.9M631.3 263.4h0.9M588.5 317.3h0.9M625.9 270.6h0.9M623.8 260.9h0.9M586.4 316.8h0.9M604.5 302h0.9M635.1 258.9h0.9M643.6 247h0.9M626.8 256h0.9M635.2 248.9h0.9M620 264.9h0.9M593.3 315.6h0.9M609.7 292h0.9M623.4 267.5h0.9M591.1 320.2h0.9M628.2 270.4h0.9M630.2 252h0.9M612.3 301.7h0.9M626.6 252.2h0.9M622.7 281.4h0.9M625.6 258.5h0.9M621.4 283.5h0.9M601.9 311.7h0.9M625.2 254.3h0.9M624.1 280.5h0.9M630.9 261.3h0.9M592.5 304.4h0.9M639.7 248.9h0.9M642.6 248.3h0.9M606.8 304.6h0.9M594.6 317.1h0.9M611 289.8h0.9M642.3 241.3h0.9M586.6 318.5h0.9M626.3 253.4h0.9M630 278.9h0.9M635.6 244.5h0.9M625.5 275.9h0.9M627.7 283.5h0.9M627 268.2h0.9M588.3 312.3h0.9M595.1 306.2h0.9M634.8 259.9h0.9M596 311.3h0.9M643.3 249.3h0.9M629.8 260.5h0.9M637.5 251.5h0.9M636.3 252.9h0.9M625.5 280.4h0.9M615.7 289.5h0.9M620.5 294.5h0.9M603.7 301h0.9M610.5 296.5h0.9M619.9 281.4h0.9M614.4 292.7h0.9M631.4 252.4h0.9M629.9 246.4h0.9M624.3 288.4h0.9M636.8 253.7h0.9M617.2 286.7h0.9M620.9 251.6h0.9M625.8 276h0.9M609.2 303.4h0.9M616.7 269.8h0.9M605 302.6h0.9M628.4 263.6h0.9M632.7 249.2h0.9M604.9 306.9h0.9M620.3 270.8h0.9M606.5 287.5h0.9M594 308.8h0.9M596.7 308.3h0.9M628.2 261.8h0.9M593.8 312.6h0.9M640.4 253h0.9M591.2 311.4h0.9M635.8 259.6h0.9M618.3 271.4h0.9M640.3 239.2h0.9M628.6 260.6h0.9M640.9 252.2h0.9M646.4 241h0.9M600.6 315.5h0.9M635.3 266.3h0.9M600.5 310.9h0.9M589.6 318.5h0.9M639 248.4h0.9M631.5 256.8h0.9M616.6 288.3h0.9M632.8 274.7h0.9M650.4 237.1h0.9M587 319.8h0.9M616.2 278.8h0.9M626.4 258.3h0.9M630.2 256.5h0.9M624.3 284.2h0.9M611 287.1h0.9M616.8 283.3h0.9M625.1 274.2h0.9M620.7 280.9h0.9M598.1 305.3h0.9M636.8 251.7h0.9M623.5 272.8h0.9M612.3 290.8h0.9M612.4 287.8h0.9M585.2 316.7h0.9M649.4 241.3h0.9M601.3 303.4h0.9M632.8 251.1h0.9M634.6 246.2h0.9M629.5 263.2h0.9M594.8 309.8h0.9M629 258.2h0.9M644.2 261.5h0.9M627.9 253.4h0.9M649.2 236.8h0.9M638.7 238.9h0.9M588.4 319.5h0.9M640.6 251.2h0.9M610.1 295.9h0.9M597 308.3h0.9M615.4 303.2h0.9M595.9 309.2h0.9M624.7 272h0.9M627.7 262.2h0.9M585.8 310h0.9M614.2 287.9h0.9M632 259.9h0.9M634.9 263.7h0.9M640.5 248.4h0.9M635.5 254.8h0.9M632.1 245.9h0.9M620.9 258.9h0.9M638.5 250.2h0.9M594.2 319.3h0.9M590.3 308.3h0.9M601 299.6h0.9M637.9 260.5h0.9M614.6 287.6h0.9M616.1 276.9h0.9M615.9 287h0.9M619.4 285h0.9M611.8 293.6h0.9M627.7 272.3h0.9M632.5 260.5h0.9M615.4 290.5h0.9M615.8 278.8h0.9M618.7 278.1h0.9M593.2 305h0.9M607.6 302.5h0.9M618.4 288.3h0.9M627.5 272.3h0.9M594.2 302h0.9M625.5 259.3h0.9M590.3 309.6h0.9M631.2 281.1h0.9M600.4 303.1h0.9M626 259.6h0.9M592.5 316.6h0.9M629.9 282.3h0.9M581.7 320.6h0.9M624.4 256.6h0.9M608 296h0.9M610 292.5h0.9M613.9 292.7h0.9M621.6 279.5h0.9M599.9 311.6h0.9M635.9 253.4h0.9M610.4 300h0.9M579 319.7h0.9M600.5 308.9h0.9M639.9 248.7h0.9M613 283.2h0.9M624.2 265.6h0.9M582.5 320.2h0.9M642.7 252.2h0.9M637.9 252.8h0.9M625.5 281.9h0.9M631.8 260.6h0.9M639.9 243.4h0.9M616.6 293.2h0.9M590.8 312.3h0.9M619.2 268.1h0.9M647.6 240.8h0.9M627.5 264.7h0.9M609.3 300.1h0.9M631.9 255.6h0.9M639.3 254.5h0.9M623.5 262.8h0.9M611.5 283.8h0.9M626.5 266.4h0.9M624.4 284.1h0.9M617 297h0.9M596 311.3h0.9M626.2 255.5h0.9M622.9 271.6h0.9M627.1 263.1h0.9M648.7 242h0.9M616.6 284h0.9M635.5 263.4h0.9M581.3 322.4h0.9M584.9 313.1h0.9M599.3 305.3h0.9M630.4 264.6h0.9M636.5 257.7h0.9M621.1 264.1h0.9M630.7 255.5h0.9M611.1 299.4h0.9M639.6 249h0.9M643.4 241.9h0.9M614.4 297.4h0.9M620.1 271.2h0.9M613.2 293.1h0.9M617 292.7h0.9M649.1 241.7h0.9M587.9 315h0.9M598.3 309.4h0.9M622.1 274.8h0.9M615.3 297.8h0.9M622.8 262.1h0.9M637.4 248.4h0.9M631.2 266.1h0.9M612.6 288.9h0.9M603.5 304.1h0.9M621.4 270.5h0.9M638.9 247.6h0.9M645.7 239.9h0.9M616 300.8h0.9M621.5 269.8h0.9M623.3 286.4h0.9M589.7 316.9h0.9M626.5 272.9h0.9M647.9 242.8h0.9M632.9 256.7h0.9M581.6 316.7h0.9M610.6 295.9h0.9M617.3 282.8h0.9M590.5 315.2h0.9M605.6 301.2h0.9M621.3 284.6h0.9M601.6 302.1h0.9M620.9 275.2h0.9M644.1 239.6h0.9M628.2 259.8h0.9M649.8 238.6h0.9M611.3 297.6h0.9M641.1 245.3h0.9M617.4 273.8h0.9M615.2 295.9h0.9M595.6 321.8h0.9M637.9 248.5h0.9M626.2 271.8h0.9M647.2 245.3h0.9M601.2 300.7h0.9M583.9 315h0.9M584.4 317.4h0.9M593.5 303.4h0.9M621.1 284.2h0.9M628.7 273h0.9M605.1 303.2h0.9M626.7 258.3h0.9M625.7 264.9h0.9M624.1 255.9h0.9M617.5 288.9h0.9M622.1 271.6h0.9M601.9 302.9h0.9M600.9 306.6h0.9M596.5 313.8h0.9M603.2 295.2h0.9M598.1 313.9h0.9M600.5 303.7h0.9M635.3 266h0.9M631.4 266.6h0.9M606.4 304.5h0.9M638.6 258h0.9M612.3 291.5h0.9M635.8 256.3h0.9M592.9 313.2h0.9M610.7 294.2h0.9M612.3 303.3h0.9M619.1 284.5h0.9M610.4 288.7h0.9M631.3 256.7h0.9M622.1 295.5h0.9M634.3 261.7h0.9M614.3 295.5h0.9M594.7 318.7h0.9M628.6 260.8h0.9M633.7 269.9h0.9M643 246.3h0.9M626.1 279h0.9M622.7 279.3h0.9M627 279.5h0.9M589.2 318.2h0.9M614.3 293.8h0.9M614.5 292.5h0.9M611.3 286.5h0.9M604 300.6h0.9M633.3 253.1h0.9M638.7 241.9h0.9M580 322.1h0.9M605.4 295.4h0.9M589.1 315.3h0.9M624 278.2h0.9M627 273.8h0.9M629.2 267.7h0.9M581.6 315.4h0.9M601.9 307.6h0.9M635.4 247.5h0.9M627.2 262.9h0.9M614 288.6h0.9M619.6 283.7h0.9M618.7 284.2h0.9M642.9 245.6h0.9M630.8 259.4h0.9M588 310.8h0.9M586.5 315.3h0.9M621 285.7h0.9M603 304.6h0.9M633.7 256.1h0.9M632 276.1h0.9M647.2 241.6h0.9M609.9 296.8h0.9M581.5 319.9h0.9M624.9 287.8h0.9M647.7 236.7h0.9M621.5 271.3h0.9M602.5 298.1h0.9M637.6 247.3h0.9M610.6 305.8h0.9M596 315.1h0.9M617.6 282.8h0.9M627.6 279h0.9M606.7 300.5h0.9M613.6 280.2h0.9M590.1 319.9h0.9M621.2 286.1h0.9M622.3 277.9h0.9M574.6 319.7h0.9M635.1 249.9h0.9M609 294.1h0.9M626.7 254.4h0.9M618.1 279.4h0.9M591.3 321.6h0.9M625.7 273.5h0.9M592.3 318.4h0.9M606.1 302.3h0.9M610.2 283.4h0.9M635.3 260.6h0.9M608.1 288.2h0.9M640.7 247.2h0.9M616.1 288.1h0.9M615.8 279.9h0.9M630.4 253.6h0.9M618.3 287.8h0.9M629.8 253.9h0.9M639 243.5h0.9M608.5 304.7h0.9M621 263.5h0.9M626.4 269.9h0.9M600.6 302.9h0.9M621.6 281.4h0.9M632.4 260.6h0.9M609.1 292.5h0.9M619.5 286.7h0.9M584 308.9h0.9M637.3 256.7h0.9M606.4 298.2h0.9M641.5 241h0.9M582.8 320.4h0.9M590.8 305.5h0.9M622.8 270.4h0.9M591.4 313.8h0.9M626.8 258.7h0.9M603.9 311.8h0.9M627.6 276.5h0.9M597.9 310.3h0.9M647.5 246.2h0.9M645.9 247h0.9M630.7 268.9h0.9M609.9 294.7h0.9M611.1 295h0.9M589.6 311.8h0.9M608.8 290.9h0.9M600 302.3h0.9M588.1 320.8h0.9M598.6 299.8h0.9M614.6 286.5h0.9M625.1 272.1h0.9M649 239.5h0.9M628.2 260h0.9M631.3 259.4h0.9M588.4 311.8h0.9M616.9 280.9h0.9M599.8 310.5h0.9M640.2 241.4h0.9M609.6 293.2h0.9M608 299.1h0.9M627 275.7h0.9M645.7 243.9h0.9M598.4 307.3h0.9M647.9 237.4h0.9M598.7 305.4h0.9M626.1 274.8h0.9M623.5 281.9h0.9M592.5 311.3h0.9M606.9 299.3h0.9M621.1 267.3h0.9M580.2 322.4h0.9M621.4 264.3h0.9M639.8 257h0.9M646.6 257.5h0.9M619.8 296.1h0.9M608.7 298.8h0.9M623.3 272.2h0.9M632.2 260.7h0.9M625.9 262.2h0.9M626.2 259.5h0.9M635.9 249.2h0.9M629.9 263.5h0.9M631.9 266.5h0.9M610.5 293.1h0.9M605.6 301.1h0.9M631.4 252.2h0.9M602.3 304h0.9M601.7 303.7h0.9M623.6 257.8h0.9M585 317.7h0.9M601.4 306.8h0.9M630.3 273.2h0.9M622.7 264.1h0.9M618.7 290.4h0.9M623.7 259.4h0.9M594.8 313.2h0.9M604.3 304.6h0.9M617.5 269.9h0.9M637 240.4h0.9M604.2 300.3h0.9M626.9 281.1h0.9M611 292.6h0.9M626.4 262.4h0.9M617.2 297.5h0.9M596.5 305.9h0.9M611.3 300h0.9M608.9 298.3h0.9M602.3 305.3h0.9M602 304.9h0.9M624.5 269.4h0.9M635.7 274.2h0.9M629 268.1h0.9M587.9 311.5h0.9M617.9 298.2h0.9M626 280.4h0.9M626.1 261.4h0.9M636.2 255.9h0.9M602.7 298.6h0.9M579.3 315.2h0.9M618.5 286.7h0.9M623.6 272.7h0.9M627.4 272.2h0.9M615.5 277.7h0.9M620.2 275.9h0.9M617.1 272.7h0.9M600.3 293.3h0.9M619.3 286.2h0.9M619 290.1h0.9M627.4 262.6h0.9M621.3 280.5h0.9M599.9 310.7h0.9M617 294.1h0.9M643.3 253.4h0.9M627.2 261.1h0.9M595.7 309.1h0.9M620.2 284.7h0.9M622.2 256.1h0.9M614.5 282.5h0.9M622 266.8h0.9M607.2 297.5h0.9M607.2 303.2h0.9M589.7 317.9h0.9M588 316.1h0.9M608.5 297.1h0.9M640.9 249.2h0.9M586.2 321.5h0.9M598.7 307.7h0.9M627.6 252.9h0.9M631.5 253.5h0.9M624.9 259h0.9M618.3 300.7h0.9M609.7 301.2h0.9M625.9 288.2h0.9M613.2 292.8h0.9M635.2 259.3h0.9M591.3 315.5h0.9M614.1 279.8h0.9M614.2 274.3h0.9M603.8 300.6h0.9M627.1 267.2h0.9M598.5 310.9h0.9M613.2 279h0.9M633.5 267.9h0.9M625.4 265.4h0.9M594.7 310.5h0.9M581.7 315.1h0.9M579.1 322.5h0.9M631.2 270.7h0.9M628 262.7h0.9M647.9 242.2h0.9M624 275h0.9M648.3 237.1h0.9M619.1 286.6h0.9M603.1 289.6h0.9M587.5 321.7h0.9M637.7 263h0.9M609.4 295.2h0.9M637.7 253.6h0.9M638.1 260.8h0.9M602.5 305.5h0.9M630.3 263.7h0.9M623.6 272.4h0.9M619.1 264.5h0.9M641.1 257.1h0.9M622.7 278.2h0.9M584.5 316.8h0.9M612 286.2h0.9M648 236.1h0.9M623.3 286.5h0.9M645.4 240.7h0.9M634.1 255.3h0.9M617.7 288h0.9M615.3 289.2h0.9M617.5 281.1h0.9M634.8 251.4h0.9M593.5 304.7h0.9M601.8 300.9h0.9M621.9 288.1h0.9M633.6 264.9h0.9M597.5 311.9h0.9M583.6 316.1h0.9M583.9 312.3h0.9M613.2 286h0.9M642.4 246.1h0.9M589.3 318h0.9M580.8 272.8h0.9M583.3 261.3h0.9M621.3 211h0.9M646.4 217.6h0.9M601.4 236.2h0.9M575.6 212.3h0.9M584 220.9h0.9M636.5 219h0.9M635.4 223.1h0.9M578.3 225.8h0.9M596.2 250.4h0.9M576.3 236.1h0.9M563.8 300.3h0.9M561.6 224.9h0.9M603 209.6h0.9M583.4 258h0.9M562.2 258.8h0.9M605.7 222.4h0.9M593.3 249h0.9M574.6 213.5h0.9M649 214.5h0.9M631.2 212.6h0.9M627.5 221.2h0.9M635 222.6h0.9M639.5 223.1h0.9M632.2 223.3h0.9M612.3 223.2h0.9M585 263h0.9M584.8 243h0.9M577.4 263.5h0.9M636.2 221.9h0.9M567.1 285.9h0.9M569.2 256.1h0.9M572.5 289.6h0.9M607.4 211.3h0.9M574.8 258.9h0.9M583.1 253.8h0.9M650.6 222.9h0.9M556.8 270.8h0.9M625.6 211.9h0.9M581.6 229.5h0.9M557 271.6h0.9M607.9 237.8h0.9M598.6 213.1h0.9M565 262.6h0.9M633.3 211.5h0.9M644.2 214.3h0.9M571.8 239.4h0.9M590 248h0.9M569.1 226.6h0.9M562.1 283.3h0.9M603.5 239.6h0.9M596.9 250.3h0.9M584.7 257.9h0.9M600.5 229.2h0.9M593.7 218.7h0.9M566.2 228.3h0.9M583.1 274.8h0.9M572.1 254.6h0.9M584.2 277.9h0.9M601.6 211.6h0.9M581.5 211.4h0.9M592.8 244h0.9M566 232.4h0.9M577.2 220.3h0.9M562.2 285.2h0.9M574.2 247h0.9M566.5 214.6h0.9M589.4 211.6h0.9M627.7 217.3h0.9M633.7 214.7h0.9M611.9 231.2h0.9M563.8 302.8h0.9M570.3 294.9h0.9M579.1 211h0.9M556.7 244.1h0.9M568.9 261.4h0.9M585.9 233.1h0.9M564.8 247.3h0.9M618.4 225.3h0.9M649.3 220.7h0.9M646 221.7h0.9M574.1 253.5h0.9M575.5 214.4h0.9M641.4 218.5h0.9M565 295.5h0.9M561.9 247.7h0.9M586 239.4h0.9M563 286.5h0.9M566.5 274h0.9M589.9 242.4h0.9M645.7 210.5h0.9M588.4 227h0.9M558.8 274.6h0.9M565 240.9h0.9M572.7 223.9h0.9M599.4 212.5h0.9M609.8 222.4h0.9M617.7 213h0.9M567.6 295.5h0.9M596.8 238.1h0.9M557.5 213.2h0.9M591 229h0.9M564.9 272.6h0.9M604.7 218.9h0.9M595.8 212.8h0.9M593.7 251.1h0.9M607.1 221.4h0.9M562 269h0.9M597.3 209.3h0.9M565.6 279h0.9M611.8 219.5h0.9M583.8 211.6h0.9M631.9 209.7h0.9M576.3 272.1h0.9M558 273.6h0.9M563.7 267.5h0.9M624.3 228.1h0.9M563.6 255.5h0.9M588.2 266.5h0.9M562.7 220.2h0.9M603.6 238.1h0.9M563.3 245.1h0.9M589.6 233.9h0.9M570.4 281.7h0.9M581.5 220.2h0.9M580.9 265.5h0.9M573.5 294.9h0.9M573.6 274.2h0.9M593.1 221.4h0.9M576.5 237.6h0.9M579.2 244.7h0.9M613.3 223.7h0.9M563.4 297.6h0.9M599.8 220.9h0.9M568.9 210.3h0.9M592.7 249h0.9M589.9 241.5h0.9M585 238.4h0.9M561.3 266.7h0.9M564.7 265.8h0.9M562.7 291.8h0.9M594.3 244.9h0.9M622.7 225.7h0.9M632.5 221.8h0.9M629.2 210.5h0.9M582.3 259.8h0.9M566.9 212.6h0.9M576.2 232.1h0.9M617.8 221h0.9M650.7 210.2h0.9M592.7 232.9h0.9M570.2 257.4h0.9M562.9 283h0.9M562.4 294.9h0.9M567.2 233.5h0.9M639.2 222.9h0.9M575.6 214.7h0.9M597.7 225.2h0.9M570.8 280.5h0.9M582.1 240.5h0.9M602.6 227.4h0.9M564.7 258.7h0.9M606.2 212.3h0.9M577.6 264.1h0.9M582 219.1h0.9M567.5 224.3h0.9M580.6 278.7h0.9M577.2 283.6h0.9M622.8 228.7h0.9M556.6 232.4h0.9M585.2 221.4h0.9M583.2 263.7h0.9M611.2 237.2h0.9M590.9 216.4h0.9M609.4 229.6h0.9M580.9 250.5h0.9M583.7 219.9h0.9M576.1 226.3h0.9M565.7 218.3h0.9M577.4 289.3h0.9M587.3 249.7h0.9M582.8 275.5h0.9M565.1 269.1h0.9M609.6 211.5h0.9M633.4 222.8h0.9M649.4 216.9h0.9M558.7 209.8h0.9M585.5 213.2h0.9M601.2 232.3h0.9M593.5 220.1h0.9M557.2 237.7h0.9M636.3 223.3h0.9M570.6 287.4h0.9M609.6 213.4h0.9M639.7 216.1h0.9M577.5 219.3h0.9M562.6 259.5h0.9M581.5 261.7h0.9M568.3 300.1h0.9M558.5 259.7h0.9M638.4 216.2h0.9M562.7 299.5h0.9M610 222.4h0.9M567.5 275.7h0.9M650 213.5h0.9M596.2 238.3h0.9M612.8 218.4h0.9M588.8 254.6h0.9M586.8 260.9h0.9M566.7 224.6h0.9M561.6 211.9h0.9M586.3 250.6h0.9M562.3 251.2h0.9M576 249.2h0.9M596.3 231.3h0.9M560.4 259.5h0.9M561.7 263.8h0.9M566 293.4h0.9M586.2 232.3h0.9M607.2 240.6h0.9M562.9 271.3h0.9M560.3 273.8h0.9M592.1 247h0.9M616.7 221.1h0.9M569.2 223.5h0.9M611.9 217.3h0.9M576.3 210.4h0.9M589.1 246.2h0.9M570.1 216.3h0.9M605.4 217.9h0.9M588.7 232.4h0.9M612.1 229.2h0.9M598.3 231.3h0.9M569.9 295h0.9M599.1 209.6h0.9M615.6 219.8h0.9M621.2 218.6h0.9M591.2 220.9h0.9M569.9 236.6h0.9M576.9 228.5h0.9M597.1 227.8h0.9M592 245.3h0.9M641.2 222.6h0.9M594.1 245.2h0.9M615.9 231.4h0.9M583.6 239.3h0.9M572 273.9h0.9M579.3 211.4h0.9M568.1 287.1h0.9M564 287.3h0.9M558.4 218.8h0.9M599.9 236h0.9M565.7 244.5h0.9M588.6 236.6h0.9M572.5 295.4h0.9M593.6 261.2h0.9M592.8 245.4h0.9M600 226.4h0.9M574 228.8h0.9M611.1 224.5h0.9M561.7 263.1h0.9M618.6 221.5h0.9M574.5 271.3h0.9M620.2 222.2h0.9M596.7 247.9h0.9M576 261.6h0.9M590.7 239.2h0.9M576.8 217.3h0.9M585.9 262.3h0.9M594.4 239.7h0.9M586.2 214.7h0.9M570.2 220.7h0.9M604.3 241.7h0.9M624.8 216.1h0.9M558.2 300.8h0.9M629.8 226.2h0.9M583.3 255h0.9M568 254h0.9M587.4 225.5h0.9M595.6 251.2h0.9M649.7 212.7h0.9M567.1 300.4h0.9M583.2 226.6h0.9M557.6 277.5h0.9M580.2 229.9h0.9M570.5 226.5h0.9M556.6 260.6h0.9M567.9 276.3h0.9M591.5 214.7h0.9M559.2 239.8h0.9M573.1 212.4h0.9M581.2 257.3h0.9M576.8 241h0.9M583.2 218.7h0.9M583.7 220h0.9M606.1 229.6h0.9M574.5 216.8h0.9M599.8 229.9h0.9M569.9 212.5h0.9M622.4 214.8h0.9M575.8 274.4h0.9M605.4 236h0.9M577.5 238.3h0.9M563.1 263.9h0.9M627.7 220.7h0.9M614 221.8h0.9M566.8 228.2h0.9M566.4 249.9h0.9M616.5 223h0.9M561.6 299h0.9M583.5 228.9h0.9M614.6 217.7h0.9M583.9 225.5h0.9M571.1 222.6h0.9M560.4 299.6h0.9M589.6 260.8h0.9M598.2 211.4h0.9M565.4 296.1h0.9M635.3 221.7h0.9M572 222.4h0.9M593.7 259.4h0.9M576.4 270.7h0.9M605.8 239.2h0.9M599.9 217.2h0.9M602.5 237h0.9M622.7 216.4h0.9M591.4 251.6h0.9M589.2 241.1h0.9M572.4 246.1h0.9M562.6 273h0.9M582.8 276h0.9M577 237.2h0.9M595.1 230.5h0.9M572.9 261.6h0.9M571.6 276.3h0.9M556.7 258.2h0.9M571.4 279h0.9M581.2 243.5h0.9M583.6 275.9h0.9M571.5 233.5h0.9M611.1 224.3h0.9M636.5 216.2h0.9M574.5 273h0.9M584 237.3h0.9M563.3 266.9h0.9M584.9 219.8h0.9M579.3 245.3h0.9M560 271.3h0.9M598 226.6h0.9M590 246.8h0.9M641.1 212.3h0.9M602.1 233h0.9M584.4 258.1h0.9M585.3 251.4h0.9M557 217.7h0.9M581.5 216h0.9M650.6 216.9h0.9M577 241.5h0.9M606.3 241.9h0.9M590.4 228.8h0.9M646.7 209.9h0.9M564.4 238.8h0.9M574.1 209.7h0.9M588.3 259.6h0.9M578.9 253h0.9M605 225.5h0.9M638 215.5h0.9M569.1 213.1h0.9M559.2 275.6h0.9M632 224.6h0.9M562.8 221.1h0.9M557.2 229.9h0.9M587.2 261h0.9M583 210.2h0.9M580.9 242.1h0.9M621.3 213.1h0.9M562.4 266.3h0.9M574.1 279.8h0.9M611 219.8h0.9M635 209.3h0.9M558.1 232.9h0.9M567.1 273.1h0.9M578.5 210.2h0.9M576.9 229.3h0.9M558 255.8h0.9M557 296.4h0.9M622.3 223.1h0.9M568.3 286.1h0.9M582.2 224.9h0.9M574.2 279.5h0.9M580.1 246h0.9M561 268.2h0.9M571.1 209h0.9M603.1 222.2h0.9M600.6 212h0.9M575.9 255.3h0.9M607.7 210.5h0.9M569.2 291.5h0.9M621 228.2h0.9M564.8 215.8h0.9M597.8 243.3h0.9M588.2 224.7h0.9M560.3 289.7h0.9M611.7 213.7h0.9M575 258.1h0.9M636.8 212.6h0.9M640.5 209.9h0.9M629.7 217h0.9M573.3 248.6h0.9M564.5 279.7h0.9M586.3 235.2h0.9M567 252.5h0.9M595.4 250.3h0.9M624.2 211.5h0.9M593.8 219.3h0.9M586.5 228.4h0.9M564.3 254.5h0.9M613.5 210.9h0.9M567.4 283.1h0.9M641.7 215.2h0.9M594.3 230.7h0.9M616.2 215h0.9M597.6 221.7h0.9M590.7 245.9h0.9M641.6 218.4h0.9M559.8 247.5h0.9M578.1 223.3h0.9M569.1 293.6h0.9M607.4 219.8h0.9M564.9 227.1h0.9M564.6 262.9h0.9M627.5 211.6h0.9M581.8 254.4h0.9M598.9 221.9h0.9M611.7 212.9h0.9M577.5 258.8h0.9M594.6 234.3h0.9M574.1 235.6h0.9M577.4 228h0.9M559.3 254.1h0.9M595.8 235.7h0.9M602.1 240.8h0.9M556.9 298.9h0.9M618.6 230.8h0.9M556 256h0.9M559.1 266.1h0.9M571.6 237.6h0.9M576.5 240.9h0.9M601.5 229.2h0.9M597.2 251.8h0.9M589.3 234.9h0.9M624.5 219.1h0.9M565.8 266.7h0.9M565.1 275.5h0.9M616.4 221.7h0.9M572.2 294.2h0.9M587.2 255.4h0.9M631.9 211.4h0.9M612.3 229.6h0.9M583.8 218.7h0.9M625.9 228.2h0.9M562.1 243.7h0.9M581.4 228.8h0.9M565 292.1h0.9M602.5 211.2h0.9M646.4 214.4h0.9M648.3 216.7h0.9M566 299.7h0.9M573.5 210.9h0.9M612.5 226.1h0.9M611.9 218.8h0.9M570.1 225.6h0.9M603 213.4h0.9M557 209.4h0.9M563.5 265.5h0.9M589.5 229.4h0.9M579.7 268.2h0.9M598.4 247.9h0.9M598.9 246.7h0.9M582.6 216.3h0.9M570.1 280.4h0.9M580.2 242.1h0.9M556.5 280.1h0.9M578.7 216.2h0.9M591.1 225.6h0.9M600.6 248.9h0.9M583.9 241.9h0.9M569 268.4h0.9M567.3 249.8h0.9M612.8 213.5h0.9M577.3 234.3h0.9M567.7 278.1h0.9M576.8 282.6h0.9M612.9 231.9h0.9M601.7 216.6h0.9M582.5 277.5h0.9M578.8 265.5h0.9M625.6 223.2h0.9M641.7 209.2h0.9M596.6 232.1h0.9M605 218h0.9M557.4 226.8h0.9M593.3 223.6h0.9M586.2 234.4h0.9M561.4 272.5h0.9M570.9 232.5h0.9M562.2 218.4h0.9M566.7 219.6h0.9M575.1 274.5h0.9M638.1 216.2h0.9M610.4 225.7h0.9M630.1 214.5h0.9M619.8 225h0.9M621.6 219.4h0.9M617.3 215.8h0.9M633.4 219.9h0.9M609.3 221.7h0.9M617.8 218.4h0.9M628.7 210.2h0.9M626.3 230.8h0.9M628.6 218.2h0.9M613.4 213.7h0.9M624.1 216.2h0.9M617.9 221.7h0.9M641.1 211.3h0.9M635.6 220.4h0.9M610.3 216.2h0.9M648.6 219.8h0.9M616.4 211.7h0.9M621.1 211h0.9M645.3 218.5h0.9M634.1 237.6h0.9M639.1 223.9h0.9M616.1 224.9h0.9M627.4 226.4h0.9M646.2 211.5h0.9M615.8 222.6h0.9M617.7 222.8h0.9M623.7 225.7h0.9M625.3 223.3h0.9M641 213.7h0.9M645.3 219h0.9M614.9 210.3h0.9M617.5 217.4h0.9M600.4 211.7h0.9M630.8 219.9h0.9M628.7 213.1h0.9M629 221.7h0.9M630 213.6h0.9M612.2 219.3h0.9M643.6 217.5h0.9M618.1 220.4h0.9M640.4 222.5h0.9M617.5 223.8h0.9M606.7 218.7h0.9M645 218.1h0.9M626 223.7h0.9M630.8 212.1h0.9M628.2 229.8h0.9M621.5 216h0.9M635.7 219.8h0.9M631.4 226.7h0.9M621.7 218.6h0.9M646.7 212.2h0.9M634.3 227.5h0.9M621.9 210.4h0.9M632.7 223.8h0.9M633.2 222.2h0.9M641 210h0.9M624.2 214.8h0.9M631.9 215.4h0.9M614.6 227.1h0.9M645.2 218h0.9M596.7 220.6h0.9M636.8 214.7h0.9M625 218.2h0.9M642.5 219.9h0.9M619.3 215.7h0.9M631 213.3h0.9M623 224.4h0.9M628.3 220.9h0.9M633.5 221.1h0.9M636.9 216.2h0.9M621 226.3h0.9M632.1 220.4h0.9M615.7 227.8h0.9M636.9 217.6h0.9M604.6 220h0.9M621.8 219.4h0.9M630.7 217.3h0.9M625.3 226.7h0.9M636 217.8h0.9M617.4 225.7h0.9M624.8 208.6h0.9M631 209.5h0.9M623.6 210.3h0.9M628.4 223.9h0.9M597 223.3h0.9M628.9 212.5h0.9M617.8 213h0.9M630 219h0.9M631.9 223.1h0.9M628.9 210.8h0.9M642 221.3h0.9M645.4 212h0.9M625 227.6h0.9M621.6 214.6h0.9M622 222.5h0.9M617.4 215.3h0.9M624.5 209.9h0.9M618.4 222.7h0.9M635.7 214.5h0.9M630.5 224h0.9M635 210.3h0.9M616.2 216h0.9M627.9 227.6h0.9M644.6 219.2h0.9M615.4 219.4h0.9M628.3 218.4h0.9M626.2 211.9h0.9M644.7 232.9h0.9M643.5 221.3h0.9M643.1 221.5h0.9M626 224.9h0.9M601.6 225h0.9M602.3 213.3h0.9M625.7 225h0.9M638.8 223.8h0.9M627.6 218.2h0.9M644.3 211.1h0.9M610.9 211.9h0.9M626.5 230.8h0.9M614.7 212.2h0.9M607 223.1h0.9M631.9 222.7h0.9M607.2 221.1h0.9M629.5 211.1h0.9M637.9 225.2h0.9M641.3 212.6h0.9M627 218.6h0.9M637.2 218.9h0.9M640.3 211.2h0.9M619.8 224.1h0.9M614.4 220.9h0.9M645.9 220h0.9M630.6 215.1h0.9M612.8 221.4h0.9M623.8 226.4h0.9M635.9 225.4h0.9M619.1 208.9h0.9M624.8 227.6h0.9M622.6 231.8h0.9M625.5 226h0.9M630.1 224.1h0.9M640.2 214.1h0.9M619.2 219.9h0.9M618.4 224h0.9M629.1 233.1h0.9M625.3 215.1h0.9M619.4 223.6h0.9M626.7 220.4h0.9M647 226.5h0.9M641.7 225h0.9M637.2 213.1h0.9M608.2 229.3h0.9M626.4 210.5h0.9M625.2 227.6h0.9M614.2 219.3h0.9M624.9 226h0.9M620.6 227.9h0.9M646.1 216.8h0.9M622.9 217.6h0.9M642.7 235.3h0.9M624.2 217.9h0.9M640.3 213.5h0.9M615.6 214.1h0.9M615.7 212.5h0.9M611.6 226.6h0.9M617.4 224.4h0.9M617.5 219.6h0.9M615.6 216.5h0.9M639.8 214.4h0.9M609 219.2h0.9M617 220h0.9M625.4 214.7h0.9M644.7 218.9h0.9M612 224.5h0.9M626.1 210.8h0.9M614 209.3h0.9M642.4 211.5h0.9M640.7 216.6h0.9M648.5 229.6h0.9M645.2 210.5h0.9M615.6 216.8h0.9M639.5 215h0.9M648.1 217.1h0.9M634.8 211.7h0.9M621.8 227.6h0.9M625.6 227h0.9M626.4 218.3h0.9M634.5 217.6h0.9M626.7 212.3h0.9M629.8 218.2h0.9M601 219.8h0.9M643.4 218h0.9M624.2 236.7h0.9M617 215.3h0.9M623.5 218h0.9M650.1 223.2h0.9M637.9 217.4h0.9M633.8 210.5h0.9M623.9 219.7h0.9M637.9 218.4h0.9M625.3 224.6h0.9M649.1 215.2h0.9M641.3 221.5h0.9M628.8 214.7h0.9M631.1 220.4h0.9M622.6 215.7h0.9M626.6 214.6h0.9M608.1 216.6h0.9M636.1 231.1h0.9M625.7 220h0.9M623.7 226.4h0.9M638.8 226.6h0.9M636.1 214.7h0.9M615.2 210.9h0.9M634.9 209.6h0.9M636.5 216h0.9M636.7 215.4h0.9M625.6 222.2h0.9M626.6 229.1h0.9M632.7 239h0.9M634 214h0.9M638.4 227.2h0.9M606.6 224.3h0.9M627.2 209.2h0.9M646.9 211h0.9M627.8 221.5h0.9M626.8 217.9h0.9M627.5 211.3h0.9M627.1 217.4h0.9M606.5 221.4h0.9M627.6 220.6h0.9M643.9 215.1h0.9M617 218.1h0.9M627.7 215.7h0.9M641.2 219.8h0.9M632.7 220.4h0.9M625 217.2h0.9M641.2 232.6h0.9M620.5 227.7h0.9M615.3 218.2h0.9M629.5 236.2h0.9M622.2 220.3h0.9M633.6 217.1h0.9M622.2 216.7h0.9M630 217.6h0.9M611.8 215h0.9M615.2 213.1h0.9M616.7 216.6h0.9M632.2 237.6h0.9M610.3 217.6h0.9M634.4 223.3h0.9M639.2 216.5h0.9M625.1 221.8h0.9M612.1 219.1h0.9M643.9 213.8h0.9M640.6 215.6h0.9M619.6 219.1h0.9M622.9 218.6h0.9M636 219.6h0.9M608.1 223.3h0.9M632 220.2h0.9M638.2 211.7h0.9M607.2 225.8h0.9M648.5 210.9h0.9M645.6 214h0.9M620.3 236h0.9M629.4 225.2h0.9M632.2 215.3h0.9M613.9 228h0.9M625 216.6h0.9M627.2 225.3h0.9M621.4 214.7h0.9M634.4 234.9h0.9M636.5 212.5h0.9M607.3 209.5h0.9M611.3 213.8h0.9M647.4 215h0.9M629.7 223.8h0.9M622.4 216h0.9M616.7 208.9h0.9M620.3 229.8h0.9M618.2 210.8h0.9M622.3 219.8h0.9M629.3 220.7h0.9M642.5 220.7h0.9M607.1 217.1h0.9M635 217.2h0.9M648.9 212.9h0.9M623 220.6h0.9M632.4 214.7h0.9M648.1 222h0.9M625.6 212.8h0.9M636.9 223.3h0.9M628.6 210.5h0.9M628.7 222.6h0.9M638.1 217.8h0.9M612 219.5h0.9M610.5 222.1h0.9M603.9 215.8h0.9M636.3 214.6h0.9M617.1 220.3h0.9M618.6 219.5h0.9M646.2 212.3h0.9M616 218h0.9M629.9 232.4h0.9M606.6 219.6h0.9M635.8 209.6h0.9M633.9 221.7h0.9M644.7 220.4h0.9M607.4 215.5h0.9M619.1 215.1h0.9M618.8 221h0.9M614.2 209.4h0.9M632.5 218h0.9M621.9 209.4h0.9M638.6 212.7h0.9M634.4 223.1h0.9M621.7 222.5h0.9M639.2 228.5h0.9M631.8 219.6h0.9M616.9 210.8h0.9M622.1 212.8h0.9M604.4 213.7h0.9M618.4 216.6h0.9M628 224.6h0.9M636.3 214.9h0.9M626.2 222.2h0.9M630.6 222.1h0.9M643.7 215.9h0.9M643.3 212.8h0.9M598.3 216.8h0.9M642 220.7h0.9M637 228.5h0.9M629.5 222.8h0.9M613.8 214.4h0.9M631.1 219.4h0.9M628.4 210.7h0.9M625.4 225.9h0.9M633.3 224.4h0.9M635.3 221.7h0.9M623.4 226.4h0.9M630.8 221.8h0.9M649.1 218h0.9M625 221.1h0.9M618.5 219.4h0.9M635.3 220.3h0.9M611.4 227.5h0.9M617.2 221.3h0.9M606 218.8h0.9M641.9 211.9h0.9M610.8 215.2h0.9M641.1 215.8h0.9M618.2 218.8h0.9M627.7 220.4h0.9M622.6 213.2h0.9M642.4 221.6h0.9M625.5 218.4h0.9M640.5 221.3h0.9" fill="none" stroke="#000" stroke-width="0.8" stroke-opacity="0.3"/>
<line x1="525.5" y1="209" x2="525.5" y2="322.7" stroke="#f07070" stroke-width="0.9"/>
<path d="M543 322.7 L543.71 321.94 L544.74 320.85 L545.89 319.63 L547 318.5 L548 317.49 L548.99 316.49 L550.03 315.5 L551.2 314.5 L552.51 313.49 L553.93 312.47 L555.44 311.47 L557 310.5 L558.71 309.54 L560.56 308.6 L562.35 307.71 L563.9 306.9 L565.14 306.22 L566.16 305.64 L567.08 305.09 L568 304.5 L568.88 303.94 L569.69 303.43 L570.53 302.77 L571.5 301.8 L572.64 300.43 L573.89 298.76 L575.2 296.92 L576.5 295 L577.79 293.01 L579.09 290.89 L580.4 288.7 L581.7 286.5 L582.98 284.28 L584.26 282.02 L585.53 279.75 L586.8 277.5 L588.07 275.3 L589.35 273.11 L590.62 270.92 L591.9 268.7 L593.18 266.41 L594.46 264.09 L595.73 261.77 L597 259.5 L598.26 257.24 L599.51 254.98 L600.75 252.83 L602 250.9 L603.25 249.24 L604.49 247.79 L605.74 246.47 L607 245.2 L608.29 243.99 L609.59 242.87 L610.9 241.81 L612.2 240.8 L613.48 239.83 L614.76 238.9 L616.03 238.03 L617.3 237.2 L618.57 236.43 L619.85 235.71 L621.12 235.04 L622.4 234.4 L623.67 233.79 L624.95 233.22 L626.23 232.69 L627.5 232.2 L628.78 231.75 L630.06 231.34 L631.33 230.96 L632.6 230.6 L633.85 230.26 L635.1 229.95 L636.35 229.66 L637.6 229.4 L638.89 229.16 L640.19 228.95 L641.48 228.76 L642.7 228.6 L643.84 228.47 L644.92 228.36 L645.96 228.28 L647 228.2 L648.11 228.13 L649.27 228.07 L650.29 228.03 L651 228" fill="none" stroke="#f22a2a" stroke-width="0.9" stroke-linejoin="round" stroke-linecap="round"/>
<path d="M483.6 289.1 L484.17 289.52 L484.99 290.11 L485.91 290.83 L486.8 291.6 L487.63 292.44 L488.46 293.38 L489.32 294.37 L490.2 295.4 L491.12 296.48 L492.07 297.61 L493.04 298.77 L494 299.9 L494.95 301.01 L495.9 302.12 L496.85 303.22 L497.8 304.3 L498.75 305.38 L499.7 306.46 L500.65 307.5 L501.6 308.5 L502.55 309.47 L503.51 310.42 L504.46 311.28 L505.4 312 L506.3 312.54 L507.19 312.94 L508.08 313.24 L509 313.5 L509.97 313.7 L510.98 313.84 L511.99 313.93 L513 314 L514.01 314.05 L515.02 314.06 L516.02 314.06 L517 314.1 L517.94 314.17 L518.86 314.26 L519.78 314.36 L520.7 314.5 L521.64 314.66 L522.59 314.85 L523.55 315.06 L524.5 315.3 L525.46 315.57 L526.44 315.87 L527.39 316.18 L528.3 316.5 L529.14 316.83 L529.94 317.17 L530.71 317.51 L531.5 317.8 L532.33 318.06 L533.17 318.29 L533.98 318.48 L534.7 318.6 L535.31 318.68 L535.84 318.73 L536.33 318.68 L536.8 318.5 L537.25 318.26 L537.67 317.96 L538.08 317.43 L538.5 316.5 L538.94 315.12 L539.38 313.39 L539.83 311.34 L540.3 309 L540.79 306.41 L541.29 303.55 L541.8 300.34 L542.3 296.7 L542.78 292.49 L543.26 287.79 L543.73 282.87 L544.2 278 L544.68 273.16 L545.15 268.23 L545.63 263.34 L546.1 258.6 L546.58 253.9 L547.05 249.21 L547.52 244.82 L548 241 L548.49 237.81 L548.98 235.1 L549.46 232.84 L549.9 231 L550.29 229.65 L550.64 228.79 L550.97 228.23 L551.3 227.8 L551.63 227.48 L551.95 227.35 L552.27 227.4 L552.6 227.6 L552.95 227.97 L553.31 228.52 L553.66 229.21 L554 230 L554.3 230.72 L554.57 231.45 L554.86 232.5 L555.2 234.2 L555.61 236.71 L556.06 239.82 L556.54 243.33 L557 247 L557.45 250.92 L557.89 255.17 L558.34 259.48 L558.8 263.6 L559.27 267.49 L559.74 271.27 L560.22 274.94 L560.7 278.5 L561.18 282 L561.65 285.43 L562.13 288.66 L562.6 291.6 L563.08 294.18 L563.55 296.47 L564.02 298.55 L564.5 300.5 L564.96 302.33 L565.41 304 L565.88 305.52 L566.4 306.9 L567 308.13 L567.66 309.21 L568.34 310.16 L569 311 L569.62 311.72 L570.23 312.32 L570.84 312.81 L571.5 313.2 L572.21 313.47 L572.94 313.62 L573.71 313.69 L574.5 313.7 L575.34 313.65 L576.22 313.53 L577.1 313.37 L577.9 313.2 L578.61 313.01 L579.26 312.79 L579.88 312.58 L580.5 312.4 L581.12 312.25 L581.73 312.11 L582.34 312.02 L583 312 L583.71 312.08 L584.45 312.24 L585.22 312.43 L586 312.6 L586.79 312.78 L587.61 312.99 L588.44 313.15 L589.3 313.2 L590.19 313.12 L591.11 312.94 L592.04 312.7 L593 312.4 L593.98 312.07 L594.98 311.68 L595.99 311.23 L597 310.7 L598.01 310.07 L599.02 309.36 L600.03 308.6 L601 307.8 L601.92 306.96 L602.81 306.08 L603.69 305.18 L604.6 304.3 L605.56 303.45 L606.54 302.62 L607.53 301.8 L608.5 301 L609.44 300.22 L610.36 299.46 L611.27 298.72 L612.2 298 L613.14 297.3 L614.09 296.61 L615.05 295.95 L616 295.3 L616.96 294.67 L617.94 294.06 L618.89 293.47 L619.8 292.9 L620.64 292.32 L621.44 291.75 L622.21 291.23 L623 290.8 L623.8 290.47 L624.59 290.22 L625.39 290.06 L626.2 290 L627.02 290.06 L627.86 290.22 L628.69 290.47 L629.5 290.8 L630.27 291.21 L631.01 291.69 L631.77 292.26 L632.6 292.9 L633.52 293.65 L634.51 294.49 L635.52 295.37 L636.5 296.2 L637.46 297 L638.42 297.8 L639.34 298.55 L640.2 299.2 L640.98 299.74 L641.69 300.19 L642.36 300.58 L643 300.9 L643.6 301.16 L644.16 301.34 L644.71 301.48 L645.3 301.6 L645.93 301.69 L646.59 301.74 L647.27 301.78 L648 301.8 L648.86 301.81 L649.82 301.81 L650.69 301.8 L651.3 301.8" fill="none" stroke="#ff7f0e" stroke-width="2.15" stroke-linejoin="round" stroke-linecap="round"/>
<path d="M57 496.42 L57.8 497.6 L58.6 496.13 L59.4 496.16 L60.2 495.98 L61 495.34 L61.8 494.75 L62.6 495.65 L63.4 495.32 L64.2 493.89 L65 496.12 L65.8 495.25 L66.6 494.2 L67.4 495.04 L68.2 494.24 L69 494.44 L69.8 494.93 L70.6 493.88 L71.4 495.01 L72.2 495.64 L73 495.81 L73.8 495.16 L74.6 496.07 L75.4 494.93 L76.2 495.97 L77 496.56 L77.8 495.85 L78.6 496.83 L79.4 498.11 L80.2 498.88 L81 498.12 L81.8 498.38 L82.6 497.59 L83.4 497.63 L84.2 497.67 L85 498.89 L85.8 499.14 L86.6 498.49 L87.4 498.3 L88.2 499.23 L89 499.37 L89.8 499.24 L90.6 500.13 L91.4 499.5 L92.2 499.62 L93 499.14 L93.8 499.9 L94.6 500.62 L95.4 499.93 L96.2 499.92 L97 500.06 L97.8 499.87 L98.6 499.88 L99.4 499.74 L100.2 499.64 L101 498.72 L101.8 499.2 L102.6 498.02 L103.4 498.89 L104.2 497.88 L105 498.36 L105.8 498.5 L106.6 497.86 L107.4 498.03 L108.2 497.02 L109 497.49 L109.8 498.53 L110.6 498 L111.4 499.75 L112.2 499.54 L113 500.55 L113.8 500.88 L114.6 501.76 L115.4 502.23 L116.2 501.49 L117 502.08 L117.8 503.17 L118.6 502.21 L119.4 502.03 L120.2 502.77 L121 502.49 L121.8 502.25 L122.6 501.63 L123.4 502.99 L124.2 502.09 L125 502.21 L125.8 501.41 L126.6 502.47 L127.4 501.94 L128.2 501.83 L129 500.97 L129.8 501.02 L130.6 500.99 L131.4 500.82 L132.2 500.22 L133 499.84 L133.8 499.53 L134.6 499.18 L135.4 498.93 L136.2 499.55 L137 499.1 L137.8 498.01 L138.6 498.9 L139.4 499.45 L140.2 498.59 L141 497.61 L141.8 498.45 L142.6 498.83 L143.4 498.37 L144.2 497.86 L145 498.91 L145.8 498.7 L146.6 497.29 L147.4 497.35 L148.2 496.57 L149 496.12 L149.8 495.71 L150.6 494.49 L151.4 493.15 L152.2 491.77 L153 490.67 L153.8 490.04 L154.6 489.55 L155.4 487.83 L156.2 486.33 L157 485 L157.8 483.33 L158.6 481.95 L159.4 479.22 L160.2 476.75 L161 475.4 L161.8 472.63 L162.6 471.66 L163.4 468.13 L164.2 465.48 L165 462.05 L165.8 460.08 L166.6 456.23 L167.4 453.21 L168.2 448.71 L169 443.57 L169.8 440.1 L170.6 434.26 L171.4 431.62 L172.2 429.35 L173 426.01 L173.8 422.83 L174.6 420.15 L175.4 417.16 L176.2 415.34 L177 414.59 L177.8 413.94 L178.6 410.33 L179.4 410.51 L180.2 409.35 L181 408.52 L181.8 406.63 L182.6 406.03 L183.4 405.53 L184.2 403.85 L185 401.86 L185.8 401.04 L186.6 401.46 L187.4 402.8 L188.2 403.71 L189 404.5 L189.8 403.68 L190.6 402.27 L191.4 403.25 L192.2 403.76 L193 405.61 L193.8 408.1 L194.6 409.92 L195.4 411.41 L196.2 411.92 L197 412.32 L197.8 413 L198.6 413.34 L199.4 414.34 L200.2 414.02 L201 414.4 L201.8 414.13 L202.6 414.99 L203.4 413.23 L204.2 414.78 L205 415.24 L205.8 414.43 L206.6 416.52 L207.4 415.58 L208.2 415.98 L209 415.98 L209.8 417.67 L210.6 418.07 L211.4 418.46 L212.2 419.82 L213 421.03 L213.8 422.29 L214.6 422.72 L215.4 423.03 L216.2 424.18 L217 424.12 L217.8 425.88 L218.6 427.59 L219.4 428.29 L220.2 428.75 L221 429.31 L221.8 430.98 L222.6 430.82 L223.4 431.67 L224.2 431.87 L225 431.77 L225.8 433.47 L226.6 432.43 L227.4 432.98 L228.2 433.94 L229 434.33 L229.8 434.99 L230.6 435.52 L231.4 436.96 L232.2 436.99 L233 437.69 L233.8 437.14 L234.6 438.04 L235.4 439.55 L236.2 438.7 L237 440.39 L237.8 439.52 L238.6 440.56 L239.4 440.22 L240.2 441.05 L241 440.7 L241.8 441.3 L242.6 442.59 L243.4 441.67 L244.2 443.18 L245 441.98 L245.8 441.74 L246.6 442.59 L247.4 442.47 L248.2 443.82 L249 443.49 L249.8 443.84 L250.6 443.71 L251.4 444.9 L252.2 444.15 L253 444.17 L253.8 443.59 L254.6 443.72 L255.4 444.48 L256.2 445.09 L257 445.31 L257.8 444.33 L258.6 445.29 L259.4 445.25 L260.2 444.67 L261 445.71 L261.8 444.33 L262.6 445.86 L263.4 447.22 L264.2 445.44 L265 446.15 L265.8 445.24 L266.6 446.01 L267.4 446.98 L268.2 446.12 L269 446.81 L269.8 446.77 L270.6 446.91 L271.4 447.42 L272.2 447.79 L273 448.42 L273.8 448.43 L274.6 447.87 L275.4 449.14 L276.2 449.2 L277 447.75 L277.8 448.98 L278.6 448.91 L279.4 448.44 L280.2 446.6 L281 442.18 L281.8 441.22 L282.6 440.36 L283.4 442.08 L284.2 443.65 L285 442.94 L285.8 443.04 L286.6 442.51 L287.4 442.73 L288.2 443.38 L289 444.83 L289.8 445.18 L290.6 446.18 L291.4 448.15 L292.2 447.88 L293 449.41 L293.8 451.09 L294.6 452.19 L295.4 452.39 L296.2 451.05 L297 450.64 L297.8 448.99 L298.6 448.08 L299.4 446.43 L300.2 446.38 L301 445.57 L301.8 444.16 L302.6 443.22 L303.4 441.59 L304.2 441.22 L305 437.48 L305.8 437.05 L306.6 435.8 L307.4 435.99 L308.2 436.12 L309 437.1 L309.8 438.7 L310.6 438.19 L311.4 439.38 L312.2 440.5 L313 440.59 L313.8 441.78 L314.6 441.71 L315.4 440.78 L316.2 439.66 L317 440.89 L317.8 439.62 L318.6 439 L319.4 438.27 L320.2 437.65 L321 437.51 L321.8 436.45 L322.6 435.55 L323.4 435.8 L324.2 435.06 L325 434.38 L325.8 434.34 L326.6 435.75 L327.4 435.91 L328.2 437.18 L329 436.3 L329.8 436.52 L330.6 437.35 L331.4 438.01 L332.2 437.66 L333 437.62 L333.8 438.47 L334.6 437.07 L335.4 436.86 L336.2 437.24 L337 437.61 L337.8 438.16 L338.6 438.69 L339.4 438.51 L340.2 439.25 L341 438.04 L341.8 439.59 L342.6 438.12 L343.4 439.21 L344.2 438.04 L345 438.72 L345.8 438.51 L346.6 438.7 L347.4 438.71 L348.2 437.94 L349 437.7 L349.8 437.66 L350.6 436.75 L351.4 437.06 L352.2 436.59 L353 437.53 L353.8 438.8 L353.8 510.28 L353 509.08 L352.2 509.86 L351.4 509.76 L350.6 509.68 L349.8 509.27 L349 510.2 L348.2 510.06 L347.4 510.12 L346.6 510.18 L345.8 510.06 L345 509.77 L344.2 509.97 L343.4 510.01 L342.6 509.91 L341.8 510.05 L341 510.48 L340.2 510.33 L339.4 510.14 L338.6 511.27 L337.8 511.08 L337 510.83 L336.2 511.18 L335.4 510.97 L334.6 511.64 L333.8 511.41 L333 511 L332.2 511.95 L331.4 512.01 L330.6 511.79 L329.8 512.78 L329 511.99 L328.2 512.51 L327.4 513.66 L326.6 512.89 L325.8 512.12 L325 513.21 L324.2 513.85 L323.4 514.15 L322.6 513.65 L321.8 514.26 L321 514.35 L320.2 514.69 L319.4 514.46 L318.6 514.39 L317.8 514.7 L317 514.87 L316.2 515.33 L315.4 514.58 L314.6 515.47 L313.8 515.4 L313 515.1 L312.2 515.38 L311.4 516.04 L310.6 515.78 L309.8 515.75 L309 516.15 L308.2 515.78 L307.4 515.7 L306.6 516.11 L305.8 516.13 L305 515.71 L304.2 516.38 L303.4 516.22 L302.6 516.35 L301.8 517.19 L301 516.8 L300.2 516.95 L299.4 517.1 L298.6 517.35 L297.8 517.43 L297 517.39 L296.2 517.07 L295.4 517.11 L294.6 517.25 L293.8 517.33 L293 517.77 L292.2 517.36 L291.4 518.17 L290.6 517.59 L289.8 518.16 L289 518.35 L288.2 518.39 L287.4 517.37 L286.6 518.31 L285.8 518.21 L285 518.16 L284.2 517.8 L283.4 519.08 L282.6 518.7 L281.8 519.32 L281 518.85 L280.2 519.25 L279.4 519.37 L278.6 519.41 L277.8 519.26 L277 518.95 L276.2 518.57 L275.4 518.07 L274.6 519.16 L273.8 518.23 L273 518.82 L272.2 518.98 L271.4 518.91 L270.6 518.57 L269.8 519.18 L269 518.67 L268.2 518.57 L267.4 518.66 L266.6 518.34 L265.8 518.85 L265 518.34 L264.2 518.81 L263.4 517.61 L262.6 518.29 L261.8 518.78 L261 518.35 L260.2 518.07 L259.4 517.83 L258.6 517.97 L257.8 517.43 L257 517.53 L256.2 517.45 L255.4 517.36 L254.6 517.94 L253.8 518.22 L253 517.75 L252.2 517.64 L251.4 518.33 L250.6 518.07 L249.8 516.88 L249 518.18 L248.2 517.84 L247.4 517.66 L246.6 517.36 L245.8 518.32 L245 518.35 L244.2 517.61 L243.4 517.75 L242.6 517.73 L241.8 517.87 L241 518.32 L240.2 517.2 L239.4 517.97 L238.6 518.28 L237.8 518.22 L237 517.52 L236.2 517.49 L235.4 517.87 L234.6 518.09 L233.8 517.97 L233 517.95 L232.2 517.88 L231.4 518.02 L230.6 517.91 L229.8 518.26 L229 517.52 L228.2 517.41 L227.4 517.3 L226.6 517.86 L225.8 517.5 L225 518.06 L224.2 517.61 L223.4 518.05 L222.6 518.25 L221.8 517.53 L221 517.31 L220.2 517.56 L219.4 517.34 L218.6 517.2 L217.8 517.24 L217 516.95 L216.2 517.84 L215.4 516.79 L214.6 517.08 L213.8 516.96 L213 516.81 L212.2 516.92 L211.4 517.14 L210.6 517.21 L209.8 516.38 L209 518.13 L208.2 517.21 L207.4 516.91 L206.6 516.6 L205.8 517.9 L205 517.53 L204.2 516.94 L203.4 517.88 L202.6 517.12 L201.8 517.63 L201 517.44 L200.2 516.87 L199.4 517.67 L198.6 517.92 L197.8 517.61 L197 517.3 L196.2 517.39 L195.4 517.36 L194.6 518.34 L193.8 518.59 L193 518.39 L192.2 518.12 L191.4 518.67 L190.6 518.77 L189.8 518.93 L189 519.33 L188.2 519.37 L187.4 520.01 L186.6 519.51 L185.8 520.04 L185 520.93 L184.2 521.77 L183.4 521.6 L182.6 522.11 L181.8 522.88 L181 523.38 L180.2 523.82 L179.4 524.64 L178.6 524.55 L177.8 525.17 L177 525.66 L176.2 526.04 L175.4 526.42 L174.6 527.26 L173.8 527.44 L173 528.26 L172.2 528.75 L171.4 528.71 L170.6 530.04 L169.8 530.28 L169 530.78 L168.2 531.07 L167.4 531.66 L166.6 531.91 L165.8 532.52 L165 533.07 L164.2 533.46 L163.4 533.47 L162.6 533.51 L161.8 533.6 L161 534.13 L160.2 535.15 L159.4 535.73 L158.6 534.52 L157.8 535 L157 535.68 L156.2 535.86 L155.4 535.69 L154.6 535.84 L153.8 535.59 L153 535.79 L152.2 536.2 L151.4 536.03 L150.6 536.94 L149.8 536.89 L149 536.83 L148.2 537.38 L147.4 536.57 L146.6 537.29 L145.8 537.51 L145 537.17 L144.2 537.65 L143.4 537.41 L142.6 537.75 L141.8 536.92 L141 537.97 L140.2 537.95 L139.4 537.44 L138.6 537.39 L137.8 537.71 L137 538.96 L136.2 537.92 L135.4 538.9 L134.6 539.25 L133.8 538.53 L133 538.5 L132.2 538.49 L131.4 538.09 L130.6 539.12 L129.8 538.44 L129 538.87 L128.2 538.49 L127.4 539.5 L126.6 538.98 L125.8 538.78 L125 539.15 L124.2 539.55 L123.4 539.36 L122.6 539.31 L121.8 539.44 L121 538.94 L120.2 540.02 L119.4 539.86 L118.6 539.86 L117.8 539.83 L117 539.18 L116.2 540.1 L115.4 539.14 L114.6 539.75 L113.8 539.57 L113 540.2 L112.2 539.5 L111.4 539.79 L110.6 539.44 L109.8 540.32 L109 539.57 L108.2 539.7 L107.4 540.13 L106.6 539.16 L105.8 539.84 L105 540.23 L104.2 539.75 L103.4 539.94 L102.6 539.74 L101.8 539.61 L101 539.33 L100.2 539.87 L99.4 539.38 L98.6 539.7 L97.8 539.22 L97 539.65 L96.2 540.46 L95.4 540.04 L94.6 539.35 L93.8 539.18 L93 539 L92.2 539.68 L91.4 539.19 L90.6 539.35 L89.8 539.22 L89 539.79 L88.2 539.69 L87.4 539.04 L86.6 539.4 L85.8 538.6 L85 539.67 L84.2 539.49 L83.4 539.1 L82.6 538.99 L81.8 538.99 L81 539.11 L80.2 539.6 L79.4 539.86 L78.6 539.44 L77.8 539.11 L77 539.27 L76.2 539.91 L75.4 539.21 L74.6 539.3 L73.8 539.28 L73 538.94 L72.2 539.36 L71.4 539.24 L70.6 538.91 L69.8 539.61 L69 538.45 L68.2 538.53 L67.4 538.54 L66.6 538.73 L65.8 538.38 L65 538.91 L64.2 539.1 L63.4 538.49 L62.6 538.46 L61.8 538.45 L61 538.23 L60.2 538.61 L59.4 539.1 L58.6 538.49 L57.8 538.42 L57 538.96Z" fill="#d2e3f0" stroke="none"/>
<line x1="131.65" y1="394.9" x2="131.65" y2="547.2" stroke="#c8c8c8" stroke-width="1.3"/>
<path d="M57 528 L57.8 528.5 L58.6 528.69 L59.4 528.82 L60.2 528 L61 528.04 L61.8 528.44 L62.6 528.52 L63.4 528.67 L64.2 528.24 L65 527.99 L65.8 527.76 L66.6 529.23 L67.4 527.94 L68.2 528.99 L69 528.94 L69.8 529.28 L70.6 529.48 L71.4 529.75 L72.2 529.19 L73 529.46 L73.8 528.47 L74.6 529.43 L75.4 529.06 L76.2 529.45 L77 530.13 L77.8 529.67 L78.6 530.15 L79.4 529.61 L80.2 529.92 L81 529.58 L81.8 528.65 L82.6 529.49 L83.4 529.68 L84.2 529.85 L85 529.75 L85.8 529.65 L86.6 530.09 L87.4 529.9 L88.2 529.42 L89 529.98 L89.8 528.71 L90.6 529.5 L91.4 529.61 L92.2 530.32 L93 529.56 L93.8 529.21 L94.6 530.03 L95.4 530.79 L96.2 530.01 L97 530.13 L97.8 530.16 L98.6 530.34 L99.4 530.95 L100.2 531.3 L101 530.67 L101.8 530.44 L102.6 531.35 L103.4 530.59 L104.2 530.6 L105 530.43 L105.8 530.46 L106.6 530.72 L107.4 530.48 L108.2 530.8 L109 530.65 L109.8 530.85 L110.6 530.41 L111.4 530.47 L112.2 530.65 L113 530.54 L113.8 530.51 L114.6 530.96 L115.4 529.9 L116.2 529.46 L117 530.61 L117.8 530.11 L118.6 530.77 L119.4 530.05 L120.2 529.48 L121 530.91 L121.8 530.01 L122.6 529.53 L123.4 529.29 L124.2 529.77 L125 529.1 L125.8 529.46 L126.6 529.67 L127.4 528.36 L128.2 528.67 L129 528.9 L129.8 529.3 L130.6 528.87 L131.4 528.17 L132.2 528.98 L133 528.13 L133.8 528.2 L134.6 528.44 L135.4 527.77 L136.2 529.64 L137 528.78 L137.8 528.31 L138.6 527.92 L139.4 527.6 L140.2 528.24 L141 528.32 L141.8 527.75 L142.6 527.76 L143.4 528.01 L144.2 527.63 L145 526.72 L145.8 527.72 L146.6 527.38 L147.4 527.41 L148.2 526.52 L149 525.66 L149.8 525.78 L150.6 526.15 L151.4 526.59 L152.2 526.29 L153 524.9 L153.8 523.58 L154.6 523.5 L155.4 523.2 L156.2 522.44 L157 521.43 L157.8 521.02 L158.6 518.96 L159.4 517.16 L160.2 516.38 L161 514.98 L161.8 515.4 L162.6 513.28 L163.4 511.71 L164.2 511.61 L165 510.77 L165.8 509.43 L166.6 508.78 L167.4 508.59 L168.2 507.76 L169 506.39 L169.8 505.73 L170.6 504.34 L171.4 502.52 L172.2 501.36 L173 499.88 L173.8 498.16 L174.6 496.77 L175.4 495.56 L176.2 493.45 L177 492.72 L177.8 491.28 L178.6 488.35 L179.4 487.95 L180.2 486.93 L181 487.73 L181.8 488.7 L182.6 488.92 L183.4 489.43 L184.2 489.1 L185 488.44 L185.8 487.08 L186.6 486.57 L187.4 486.81 L188.2 484.52 L189 485.96 L189.8 484.59 L190.6 485.13 L191.4 483.25 L192.2 484.07 L193 484.47 L193.8 483.94 L194.6 484.15 L195.4 483.18 L196.2 483.35 L197 483.63 L197.8 484.74 L198.6 485.36 L199.4 485.55 L200.2 485.86 L201 486.12 L201.8 486.47 L202.6 486.08 L203.4 486.5 L204.2 486.48 L205 486.36 L205.8 486.44 L206.6 487.49 L207.4 486.67 L208.2 487.24 L209 487.76 L209.8 487.54 L210.6 487.22 L211.4 487.65 L212.2 486.51 L213 486.56 L213.8 486.92 L214.6 487.01 L215.4 487.12 L216.2 488.13 L217 488.24 L217.8 487.72 L218.6 488.16 L219.4 487.98 L220.2 488.89 L221 488.52 L221.8 490.12 L222.6 489.6 L223.4 490.41 L224.2 489.91 L225 491.47 L225.8 491.47 L226.6 492.42 L227.4 491.89 L228.2 491.43 L229 492.08 L229.8 492.11 L230.6 493.59 L231.4 492.77 L232.2 492.87 L233 493.61 L233.8 493.59 L234.6 493.81 L235.4 493.46 L236.2 492.89 L237 493.27 L237.8 492.99 L238.6 494.64 L239.4 494.54 L240.2 494.02 L241 494.52 L241.8 494.58 L242.6 494.61 L243.4 494.6 L244.2 494.81 L245 494.51 L245.8 493.56 L246.6 493.41 L247.4 495.34 L248.2 495.17 L249 493.91 L249.8 495.27 L250.6 494.96 L251.4 495.26 L252.2 494.5 L253 496.17 L253.8 495.93 L254.6 496.47 L255.4 496.73 L256.2 496.95 L257 497.25 L257.8 496.77 L258.6 496.86 L259.4 496.61 L260.2 497.26 L261 497.05 L261.8 496.76 L262.6 497.96 L263.4 497.87 L264.2 496.47 L265 496.98 L265.8 497.86 L266.6 497.48 L267.4 498.78 L268.2 498.44 L269 498.75 L269.8 499.04 L270.6 499.35 L271.4 498.74 L272.2 499.28 L273 499.25 L273.8 499.63 L274.6 499.66 L275.4 500.19 L276.2 499.91 L277 499.58 L277.8 499.96 L278.6 499.49 L279.4 500.22 L280.2 500.79 L281 499.8 L281.8 499.21 L282.6 499.71 L283.4 499.24 L284.2 499.19 L285 498.74 L285.8 498.93 L286.6 498.35 L287.4 499.44 L288.2 498.6 L289 498.93 L289.8 499.06 L290.6 498.71 L291.4 499.09 L292.2 498.91 L293 498.95 L293.8 499.17 L294.6 499.59 L295.4 498.86 L296.2 499.09 L297 499.18 L297.8 499.33 L298.6 500.12 L299.4 499.57 L300.2 499.4 L301 499.53 L301.8 499.84 L302.6 498.88 L303.4 499.53 L304.2 497.84 L305 498.31 L305.8 499.18 L306.6 499.02 L307.4 498.2 L308.2 497.7 L309 498.05 L309.8 497.26 L310.6 497.91 L311.4 497.5 L312.2 497.05 L313 496.06 L313.8 496.6 L314.6 495.75 L315.4 495.45 L316.2 495.03 L317 494.81 L317.8 494.72 L318.6 494.5 L319.4 494.1 L320.2 494.86 L321 492.75 L321.8 492.98 L322.6 491.7 L323.4 491.44 L324.2 490.54 L325 491.18 L325.8 490.32 L326.6 489.83 L327.4 489.31 L328.2 489.39 L329 488.41 L329.8 488.49 L330.6 489.13 L331.4 487.66 L332.2 487.22 L333 486.9 L333.8 487.66 L334.6 487.33 L335.4 487 L336.2 487.03 L337 487.48 L337.8 487.06 L338.6 488.48 L339.4 487.45 L340.2 487.45 L341 487.47 L341.8 486.67 L342.6 486.8 L343.4 487.24 L344.2 487.31 L345 486.66 L345.8 487.84 L346.6 487.12 L347.4 487.32 L348.2 487.11 L349 486.34 L349.8 487.42 L350.6 486.26 L351.4 485.25 L352.2 484.94 L353 485.9 L353.8 486.2" fill="none" stroke="#1f77b4" stroke-width="1.95" stroke-linejoin="round" stroke-linecap="round"/>
<line x1="58.1" y1="529.7" x2="354.3" y2="529.7" stroke="#000" stroke-width="1.95" stroke-dasharray="1.93 3.2"/>
<rect x="243.6" y="399.9" width="106.2" height="29.4" fill="#fff" stroke="#d4d4d4" stroke-width="0.9" rx="2.2" fill-opacity="0.8"/>
<line x1="246.3" y1="406.8" x2="265.8" y2="406.8" stroke="#1f77b4" stroke-width="1.95"/>
<line x1="246.6" y1="420.4" x2="265.8" y2="420.4" stroke="#000" stroke-width="1.95" stroke-dasharray="1.93 3.2"/>
<text x="272.6" y="410.6" font-size="9.42" stroke="#222222" textLength="59.39" lengthAdjust="spacingAndGlyphs">Median PSTH</text>
<text x="272.6" y="423.8" font-size="9.42" stroke="#222222" textLength="73.78" lengthAdjust="spacingAndGlyphs">Median baseline</text>
<path d="M398.8 450.38 L399.6 451.23 L400.4 450.22 L401.2 450.67 L402 450.78 L402.8 449.91 L403.6 450.6 L404.4 450.66 L405.2 451.05 L406 451.15 L406.8 451.08 L407.6 450.24 L408.4 451.03 L409.2 451.25 L410 450.78 L410.8 451.19 L411.6 451.26 L412.4 451.54 L413.2 451.07 L414 451.38 L414.8 451.38 L415.6 451.47 L416.4 451.34 L417.2 451.73 L418 451.61 L418.8 452.36 L419.6 453.1 L420.4 453.36 L421.2 453.73 L422 453.62 L422.8 454.72 L423.6 454.17 L424.4 455.22 L425.2 455.55 L426 455.55 L426.8 456.23 L427.6 457.68 L428.4 458.08 L429.2 458.94 L430 461.07 L430.8 460.57 L431.6 461.14 L432.4 462.25 L433.2 462.37 L434 463.32 L434.8 464.26 L435.6 464.17 L436.4 464.97 L437.2 465.19 L438 465.57 L438.8 464.81 L439.6 466.72 L440.4 465.91 L441.2 466.36 L442 465.72 L442.8 465.74 L443.6 466.54 L444.4 466.48 L445.2 467.08 L446 466.41 L446.8 466.5 L447.6 467.28 L448.4 467.61 L449.2 467.88 L450 467.59 L450.8 467.94 L451.6 467.62 L452.4 468.91 L453.2 469.06 L454 469.29 L454.8 468.18 L455.6 469.66 L456.4 469.09 L457.2 469.95 L458 470.16 L458.8 470.8 L459.6 470.35 L460.4 470.52 L461.2 470.44 L462 470.59 L462.8 471.7 L463.6 471.17 L464.4 472.15 L465.2 471.81 L466 471.89 L466.8 472.83 L467.6 472.96 L468.4 472.23 L469.2 472.83 L470 473.08 L470.8 473.6 L471.6 473.1 L472.4 473.48 L473.2 473.89 L474 474.6 L474.8 475.06 L475.6 474.75 L476.4 476.33 L477.2 476.13 L478 476.01 L478.8 476.13 L479.6 477.16 L480.4 476.73 L481.2 478.53 L482 479.26 L482.8 480.18 L483.6 480.39 L484.4 479.91 L485.2 481.28 L486 482.46 L486.8 481.75 L487.6 483.17 L488.4 484.67 L489.2 485.2 L490 485.02 L490.8 486.79 L491.6 488.24 L492.4 490.53 L493.2 490.49 L494 491.31 L494.8 492.6 L495.6 492.67 L496.4 491.66 L497.2 489.51 L498 485.6 L498.8 482.54 L499.6 481.19 L500.4 479.14 L501.2 477.51 L502 475.15 L502.8 471.77 L503.6 469.61 L504.4 466.66 L505.2 463.03 L506 460.74 L506.8 457.59 L507.6 454.85 L508.4 451.86 L509.2 449.36 L510 447.23 L510.8 442.62 L511.6 438.61 L512.4 435.81 L513.2 432.5 L514 429.9 L514.8 426.59 L515.6 424.73 L516.4 420.27 L517.2 416.81 L518 411.68 L518.8 408.18 L519.6 406.59 L520.4 403.36 L521.2 403.5 L522 402.13 L522.8 403.22 L523.6 401.26 L524.4 401.31 L525.2 400.92 L526 399.73 L526.8 401.38 L527.6 399.65 L528.4 400.14 L529.2 398.58 L530 397.89 L530.8 398.32 L531.6 398.03 L532.4 399.94 L533.2 399.61 L534 401.24 L534.8 403.45 L535.6 405.63 L536.4 407.05 L537.2 407.44 L538 408.6 L538.8 409.98 L539.6 411.19 L540.4 411.33 L541.2 412.69 L542 412.17 L542.8 413.85 L543.6 415.11 L544.4 415.26 L545.2 415.45 L546 416.63 L546.8 415.91 L547.6 415.68 L548.4 416.53 L549.2 416.88 L550 416.85 L550.8 419.06 L551.6 420.87 L552.4 421.07 L553.2 422.09 L554 423.61 L554.8 425.37 L555.6 425.53 L556.4 426.48 L557.2 427.57 L558 428.98 L558.8 429.96 L559.6 430.73 L560.4 432.36 L561.2 433.81 L562 433.29 L562.8 434.97 L563.6 435.43 L564.4 437.63 L565.2 436.51 L566 437.58 L566.8 438.59 L567.6 438.59 L568.4 439.94 L569.2 441.14 L570 440.77 L570.8 442.24 L571.6 443.72 L572.4 443.14 L573.2 443.59 L574 443.34 L574.8 445.1 L575.6 444.85 L576.4 446.42 L577.2 447.42 L578 447.3 L578.8 447.02 L579.6 448.13 L580.4 447.93 L581.2 447.95 L582 448.61 L582.8 449.31 L583.6 449.34 L584.4 450.12 L585.2 451.26 L586 450.83 L586.8 451.23 L587.6 450.84 L588.4 452.15 L589.2 451.98 L590 452.62 L590.8 452.04 L591.6 452.85 L592.4 451.87 L593.2 453.19 L594 453.27 L594.8 453.52 L595.6 455.22 L596.4 453.92 L597.2 454.95 L598 455.29 L598.8 455.97 L599.6 456.55 L600.4 455.59 L601.2 456.47 L602 456.73 L602.8 457.77 L603.6 458.25 L604.4 457.94 L605.2 458.24 L606 458.39 L606.8 459.46 L607.6 460.49 L608.4 460.22 L609.2 460.04 L610 460.33 L610.8 460.73 L611.6 460.59 L612.4 462.58 L613.2 462.01 L614 462.03 L614.8 463.49 L615.6 462.61 L616.4 463.33 L617.2 462.78 L618 463.23 L618.8 462.74 L619.6 462.54 L620.4 462.97 L621.2 463.18 L622 463.43 L622.8 463.03 L623.6 462.85 L624.4 462.83 L625.2 463.21 L626 462.85 L626.8 462.98 L627.6 463.47 L628.4 463.56 L629.2 463.61 L630 463.1 L630.8 462.9 L631.6 463.95 L632.4 464.09 L633.2 464.09 L634 464.63 L634.8 465.18 L635.6 464.85 L636.4 465.36 L637.2 464.87 L638 465.45 L638.8 465.34 L639.6 465.2 L640.4 466.3 L641.2 464.8 L642 466.31 L642.8 466.83 L643.6 466.74 L644.4 465.85 L645.2 466.83 L646 465.89 L646.8 466.47 L647.6 467.76 L648.4 467.25 L649.2 467.87 L650 466.82 L650.8 466.37 L651.6 467.01 L652.4 467.95 L653.2 467.65 L654 467.57 L654.8 466.78 L655.6 466.61 L656.4 466.35 L657.2 467.7 L658 466.08 L658.8 466.69 L659.6 465.47 L660.4 465.99 L661.2 464.5 L662 464.52 L662.8 464.68 L663.6 463.94 L664.4 463.73 L665.2 463.57 L666 463.09 L666.8 463.85 L667.6 463.36 L668.4 461.81 L669.2 463.1 L670 461.95 L670.8 461.67 L671.6 461.33 L672.4 461.58 L673.2 461.23 L674 460.36 L674.8 460.41 L675.6 459.51 L676.4 460.9 L677.2 459.37 L678 459.2 L678.8 459.16 L679.6 459.46 L680.4 459.65 L681.2 458.97 L682 459.03 L682.8 458.7 L683.6 459.38 L684.4 458.71 L685.2 457.61 L686 459.06 L686.8 458.34 L687.6 458.99 L688.4 457.54 L689.2 457.41 L690 457.37 L690.8 456.52 L691.6 456.77 L692.4 457.3 L693.2 456.69 L694 454.79 L694.8 456.29 L695.6 455.46 L695.6 516.3 L694.8 516.11 L694 516.1 L693.2 515.68 L692.4 515.82 L691.6 515.95 L690.8 515.67 L690 516.54 L689.2 516.6 L688.4 515.61 L687.6 515.07 L686.8 515.61 L686 515.31 L685.2 517.07 L684.4 516.12 L683.6 516.31 L682.8 515.77 L682 515.06 L681.2 515.22 L680.4 515.71 L679.6 515.47 L678.8 515.44 L678 515.67 L677.2 515.32 L676.4 515.59 L675.6 515.8 L674.8 515.86 L674 515.83 L673.2 515.84 L672.4 515.41 L671.6 515.57 L670.8 515.26 L670 515.07 L669.2 515.26 L668.4 514.87 L667.6 515.22 L666.8 515.09 L666 515.49 L665.2 515.75 L664.4 515.97 L663.6 516.24 L662.8 516.13 L662 516.6 L661.2 515.98 L660.4 515.89 L659.6 515.97 L658.8 515.6 L658 515.53 L657.2 516.04 L656.4 515.83 L655.6 515.95 L654.8 515.87 L654 516.01 L653.2 516.02 L652.4 516.03 L651.6 516.26 L650.8 515.83 L650 515.99 L649.2 516.2 L648.4 516.42 L647.6 516.17 L646.8 515.77 L646 516.52 L645.2 516.44 L644.4 516.89 L643.6 516.03 L642.8 516.49 L642 516.77 L641.2 517.11 L640.4 516.76 L639.6 517.12 L638.8 517.28 L638 516.63 L637.2 516.55 L636.4 517.17 L635.6 517.2 L634.8 517.36 L634 516.82 L633.2 517.49 L632.4 517.33 L631.6 517.36 L630.8 516.73 L630 517.57 L629.2 517.83 L628.4 517.83 L627.6 517.56 L626.8 517.83 L626 517.9 L625.2 517.34 L624.4 517.83 L623.6 517.4 L622.8 517.86 L622 517.87 L621.2 517.45 L620.4 517.63 L619.6 517.45 L618.8 517.39 L618 517.51 L617.2 517 L616.4 517.15 L615.6 517.37 L614.8 517.33 L614 517.17 L613.2 516.99 L612.4 517.18 L611.6 516.69 L610.8 516.89 L610 516.64 L609.2 516.78 L608.4 516.68 L607.6 516.34 L606.8 516.77 L606 516.56 L605.2 516.03 L604.4 515.75 L603.6 515.53 L602.8 515.35 L602 515.75 L601.2 515.59 L600.4 515.59 L599.6 516.17 L598.8 515.05 L598 516.2 L597.2 515.48 L596.4 515.25 L595.6 515.79 L594.8 514.84 L594 514.7 L593.2 514.65 L592.4 514.71 L591.6 514.02 L590.8 514.77 L590 514.22 L589.2 514.8 L588.4 513.77 L587.6 514.22 L586.8 514.25 L586 514.2 L585.2 513.22 L584.4 513.98 L583.6 513.56 L582.8 513.72 L582 513.72 L581.2 513.59 L580.4 513.31 L579.6 513.42 L578.8 512.8 L578 512.84 L577.2 512.33 L576.4 513.29 L575.6 511.6 L574.8 511.98 L574 511.87 L573.2 511.69 L572.4 511.69 L571.6 511.38 L570.8 512.22 L570 511.08 L569.2 510.95 L568.4 511.37 L567.6 511.09 L566.8 510.08 L566 510.86 L565.2 510.4 L564.4 510.36 L563.6 510.21 L562.8 509.9 L562 509.94 L561.2 509.2 L560.4 510 L559.6 509.34 L558.8 509.09 L558 509.05 L557.2 509.09 L556.4 508.25 L555.6 507.86 L554.8 507.81 L554 507.29 L553.2 507.27 L552.4 507.4 L551.6 507.56 L550.8 506.84 L550 506.63 L549.2 506.56 L548.4 506.77 L547.6 506.41 L546.8 506.13 L546 505.8 L545.2 505.97 L544.4 506.03 L543.6 506.06 L542.8 505.5 L542 506.2 L541.2 504.85 L540.4 505.48 L539.6 505.19 L538.8 504.75 L538 505.86 L537.2 505.75 L536.4 505.34 L535.6 505.43 L534.8 505.51 L534 505.42 L533.2 505.74 L532.4 504.82 L531.6 505.55 L530.8 505.54 L530 505.49 L529.2 504.91 L528.4 505.72 L527.6 505.08 L526.8 504.66 L526 505.52 L525.2 505.08 L524.4 505.57 L523.6 505.87 L522.8 506.25 L522 506.06 L521.2 506.78 L520.4 507.67 L519.6 507.91 L518.8 508.13 L518 508.47 L517.2 509.28 L516.4 509.84 L515.6 509.94 L514.8 510.73 L514 510.88 L513.2 512.31 L512.4 512.05 L511.6 513.12 L510.8 515.15 L510 515.88 L509.2 516.57 L508.4 517.43 L507.6 518.6 L506.8 519.65 L506 520.91 L505.2 521.15 L504.4 522.25 L503.6 523.62 L502.8 524.21 L502 523.66 L501.2 524.6 L500.4 524.95 L499.6 524.72 L498.8 524.62 L498 525.95 L497.2 525.11 L496.4 525.45 L495.6 525.96 L494.8 526.3 L494 526.47 L493.2 526.7 L492.4 526.86 L491.6 527.14 L490.8 526.98 L490 527.23 L489.2 527.2 L488.4 526.12 L487.6 526.4 L486.8 525.5 L486 524.76 L485.2 524.9 L484.4 523.94 L483.6 523.16 L482.8 523.2 L482 523.43 L481.2 522.68 L480.4 522.51 L479.6 521.77 L478.8 521.62 L478 521.21 L477.2 521.15 L476.4 521.29 L475.6 520.3 L474.8 521.18 L474 520.66 L473.2 520.31 L472.4 519.62 L471.6 519.78 L470.8 519.61 L470 520.37 L469.2 520.17 L468.4 519.36 L467.6 519.42 L466.8 518.95 L466 519.52 L465.2 519.42 L464.4 519.09 L463.6 519.35 L462.8 519.59 L462 519.53 L461.2 518.84 L460.4 519.26 L459.6 518.36 L458.8 519.08 L458 518.62 L457.2 518.62 L456.4 518.52 L455.6 518.82 L454.8 518.08 L454 518.14 L453.2 518.08 L452.4 517.66 L451.6 517.74 L450.8 517.79 L450 516.87 L449.2 517.82 L448.4 518.19 L447.6 517.6 L446.8 517.63 L446 517.13 L445.2 517.21 L444.4 517.69 L443.6 517.46 L442.8 516.79 L442 516.52 L441.2 516.74 L440.4 516.29 L439.6 516.87 L438.8 516.56 L438 516.78 L437.2 516.55 L436.4 516.67 L435.6 515.41 L434.8 516.31 L434 516.26 L433.2 515.67 L432.4 515.34 L431.6 515.8 L430.8 515.62 L430 515.33 L429.2 515.86 L428.4 515.48 L427.6 515.56 L426.8 515.48 L426 515.31 L425.2 515.62 L424.4 515.5 L423.6 514.12 L422.8 514.49 L422 514.24 L421.2 514.63 L420.4 515.49 L419.6 515.15 L418.8 515.4 L418 514.43 L417.2 514.2 L416.4 514.4 L415.6 514.3 L414.8 514.36 L414 514.42 L413.2 514.32 L412.4 514.81 L411.6 513.7 L410.8 514.17 L410 514.31 L409.2 514.26 L408.4 513.65 L407.6 514.05 L406.8 513.91 L406 514.09 L405.2 514.05 L404.4 513.94 L403.6 514.18 L402.8 513.4 L402 513.73 L401.2 513.68 L400.4 513.68 L399.6 513.58 L398.8 513.8Z" fill="#ffe5cf" stroke="none"/>
<line x1="473.5" y1="394.9" x2="473.5" y2="547.2" stroke="#ee5a5a" stroke-width="1"/>
<path d="M398.8 493.8 L399.6 493.93 L400.4 494.15 L401.2 493.53 L402 493.43 L402.8 493.47 L403.6 493.6 L404.4 493.32 L405.2 492.89 L406 492.98 L406.8 493.39 L407.6 492.66 L408.4 493.41 L409.2 492.61 L410 493.52 L410.8 493.65 L411.6 493.49 L412.4 493.73 L413.2 493.82 L414 494.75 L414.8 494.08 L415.6 494.13 L416.4 494.74 L417.2 495.19 L418 495.05 L418.8 495.03 L419.6 495.67 L420.4 495.16 L421.2 495.35 L422 495.38 L422.8 496.59 L423.6 495.51 L424.4 496.17 L425.2 497.09 L426 497.48 L426.8 498.32 L427.6 498.11 L428.4 498.05 L429.2 499.13 L430 499.33 L430.8 499.68 L431.6 499.92 L432.4 499.94 L433.2 499.37 L434 499.7 L434.8 501.05 L435.6 500.42 L436.4 499.8 L437.2 500.66 L438 501.13 L438.8 501.02 L439.6 500.99 L440.4 500.19 L441.2 501.26 L442 501.31 L442.8 502.16 L443.6 501.63 L444.4 501.73 L445.2 501.71 L446 501.97 L446.8 502.26 L447.6 502.09 L448.4 502.08 L449.2 502.09 L450 502.78 L450.8 502.75 L451.6 502.93 L452.4 502.62 L453.2 503.08 L454 502.82 L454.8 504.12 L455.6 504.38 L456.4 504.24 L457.2 504.2 L458 504.59 L458.8 503.98 L459.6 504.21 L460.4 505.36 L461.2 504.64 L462 505.19 L462.8 505.11 L463.6 504.57 L464.4 505.43 L465.2 506.19 L466 506.54 L466.8 505.18 L467.6 505.7 L468.4 506.23 L469.2 506.97 L470 507.16 L470.8 507.41 L471.6 507.56 L472.4 506.85 L473.2 506.79 L474 507.74 L474.8 507.51 L475.6 507.89 L476.4 508.03 L477.2 508.32 L478 509.16 L478.8 508.72 L479.6 508.74 L480.4 509.49 L481.2 510.15 L482 510.34 L482.8 510.76 L483.6 510.38 L484.4 511.16 L485.2 512.27 L486 512.1 L486.8 512.23 L487.6 513.27 L488.4 512.92 L489.2 513.77 L490 513.88 L490.8 514.32 L491.6 514.94 L492.4 515.77 L493.2 515.68 L494 515.03 L494.8 514.99 L495.6 515.24 L496.4 515.13 L497.2 515.27 L498 514.8 L498.8 514.68 L499.6 513.73 L500.4 514.16 L501.2 514.13 L502 514.26 L502.8 513.44 L503.6 512.54 L504.4 511.23 L505.2 510.72 L506 509.56 L506.8 508.13 L507.6 506.74 L508.4 505.28 L509.2 503.58 L510 502.56 L510.8 499.53 L511.6 497.54 L512.4 496.55 L513.2 494.11 L514 492.66 L514.8 490.72 L515.6 488.18 L516.4 486.57 L517.2 484.59 L518 482.65 L518.8 481.33 L519.6 480.27 L520.4 479.01 L521.2 478.84 L522 478.28 L522.8 477.9 L523.6 477.38 L524.4 477.86 L525.2 476.84 L526 475.69 L526.8 476.04 L527.6 474.53 L528.4 475.64 L529.2 476.36 L530 477.31 L530.8 476.9 L531.6 475.81 L532.4 475.73 L533.2 474.23 L534 473.44 L534.8 471.92 L535.6 471.69 L536.4 470.79 L537.2 472.44 L538 472.53 L538.8 474.06 L539.6 475.01 L540.4 477.24 L541.2 478.15 L542 478.25 L542.8 479.48 L543.6 479.42 L544.4 478.97 L545.2 479.97 L546 479.82 L546.8 480.87 L547.6 481.3 L548.4 481.21 L549.2 482.26 L550 482.93 L550.8 482.87 L551.6 484.26 L552.4 484.85 L553.2 485.6 L554 487.14 L554.8 486.92 L555.6 487.8 L556.4 488.64 L557.2 489.55 L558 490.2 L558.8 489.99 L559.6 491.29 L560.4 491.77 L561.2 492.08 L562 491.55 L562.8 491.46 L563.6 491.39 L564.4 492.11 L565.2 492.09 L566 492.25 L566.8 492.17 L567.6 491.67 L568.4 492.56 L569.2 492.72 L570 492.75 L570.8 492.43 L571.6 492.97 L572.4 493.1 L573.2 492.78 L574 493.55 L574.8 493.32 L575.6 493.43 L576.4 493.56 L577.2 493.31 L578 493.37 L578.8 493.6 L579.6 493.65 L580.4 493.63 L581.2 493.1 L582 493.37 L582.8 493.41 L583.6 492.29 L584.4 492.6 L585.2 492.69 L586 492.68 L586.8 493.43 L587.6 493.29 L588.4 492.91 L589.2 493.11 L590 492.81 L590.8 493.2 L591.6 494.35 L592.4 493.36 L593.2 494.57 L594 494.33 L594.8 494.76 L595.6 495.07 L596.4 496.02 L597.2 495.54 L598 495.69 L598.8 495.95 L599.6 494.69 L600.4 496.34 L601.2 494.93 L602 495.32 L602.8 495.88 L603.6 495.1 L604.4 494.89 L605.2 496.05 L606 495.45 L606.8 495.93 L607.6 495.72 L608.4 495.41 L609.2 496.13 L610 495.31 L610.8 496.2 L611.6 495.01 L612.4 494.97 L613.2 495.12 L614 495.56 L614.8 495.14 L615.6 495.53 L616.4 496.65 L617.2 496.39 L618 496.98 L618.8 496.88 L619.6 496.71 L620.4 496.81 L621.2 497.33 L622 497.39 L622.8 497.24 L623.6 497.29 L624.4 498.16 L625.2 498.05 L626 497.8 L626.8 497.6 L627.6 497.61 L628.4 498.62 L629.2 497.63 L630 498.82 L630.8 497.67 L631.6 497.37 L632.4 498.8 L633.2 497.97 L634 498.66 L634.8 498.26 L635.6 498.03 L636.4 498.54 L637.2 498.09 L638 498.42 L638.8 498.23 L639.6 497.63 L640.4 498.53 L641.2 498.2 L642 498.4 L642.8 498.67 L643.6 497.98 L644.4 498.81 L645.2 498.88 L646 499.47 L646.8 499.1 L647.6 498.97 L648.4 498.65 L649.2 498.96 L650 498.47 L650.8 499.25 L651.6 499.06 L652.4 499.03 L653.2 499.2 L654 499.38 L654.8 499.28 L655.6 498.68 L656.4 499.63 L657.2 499.06 L658 499.11 L658.8 498.9 L659.6 498.44 L660.4 498.83 L661.2 498.48 L662 498.21 L662.8 498.51 L663.6 498.68 L664.4 498.53 L665.2 498.27 L666 497.84 L666.8 497.85 L667.6 497.81 L668.4 497.19 L669.2 497.97 L670 497.58 L670.8 496.94 L671.6 497.96 L672.4 498.08 L673.2 496.78 L674 497.28 L674.8 497.18 L675.6 498.13 L676.4 497.65 L677.2 498.64 L678 498.83 L678.8 499.36 L679.6 498.35 L680.4 498.89 L681.2 499.11 L682 499.48 L682.8 499 L683.6 499.08 L684.4 498.76 L685.2 498.02 L686 498.12 L686.8 497.8 L687.6 497.65 L688.4 497.24 L689.2 497.77 L690 497.46 L690.8 496.46 L691.6 497.39 L692.4 496.77 L693.2 496.3 L694 497.26 L694.8 496.66 L695.6 496.71" fill="none" stroke="#ff7f0e" stroke-width="1.95" stroke-linejoin="round" stroke-linecap="round"/>
<line x1="400" y1="499.06" x2="696.2" y2="499.06" stroke="#000" stroke-width="1.95" stroke-dasharray="1.93 3.2"/>
<rect x="585.4" y="399.7" width="106.2" height="29.4" fill="#fff" stroke="#d4d4d4" stroke-width="0.9" rx="2.2" fill-opacity="0.8"/>
<line x1="588.1" y1="406.6" x2="607.6" y2="406.6" stroke="#ff7f0e" stroke-width="1.95"/>
<line x1="588.4" y1="420.2" x2="607.6" y2="420.2" stroke="#000" stroke-width="1.95" stroke-dasharray="1.93 3.2"/>
<text x="614.4" y="410.4" font-size="9.42" stroke="#222222" textLength="59.39" lengthAdjust="spacingAndGlyphs">Median PSTH</text>
<text x="614.4" y="423.6" font-size="9.42" stroke="#222222" textLength="73.78" lengthAdjust="spacingAndGlyphs">Median baseline</text>
<line x1="59.8" y1="27.6" x2="414.4" y2="27.6" stroke="#000" stroke-width="1.05" stroke-linecap="square"/>
<line x1="59.8" y1="125.4" x2="414.4" y2="125.4" stroke="#000" stroke-width="1.05" stroke-linecap="square"/>
<line x1="59.8" y1="27.6" x2="59.8" y2="125.4" stroke="#000" stroke-width="1.05" stroke-linecap="square"/>
<line x1="414.4" y1="27.6" x2="414.4" y2="125.4" stroke="#000" stroke-width="1.05" stroke-linecap="square"/>
<line x1="102.72" y1="125.4" x2="102.72" y2="129.9" stroke="#000" stroke-width="0.95"/>
<text x="102.72" y="144.5" font-size="12.48" text-anchor="middle" stroke="#222222" textLength="7.63" lengthAdjust="spacingAndGlyphs">0</text>
<line x1="156.42" y1="125.4" x2="156.42" y2="129.9" stroke="#000" stroke-width="0.95"/>
<text x="156.42" y="144.5" font-size="12.48" text-anchor="middle" stroke="#222222" textLength="7.63" lengthAdjust="spacingAndGlyphs">1</text>
<line x1="210.12" y1="125.4" x2="210.12" y2="129.9" stroke="#000" stroke-width="0.95"/>
<text x="210.12" y="144.5" font-size="12.48" text-anchor="middle" stroke="#222222" textLength="7.63" lengthAdjust="spacingAndGlyphs">2</text>
<line x1="263.82" y1="125.4" x2="263.82" y2="129.9" stroke="#000" stroke-width="0.95"/>
<text x="263.82" y="144.5" font-size="12.48" text-anchor="middle" stroke="#222222" textLength="7.63" lengthAdjust="spacingAndGlyphs">3</text>
<line x1="317.52" y1="125.4" x2="317.52" y2="129.9" stroke="#000" stroke-width="0.95"/>
<text x="317.52" y="144.5" font-size="12.48" text-anchor="middle" stroke="#222222" textLength="7.63" lengthAdjust="spacingAndGlyphs">4</text>
<line x1="371.22" y1="125.4" x2="371.22" y2="129.9" stroke="#000" stroke-width="0.95"/>
<text x="371.22" y="144.5" font-size="12.48" text-anchor="middle" stroke="#222222" textLength="7.63" lengthAdjust="spacingAndGlyphs">5</text>
<line x1="55.3" y1="125.4" x2="59.8" y2="125.4" stroke="#000" stroke-width="0.95"/>
<text x="50.8" y="129.65" font-size="12.48" text-anchor="end" stroke="#222222" textLength="7.63" lengthAdjust="spacingAndGlyphs">0</text>
<line x1="55.3" y1="83.25" x2="59.8" y2="83.25" stroke="#000" stroke-width="0.95"/>
<text x="50.8" y="87.5" font-size="12.48" text-anchor="end" stroke="#222222" textLength="15.27" lengthAdjust="spacingAndGlyphs">10</text>
<line x1="55.3" y1="41.1" x2="59.8" y2="41.1" stroke="#000" stroke-width="0.95"/>
<text x="50.8" y="45.35" font-size="12.48" text-anchor="end" stroke="#222222" textLength="15.27" lengthAdjust="spacingAndGlyphs">20</text>
<text x="11.2" y="76.8" font-size="13.62" text-anchor="middle" stroke="#222222" textLength="66.64" lengthAdjust="spacingAndGlyphs" transform="rotate(-90 11.2 76.8)">Firing rate</text>
<text x="26.9" y="77" font-size="13.62" text-anchor="middle" stroke="#222222" textLength="44.19" lengthAdjust="spacingAndGlyphs" transform="rotate(-90 26.9 77)">(spk/s)</text>
<text x="241" y="15.2" font-size="16.05" text-anchor="middle" stroke="#222222" textLength="339.28" lengthAdjust="spacingAndGlyphs">Monkey 2, session 20140909-5-2, unit 1601</text>
<text x="3.4" y="15.4" font-size="19.14" stroke="#222222" font-weight="bold" style="stroke-width:0.55px" textLength="15.24" lengthAdjust="spacingAndGlyphs">A</text>
<line x1="59.8" y1="161.7" x2="414.4" y2="161.7" stroke="#000" stroke-width="1.05" stroke-linecap="square"/>
<line x1="59.8" y1="326.4" x2="414.4" y2="326.4" stroke="#000" stroke-width="1.05" stroke-linecap="square"/>
<line x1="59.8" y1="161.7" x2="59.8" y2="326.4" stroke="#000" stroke-width="1.05" stroke-linecap="square"/>
<line x1="414.4" y1="161.7" x2="414.4" y2="326.4" stroke="#000" stroke-width="1.05" stroke-linecap="square"/>
<line x1="102.15" y1="326.4" x2="102.15" y2="330.9" stroke="#000" stroke-width="0.95"/>
<text x="102.15" y="345.5" font-size="12.48" text-anchor="middle" stroke="#222222" textLength="7.63" lengthAdjust="spacingAndGlyphs">0</text>
<line x1="156.5" y1="326.4" x2="156.5" y2="330.9" stroke="#000" stroke-width="0.95"/>
<text x="156.5" y="345.5" font-size="12.48" text-anchor="middle" stroke="#222222" textLength="7.63" lengthAdjust="spacingAndGlyphs">1</text>
<line x1="210.85" y1="326.4" x2="210.85" y2="330.9" stroke="#000" stroke-width="0.95"/>
<text x="210.85" y="345.5" font-size="12.48" text-anchor="middle" stroke="#222222" textLength="7.63" lengthAdjust="spacingAndGlyphs">2</text>
<line x1="265.2" y1="326.4" x2="265.2" y2="330.9" stroke="#000" stroke-width="0.95"/>
<text x="265.2" y="345.5" font-size="12.48" text-anchor="middle" stroke="#222222" textLength="7.63" lengthAdjust="spacingAndGlyphs">3</text>
<line x1="319.55" y1="326.4" x2="319.55" y2="330.9" stroke="#000" stroke-width="0.95"/>
<text x="319.55" y="345.5" font-size="12.48" text-anchor="middle" stroke="#222222" textLength="7.63" lengthAdjust="spacingAndGlyphs">4</text>
<line x1="373.9" y1="326.4" x2="373.9" y2="330.9" stroke="#000" stroke-width="0.95"/>
<text x="373.9" y="345.5" font-size="12.48" text-anchor="middle" stroke="#222222" textLength="7.63" lengthAdjust="spacingAndGlyphs">5</text>
<line x1="55.3" y1="326.4" x2="59.8" y2="326.4" stroke="#000" stroke-width="0.95"/>
<text x="50.8" y="330.65" font-size="12.48" text-anchor="end" stroke="#222222" textLength="7.63" lengthAdjust="spacingAndGlyphs">0</text>
<line x1="55.3" y1="295.08" x2="59.8" y2="295.08" stroke="#000" stroke-width="0.95"/>
<text x="50.8" y="299.33" font-size="12.48" text-anchor="end" stroke="#222222" textLength="15.27" lengthAdjust="spacingAndGlyphs">50</text>
<line x1="55.3" y1="263.76" x2="59.8" y2="263.76" stroke="#000" stroke-width="0.95"/>
<text x="50.8" y="268.01" font-size="12.48" text-anchor="end" stroke="#222222" textLength="22.9" lengthAdjust="spacingAndGlyphs">100</text>
<line x1="55.3" y1="232.44" x2="59.8" y2="232.44" stroke="#000" stroke-width="0.95"/>
<text x="50.8" y="236.69" font-size="12.48" text-anchor="end" stroke="#222222" textLength="22.9" lengthAdjust="spacingAndGlyphs">150</text>
<line x1="55.3" y1="201.12" x2="59.8" y2="201.12" stroke="#000" stroke-width="0.95"/>
<text x="50.8" y="205.37" font-size="12.48" text-anchor="end" stroke="#222222" textLength="22.9" lengthAdjust="spacingAndGlyphs">200</text>
<line x1="55.3" y1="169.8" x2="59.8" y2="169.8" stroke="#000" stroke-width="0.95"/>
<text x="50.8" y="174.05" font-size="12.48" text-anchor="end" stroke="#222222" textLength="22.9" lengthAdjust="spacingAndGlyphs">250</text>
<text x="19.3" y="244.2" font-size="13.62" text-anchor="middle" stroke="#222222" textLength="82.06" lengthAdjust="spacingAndGlyphs" transform="rotate(-90 19.3 244.2)">Trial number</text>
<text x="237.1" y="364" font-size="13.62" text-anchor="middle" stroke="#222222" textLength="173.39" lengthAdjust="spacingAndGlyphs">Time from image onset (s)</text>
<line x1="483.3" y1="26.8" x2="651.5" y2="26.8" stroke="#000" stroke-width="1.05" stroke-linecap="square"/>
<line x1="483.3" y1="145.6" x2="651.5" y2="145.6" stroke="#000" stroke-width="1.05" stroke-linecap="square"/>
<line x1="483.3" y1="26.8" x2="483.3" y2="145.6" stroke="#000" stroke-width="1.05" stroke-linecap="square"/>
<line x1="651.5" y1="26.8" x2="651.5" y2="145.6" stroke="#1f77b4" stroke-width="1.05" stroke-linecap="square"/>
<line x1="483.3" y1="145.6" x2="483.3" y2="150.1" stroke="#000" stroke-width="0.95"/>
<text x="483.3" y="164.7" font-size="12.48" text-anchor="middle" stroke="#222222" textLength="32.96" lengthAdjust="spacingAndGlyphs">−100</text>
<line x1="525.35" y1="145.6" x2="525.35" y2="150.1" stroke="#000" stroke-width="0.95"/>
<text x="525.35" y="164.7" font-size="12.48" text-anchor="middle" stroke="#222222" textLength="7.63" lengthAdjust="spacingAndGlyphs">0</text>
<line x1="567.4" y1="145.6" x2="567.4" y2="150.1" stroke="#000" stroke-width="0.95"/>
<text x="567.4" y="164.7" font-size="12.48" text-anchor="middle" stroke="#222222" textLength="22.9" lengthAdjust="spacingAndGlyphs">100</text>
<line x1="609.45" y1="145.6" x2="609.45" y2="150.1" stroke="#000" stroke-width="0.95"/>
<text x="609.45" y="164.7" font-size="12.48" text-anchor="middle" stroke="#222222" textLength="22.9" lengthAdjust="spacingAndGlyphs">200</text>
<line x1="651.5" y1="145.6" x2="651.5" y2="150.1" stroke="#000" stroke-width="0.95"/>
<text x="651.5" y="164.7" font-size="12.48" text-anchor="middle" stroke="#222222" textLength="22.9" lengthAdjust="spacingAndGlyphs">300</text>
<line x1="478.8" y1="145.6" x2="483.3" y2="145.6" stroke="#000" stroke-width="0.95"/>
<text x="474.3" y="149.85" font-size="12.48" text-anchor="end" stroke="#222222" textLength="7.63" lengthAdjust="spacingAndGlyphs">0</text>
<line x1="478.8" y1="96.1" x2="483.3" y2="96.1" stroke="#000" stroke-width="0.95"/>
<text x="474.3" y="100.35" font-size="12.48" text-anchor="end" stroke="#222222" textLength="7.63" lengthAdjust="spacingAndGlyphs">2</text>
<line x1="478.8" y1="46.6" x2="483.3" y2="46.6" stroke="#000" stroke-width="0.95"/>
<text x="474.3" y="50.85" font-size="12.48" text-anchor="end" stroke="#222222" textLength="7.63" lengthAdjust="spacingAndGlyphs">4</text>
<line x1="651.5" y1="145.5" x2="656" y2="145.5" stroke="#1f77b4" stroke-width="0.95"/>
<text x="660.5" y="149.75" font-size="12.48" fill="#1f77b4" stroke="#1f77b4" textLength="7.63" lengthAdjust="spacingAndGlyphs">0</text>
<line x1="651.5" y1="87.5" x2="656" y2="87.5" stroke="#1f77b4" stroke-width="0.95"/>
<text x="660.5" y="91.75" font-size="12.48" fill="#1f77b4" stroke="#1f77b4" textLength="15.27" lengthAdjust="spacingAndGlyphs">10</text>
<line x1="651.5" y1="29.5" x2="656" y2="29.5" stroke="#1f77b4" stroke-width="0.95"/>
<text x="660.5" y="33.75" font-size="12.48" fill="#1f77b4" stroke="#1f77b4" textLength="15.27" lengthAdjust="spacingAndGlyphs">20</text>
<text x="455.2" y="90.3" font-size="13.62" text-anchor="middle" stroke="#222222" textLength="99.82" lengthAdjust="spacingAndGlyphs" transform="rotate(-90 455.2 90.3)">Trial No. (x100)</text>
<text x="693" y="92.6" font-size="13.62" text-anchor="middle" fill="#1f77b4" stroke="#1f77b4" textLength="78.39" lengthAdjust="spacingAndGlyphs" transform="rotate(-90 693 92.6)">Rate (spk/s)</text>
<text x="567.4" y="183.4" font-size="13.62" text-anchor="middle" stroke="#222222" textLength="150.85" lengthAdjust="spacingAndGlyphs">Time from img-on (ms)</text>
<text x="445.6" y="16.2" font-size="19.14" stroke="#222222" font-weight="bold" style="stroke-width:0.55px" textLength="15.01" lengthAdjust="spacingAndGlyphs">B</text>
<line x1="483.3" y1="203.7" x2="651.5" y2="203.7" stroke="#000" stroke-width="1.05" stroke-linecap="square"/>
<line x1="483.3" y1="322.7" x2="651.5" y2="322.7" stroke="#000" stroke-width="1.05" stroke-linecap="square"/>
<line x1="483.3" y1="203.7" x2="483.3" y2="322.7" stroke="#000" stroke-width="1.05" stroke-linecap="square"/>
<line x1="651.5" y1="203.7" x2="651.5" y2="322.7" stroke="#ff7f0e" stroke-width="1.05" stroke-linecap="square"/>
<line x1="483.3" y1="322.7" x2="483.3" y2="327.2" stroke="#000" stroke-width="0.95"/>
<text x="483.3" y="341.8" font-size="12.48" text-anchor="middle" stroke="#222222" textLength="32.96" lengthAdjust="spacingAndGlyphs">−100</text>
<line x1="525.35" y1="322.7" x2="525.35" y2="327.2" stroke="#000" stroke-width="0.95"/>
<text x="525.35" y="341.8" font-size="12.48" text-anchor="middle" stroke="#222222" textLength="7.63" lengthAdjust="spacingAndGlyphs">0</text>
<line x1="567.4" y1="322.7" x2="567.4" y2="327.2" stroke="#000" stroke-width="0.95"/>
<text x="567.4" y="341.8" font-size="12.48" text-anchor="middle" stroke="#222222" textLength="22.9" lengthAdjust="spacingAndGlyphs">100</text>
<line x1="609.45" y1="322.7" x2="609.45" y2="327.2" stroke="#000" stroke-width="0.95"/>
<text x="609.45" y="341.8" font-size="12.48" text-anchor="middle" stroke="#222222" textLength="22.9" lengthAdjust="spacingAndGlyphs">200</text>
<line x1="651.5" y1="322.7" x2="651.5" y2="327.2" stroke="#000" stroke-width="0.95"/>
<text x="651.5" y="341.8" font-size="12.48" text-anchor="middle" stroke="#222222" textLength="22.9" lengthAdjust="spacingAndGlyphs">300</text>
<line x1="478.8" y1="322.7" x2="483.3" y2="322.7" stroke="#000" stroke-width="0.95"/>
<text x="474.3" y="326.95" font-size="12.48" text-anchor="end" stroke="#222222" textLength="7.63" lengthAdjust="spacingAndGlyphs">0</text>
<line x1="478.8" y1="272.9" x2="483.3" y2="272.9" stroke="#000" stroke-width="0.95"/>
<text x="474.3" y="277.15" font-size="12.48" text-anchor="end" stroke="#222222" textLength="7.63" lengthAdjust="spacingAndGlyphs">2</text>
<line x1="478.8" y1="223.1" x2="483.3" y2="223.1" stroke="#000" stroke-width="0.95"/>
<text x="474.3" y="227.35" font-size="12.48" text-anchor="end" stroke="#222222" textLength="7.63" lengthAdjust="spacingAndGlyphs">4</text>
<line x1="651.5" y1="322.7" x2="656" y2="322.7" stroke="#ff7f0e" stroke-width="0.95"/>
<text x="660.5" y="326.95" font-size="12.48" fill="#ff7f0e" stroke="#ff7f0e" textLength="7.63" lengthAdjust="spacingAndGlyphs">0</text>
<line x1="651.5" y1="264.2" x2="656" y2="264.2" stroke="#ff7f0e" stroke-width="0.95"/>
<text x="660.5" y="268.45" font-size="12.48" fill="#ff7f0e" stroke="#ff7f0e" textLength="15.27" lengthAdjust="spacingAndGlyphs">10</text>
<line x1="651.5" y1="205.7" x2="656" y2="205.7" stroke="#ff7f0e" stroke-width="0.95"/>
<text x="660.5" y="209.95" font-size="12.48" fill="#ff7f0e" stroke="#ff7f0e" textLength="15.27" lengthAdjust="spacingAndGlyphs">20</text>
<text x="455.4" y="266.5" font-size="13.62" text-anchor="middle" stroke="#222222" textLength="103.53" lengthAdjust="spacingAndGlyphs" transform="rotate(-90 455.4 266.5)">Fix. No. (x1000)</text>
<text x="692.3" y="270" font-size="13.62" text-anchor="middle" fill="#ff7f0e" stroke="#ff7f0e" textLength="78.39" lengthAdjust="spacingAndGlyphs" transform="rotate(-90 692.3 270)">Rate (spk/s)</text>
<text x="567.2" y="361" font-size="13.62" text-anchor="middle" stroke="#222222" textLength="142.14" lengthAdjust="spacingAndGlyphs">Time from fix-on (ms)</text>
<line x1="56.9" y1="394.9" x2="354.3" y2="394.9" stroke="#000" stroke-width="1.05" stroke-linecap="square"/>
<line x1="56.9" y1="547.2" x2="354.3" y2="547.2" stroke="#000" stroke-width="1.05" stroke-linecap="square"/>
<line x1="56.9" y1="394.9" x2="56.9" y2="547.2" stroke="#000" stroke-width="1.05" stroke-linecap="square"/>
<line x1="354.3" y1="394.9" x2="354.3" y2="547.2" stroke="#000" stroke-width="1.05" stroke-linecap="square"/>
<line x1="398.8" y1="394.9" x2="696.2" y2="394.9" stroke="#000" stroke-width="1.05" stroke-linecap="square"/>
<line x1="398.8" y1="547.2" x2="696.2" y2="547.2" stroke="#000" stroke-width="1.05" stroke-linecap="square"/>
<line x1="398.8" y1="394.9" x2="398.8" y2="547.2" stroke="#000" stroke-width="1.05" stroke-linecap="square"/>
<line x1="696.2" y1="394.9" x2="696.2" y2="547.2" stroke="#000" stroke-width="1.05" stroke-linecap="square"/>
<line x1="56.9" y1="547.2" x2="56.9" y2="551.7" stroke="#000" stroke-width="0.95"/>
<text x="56.9" y="567.2" font-size="12.48" text-anchor="middle" stroke="#222222" textLength="32.96" lengthAdjust="spacingAndGlyphs">−100</text>
<line x1="131.25" y1="547.2" x2="131.25" y2="551.7" stroke="#000" stroke-width="0.95"/>
<text x="131.25" y="567.2" font-size="12.48" text-anchor="middle" stroke="#222222" textLength="7.63" lengthAdjust="spacingAndGlyphs">0</text>
<line x1="205.6" y1="547.2" x2="205.6" y2="551.7" stroke="#000" stroke-width="0.95"/>
<text x="205.6" y="567.2" font-size="12.48" text-anchor="middle" stroke="#222222" textLength="22.9" lengthAdjust="spacingAndGlyphs">100</text>
<line x1="279.95" y1="547.2" x2="279.95" y2="551.7" stroke="#000" stroke-width="0.95"/>
<text x="279.95" y="567.2" font-size="12.48" text-anchor="middle" stroke="#222222" textLength="22.9" lengthAdjust="spacingAndGlyphs">200</text>
<line x1="354.3" y1="547.2" x2="354.3" y2="551.7" stroke="#000" stroke-width="0.95"/>
<text x="354.3" y="567.2" font-size="12.48" text-anchor="middle" stroke="#222222" textLength="22.9" lengthAdjust="spacingAndGlyphs">300</text>
<line x1="398.9" y1="547.2" x2="398.9" y2="551.7" stroke="#000" stroke-width="0.95"/>
<text x="398.9" y="567.2" font-size="12.48" text-anchor="middle" stroke="#222222" textLength="32.96" lengthAdjust="spacingAndGlyphs">−100</text>
<line x1="473.2" y1="547.2" x2="473.2" y2="551.7" stroke="#000" stroke-width="0.95"/>
<text x="473.2" y="567.2" font-size="12.48" text-anchor="middle" stroke="#222222" textLength="7.63" lengthAdjust="spacingAndGlyphs">0</text>
<line x1="547.5" y1="547.2" x2="547.5" y2="551.7" stroke="#000" stroke-width="0.95"/>
<text x="547.5" y="567.2" font-size="12.48" text-anchor="middle" stroke="#222222" textLength="22.9" lengthAdjust="spacingAndGlyphs">100</text>
<line x1="621.8" y1="547.2" x2="621.8" y2="551.7" stroke="#000" stroke-width="0.95"/>
<text x="621.8" y="567.2" font-size="12.48" text-anchor="middle" stroke="#222222" textLength="22.9" lengthAdjust="spacingAndGlyphs">200</text>
<line x1="696.1" y1="547.2" x2="696.1" y2="551.7" stroke="#000" stroke-width="0.95"/>
<text x="696.1" y="567.2" font-size="12.48" text-anchor="middle" stroke="#222222" textLength="22.9" lengthAdjust="spacingAndGlyphs">300</text>
<line x1="52.4" y1="547.2" x2="56.9" y2="547.2" stroke="#000" stroke-width="0.95"/>
<text x="47.9" y="551.45" font-size="12.48" text-anchor="end" stroke="#222222" textLength="7.63" lengthAdjust="spacingAndGlyphs">0</text>
<line x1="52.4" y1="492.5" x2="56.9" y2="492.5" stroke="#000" stroke-width="0.95"/>
<text x="47.9" y="496.75" font-size="12.48" text-anchor="end" stroke="#222222" textLength="7.63" lengthAdjust="spacingAndGlyphs">5</text>
<line x1="52.4" y1="437.8" x2="56.9" y2="437.8" stroke="#000" stroke-width="0.95"/>
<text x="47.9" y="442.05" font-size="12.48" text-anchor="end" stroke="#222222" textLength="15.27" lengthAdjust="spacingAndGlyphs">10</text>
<line x1="394.3" y1="547.2" x2="398.8" y2="547.2" stroke="#000" stroke-width="0.95"/>
<line x1="394.3" y1="492.5" x2="398.8" y2="492.5" stroke="#000" stroke-width="0.95"/>
<line x1="394.3" y1="437.8" x2="398.8" y2="437.8" stroke="#000" stroke-width="0.95"/>
<text x="22.6" y="471.3" font-size="13.62" text-anchor="middle" stroke="#222222" textLength="114.99" lengthAdjust="spacingAndGlyphs" transform="rotate(-90 22.6 471.3)">Firing rate (spk/s)</text>
<text x="206" y="585" font-size="13.62" text-anchor="middle" stroke="#222222" textLength="186.15" lengthAdjust="spacingAndGlyphs">Time from image onset (ms)</text>
<text x="547.6" y="585" font-size="13.62" text-anchor="middle" stroke="#222222" textLength="194.47" lengthAdjust="spacingAndGlyphs">Time from fixation onset (ms)</text>
<text x="3.6" y="394.9" font-size="19.14" stroke="#222222" font-weight="bold" style="stroke-width:0.55px" textLength="14.45" lengthAdjust="spacingAndGlyphs">C</text>
</svg>
</body></html>
